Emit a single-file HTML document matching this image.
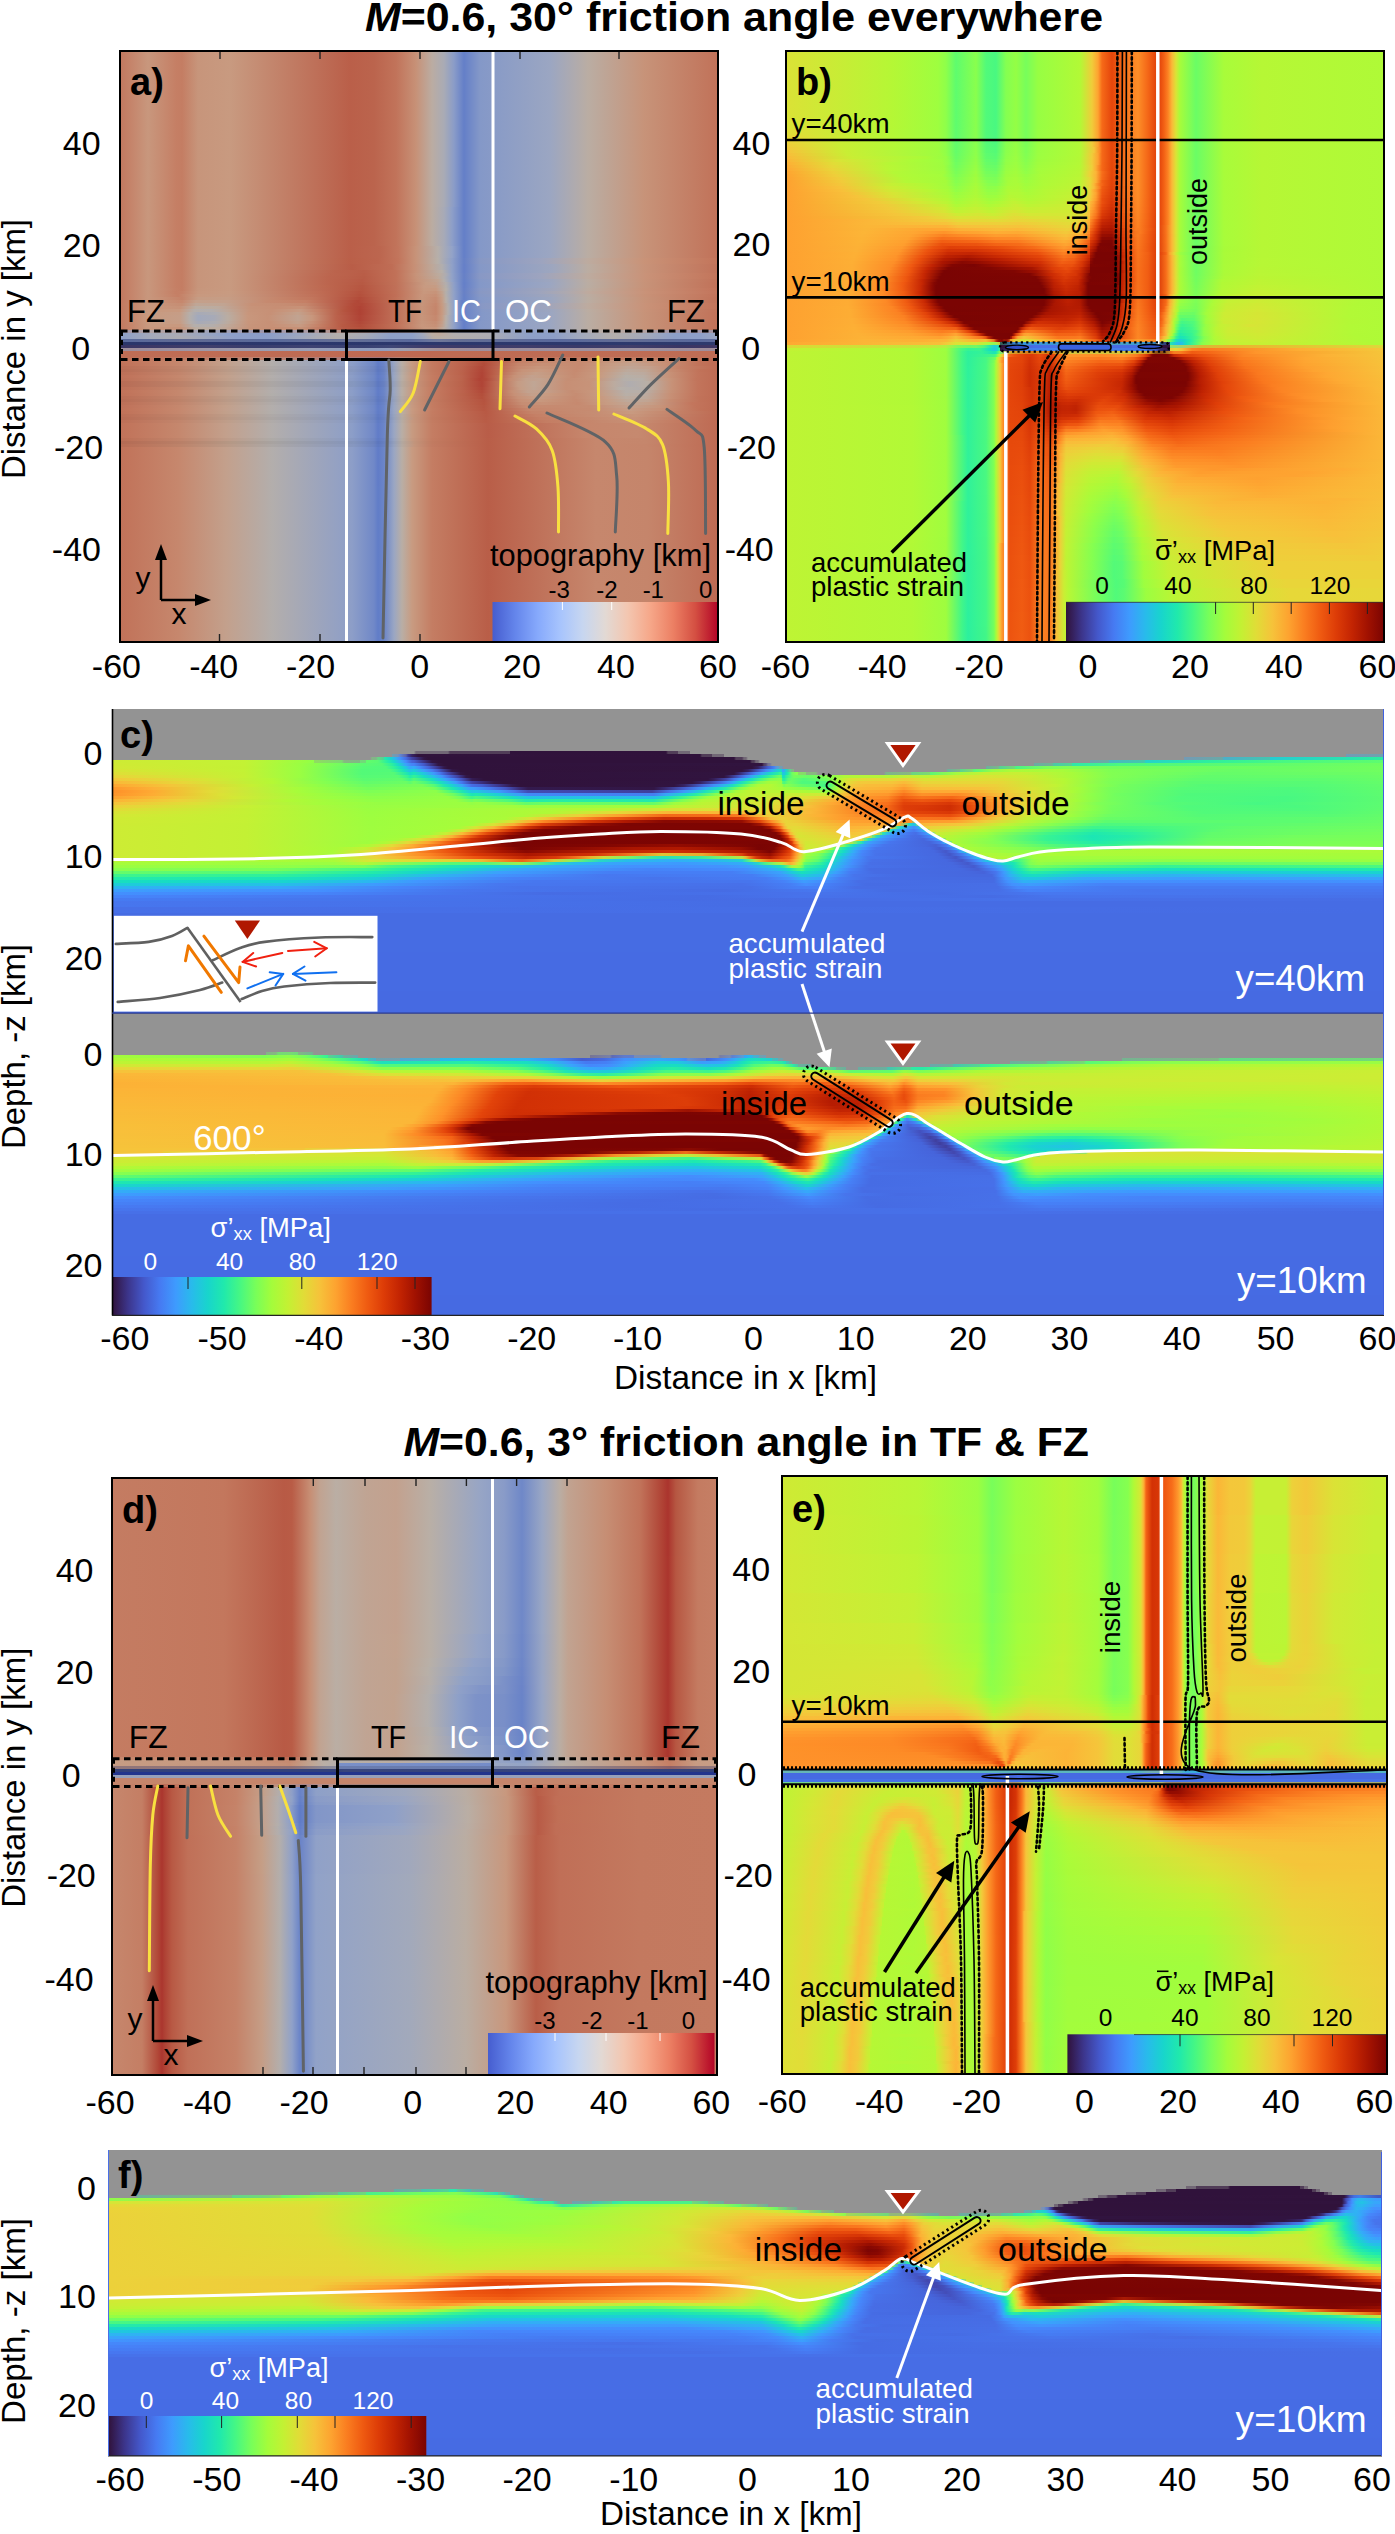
<!DOCTYPE html>
<html><head><meta charset="utf-8"><style>
html,body{margin:0;padding:0;background:#fff;}
#w{position:relative;width:1395px;height:2534px;overflow:hidden;background:#fff;font-family:"Liberation Sans",sans-serif;}
#w i{position:absolute;display:block;}
</style></head><body><div id="w">
<i style="left:112px;top:709px;width:1272px;height:39px;background:#939393"></i><i style="left:112px;top:748px;width:1272px;height:3px;background:#939393"></i><i style="left:112px;top:751px;width:1272px;height:3px;background:linear-gradient(90deg,#939393 0,#939393 302px,#726876 304px,#726876 336px,#513d58 338px,#513d58 398px,#30123b 398px,#30123b 554px,#513d58 556px,#513d58 566px,#726876 566px,#726876 578px,#939393 578px,#939393 1272px)"></i><i style="left:112px;top:754px;width:1272px;height:3px;background:linear-gradient(90deg,#939393 0,#939393 280px,#6fa1b0 280px,#7991b6 286px,#6086d5 288px,#5d62a8 294px,#3f3d9b 296px,#372362 300px,#31133c 306px,#30123b 588px,#513d58 590px,#513d58 600px,#726876 600px,#726876 612px,#939393 612px,#939393 1234px,#749ab5 1234px,#6ea3ae 1272px)"></i><i style="left:112px;top:757px;width:1272px;height:3px;background:linear-gradient(90deg,#939393 0,#939393 258px,#84b685 260px,#7fb689 264px,#67d782 266px,#50d298 272px,#26eda5 272px,#19d8c9 278px,#31b0f4 284px,#4292fd 288px,#466ce3 294px,#4042a3 300px,#3e3b97 302px,#321645 312px,#30123b 316px,#30123b 622px,#513d58 624px,#513d58 630px,#726876 632px,#726876 634px,#939393 636px,#939393 1072px,#739bb5 1072px,#6aa9a7 1110px,#4bb0c9 1112px,#44c5b0 1158px,#25cdd2 1158px,#2aeba5 1258px,#2deda0 1272px)"></i><i style="left:112px;top:760px;width:1272px;height:3px;background:linear-gradient(90deg,#ceeb34 0,#c3f234 132px,#99fe42 194px,#91ff47 202px,#91db61 202px,#7cda71 230px,#87b782 232px,#82b686 248px,#72d979 248px,#71d979 254px,#62fc6c 254px,#5afb72 266px,#26eda6 276px,#19d8c9 282px,#36a8f9 290px,#448bfb 294px,#4662d7 300px,#455fd3 302px,#3a2b75 314px,#321543 320px,#30123b 328px,#30123b 638px,#513d58 640px,#513d58 642px,#726876 644px,#726876 646px,#939393 648px,#939393 978px,#6fa1b0 978px,#6aaba3 996px,#48b7c2 998px,#45c8ab 1032px,#25d2cb 1034px,#2eee9e 1096px,#49f882 1172px,#5efc6f 1272px)"></i><i style="left:112px;top:763px;width:1272px;height:3px;background:linear-gradient(90deg,#d0ea34 0,#c3f234 132px,#99fe42 190px,#5bfb72 252px,#55fa76 270px,#2befa0 280px,#18dac7 286px,#3aa2fb 294px,#4683f7 300px,#4583f7 302px,#4458c9 312px,#321644 326px,#30123b 332px,#31143f 650px,#534060 652px,#564974 654px,#76738e 656px,#78789a 658px,#939393 660px,#939393 922px,#6aaba3 922px,#72b295 940px,#4ac9a8 942px,#56d294 960px,#2fe5ab 960px,#4af881 1008px,#66fd68 1198px,#6efe61 1272px)"></i><i style="left:112px;top:766px;width:1272px;height:3px;background:linear-gradient(90deg,#d2e935 0,#c3f134 132px,#9afe42 188px,#56fb76 250px,#51fa7a 274px,#30f19a 282px,#1ae2ba 288px,#22c5e1 294px,#39a4fb 298px,#34acf7 302px,#448bfb 308px,#4665db 316px,#3f3e9d 324px,#33194b 332px,#30123b 336px,#31133d 640px,#35205b 646px,#455ed0 656px,#4483f5 662px,#5d93da 664px,#56a0d7 666px,#719fb2 668px,#729db4 670px,#7893b7 670px,#939393 672px,#939393 874px,#6caf9d 874px,#7cb58b 886px,#56d195 888px,#72d879 902px,#4bf386 904px,#7afd5a 934px,#83fe52 956px,#74fe5d 1000px,#69fd65 1180px,#71fe5f 1272px)"></i><i style="left:112px;top:769px;width:1272px;height:3px;background:linear-gradient(90deg,#d7e535 0,#c3f234 132px,#9afe42 188px,#53fa78 250px,#52fa79 278px,#38f492 284px,#19e0be 292px,#24c2e5 298px,#1eccd9 302px,#3c9efc 312px,#467df3 320px,#455ed1 326px,#321644 340px,#30123b 348px,#31133c 630px,#351f59 636px,#4561d4 648px,#4486f6 654px,#33abf5 660px,#1bd9c7 668px,#1eced6 670px,#33acf6 670px,#37a6fa 672px,#1ad3d0 674px,#42c7ae 676px,#5bd58e 678px,#7eb589 680px,#8ab780 682px,#939393 682px,#939393 834px,#6db09b 836px,#81b688 848px,#5cd38f 848px,#7eda70 860px,#5af677 862px,#93fc48 880px,#acfa39 898px,#a9fb3a 950px,#80ff53 998px,#68fd67 1122px,#70fe60 1272px)"></i><i style="left:112px;top:772px;width:1272px;height:3px;background:linear-gradient(90deg,#dedf37 0,#c4f134 132px,#9afe42 188px,#53fa78 250px,#56fa76 282px,#1ce5b5 296px,#19dac6 298px,#1be4b7 302px,#22c6e0 312px,#3f99fd 322px,#4678ef 328px,#4248af 336px,#321645 348px,#30123b 354px,#31143f 622px,#36215f 626px,#4560d3 638px,#4485f6 644px,#34aaf6 650px,#1bd9c7 658px,#2beea0 666px,#3af491 668px,#25eba7 670px,#1dcdd8 670px,#23c3e3 672px,#18dbc4 674px,#24eba8 676px,#6efe62 680px,#88ff4e 684px,#8cff4b 686px,#8bdb65 686px,#84db6b 694px,#8ab780 694px,#89b781 704px,#939393 706px,#939393 772px,#7db58b 774px,#8bb77f 798px,#6ad682 800px,#80da6e 818px,#5bf676 818px,#a4fa3f 844px,#c5f034 872px,#c8ef34 908px,#a8fb3a 960px,#82ff52 998px,#65fd69 1104px,#6bfd64 1256px,#6dfe62 1272px)"></i><i style="left:112px;top:775px;width:1272px;height:3px;background:linear-gradient(90deg,#e8d639 0,#c5f134 132px,#9afe42 188px,#56fb76 250px,#59fb73 286px,#32f298 296px,#23ebaa 298px,#33f297 302px,#19dec0 312px,#29bbeb 322px,#4194fd 330px,#466fe6 336px,#4040a0 346px,#321747 354px,#30123b 360px,#31143f 612px,#36215d 616px,#455fd1 628px,#4484f5 634px,#34aaf5 640px,#1bd9c6 648px,#30f09c 656px,#69fd66 666px,#70fe60 668px,#53fa79 670px,#1ce4b6 670px,#19dac6 672px,#2cef9f 674px,#67fd67 680px,#74fe5d 682px,#67fd67 696px,#85ff50 716px,#b0f838 732px,#b7f439 754px,#b4f53a 778px,#c5ef36 796px,#bcf436 814px,#dae336 870px,#ccec34 918px,#a5fc3b 964px,#81ff53 1000px,#62fc6c 1094px,#64fd6a 1230px,#6afd65 1272px)"></i><i style="left:112px;top:778px;width:1272px;height:3px;background:linear-gradient(90deg,#f3c83a 0,#d8e436 92px,#b4f836 160px,#83ff51 210px,#5bfb72 252px,#61fc6c 290px,#3ef58b 298px,#55fa77 302px,#1be2b9 320px,#20c9dd 326px,#3ba1fb 334px,#467cf2 342px,#4352bf 350px,#341c53 360px,#30123b 372px,#31133e 596px,#351e58 602px,#4145a8 614px,#4676eb 622px,#3c9cfa 628px,#22c6de 634px,#1ee2b9 640px,#46f785 648px,#83fe52 658px,#92fe47 668px,#91ff47 668px,#7dfe56 670px,#38f392 670px,#23eba9 672px,#5afb72 676px,#69fd66 680px,#51fa7a 692px,#6efd62 714px,#b8f735 728px,#dce136 738px,#e5d938 758px,#e6d838 780px,#edd03a 794px,#dbe236 812px,#e1dd37 888px,#b5f835 952px,#7fff54 998px,#5ffc6e 1084px,#5dfc70 1208px,#67fd67 1272px)"></i><i style="left:112px;top:781px;width:1272px;height:3px;background:linear-gradient(90deg,#fab838 0,#e7d739 72px,#b5f835 160px,#82ff52 216px,#62fc6c 254px,#6bfd64 294px,#5dfc70 298px,#70fe60 302px,#4cf87f 314px,#1ae1bc 328px,#24c2e4 336px,#3e9afd 344px,#4675ec 350px,#4042a4 360px,#3a2e7b 370px,#321746 382px,#30123b 392px,#31143f 580px,#36215f 588px,#4560d3 606px,#428df9 616px,#2eb3f0 622px,#1cd9c7 628px,#2dee9f 634px,#82fe53 646px,#a4fc3c 656px,#a4fc3c 664px,#94fe46 670px,#63fc6a 670px,#47f784 672px,#6cfd63 676px,#6ffe61 678px,#4ff97c 690px,#4ff97c 714px,#72fe5e 720px,#aafb39 726px,#dee037 734px,#f2ca3a 746px,#f4c63a 780px,#f9bb39 792px,#e8d639 812px,#e6d838 890px,#b6f735 952px,#7dff56 998px,#5bfb71 1078px,#57fb74 1196px,#64fd6a 1272px)"></i><i style="left:112px;top:784px;width:1272px;height:3px;background:linear-gradient(90deg,#fea732 0,#f5c43a 56px,#c5f034 140px,#96fe44 200px,#6bfd64 254px,#77fe5a 300px,#7afe58 310px,#57fb75 322px,#20e8af 332px,#1bd2d1 340px,#38a4fa 350px,#467ff4 356px,#466de4 360px,#455ed1 370px,#3c3284 388px,#331848 400px,#30123b 408px,#311440 562px,#372361 572px,#466adf 592px,#418ef9 602px,#2cb6ed 612px,#1cdcc2 620px,#31f09a 626px,#89fe4e 638px,#aefa38 646px,#b5f835 658px,#9efd3f 670px,#76fe5b 672px,#87ff4f 674px,#63fc6b 690px,#56fb75 704px,#41f689 714px,#51fa7a 718px,#a5fc3b 726px,#d8e436 732px,#f2c93a 740px,#f9bd39 754px,#f9bb39 780px,#fdab34 792px,#f1ca3a 810px,#eecf3a 882px,#c1f334 944px,#91ff47 980px,#73fe5d 1010px,#54fa77 1092px,#56fb76 1210px,#62fc6c 1272px)"></i><i style="left:112px;top:787px;width:1272px;height:3px;background:linear-gradient(90deg,#fe972c 0,#fcb136 42px,#dae336 112px,#a4fd3c 188px,#74fe5d 256px,#85ff50 316px,#70fe60 324px,#20e8ae 340px,#1dcfd5 348px,#3ba0fb 358px,#3d9cfc 362px,#467af0 378px,#4455c3 394px,#392970 408px,#331a4e 416px,#321645 542px,#392b74 554px,#4562d5 574px,#428bf8 586px,#30b0f1 594px,#1cdbc4 606px,#2aeda3 614px,#87fe4f 628px,#b1f937 638px,#bdf434 650px,#a7fc3a 670px,#9efd3f 672px,#97fe44 678px,#88ff4e 694px,#7dfe56 704px,#5cfb71 714px,#69fd66 718px,#b2f836 726px,#e6d838 734px,#faba38 742px,#fbb537 764px,#fdaf35 780px,#fe9a2d 792px,#f9bd39 810px,#f7c23a 870px,#d7e535 922px,#a5fc3b 966px,#79fe59 998px,#56fb76 1070px,#4ff97c 1180px,#60fc6d 1272px)"></i><i style="left:112px;top:790px;width:1272px;height:3px;background:linear-gradient(90deg,#fe9029 0,#fea933 40px,#e3db38 98px,#a8fc3a 184px,#7dff56 256px,#8dff4a 324px,#5bfb71 336px,#1fe7b1 350px,#1ecdd8 358px,#23c4e2 360px,#22c6e0 364px,#3e99fb 388px,#4675eb 402px,#424cb4 416px,#3f3f9c 540px,#4671e7 558px,#3e98fa 572px,#2ab9eb 582px,#1cdebf 592px,#38f293 602px,#78fe5a 616px,#a7fb3b 624px,#bef434 636px,#b9f635 668px,#acfa39 692px,#a6fb3c 706px,#98fd44 716px,#b4f737 722px,#efce3a 732px,#fdae35 744px,#fea531 778px,#fc8725 792px,#fdab33 810px,#fdab34 856px,#ebd339 904px,#acfb38 960px,#78fe5a 998px,#53fa78 1068px,#4cf97f 1176px,#5efc6f 1272px)"></i><i style="left:112px;top:793px;width:1272px;height:3px;background:linear-gradient(90deg,#fe942a 0,#fdad34 42px,#dce136 108px,#a5fc3b 194px,#85ff50 258px,#92fe47 330px,#6dfd63 342px,#21e9ae 358px,#1ce4b6 360px,#20e7b0 364px,#1ecdd7 386px,#3d9afb 408px,#4388f7 416px,#457ef1 542px,#38a4f8 554px,#1cd9c7 574px,#29eca4 584px,#86fe50 604px,#b4f836 620px,#c2f234 642px,#cfea35 718px,#f7c039 732px,#fea230 744px,#fe982c 776px,#f8721c 792px,#fd9229 810px,#fd8b27 846px,#f6c33a 894px,#c1f234 946px,#90ff48 978px,#71fe5f 1004px,#4ff97b 1076px,#4bf980 1184px,#5dfc70 1272px)"></i><i style="left:112px;top:796px;width:1272px;height:3px;background:linear-gradient(90deg,#fea130 0,#f9bd39 50px,#d3e835 122px,#9dfe40 214px,#8cff4b 262px,#97fe44 336px,#76fe5c 348px,#3ff58b 360px,#4cf87f 364px,#1bdebf 400px,#24c3e2 416px,#29bce8 542px,#1ddfbd 556px,#3af391 570px,#6bfd65 582px,#a1fd3e 596px,#bcf534 614px,#dfdf37 694px,#f3c73a 722px,#fe9a2d 742px,#fd8825 776px,#f15e13 790px,#f8741c 810px,#f56817 840px,#fc8725 864px,#f6c33a 898px,#c5f034 942px,#96fe44 974px,#75fe5c 1000px,#50fa7b 1068px,#48f882 1174px,#5cfb71 1272px)"></i><i style="left:112px;top:799px;width:1272px;height:3px;background:linear-gradient(90deg,#fcb336 0,#edd13a 66px,#b1f936 176px,#91ff47 262px,#9afe42 344px,#78fe5a 358px,#72fe5f 360px,#7efe55 362px,#4ff97d 396px,#26eba8 414px,#2aeda3 444px,#24e9ab 542px,#7ffe55 570px,#b2f936 590px,#e2dc38 684px,#fdab34 726px,#fd8d27 748px,#fa7c20 776px,#e84c0d 792px,#ee5811 810px,#e74a0c 838px,#f36315 858px,#fdb035 890px,#d9e336 924px,#a4fc3b 964px,#76fe5c 998px,#51fa7a 1066px,#48f882 1172px,#5cfb71 1272px)"></i><i style="left:112px;top:802px;width:1272px;height:3px;background:linear-gradient(90deg,#f6c33a 0,#dedf37 82px,#a6fc3b 204px,#96fe44 268px,#9cfe40 354px,#94fe46 360px,#9afe42 366px,#81fe53 400px,#64fc6a 414px,#6dfd63 434px,#67fc68 542px,#9efd40 562px,#bbf534 590px,#e4da38 676px,#fea933 720px,#fc8524 750px,#f8701b 776px,#e14109 792px,#e2430a 812px,#d83707 838px,#eb500e 858px,#fea230 886px,#ebd339 910px,#b8f635 950px,#80ff54 986px,#58fb74 1046px,#47f883 1146px,#5cfc71 1272px)"></i><i style="left:112px;top:805px;width:1272px;height:3px;background:linear-gradient(90deg,#ecd239 0,#c7f034 134px,#99fe43 254px,#a0fd3e 402px,#99fe42 416px,#a4fc3d 542px,#bbf535 566px,#d8e436 646px,#f7c13a 696px,#fc8223 748px,#f66d19 774px,#dd3c08 792px,#d93807 814px,#ce2e04 838px,#e6480b 858px,#fe9a2d 884px,#efce3a 906px,#c2f234 940px,#93fe46 974px,#73fe5e 1000px,#50fa7b 1074px,#4bf97f 1184px,#5dfc70 1272px)"></i><i style="left:112px;top:808px;width:1272px;height:3px;background:linear-gradient(90deg,#e1dc37 0,#c3f134 138px,#9bfe41 258px,#b3f836 484px,#d9e236 560px,#e0de37 650px,#fbb537 704px,#fc8223 748px,#f66d19 774px,#de3d08 792px,#d73506 816px,#cf2e04 838px,#e84c0c 860px,#fe9e2f 884px,#ecd239 906px,#bff334 940px,#8fff49 976px,#72fe5e 1000px,#51fa7a 1078px,#4ef97d 1192px,#5efc6f 1272px)"></i><i style="left:112px;top:811px;width:1272px;height:3px;background:linear-gradient(90deg,#d9e336 0,#c4f134 136px,#9cfe40 258px,#aff937 440px,#e3da38 504px,#f9b536 556px,#f9b836 604px,#f6c038 630px,#e5d938 648px,#faba39 698px,#fc8524 748px,#f8711b 776px,#e4450a 792px,#df3f09 814px,#d93807 838px,#ee5610 858px,#fea632 884px,#e7d739 906px,#b9f635 942px,#87ff4e 978px,#6efe61 1004px,#51fa7a 1092px,#54fa77 1214px,#60fc6d 1272px)"></i><i style="left:112px;top:814px;width:1272px;height:3px;background:linear-gradient(90deg,#d4e835 0,#c3f134 136px,#9dfe40 258px,#acfa38 412px,#eccf39 468px,#fc9f2e 508px,#f36918 552px,#f46b19 596px,#f97b20 630px,#f9b937 646px,#ead339 660px,#fdb035 708px,#fd8b27 750px,#fa7c20 776px,#ee5610 792px,#ed5410 814px,#e94d0d 838px,#f66d19 858px,#fbb637 884px,#d4e735 914px,#a0fd3e 958px,#6ffe61 996px,#55fa77 1086px,#58fb74 1216px,#63fc6b 1272px)"></i><i style="left:112px;top:817px;width:1272px;height:3px;background:linear-gradient(90deg,#d0ea34 0,#c4f134 134px,#9efe3f 258px,#abfb39 394px,#d8e336 418px,#f1c739 434px,#fb8a26 472px,#ee5c13 498px,#c72a04 552px,#cb2c04 600px,#d93a08 630px,#fa8122 648px,#f8bc38 658px,#ecd239 670px,#fe9f2f 728px,#fd8a26 778px,#f7701b 794px,#f9751d 812px,#f7711b 838px,#fe972b 860px,#eece3a 888px,#c0f334 920px,#92fe47 960px,#68fd66 994px,#56fb76 1102px,#62fc6c 1252px,#65fd69 1272px)"></i><i style="left:112px;top:820px;width:1272px;height:3px;background:linear-gradient(90deg,#cfeb34 0,#c4f134 134px,#9efd3f 258px,#a9fb3a 376px,#dae236 400px,#fbac33 420px,#fb8725 432px,#da3b08 474px,#b01a02 512px,#880902 552px,#8b0a02 604px,#940d02 630px,#e0430a 648px,#fd9129 660px,#f1ca3a 670px,#e9d539 674px,#fea331 734px,#fe9b2d 780px,#fd8f28 794px,#fe942a 800px,#b4ae54 800px,#b4af56 802px,#fe982c 804px,#fe9f2f 842px,#efcd3a 874px,#baf635 912px,#84ff51 960px,#5cfc70 994px,#5cfc70 1192px,#68fd66 1272px)"></i><i style="left:112px;top:823px;width:1272px;height:3px;background:linear-gradient(90deg,#ceeb34 0,#c3f134 134px,#9efd3f 258px,#a7fc3a 360px,#d9e236 382px,#fbae34 402px,#f36717 418px,#df410a 430px,#940d02 480px,#7c0503 514px,#7f0502 638px,#a11302 648px,#e3460b 658px,#fc8624 666px,#fcaf35 670px,#ead439 674px,#ead439 684px,#fdab33 740px,#fdac34 784px,#fda933 788px,#b9be54 790px,#b3bc5b 792px,#6bd183 794px,#66ce8b 796px,#23dac2 796px,#21cfd1 800px,#28c2e0 800px,#28c0e2 802px,#21d0d0 804px,#65cb96 804px,#65cf90 806px,#b0c263 806px,#b1c461 808px,#fab738 808px,#f3c83a 850px,#c4f134 892px,#89ff4d 938px,#4cf97f 990px,#6bfd64 1272px)"></i><i style="left:112px;top:826px;width:1272px;height:3px;background:linear-gradient(90deg,#cdec34 0,#c3f134 134px,#9ffd3f 258px,#a7fc3a 348px,#d4e635 364px,#f9b536 382px,#f6701b 398px,#d33406 414px,#a31301 432px,#7e0502 462px,#7e0502 650px,#a31402 658px,#e1430a 664px,#f56918 668px,#fcb135 672px,#e6d838 676px,#e4da38 684px,#fcb537 738px,#f8be39 780px,#bdcf53 780px,#b6cd59 782px,#74de79 784px,#6fdc7f 784px,#2de3b1 786px,#24d8c4 788px,#27c9d8 790px,#2bbce4 792px,#33adf5 794px,#448cfc 802px,#38a5f9 806px,#21ccd6 808px,#63cf9e 810px,#62d497 810px,#eece3a 812px,#d7e536 858px,#a3fc3c 900px,#3df58d 982px,#3ff68a 1020px,#60fc6d 1122px,#6efe61 1272px)"></i><i style="left:112px;top:829px;width:1272px;height:3px;background:linear-gradient(90deg,#cdec34 0,#c3f134 134px,#9ffd3f 258px,#a6fc3b 334px,#d5e636 352px,#fbb034 366px,#f46918 382px,#cc2d05 400px,#890902 420px,#7a0403 434px,#7b0403 658px,#9d1001 662px,#d83807 668px,#f97b20 672px,#fbb236 676px,#e3db38 680px,#e0de37 686px,#f9bd39 738px,#f3c73a 772px,#b9d654 774px,#b5d657 774px,#79e573 776px,#6ee17e 778px,#2fe3af 778px,#2bdfb7 780px,#29cfcf 780px,#29c5db 782px,#2db5f0 784px,#4294fe 792px,#467af2 802px,#4292fc 808px,#39a3fa 810px,#22c8db 814px,#5fd2a2 814px,#5dd79b 816px,#dde037 818px,#b7f735 868px,#89ff4d 902px,#4bf97f 946px,#29eea2 984px,#3ff68a 1040px,#63fc6b 1116px,#72fe5f 1272px)"></i><i style="left:112px;top:832px;width:1272px;height:3px;background:linear-gradient(90deg,#cdec34 0,#c3f134 134px,#9ffd3f 258px,#a4fc3c 318px,#c6ef35 334px,#f7bd38 350px,#f97b20 364px,#e3460b 376px,#a31301 398px,#7a0403 412px,#7d0503 664px,#a11201 668px,#d63606 672px,#f97a1f 676px,#fbb336 678px,#e6d838 682px,#dae336 686px,#f5c53a 740px,#f1cc3a 764px,#b8da53 766px,#b1d959 768px,#75e675 768px,#6fe47b 770px,#33e5aa 770px,#2bddb9 772px,#2acdd1 774px,#2ac8d7 774px,#2bb8ee 776px,#4097fe 782px,#4774ed 798px,#476ee6 804px,#4588fa 812px,#3aa1fa 816px,#24c4e0 818px,#5cd3a6 820px,#59d8a0 820px,#93e16a 822px,#92e467 822px,#cbed34 824px,#9efd3f 874px,#3ef58c 938px,#1fe9ae 982px,#2df09e 1022px,#61fc6c 1100px,#72fe5e 1238px,#75fe5c 1272px)"></i><i style="left:112px;top:835px;width:1272px;height:3px;background:linear-gradient(90deg,#cdec34 0,#c3f134 134px,#9ffd3f 258px,#a5fc3b 302px,#d5e636 324px,#fab436 340px,#f66f1a 354px,#d43306 368px,#850702 396px,#7a0403 406px,#7d0502 668px,#af1901 672px,#e1430a 676px,#f97a1f 678px,#f9ba38 682px,#e2dc38 684px,#d7e535 688px,#f0cc3a 742px,#eecf3a 756px,#b7dc52 758px,#b0db58 760px,#75e774 760px,#6be47f 762px,#2fe2b0 764px,#2cdfb7 764px,#2acfcf 766px,#2bc5db 768px,#2eb4f0 768px,#4293fe 776px,#476de5 800px,#466be3 808px,#4585f8 818px,#35a8f6 822px,#24c3e1 824px,#8be46d 826px,#89e76a 828px,#bdf434 828px,#93fe46 874px,#37f493 934px,#1ce6b4 980px,#25eca7 1016px,#62fc6b 1096px,#73fe5e 1184px,#78fe5a 1272px)"></i><i style="left:112px;top:838px;width:1272px;height:3px;background:linear-gradient(90deg,#cdec34 0,#c3f134 134px,#9ffd3f 258px,#a6fc3b 286px,#d9e336 308px,#fbb035 328px,#f46717 344px,#d23105 360px,#8a0902 392px,#7a0403 400px,#7f0502 670px,#c02303 676px,#e3450a 678px,#fc8a26 682px,#f5c339 684px,#dee037 688px,#d8e436 696px,#ebd339 746px,#ead439 750px,#b4df52 750px,#b1df55 752px,#79ea70 752px,#6ce67c 754px,#31e5ab 756px,#2ce1b3 756px,#28d2cb 758px,#29c7d9 760px,#2cb6ef 760px,#4196fe 768px,#4775ed 786px,#4666dd 812px,#467ff5 822px,#3aa0f9 826px,#29bce9 830px,#57d1ad 830px,#53d7a7 832px,#83e76e 832px,#81ea6b 834px,#b2f936 834px,#86ff50 880px,#37f393 934px,#1ce7b3 982px,#2bef9f 1022px,#66fd68 1094px,#77fe5b 1176px,#7afe58 1272px)"></i><i style="left:112px;top:841px;width:1272px;height:3px;background:linear-gradient(90deg,#cdec34 0,#c3f134 134px,#9ffd3e 256px,#aefa38 274px,#e4d938 296px,#fda632 316px,#f05b12 338px,#c92903 362px,#bb2002 370px,#ad1801 374px,#9f1101 380px,#920c01 384px,#7a0403 394px,#7d0503 668px,#b71d02 676px,#d93807 680px,#f8721c 682px,#fcb236 686px,#e7d739 688px,#d2e835 694px,#e5d938 736px,#bde547 738px,#b5e34e 740px,#86ef62 742px,#76eb70 744px,#3bee97 746px,#2be3b2 750px,#26d5c7 750px,#26d0cf 752px,#25c0e6 752px,#3d9dfd 758px,#4775ee 778px,#4667dd 812px,#4665db 818px,#4679f0 828px,#39a1f9 832px,#27bee7 836px,#53d3ac 836px,#4fd9a6 838px,#7eea6e 838px,#7ced6b 840px,#acfa38 840px,#7cff57 890px,#3df58c 938px,#22ebaa 986px,#40f689 1036px,#6ffe60 1100px,#7cff57 1210px,#7dff56 1272px)"></i><i style="left:112px;top:844px;width:1272px;height:3px;background:linear-gradient(90deg,#cdec34 0,#c3f134 134px,#a4fc3c 240px,#b1f937 258px,#e3db38 280px,#fdad34 300px,#f25f14 332px,#e14109 344px,#c72803 360px,#ab1701 372px,#7a0403 402px,#810602 490px,#940c01 560px,#7a0403 648px,#7d0502 664px,#a91601 672px,#bf2202 678px,#e74a0c 682px,#fe952b 686px,#f4c63a 688px,#cfeb34 694px,#dde037 724px,#c3ea3e 726px,#bce943 728px,#9af34f 730px,#8af25c 732px,#53f77b 734px,#3ff28f 736px,#2deaa4 738px,#25e0b7 740px,#1ad6cc 742px,#35aaf8 750px,#4588fb 760px,#4775ed 772px,#4667de 814px,#4660d4 824px,#467af1 834px,#3d9bfb 838px,#2bb9ec 840px,#55d0b0 842px,#51d6aa 842px,#7ee971 844px,#7cec6e 844px,#abfb38 846px,#7cfe57 900px,#3cf58e 966px,#33f296 994px,#74fe5d 1094px,#7fff54 1206px,#7fff54 1272px)"></i><i style="left:112px;top:847px;width:1272px;height:3px;background:linear-gradient(90deg,#cdec34 0,#c3f134 134px,#a9fb39 224px,#c4f134 252px,#f6c33a 280px,#fe9f2f 302px,#fd932a 304px,#fb8022 314px,#f8741c 316px,#e3440a 340px,#990e01 390px,#7a0403 410px,#8c0a02 460px,#ab1601 522px,#b01901 568px,#970e01 628px,#7a0403 646px,#7d0502 662px,#c22403 674px,#d83707 678px,#f8711b 684px,#fdae35 688px,#dfdf37 692px,#ccec34 694px,#d4e735 712px,#c5ee37 714px,#c2ee3a 716px,#aef63e 718px,#a2f646 720px,#7afd59 722px,#65fb6b 724px,#4ff87e 726px,#3af292 728px,#26eca7 730px,#19d7cb 736px,#31b0f5 744px,#448cfd 754px,#4775ed 764px,#4668e0 818px,#455bce 828px,#4677ee 838px,#3aa0fa 844px,#27bee7 846px,#53d3ad 848px,#4fd8a7 848px,#7ee970 850px,#7bee6b 852px,#acfb38 852px,#81ff53 914px,#5bfb72 960px,#73fa61 962px,#68f86b 984px,#8af953 986px,#8efa4e 1020px,#adfa38 1020px,#adfa38 1122px,#9dfc41 1122px,#9ffc41 1272px)"></i><i style="left:112px;top:850px;width:1272px;height:3px;background:linear-gradient(90deg,#cdec34 0,#c3f134 134px,#aafb39 220px,#dfdf37 258px,#f7bf39 278px,#fe952b 296px,#e84c0d 342px,#a81501 390px,#8a0902 414px,#ba1f02 490px,#cf3005 558px,#bc2002 608px,#ab1601 634px,#7c0403 658px,#8f0b02 662px,#d02f05 674px,#e2430a 678px,#fd8d27 684px,#f2c93a 688px,#c0f234 692px,#b7f736 696px,#9efc40 710px,#8ffe4a 712px,#7afe59 714px,#6bfc64 716px,#59fb73 718px,#22ebab 726px,#18d8ca 732px,#36a9f9 742px,#4588fb 750px,#4774ec 762px,#4668e0 822px,#4558ca 834px,#4774ec 844px,#3d9bfb 848px,#24c2e3 854px,#52d5ab 854px,#4ddea0 856px,#7deb6c 858px,#7cee6a 858px,#aefa37 860px,#8eff4a 926px,#96fd46 928px,#93fd48 934px,#a0fb40 936px,#9dfc42 948px,#aefa37 948px,#abfb39 1272px)"></i><i style="left:112px;top:853px;width:1272px;height:3px;background:linear-gradient(90deg,#cdec34 0,#c3f134 134px,#a9fb39 220px,#d9e336 250px,#e4da38 254px,#f6c23a 270px,#fc8222 318px,#db3a07 362px,#ab1601 416px,#d13105 480px,#ee6d1b 514px,#eaad2b 540px,#dfc432 550px,#ebaa2b 590px,#ec6b1a 612px,#db420b 630px,#c02303 636px,#970e01 658px,#cf2e05 670px,#e94d0d 678px,#fe9a2d 684px,#efcd3a 688px,#bdf434 692px,#a3fd3c 694px,#83ff51 706px,#52fa79 714px,#1ee8b0 724px,#1bd0d4 730px,#38a6fa 740px,#4684f9 750px,#4772ea 764px,#4668e0 826px,#4457c8 838px,#4678ef 850px,#3b9efb 856px,#1fcada 862px,#50daa4 862px,#4ede9f 864px,#80eb6b 864px,#7eef66 866px,#b2f936 868px,#9ffd3e 918px,#acfb38 928px,#a6fc3a 1232px,#a7fc3a 1272px)"></i><i style="left:112px;top:856px;width:1272px;height:3px;background:linear-gradient(90deg,#cdec34 0,#c3f134 134px,#affa37 200px,#b5f735 222px,#ebd339 264px,#fea02f 308px,#eb520f 366px,#c12403 414px,#da3c09 444px,#ee6e1b 462px,#eaaf2c 478px,#c8db3d 492px,#7af266 516px,#39e5a6 542px,#2fdfb4 552px,#40e89b 590px,#84f161 614px,#bee042 630px,#e5b92e 634px,#ef7a1f 638px,#d83d0a 644px,#c22503 650px,#b41b02 658px,#e2430a 670px,#f25f14 678px,#fea732 684px,#e8d639 688px,#b1f937 692px,#96fe44 694px,#73fe5d 706px,#38f491 716px,#1ae2ba 722px,#24c1e5 730px,#3e9dfe 740px,#4776ee 756px,#466ce4 810px,#4668df 830px,#4456c7 844px,#467df4 856px,#3aa1fa 862px,#1fcbda 868px,#51d9a4 870px,#4de19a 872px,#81ec68 872px,#80ef65 876px,#b5f735 876px,#b0f937 900px,#8ef94f 900px,#90fa4d 904px,#77fb5d 904px,#7efc58 908px,#71fe60 908px,#a1fd3d 922px,#a3fd3c 1272px)"></i><i style="left:112px;top:859px;width:1272px;height:3px;background:linear-gradient(90deg,#baf536 0,#baf536 14px,#b3f836 18px,#a7fc3a 202px,#aafb39 222px,#d9e436 258px,#e1d837 310px,#e0d536 336px,#edbb31 370px,#f37c20 396px,#ec6317 410px,#f19326 428px,#d8cd35 442px,#96ee56 458px,#4cec8d 474px,#28d7c4 488px,#27bee8 514px,#32aef6 560px,#28bcea 608px,#22d0d1 630px,#3ee79e 634px,#7bf266 640px,#c5dc3f 644px,#e6b52d 648px,#ef7a1f 656px,#ed6c1a 660px,#f66b19 674px,#fb7e21 678px,#f9bc39 684px,#d1e935 688px,#a3fd3d 692px,#83ff51 694px,#5efc6f 706px,#2aeea1 714px,#18ddc2 720px,#32aef6 732px,#448dfd 742px,#4770e8 760px,#4668e0 834px,#4557c9 850px,#467ff5 862px,#3c9dfc 868px,#26c0e6 874px,#1bd3d0 882px,#4fdd9e 882px,#4ee88f 888px,#82ef62 888px,#83f25e 892px,#54ef83 894px,#55f081 896px,#2cef9f 898px,#4cf97f 908px,#8fff49 920px,#9efd3f 928px,#8ffe49 1066px,#9bfe41 1272px)"></i><i style="left:112px;top:862px;width:1272px;height:3px;background:linear-gradient(90deg,#a7fc3a 0,#9bfe41 194px,#9cfe41 222px,#b4f737 252px,#66fb6a 320px,#59f875 338px,#55f57c 370px,#97f054 406px,#94ef57 410px,#4bec8e 430px,#28d6c5 444px,#28bde9 462px,#38a5fa 498px,#3f99fe 570px,#34abf7 630px,#25c2e3 640px,#26d7c4 646px,#54f083 654px,#9af052 664px,#bee740 670px,#e7c934 674px,#f8ae32 678px,#f5c339 682px,#cfeb35 686px,#aafb3a 690px,#6bfd65 692px,#5dfc6f 694px,#32f298 708px,#18dec0 716px,#2eb3f2 728px,#448ffe 740px,#476fe7 758px,#4668df 840px,#4559cb 856px,#467cf3 868px,#3e9bfd 876px,#28bcea 886px,#1ad7cb 892px,#1ce6b3 902px,#3df58d 908px,#7fff55 918px,#93fe46 926px,#64fc6a 1046px,#78fe5a 1272px)"></i><i style="left:112px;top:865px;width:1272px;height:3px;background:linear-gradient(90deg,#9bfe41 0,#8fff49 182px,#78fe5a 252px,#4cf87f 276px,#20e9ae 332px,#1bd2d1 384px,#25c1e4 414px,#37a7fa 446px,#4391fe 520px,#4392fe 610px,#3d9efd 636px,#23c4e3 658px,#1fdcc1 668px,#31e9a3 672px,#87f857 678px,#a4f644 680px,#acf73d 684px,#93fe46 688px,#59fb74 692px,#43f787 692px,#37f393 694px,#19e1bc 712px,#27bee9 722px,#4099fe 734px,#4771e9 754px,#4668e0 844px,#455bcf 862px,#4683f8 876px,#37a7fa 888px,#18dac6 900px,#24eca8 906px,#69fd66 918px,#73fe5d 926px,#4df97e 982px,#35f296 1048px,#4af881 1272px)"></i><i style="left:112px;top:868px;width:1272px;height:3px;background:linear-gradient(90deg,#8aff4d 0,#79fe59 160px,#42f688 254px,#22eaab 292px,#1ad4cf 348px,#3ba1fc 416px,#4683f8 538px,#448cfd 632px,#34acf7 660px,#20c8de 672px,#1cddc0 678px,#41f48b 686px,#40f58b 690px,#21eaad 694px,#19d7cb 710px,#37a7fa 726px,#4684f9 738px,#466ce4 758px,#4669e0 850px,#465fd4 866px,#4680f6 882px,#3ba1fd 890px,#1ccfd5 900px,#1de6b3 908px,#47f883 920px,#47f784 928px,#24eba9 980px,#1ae0bd 1052px,#21e9ad 1272px)"></i><i style="left:112px;top:871px;width:1272px;height:3px;background:linear-gradient(90deg,#65fc6a 0,#51f97a 160px,#23eba9 258px,#19d6cb 308px,#3ca0fd 388px,#467ef5 498px,#467ef5 620px,#3ba1fc 668px,#1fc9dc 680px,#19dfbe 690px,#20c8dd 710px,#3ba0fd 724px,#467cf4 738px,#466ce4 762px,#4668df 856px,#4663da 872px,#4775ed 884px,#3e9bfe 892px,#23c3e3 900px,#19e1bc 910px,#28eda4 920px,#19d8c9 968px,#1fc9dc 1056px,#1ad3d0 1272px)"></i><i style="left:112px;top:874px;width:1272px;height:3px;background:linear-gradient(90deg,#3ef58c 0,#2df09d 166px,#18dec1 260px,#2db5f1 326px,#4293fe 384px,#4778f0 492px,#467df4 640px,#3d9efd 674px,#1eccd9 690px,#2bb7ef 710px,#4294fe 722px,#4774ec 742px,#466ce4 784px,#4668df 862px,#4668df 880px,#448dfd 890px,#31b0f5 898px,#19d7cb 912px,#19ddc2 922px,#26bfe8 976px,#30b1f3 1062px,#28bceb 1272px)"></i><i style="left:112px;top:877px;width:1272px;height:3px;background:linear-gradient(90deg,#24eba9 0,#1be4b7 172px,#1cced6 256px,#39a3fb 316px,#4681f7 402px,#4774ec 542px,#467cf4 654px,#4098fe 680px,#2eb4f1 690px,#3aa3fc 710px,#467ef5 728px,#466ce4 760px,#466ae1 882px,#4196ff 894px,#23c3e3 910px,#20c7df 924px,#37a7fa 972px,#3e9cfe 1074px,#39a3fb 1272px)"></i><i style="left:112px;top:880px;width:1272px;height:3px;background:linear-gradient(90deg,#18dfbf 0,#19d5ce 170px,#2bb7ef 256px,#4197ff 304px,#4777ef 422px,#4775ed 638px,#4682f8 672px,#3e9cfe 692px,#458afc 714px,#476ee6 746px,#466be3 882px,#4293fe 896px,#2fb2f3 912px,#36a9f9 928px,#4392fe 992px,#448dfd 1102px,#4292fe 1272px)"></i><i style="left:112px;top:883px;width:1272px;height:3px;background:linear-gradient(90deg,#1dced7 0,#25c0e6 168px,#3e9bfe 262px,#4777ef 388px,#4770e9 630px,#467ef5 678px,#448ffe 694px,#467cf4 720px,#466ce4 754px,#476ee6 884px,#4391fe 900px,#3d9dfd 918px,#4682f8 992px,#4682f8 1272px)"></i><i style="left:112px;top:886px;width:1272px;height:3px;background:linear-gradient(90deg,#2cb6f0 0,#37a7fa 168px,#4685fa 290px,#4773eb 406px,#476fe7 638px,#467ff6 686px,#4680f7 708px,#476de5 744px,#476ee6 886px,#458afc 906px,#4589fb 926px,#467bf2 994px,#467bf3 1272px)"></i><i style="left:112px;top:889px;width:1272px;height:3px;background:linear-gradient(90deg,#3d9efd 0,#448ffe 210px,#4776ee 342px,#466ce4 612px,#4778f0 708px,#466ce3 780px,#476fe7 888px,#4682f8 916px,#4776ee 1032px,#4777f0 1272px)"></i><i style="left:112px;top:892px;width:1272px;height:3px;background:linear-gradient(90deg,#4390fe 0,#4684f9 204px,#466ce4 432px,#4771ea 674px,#4773eb 714px,#466ce4 828px,#4771e9 890px,#4778f0 930px,#4774ec 1272px)"></i><i style="left:112px;top:895px;width:1272px;height:3px;background:linear-gradient(90deg,#4685fa 0,#4773ec 302px,#466ce4 594px,#4772eb 684px,#466ce4 880px,#4774ec 940px,#4771e9 1272px)"></i><i style="left:112px;top:898px;width:1272px;height:3px;background:linear-gradient(90deg,#467bf2 0,#466ce4 568px,#476de5 724px,#4771e9 902px,#476de5 1272px)"></i><i style="left:112px;top:901px;width:1272px;height:6px;background:linear-gradient(90deg,#4776ee 0,#466ce4 680px,#466ce4 1272px)"></i><i style="left:112px;top:907px;width:1272px;height:6px;background:linear-gradient(90deg,#4770e8 0,#466ce4 1272px)"></i><i style="left:112px;top:913px;width:1272px;height:39px;background:#466ce3"></i><i style="left:112px;top:952px;width:1272px;height:39px;background:#466be3"></i><i style="left:112px;top:991px;width:1272px;height:22px;background:#466ae2"></i><i style="left:112px;top:1013px;width:1272px;height:39px;background:#939393"></i><i style="left:112px;top:1052px;width:1272px;height:3px;background:linear-gradient(90deg,#939393 0,#939393 154px,#83b686 154px,#87b782 164px,#75d976 166px,#78da74 178px,#6fd97b 186px,#84b685 186px,#74b393 200px,#939393 202px,#939393 1272px)"></i><i style="left:112px;top:1055px;width:1272px;height:3px;background:linear-gradient(90deg,#a5fc3b 0,#7ffe55 152px,#8ffe49 176px,#75fe5c 194px,#34f197 216px,#58d490 216px,#43c8ad 230px,#6caf9d 232px,#6da5ac 246px,#939393 246px,#939393 478px,#777593 478px,#7981a8 498px,#5e6ab4 500px,#607bcb 512px,#607dcd 522px,#798cb4 522px,#798db4 548px,#939393 550px,#939393 606px,#797ea3 608px,#798cb3 618px,#607fce 620px,#589cd9 630px,#54a2d6 632px,#38a3f8 632px,#2abaea 638px,#2db5ed 640px,#4ab0cb 642px,#50a8d2 646px,#6fa1b0 648px,#749bb5 654px,#939393 654px,#939393 1272px)"></i><i style="left:112px;top:1058px;width:1272px;height:3px;background:linear-gradient(90deg,#b0f937 0,#a1fd3e 156px,#a6fc3b 180px,#87ff4f 206px,#44f687 232px,#1edfbc 250px,#20cfd3 256px,#43c1b7 256px,#4dadcd 264px,#6da3ad 264px,#70a0b1 280px,#6fa2af 288px,#52a6d3 288px,#47b5c6 328px,#2bb9e9 328px,#25c3e1 360px,#30b1f1 416px,#4389f8 444px,#455cce 470px,#4669e0 492px,#438ffd 512px,#34aaf6 546px,#3d99fa 566px,#4388f6 574px,#5d92d9 576px,#607ccb 590px,#607dcd 594px,#4568dc 594px,#438dfb 614px,#31aff4 624px,#19dcc4 636px,#1adfbf 646px,#21cbd7 660px,#43bfb9 660px,#47b6c4 666px,#6ba8a8 666px,#6fa2af 670px,#939393 672px,#939393 1010px,#76b491 1010px,#81b687 1106px,#64d786 1108px,#73d978 1272px)"></i><i style="left:112px;top:1061px;width:1272px;height:3px;background:linear-gradient(90deg,#bdf434 0,#b5f736 156px,#c0f334 178px,#94fe46 220px,#59fb74 248px,#21e5b3 266px,#1edfbd 270px,#26eca6 356px,#19ddc2 414px,#27bee8 438px,#4195fe 458px,#4679f1 474px,#467ff5 494px,#3ba1fd 514px,#1eccd9 546px,#20c8de 566px,#3d9bfc 590px,#37a6fa 608px,#20c8dd 622px,#1ae3b8 632px,#2ef09d 642px,#38f393 658px,#28eaa7 670px,#1fdac4 674px,#43c6af 674px,#44bfba 676px,#6aaba3 678px,#6ba7aa 680px,#939393 680px,#939393 898px,#6baf9e 898px,#79b48e 934px,#55d394 936px,#75d977 972px,#56f977 974px,#7ffe55 1020px,#8bfe4d 1060px,#9bfd42 1272px)"></i><i style="left:112px;top:1064px;width:1272px;height:3px;background:linear-gradient(90deg,#d2e835 0,#cfea35 154px,#d9e336 178px,#a6fb3b 232px,#80fe54 254px,#50f97c 270px,#51f97a 356px,#2cef9f 410px,#19d9c8 436px,#39a4fb 460px,#4588fb 478px,#448ffd 498px,#2fb3f3 518px,#18dac6 544px,#18dec0 564px,#26c0e7 594px,#1fcadc 612px,#1ce4b6 626px,#51fa7a 642px,#70fd60 660px,#69fd66 670px,#35f097 680px,#27e6af 682px,#4bcea0 684px,#45c8ab 686px,#6caf9c 686px,#6aaca3 698px,#939393 700px,#939393 818px,#6ca6ab 818px,#6caf9d 840px,#44c5b1 842px,#59d490 868px,#31ee9d 868px,#63fb6c 908px,#9afd42 972px,#b0f937 1054px,#b7f735 1272px)"></i><i style="left:112px;top:1067px;width:1272px;height:3px;background:linear-gradient(90deg,#e7d739 0,#e8d639 158px,#ecd139 180px,#bef335 242px,#99fd43 262px,#8afe4d 270px,#87fe4f 352px,#59fb74 404px,#20e9ae 436px,#1bd2d2 452px,#34acf7 470px,#3ba1fc 490px,#26bfe8 512px,#19e0bd 534px,#28eda4 560px,#1adebf 596px,#21e8ae 614px,#43f687 628px,#7dfe56 642px,#a0fd3f 662px,#9ffd3f 672px,#7ffe56 682px,#59f975 688px,#4cf682 710px,#40f28e 714px,#66d784 716px,#52d099 724px,#77b490 724px,#6caf9d 734px,#939393 734px,#939393 746px,#6aada0 746px,#6caf9d 774px,#44c5b1 776px,#4fd09b 788px,#5dd58d 796px,#58d391 798px,#2eeba4 800px,#2aeaa7 810px,#64fc6a 848px,#94fe46 884px,#bbf534 992px,#c4f134 1272px)"></i><i style="left:112px;top:1070px;width:1272px;height:3px;background:linear-gradient(90deg,#f6c33a 0,#f7c13a 158px,#f6c23a 190px,#d4e735 250px,#b8f636 272px,#b0f937 348px,#88fe4e 404px,#55fa77 430px,#1ee5b4 454px,#20c9dc 478px,#1fcbda 498px,#1ee6b3 524px,#49f881 554px,#47f784 576px,#3cf48f 596px,#50f97c 614px,#a4fc3d 640px,#c9ee34 670px,#b3f738 692px,#aff83a 712px,#82fd54 730px,#63fa6d 738px,#65fb6a 780px,#9afc43 792px,#90fd49 798px,#7cfe57 806px,#aff937 868px,#c7ef34 1030px,#caee34 1272px)"></i><i style="left:112px;top:1073px;width:1272px;height:3px;background:linear-gradient(90deg,#fbb738 0,#f8c03a 218px,#e5d838 258px,#dbe236 276px,#d2e835 352px,#adf93a 416px,#83fd53 440px,#39f293 470px,#2eeda0 492px,#45f687 514px,#84fe52 548px,#8dfe4b 574px,#8bfd4d 598px,#b3f738 626px,#dfdd37 656px,#e7d638 680px,#e5d838 696px,#dfde37 720px,#bff236 742px,#adf939 780px,#d3e735 794px,#b4f737 808px,#c6f034 882px,#cced34 1272px)"></i><i style="left:112px;top:1076px;width:1272px;height:3px;background:linear-gradient(90deg,#fbb537 0,#f9bd39 230px,#f2ca3a 292px,#e2da38 420px,#b1f73b 462px,#95fc48 488px,#a6f93e 514px,#cfe936 556px,#dedd37 614px,#f9ba38 654px,#fab637 680px,#fbb336 716px,#e2db38 756px,#d5e635 780px,#f1ca3a 794px,#d6e635 808px,#d4e735 866px,#caee34 946px,#cced34 1272px)"></i><i style="left:112px;top:1079px;width:1272px;height:3px;background:linear-gradient(90deg,#fcb336 0,#fabb39 246px,#f6c33a 344px,#fda02f 412px,#f7b936 448px,#e7d338 490px,#f7bc37 542px,#fca330 614px,#fb8524 642px,#fd8f28 690px,#fc8524 712px,#f5c43a 762px,#efcd3a 782px,#fdac34 794px,#edd03a 806px,#e7d739 852px,#cced34 914px,#cbed34 1272px)"></i><i style="left:112px;top:1082px;width:1272px;height:3px;background:linear-gradient(90deg,#fcb136 0,#f9bc39 312px,#fbb537 342px,#f56b19 394px,#f16014 422px,#fc8c27 490px,#f26215 610px,#e6490c 638px,#f76f1b 682px,#f15d13 712px,#fa7a1f 736px,#fab938 778px,#fdaa33 786px,#fd8d28 792px,#fea02f 798px,#fab838 806px,#f6c23a 844px,#d1e935 894px,#c5f134 1096px,#c9ee34 1272px)"></i><i style="left:112px;top:1085px;width:1272px;height:3px;background:linear-gradient(90deg,#fcb236 0,#fcb437 330px,#fd8b26 358px,#e6490b 394px,#dc3b08 422px,#ed5510 508px,#dc3c08 612px,#cd2c04 640px,#ef5911 680px,#e3430a 712px,#ef5a12 738px,#fea130 778px,#fd9029 786px,#f8711b 792px,#fb8022 798px,#fea330 806px,#fdaa33 836px,#e9d539 870px,#ccec34 906px,#c2f234 1180px,#c6f034 1272px)"></i><i style="left:112px;top:1088px;width:1272px;height:3px;background:linear-gradient(90deg,#fcb437 0,#fcb136 328px,#fc8725 354px,#e3430a 390px,#d43205 420px,#e3430a 524px,#d63506 610px,#c12402 638px,#e7490c 678px,#d63506 716px,#e94d0d 746px,#fd8c27 778px,#fb8122 784px,#f15e13 792px,#f66c19 798px,#fd8f28 806px,#fe942a 834px,#f3c83a 864px,#d1e935 894px,#c4f134 966px,#c1f234 1224px,#c4f134 1272px)"></i><i style="left:112px;top:1091px;width:1272px;height:3px;background:linear-gradient(90deg,#fbb537 0,#fcb136 324px,#fc8725 352px,#e2430a 386px,#d13005 416px,#df3f08 546px,#d33205 610px,#bd2102 638px,#e14109 678px,#c92903 716px,#df3e08 748px,#fa7b1f 780px,#f56717 786px,#eb510e 792px,#f46416 798px,#fc8223 806px,#fc8725 832px,#f6c33a 862px,#d4e735 890px,#c3f134 936px,#bbf534 1178px,#c1f234 1272px)"></i><i style="left:112px;top:1094px;width:1272px;height:3px;background:linear-gradient(90deg,#fbb637 0,#fdb035 322px,#fc8625 350px,#e24209 384px,#d13005 414px,#de3d08 564px,#cf2e04 614px,#ba1f02 638px,#dc3b08 678px,#bf2202 716px,#d13005 746px,#f15e13 772px,#f66c19 782px,#e84b0c 792px,#f15e13 798px,#fa7c20 806px,#fc8323 832px,#f7c03a 862px,#d3e835 890px,#c1f334 932px,#b6f735 1160px,#bef434 1272px)"></i><i style="left:112px;top:1097px;width:1272px;height:3px;background:linear-gradient(90deg,#fbb738 0,#fcb136 320px,#fc8625 348px,#e2430a 382px,#d12f05 412px,#dd3d08 572px,#cd2c04 616px,#b91e02 638px,#da3907 678px,#b81d02 718px,#c52603 746px,#e94e0d 770px,#f46516 782px,#e84b0c 792px,#f25f14 798px,#fb7e21 806px,#fd8d27 834px,#f5c43a 862px,#d1e935 890px,#bef434 934px,#b1f937 1148px,#bbf534 1272px)"></i><i style="left:112px;top:1100px;width:1272px;height:3px;background:linear-gradient(90deg,#fbb838 0,#fcb236 318px,#fd8b26 344px,#e2430a 380px,#d13005 408px,#dd3d08 574px,#cc2c04 618px,#b91e02 638px,#da3907 678px,#b51c02 718px,#bd2002 746px,#e24209 768px,#f36215 782px,#eb510e 794px,#fd8825 806px,#fe9e2f 836px,#efce3a 864px,#caee34 894px,#b8f635 960px,#acfa38 1150px,#b9f635 1272px)"></i><i style="left:112px;top:1103px;width:1272px;height:3px;background:linear-gradient(90deg,#fab938 0,#fcb336 314px,#fd8f28 340px,#e2430a 378px,#d13005 406px,#dd3d08 576px,#cb2b04 620px,#bb1f02 638px,#dd3c08 678px,#b61c02 720px,#b91e02 746px,#de3d08 766px,#f46516 782px,#f05c13 794px,#fe972c 806px,#f9bd39 846px,#ceeb34 884px,#baf635 928px,#a7fc3a 1128px,#b6f735 1272px)"></i><i style="left:112px;top:1106px;width:1272px;height:3px;background:linear-gradient(90deg,#faba38 0,#fcb437 310px,#fe9129 336px,#e2430a 376px,#d13005 404px,#dd3c08 560px,#d13005 614px,#bd2102 638px,#e14109 678px,#ba1f02 724px,#bd2002 748px,#e14109 768px,#f66c19 782px,#f66c19 794px,#fea832 806px,#ecd139 852px,#c4f134 892px,#a8fc3a 1032px,#a8fc3a 1188px,#b4f836 1272px)"></i><i style="left:112px;top:1109px;width:1272px;height:3px;background:linear-gradient(90deg,#fabb39 0,#fcb537 308px,#fe932a 334px,#e3440a 372px,#d02f05 402px,#d63506 496px,#b61f03 548px,#9c1202 576px,#be2303 612px,#bc2002 640px,#e5470b 674px,#e03f09 690px,#c22403 728px,#c72703 750px,#e7490b 768px,#fa781e 784px,#fb7e21 794px,#fbb537 804px,#f0cb3a 830px,#c0f334 894px,#a0fd3e 1092px,#b2f936 1272px)"></i><i style="left:112px;top:1112px;width:1272px;height:3px;background:linear-gradient(90deg,#f9bb39 0,#fbb637 306px,#fe932a 332px,#e3440a 370px,#d02f05 400px,#ce2e04 450px,#aa1902 480px,#880902 506px,#7a0403 548px,#810602 632px,#930d02 646px,#9b1102 648px,#cb2b04 652px,#de3e08 660px,#ec530f 680px,#cf2e04 724px,#d02f05 750px,#ea500e 768px,#fc8725 784px,#fe9229 794px,#cdb63d 794px,#cdbd40 796px,#fea531 798px,#f4c63a 806px,#c9ee34 870px,#b2f936 938px,#9efe3f 1122px,#b1f937 1272px)"></i><i style="left:112px;top:1115px;width:1272px;height:3px;background:linear-gradient(90deg,#f9bc39 0,#fbb637 304px,#fe9129 330px,#e3440a 368px,#c62803 404px,#830702 456px,#7a0403 478px,#7a0403 650px,#940e02 654px,#cc2d05 658px,#e4460b 662px,#f26114 680px,#db3a07 728px,#de3e08 752px,#f36215 768px,#fe962b 784px,#fe9b2d 788px,#ccba40 790px,#c6ba45 790px,#8dd95f 792px,#49f387 792px,#3dee96 794px,#2ae0b4 794px,#2ae1b4 796px,#33e9a3 798px,#35ec9e 798px,#71dd7c 800px,#73df7a 800px,#b2d15d 802px,#b2d45b 802px,#f1ca3a 804px,#dce136 824px,#b4f836 916px,#9cfe40 1116px,#b0f937 1272px)"></i><i style="left:112px;top:1118px;width:1272px;height:3px;background:linear-gradient(90deg,#f9bd39 0,#fbb738 302px,#fd8f28 330px,#e5470b 360px,#af1a02 384px,#8e0b02 398px,#7a0403 422px,#7a0403 656px,#9a1002 660px,#d63707 664px,#ef5911 668px,#f76d1a 676px,#f66b19 688px,#e84b0c 726px,#e94d0d 750px,#f76e1a 766px,#fea631 784px,#d2c33e 784px,#c6c248 786px,#8cdd61 786px,#80db6c 788px,#3bf192 788px,#29e7aa 790px,#24dfb9 790px,#28bfdb 792px,#36a3ed 792px,#399bef 794px,#4683f8 794px,#4585f8 796px,#3b98f2 798px,#399cf1 798px,#2faeeb 800px,#2cb4e8 800px,#23c9da 802px,#1fdac4 804px,#5ed996 806px,#5edd91 806px,#a0db66 808px,#9fde63 808px,#e0de37 810px,#c2f234 862px,#9ffd3f 1040px,#a1fd3d 1184px,#affa37 1272px)"></i><i style="left:112px;top:1121px;width:1272px;height:3px;background:linear-gradient(90deg,#f8be39 0,#fbb738 300px,#fd9029 324px,#e94e0d 346px,#ba2002 362px,#860802 374px,#7a0403 386px,#7d0502 662px,#a01402 666px,#df420a 670px,#f76f1a 674px,#fb8122 678px,#fa791f 692px,#f15d13 736px,#f56a18 756px,#fdac34 780px,#90e05e 782px,#83df69 782px,#41f58a 784px,#25e8ac 786px,#27cbcf 786px,#27c2d8 788px,#448cfc 790px,#476fe7 796px,#467ef4 802px,#2cb6ed 808px,#20ccd7 810px,#5cd4a2 812px,#5ad99d 812px,#97df6a 814px,#96e267 814px,#d2e835 816px,#bbf534 868px,#9cfe40 1050px,#a5fc3b 1210px,#affa37 1272px)"></i><i style="left:112px;top:1124px;width:1272px;height:3px;background:linear-gradient(90deg,#f8bf39 0,#fbb838 290px,#fe9a2d 310px,#ec530f 334px,#c62703 348px,#820602 360px,#7a0403 372px,#7a0403 668px,#8b0a02 670px,#d43607 674px,#f16115 676px,#fb8022 680px,#fe932a 686px,#f9761e 732px,#fb8223 754px,#fdae35 774px,#cac847 776px,#c3c94d 776px,#4af782 778px,#2beda2 780px,#2bd4c4 782px,#27ccce 782px,#3f98fe 784px,#4778f0 790px,#4662d7 796px,#4673eb 808px,#3b9cf8 812px,#25c1e3 816px,#5cd0aa 818px,#59d6a3 818px,#90e26c 820px,#8feb5f 820px,#c7ef34 822px,#a2fd3d 944px,#9dfe40 1130px,#b0f937 1272px)"></i><i style="left:112px;top:1127px;width:1272px;height:3px;background:linear-gradient(90deg,#f8bf3a 0,#fab938 278px,#fea02f 300px,#ee5811 326px,#d13005 340px,#7a0403 356px,#7a0403 672px,#9f1302 676px,#d53707 678px,#f46a19 684px,#fe932a 690px,#fe9b2d 696px,#fd8c27 714px,#fe992d 754px,#fbb537 770px,#88e266 772px,#7de070 774px,#3cf48f 774px,#24e9ab 776px,#31b9e3 778px,#32b2e9 780px,#3f9afe 780px,#467bf2 788px,#455cd0 798px,#455dd0 806px,#4672e9 814px,#3e96f9 818px,#2bb8ec 822px,#5dccaf 822px,#58d3a8 824px,#8ce36e 824px,#88ed61 826px,#bef434 826px,#90ff48 970px,#b0f937 1272px)"></i><i style="left:112px;top:1130px;width:1272px;height:3px;background:linear-gradient(90deg,#f8c03a 0,#faba39 274px,#fe972c 300px,#e6490c 332px,#d02f05 342px,#810602 360px,#7a0403 374px,#7e0502 678px,#ab1802 682px,#e0430a 686px,#fb8423 694px,#fd8b26 696px,#fc8424 708px,#fea632 720px,#fcb035 754px,#f9bc39 766px,#bfcf51 766px,#bacf55 768px,#3bf391 770px,#24e9ab 772px,#28d3c7 772px,#26ccd0 774px,#3d9efd 776px,#467df4 784px,#4350be 808px,#4665db 818px,#4486f6 822px,#35a8f6 826px,#2eb3f0 826px,#5ccbb2 828px,#57d2ab 828px,#86e570 830px,#82ef62 830px,#b5f835 832px,#87ff4e 914px,#76fe5c 968px,#9efd3f 1118px,#b1f936 1272px)"></i><i style="left:112px;top:1133px;width:1272px;height:3px;background:linear-gradient(90deg,#f7c03a 0,#fabb39 272px,#fd8825 306px,#e74a0c 340px,#a81501 360px,#7e0502 370px,#7b0403 682px,#940d02 686px,#d93a07 692px,#ef5b12 696px,#f56818 704px,#fe9f2f 714px,#fbb737 718px,#f6c43a 760px,#b9d355 760px,#b5d359 762px,#76e276 762px,#6fe07d 764px,#2fef9c 764px,#1de1ba 768px,#2fb6e7 770px,#32afec 770px,#3e9bfe 772px,#4774ed 784px,#455fd3 802px,#4248b0 814px,#4452c0 820px,#466fe6 826px,#3d9bfa 830px,#30b1f1 832px,#5acbb3 832px,#54d2ad 834px,#80e772 834px,#7bf165 836px,#aafb39 836px,#7dfe56 892px,#52fa7a 942px,#55fa77 984px,#95fe45 1078px,#b3f836 1272px)"></i><i style="left:112px;top:1136px;width:1272px;height:3px;background:linear-gradient(90deg,#f7c13a 0,#f9bc39 272px,#f9761d 326px,#f36215 340px,#c22403 360px,#7b0403 380px,#7a0403 686px,#c52703 694px,#da3907 698px,#f26114 706px,#fdab33 714px,#f6c33a 718px,#f0cc3a 754px,#b4d857 754px,#b0d85a 756px,#71e47a 756px,#6ae182 758px,#29eca4 758px,#1cddc0 762px,#23ccd3 762px,#25c6d9 764px,#2fb4ea 764px,#32aeee 766px,#3d9cfd 766px,#4775ed 778px,#4663d9 804px,#4042a4 818px,#424cb5 824px,#466ee5 830px,#3d9afb 834px,#30b1f1 836px,#56ccb5 838px,#50d3ae 838px,#78e976 840px,#73f369 840px,#9efd3f 842px,#67fd67 886px,#32f298 926px,#29eea3 964px,#44f786 1006px,#89ff4d 1068px,#a4fc3c 1134px,#b4f836 1272px)"></i><i style="left:112px;top:1139px;width:1272px;height:3px;background:linear-gradient(90deg,#f7c23a 0,#f9bc39 272px,#f9771e 332px,#f56717 340px,#c62703 362px,#7a0403 384px,#7f0502 686px,#d43205 698px,#f8731c 706px,#fbb637 714px,#f0cd3a 718px,#ebd339 748px,#b2de55 748px,#addd59 750px,#70e779 750px,#69e481 752px,#29eca4 752px,#1bdcc2 756px,#22ccd4 756px,#3d9dfd 760px,#467cf3 770px,#4662d8 808px,#403f9f 824px,#424ab4 828px,#4670e7 836px,#4190fa 838px,#2fb3f0 842px,#50ceb7 842px,#4ad5b0 844px,#6deb7b 844px,#68f470 846px,#8dff4a 846px,#42f788 890px,#1ee7b1 920px,#18ddc2 958px,#23eba9 998px,#81ff53 1066px,#a1fd3d 1116px,#b6f735 1272px)"></i><i style="left:112px;top:1142px;width:1272px;height:3px;background:linear-gradient(90deg,#f6c23a 0,#f9bd39 272px,#fa781e 332px,#f56817 340px,#e04009 352px,#e1430a 354px,#bb2002 368px,#bc2102 370px,#7b0403 390px,#7b0403 684px,#cf2e04 696px,#f66c19 704px,#fcb136 712px,#e9d539 718px,#e5d938 742px,#b1e351 742px,#ade255 744px,#73ea73 744px,#6be87b 746px,#2eef9e 746px,#1bdfbd 750px,#2abbe7 752px,#3c9ffd 756px,#4776ee 768px,#4665db 810px,#4248af 822px,#3f3e9d 828px,#424cb5 834px,#4673ea 840px,#4093fb 844px,#2db5ef 846px,#49d0b9 848px,#43d7b3 848px,#61eb83 850px,#5dee81 850px,#7bfe58 852px,#22ebab 898px,#19d6cc 926px,#1dccd9 958px,#19e2bb 998px,#36f393 1026px,#80ff53 1070px,#a2fd3d 1116px,#b7f735 1272px)"></i><i style="left:112px;top:1145px;width:1272px;height:3px;background:linear-gradient(90deg,#f6c33a 0,#f9bd39 272px,#fe952b 306px,#fca12f 308px,#fc9329 322px,#fd9f2f 322px,#fc8f28 338px,#fe992d 338px,#e74b0c 358px,#ab1601 380px,#7b0403 392px,#7b0403 684px,#cf2e04 694px,#f66c19 704px,#fcb236 712px,#e3db38 718px,#e1dd37 734px,#b9e747 734px,#afe64f 738px,#7cef69 738px,#73ed71 740px,#3af490 740px,#1fe6b2 744px,#22c8dc 746px,#33adf7 750px,#458afc 756px,#4775ed 764px,#4665db 814px,#4247ae 828px,#4040a0 834px,#4453c2 840px,#4581f5 846px,#3aa2fa 850px,#2cb7ee 852px,#43d0bd 852px,#3ed7b7 854px,#56eb8b 854px,#53ee89 856px,#6cfd63 856px,#20e9ad 896px,#19d4cf 920px,#22c4e3 952px,#1ad3d0 986px,#20e9ae 1012px,#7cff57 1068px,#a1fd3e 1108px,#b5f835 1218px,#b9f635 1272px)"></i><i style="left:112px;top:1148px;width:1272px;height:3px;background:linear-gradient(90deg,#f6c43a 0,#f5c43a 192px,#edce39 194px,#ecce39 234px,#e3d837 236px,#e8d338 274px,#ead138 278px,#e3db38 278px,#fdad34 328px,#fe9d2e 340px,#e94e0d 360px,#af1801 380px,#7b0403 396px,#7f0502 550px,#8b0a02 578px,#7a0403 608px,#7a0403 682px,#c72703 692px,#f36215 702px,#fea833 710px,#e7d739 716px,#d3e537 718px,#c6ea3c 722px,#adf441 724px,#93f354 728px,#6dfd63 730px,#2beea1 738px,#1cd7c9 740px,#2ab9ee 744px,#4097fe 750px,#4778f0 758px,#4664da 818px,#4042a5 838px,#434fbc 842px,#4584f7 852px,#39a3f9 854px,#25c1e4 858px,#3ad7b9 858px,#36ddb3 860px,#66fd68 862px,#21eaad 898px,#19d4ce 926px,#1ecbda 960px,#19e2ba 998px,#38f492 1026px,#4ef97d 1038px,#7df165 1038px,#acf540 1086px,#bcf237 1134px,#adfa38 1134px,#baf635 1272px)"></i><i style="left:112px;top:1151px;width:1272px;height:3px;background:linear-gradient(90deg,#f5c43a 0,#f5c43a 50px,#ecce39 52px,#eccf39 98px,#e3d937 100px,#e2da37 148px,#d9e436 150px,#d8e436 272px,#fab938 324px,#fea531 340px,#ed540f 360px,#b31b01 382px,#800602 398px,#7b0403 474px,#bd2705 526px,#ef6f1b 574px,#c32c06 606px,#8b0a02 640px,#7a0403 654px,#7d0503 684px,#ca2a04 692px,#f15e13 700px,#fdab33 708px,#eccf38 712px,#d4e735 714px,#a2fd3d 718px,#7afe59 722px,#2def9f 730px,#18ddc2 736px,#30b1f4 744px,#448efd 750px,#4774ec 760px,#4664db 822px,#4247ae 842px,#4456c6 848px,#4487f9 856px,#38a4f9 860px,#24c2e3 862px,#3ad7b9 864px,#36ddb2 864px,#4fed8b 866px,#4df089 866px,#68fd66 868px,#25eca7 908px,#19dfbf 934px,#59de94 936px,#59dc98 950px,#9ade68 950px,#98e166 974px,#d9e436 976px,#d9e436 1226px,#ceea35 1226px,#cfea35 1272px)"></i><i style="left:112px;top:1154px;width:1272px;height:3px;background:linear-gradient(90deg,#d9e436 0,#d2e935 272px,#f8be39 324px,#fdad34 340px,#f26114 360px,#bf2202 382px,#860802 406px,#840702 432px,#b21f04 460px,#e85d15 486px,#f59227 504px,#e1d035 544px,#bded3d 576px,#edbd32 606px,#f37d20 632px,#e55713 648px,#d13909 650px,#a01402 652px,#810602 656px,#7a0403 660px,#7b0403 680px,#c22403 692px,#ed5510 698px,#fe9d2e 704px,#e9d439 710px,#aefa38 714px,#90fe49 716px,#6bfd64 718px,#26eda5 728px,#18dac7 734px,#2db5f1 740px,#4293ff 746px,#4773eb 760px,#4664db 828px,#434cb7 846px,#455ccf 852px,#448afb 862px,#31b0f3 866px,#1fcbda 868px,#58ee85 870px,#56f182 872px,#77fe5b 872px,#39f491 916px,#63f176 916px,#64ef79 920px,#9aea59 922px,#9ce75c 928px,#d9e436 928px,#d1e935 1154px,#d4e735 1272px)"></i><i style="left:112px;top:1157px;width:1272px;height:3px;background:linear-gradient(90deg,#d3e835 0,#caed34 272px,#f2ca3a 324px,#fab938 340px,#f8741c 360px,#de3f09 380px,#d13306 396px,#da450d 426px,#f58f26 452px,#e4cc34 472px,#a9f443 498px,#53f87a 554px,#40f58a 578px,#86fb53 616px,#cee339 648px,#e4cc34 650px,#f58d26 652px,#de4a0f 656px,#ad1c03 658px,#870802 662px,#7a0403 664px,#7c0503 680px,#cf2e04 692px,#ef5a12 698px,#fea632 704px,#eed03a 708px,#acfb38 714px,#7cfe57 716px,#59fb73 718px,#21eaac 726px,#1ad4cf 732px,#38a5fb 742px,#4683f8 750px,#476fe7 764px,#4666dc 832px,#4453c1 852px,#4661d7 858px,#438dfc 866px,#30b0f3 870px,#1ecdd7 874px,#40dcac 876px,#3de2a6 878px,#61ef7c 878px,#5ef378 882px,#85ff50 882px,#6dfd62 904px,#75fd5d 908px,#89fc4f 910px,#8efb4d 912px,#affa37 912px,#d2e935 926px,#cbed34 1170px,#ceec34 1272px)"></i><i style="left:112px;top:1160px;width:1272px;height:3px;background:linear-gradient(90deg,#ccec34 0,#baf635 272px,#e4da38 322px,#efcd3a 342px,#fba22f 368px,#f89d2c 390px,#e2d035 422px,#aef341 446px,#5af974 476px,#32f198 502px,#1ee8b0 582px,#39f392 634px,#4bf781 648px,#63fa6c 650px,#b4f13f 654px,#e5cb34 656px,#f58b25 660px,#dd490e 662px,#ab1b03 666px,#880902 668px,#7a0403 674px,#8c0902 680px,#cf2e04 690px,#ef5911 696px,#fea330 702px,#f0cd3a 706px,#aefa37 712px,#7dff56 716px,#46f884 718px,#1ce6b4 726px,#1ecbdb 732px,#3ba1fd 742px,#467df4 752px,#466ce4 766px,#4666dd 836px,#4559cb 856px,#466be3 864px,#4390fd 872px,#2abaec 880px,#1adac6 886px,#41e69b 886px,#42ed92 888px,#6cf66b 890px,#6ef966 894px,#50f67e 894px,#5efa70 900px,#56fa76 900px,#a3fd3c 914px,#caed34 924px,#c0f334 1132px,#c6f034 1272px)"></i><i style="left:112px;top:1163px;width:1272px;height:3px;background:linear-gradient(90deg,#c5f134 0,#a8fc3a 272px,#c6f034 312px,#c9ed36 346px,#c3ee38 374px,#9bf947 398px,#3bf490 444px,#1fe8af 484px,#19d7cb 582px,#21e9ad 648px,#3bf490 654px,#65fa6b 656px,#b5f03f 660px,#e6ca34 664px,#f48925 666px,#e04d0f 670px,#b92103 674px,#a21301 678px,#ce2d04 688px,#ef5811 696px,#fea330 702px,#efce3a 706px,#acfb38 712px,#7cfe57 714px,#41f689 718px,#24eca8 722px,#18d9c8 728px,#36a9f9 738px,#4587fb 746px,#476de5 760px,#4666dd 844px,#4660d4 862px,#4588fb 876px,#36a8f9 884px,#1bd2d1 890px,#1ce5b5 896px,#35f395 902px,#97fe43 914px,#bff334 922px,#c2f234 932px,#b0f937 1024px,#b3f836 1198px,#b7f735 1272px)"></i><i style="left:112px;top:1166px;width:1272px;height:3px;background:linear-gradient(90deg,#b4f836 0,#90fe49 274px,#9cfd41 306px,#6bfc65 362px,#2ef09c 404px,#19dec1 468px,#23c4e3 556px,#23c3e4 586px,#19d9c7 648px,#28eda4 658px,#47f685 662px,#8dfa50 666px,#d8db37 670px,#f3ac2f 672px,#ef6819 676px,#e34b0e 680px,#db3c08 686px,#e84b0c 692px,#f56918 696px,#fbb437 702px,#e2dc38 706px,#b4f836 710px,#88ff4e 712px,#31f199 718px,#1ae3b9 722px,#22c5e2 730px,#3d9dfe 740px,#4774ed 752px,#466ce4 772px,#4666dc 868px,#4391fe 884px,#2db5f1 890px,#18ddc2 898px,#2aefa1 902px,#8aff4d 914px,#b1f937 922px,#b0f937 934px,#9dfd40 1024px,#9dfd40 1146px,#a6fc3b 1272px)"></i><i style="left:112px;top:1169px;width:1272px;height:3px;background:linear-gradient(90deg,#a3fd3d 0,#7dfe56 192px,#66fd68 280px,#61fc6d 306px,#26eca6 370px,#19d8c9 434px,#2db5f0 520px,#32aef6 588px,#23c4e2 648px,#19e1bb 658px,#2df09e 666px,#48f784 668px,#9df847 674px,#dcd937 678px,#f6ae31 682px,#fa8423 690px,#fb8624 694px,#f6bf38 700px,#ccec35 704px,#9bfd42 708px,#33f297 716px,#1ce6b4 718px,#1cced6 726px,#38a6fb 736px,#4684f9 744px,#476de5 758px,#466ae1 874px,#467cf3 882px,#3d9efd 888px,#1dced7 896px,#1be5b6 902px,#49f881 908px,#87ff4f 916px,#a2fd3d 924px,#81fe53 1006px,#79fe59 1110px,#8ffe49 1272px)"></i><i style="left:112px;top:1172px;width:1272px;height:3px;background:linear-gradient(90deg,#89ff4d 0,#34f296 302px,#19e0be 364px,#2ab9ed 452px,#3c9ffd 552px,#3ba1fd 600px,#30b1f4 650px,#18dcc3 664px,#28eea3 672px,#47f685 676px,#87fc52 680px,#c4ed39 686px,#e8d137 694px,#e8d238 696px,#aff83a 702px,#71fd60 706px,#2df09e 712px,#18dec0 718px,#2fb3f3 730px,#448efe 740px,#4770e8 754px,#466ce4 878px,#4684f9 886px,#39a4fc 892px,#1dcdd8 898px,#1be5b5 904px,#6bfd64 916px,#8aff4d 924px,#7ffe55 934px,#6dfd63 954px,#58fb74 1006px,#50f97b 1112px,#68fd67 1272px)"></i><i style="left:112px;top:1175px;width:1272px;height:3px;background:linear-gradient(90deg,#61fc6c 0,#1ee7b1 290px,#1dcdd8 362px,#35aaf8 442px,#458cfd 576px,#3aa3fc 650px,#24c1e5 662px,#1ae2bb 672px,#38f393 682px,#97fb47 694px,#8bfd4e 696px,#35f296 706px,#1ae3b8 712px,#21c7df 720px,#3ba0fd 732px,#467ff6 742px,#466ce4 760px,#476fe7 880px,#4391fe 890px,#2eb5f1 896px,#18dbc4 902px,#2aefa1 908px,#54fa78 918px,#64fc6a 926px,#4af880 944px,#33f297 1006px,#2ef09c 1118px,#40f68a 1272px)"></i><i style="left:112px;top:1178px;width:1272px;height:3px;background:linear-gradient(90deg,#3af48f 0,#19e0bd 220px,#1dced7 314px,#36a9f9 396px,#4687fb 530px,#448dfd 642px,#4098fe 652px,#29baec 666px,#19dfbf 678px,#30f19a 692px,#3af490 696px,#1be5b6 704px,#1ecbda 714px,#3ba1fc 728px,#467ff5 740px,#466ce4 758px,#4770e8 882px,#4098ff 892px,#26bfe8 898px,#18dec1 906px,#38f492 920px,#3af490 928px,#28eea3 946px,#1ce5b6 1016px,#1be4b8 1134px,#23ebaa 1272px)"></i><i style="left:112px;top:1181px;width:1272px;height:3px;background:linear-gradient(90deg,#1fe8af 0,#1cd0d4 202px,#2db5f1 318px,#4391fe 424px,#467ff6 576px,#4589fc 652px,#34acf7 668px,#19d8ca 684px,#1de6b3 696px,#1dced7 708px,#3aa3fc 722px,#4680f6 738px,#466ce4 758px,#4770e8 882px,#4293ff 892px,#2abaed 900px,#18dbc6 908px,#21eaac 922px,#18ddc1 954px,#1bd2d1 1028px,#1bd1d2 1134px,#18dbc5 1272px)"></i><i style="left:112px;top:1184px;width:1272px;height:3px;background:linear-gradient(90deg,#19d8c9 0,#3ba0fd 330px,#4684f9 442px,#467df4 614px,#4686fa 656px,#36a8fa 674px,#19d5cd 696px,#3aa2fc 716px,#467ff6 734px,#466ce4 756px,#4770e9 882px,#3f9afe 894px,#1dcdd9 908px,#18dac6 922px,#1fcadb 950px,#29bbeb 1026px,#28bcea 1156px,#21c6e0 1272px)"></i><i style="left:112px;top:1187px;width:1272px;height:3px;background:linear-gradient(90deg,#24c2e4 0,#3d9efd 272px,#4680f6 432px,#4777ef 612px,#4681f7 656px,#4196fe 672px,#27bee9 694px,#33acf7 704px,#4589fc 724px,#476de5 750px,#476fe7 882px,#4196ff 896px,#26bee8 910px,#23c4e2 926px,#2eb3f2 950px,#38a5fb 1082px,#31b0f5 1272px)"></i><i style="left:112px;top:1190px;width:1272px;height:3px;background:linear-gradient(90deg,#33adf7 0,#4587fb 318px,#4770e9 594px,#467bf2 656px,#4294fe 678px,#36a9f9 696px,#4686fa 720px,#466ce4 752px,#476fe8 884px,#4196ff 898px,#32aff5 912px,#3f99fe 1020px,#3d9efd 1232px,#3ca0fd 1272px)"></i><i style="left:112px;top:1193px;width:1272px;height:3px;background:linear-gradient(90deg,#3d9dfe 0,#477af1 392px,#466de4 602px,#4776ee 656px,#3f9afe 696px,#4774ec 734px,#466be3 786px,#4770e8 884px,#4294fe 902px,#3c9ffd 926px,#448efd 974px,#448cfd 1200px,#4390fe 1272px)"></i><i style="left:112px;top:1196px;width:1272px;height:3px;background:linear-gradient(90deg,#448efd 0,#4775ed 390px,#466ce4 606px,#4772ea 658px,#458afc 698px,#466ce4 754px,#4770e8 886px,#4390fe 908px,#4683f9 1034px,#4686fa 1272px)"></i><i style="left:112px;top:1199px;width:1272px;height:3px;background:linear-gradient(90deg,#4685fa 0,#466ce4 540px,#4771e9 664px,#4682f8 700px,#466ce3 758px,#4770e8 886px,#4686fa 912px,#467ff6 1176px,#4681f7 1272px)"></i><i style="left:112px;top:1202px;width:1272px;height:3px;background:linear-gradient(90deg,#4680f6 0,#466ce4 518px,#4770e9 670px,#467df4 700px,#466be3 760px,#4770e9 888px,#4680f7 924px,#4779f1 1168px,#467bf3 1272px)"></i><i style="left:112px;top:1205px;width:1272px;height:3px;background:linear-gradient(90deg,#477af2 0,#466ce4 524px,#4770e9 676px,#4777ef 702px,#466be3 766px,#4771e9 892px,#477bf2 928px,#4774ed 1196px,#4776ee 1272px)"></i><i style="left:112px;top:1208px;width:1272px;height:3px;background:linear-gradient(90deg,#4775ed 0,#466ce4 610px,#4771e9 706px,#476ee6 888px,#4775ed 928px,#476fe7 1186px,#4771e9 1272px)"></i><i style="left:112px;top:1211px;width:1272px;height:3px;background:linear-gradient(90deg,#4770e8 0,#4770e8 894px,#466ce4 1272px)"></i><i style="left:112px;top:1214px;width:1272px;height:3px;background:#466ce4"></i><i style="left:112px;top:1217px;width:1272px;height:39px;background:#466ce3"></i><i style="left:112px;top:1256px;width:1272px;height:39px;background:#466be3"></i><i style="left:112px;top:1295px;width:1272px;height:20px;background:#466ae2"></i><i style="left:108px;top:2150px;width:1274px;height:36px;background:#939393"></i><i style="left:108px;top:2186px;width:1274px;height:3px;background:linear-gradient(90deg,#939393 0,#939393 1078px,#726876 1078px,#726876 1088px,#513d58 1088px,#513d58 1120px,#30123b 1122px,#30123b 1192px,#513d58 1192px,#513d58 1196px,#726876 1196px,#726876 1200px,#939393 1200px,#939393 1274px)"></i><i style="left:108px;top:2189px;width:1274px;height:3px;background:linear-gradient(90deg,#939393 0,#939393 286px,#6ba8a8 286px,#6eb19a 312px,#48c3b3 314px,#55d295 340px,#30e3af 342px,#31e6a9 346px,#2fe2b0 348px,#52d198 350px,#47beb9 362px,#6baf9e 364px,#6ea3ae 376px,#939393 376px,#939393 1048px,#726876 1048px,#726876 1058px,#513d58 1058px,#513d58 1068px,#30123b 1068px,#30123b 1204px,#513d58 1204px,#513d58 1208px,#726876 1208px,#726876 1212px,#939393 1212px,#939393 1274px)"></i><i style="left:108px;top:2192px;width:1274px;height:3px;background:linear-gradient(90deg,#939393 0,#939393 202px,#6caf9c 202px,#7db58a 230px,#55d096 230px,#6ed87d 258px,#46f08e 258px,#71fd60 310px,#84fe51 348px,#49f683 374px,#2cdfb5 390px,#4fcf9b 390px,#48c8ab 394px,#47beba 396px,#6aada0 398px,#6fa1b0 402px,#939393 402px,#939393 1018px,#726876 1018px,#726876 1028px,#513d58 1028px,#513d58 1038px,#30123b 1038px,#30123b 1216px,#513d58 1216px,#513d58 1220px,#726876 1220px,#726876 1224px,#939393 1224px,#939393 1274px)"></i><i style="left:108px;top:2195px;width:1274px;height:3px;background:linear-gradient(90deg,#939393 0,#939393 28px,#6fb199 30px,#87b782 124px,#62d489 124px,#76d877 158px,#88da69 172px,#63f770 174px,#98fb46 210px,#aafa3a 254px,#99fe42 358px,#75fe5c 392px,#45f588 400px,#2ce1b3 406px,#4dce9e 406px,#47beb9 410px,#6aada0 412px,#6fa1b0 416px,#939393 416px,#939393 990px,#726876 990px,#726876 998px,#513d58 1000px,#513d58 1008px,#30123b 1010px,#31133c 1236px,#36205c 1238px,#4252bb 1242px,#4470e1 1246px,#4180ea 1252px,#425ac2 1270px,#425ac1 1274px)"></i><i style="left:108px;top:2198px;width:1274px;height:3px;background:linear-gradient(90deg,#91fa4c 0,#b9f437 122px,#cdec34 220px,#9dfe40 370px,#8fff49 398px,#6afd66 408px,#32ec9f 418px,#2adcbb 420px,#4acca3 422px,#48babe 426px,#6aaca3 426px,#719fb2 434px,#939393 436px,#939393 974px,#726876 976px,#726876 980px,#513d58 980px,#513d58 984px,#30123b 986px,#30123b 1234px,#424ab3 1238px,#4772ea 1242px,#4293fe 1244px,#2cb7ef 1250px,#2bb8ee 1254px,#3d9dfd 1268px,#3d9dfd 1274px)"></i><i style="left:108px;top:2201px;width:1274px;height:3px;background:linear-gradient(90deg,#d7e536 0,#dae336 212px,#a4fc3c 330px,#93fe46 406px,#76fe5c 420px,#3ff38d 430px,#30e9a5 444px,#2adcbb 446px,#49cba6 446px,#47beba 448px,#6aaca2 450px,#6da4ad 452px,#939393 452px,#939393 464px,#70a0b1 464px,#6caf9d 484px,#47bfb8 484px,#57d392 504px,#33e5aa 504px,#41f18f 516px,#4af189 584px,#72d87a 584px,#56d096 600px,#7db58b 600px,#6caf9d 616px,#939393 616px,#939393 960px,#726876 960px,#726876 964px,#513d58 966px,#513d58 970px,#30123b 970px,#31133d 1234px,#4042a5 1238px,#466ce4 1240px,#4390fe 1244px,#29baed 1248px,#23c3e4 1254px,#37a7fa 1266px,#38a6fb 1274px)"></i><i style="left:108px;top:2204px;width:1274px;height:3px;background:linear-gradient(90deg,#e6d838 0,#dee037 208px,#a7fc3a 316px,#90ff48 422px,#7ffe55 440px,#7afe59 444px,#4cf781 450px,#30e9a6 454px,#78fe5b 492px,#9afd42 518px,#aff939 590px,#90fb4c 616px,#62f671 632px,#87da69 634px,#61d48a 648px,#86b683 650px,#6eb19a 660px,#939393 660px,#939393 946px,#726876 946px,#726876 950px,#513d58 950px,#513d58 954px,#30123b 956px,#30123b 1232px,#331849 1234px,#4147ad 1236px,#4661d6 1238px,#4682f8 1242px,#3d9efe 1244px,#28bbeb 1250px,#2ab9ed 1254px,#3e9dfe 1268px,#3d9dfe 1274px)"></i><i style="left:108px;top:2207px;width:1274px;height:3px;background:linear-gradient(90deg,#ebd339 0,#dfde37 204px,#a7fc3a 310px,#96fe44 386px,#91ff47 448px,#7ffe55 456px,#abfb39 506px,#d1e935 610px,#c0f136 646px,#aaf83e 656px,#71f865 668px,#6bf76a 670px,#8dda65 670px,#6ad682 678px,#8ab780 680px,#71b296 688px,#939393 690px,#939393 932px,#7991b6 934px,#7892b7 936px,#5f80cd 938px,#5f74c1 940px,#414aad 942px,#33194b 946px,#30123b 948px,#30123b 1228px,#341b50 1230px,#4350bb 1234px,#4675ec 1238px,#4293fe 1242px,#2db5f1 1248px,#31b0f5 1254px,#4392fe 1266px,#4392fe 1274px)"></i><i style="left:108px;top:2210px;width:1274px;height:3px;background:linear-gradient(90deg,#ecd239 0,#e0de37 202px,#aafb39 302px,#94fe46 372px,#9dfe40 464px,#cfea34 576px,#e5d938 638px,#d8e436 668px,#b2f53c 686px,#79f860 700px,#98d95f 702px,#74d779 712px,#90b77b 714px,#76b491 726px,#939393 726px,#939393 916px,#729eb3 916px,#6aaaa5 924px,#49b6c3 924px,#45c3b4 928px,#27cad4 928px,#21d4cb 934px,#23c7dc 938px,#3a9ef7 942px,#4383f3 944px,#4567da 946px,#3e3c95 948px,#372566 950px,#33194b 952px,#30123b 956px,#31143e 1220px,#351e58 1224px,#3c368a 1228px,#4564d7 1232px,#4582f5 1234px,#3c9ffc 1238px,#2fb3f3 1248px,#3f9bfe 1258px,#4685fa 1270px,#4687fb 1274px)"></i><i style="left:108px;top:2213px;width:1274px;height:3px;background:linear-gradient(90deg,#ecd13a 0,#e0de37 202px,#aefa37 292px,#93ff46 362px,#9efd3f 456px,#d4e735 578px,#f0cd3a 644px,#e5d738 696px,#c8ec37 720px,#9af64b 734px,#8bf754 738px,#a4d659 738px,#73d77b 778px,#73d77a 780px,#92b77a 782px,#95b778 800px,#6eb19a 820px,#6aada0 830px,#939393 832px,#939393 850px,#6aada1 852px,#75b492 892px,#4ecba3 894px,#57d293 904px,#32e3ac 906px,#40f48d 922px,#5afa73 928px,#4ff87d 934px,#39f392 938px,#1edebf 942px,#2cb6eb 946px,#3f90f5 948px,#456ddf 952px,#38286c 960px,#33194b 964px,#30123b 970px,#31133e 1208px,#36205c 1212px,#3c388c 1216px,#424fb5 1218px,#4480f0 1226px,#38a4f8 1232px,#25c1e6 1238px,#35aaf9 1252px,#4687fb 1262px,#467df4 1272px,#467ef5 1274px)"></i><i style="left:108px;top:2216px;width:1274px;height:3px;background:linear-gradient(90deg,#ecd13a 0,#e0de37 200px,#b1f937 288px,#92ff47 360px,#9bfe41 440px,#d0ea34 570px,#f4c63a 642px,#f8be39 716px,#d3e636 778px,#e5d538 796px,#caeb37 806px,#96fb48 820px,#7afb5b 842px,#9dfb43 882px,#8dfe4b 908px,#88ff4e 922px,#91fe48 934px,#86fe50 938px,#49f683 944px,#25e5b1 948px,#24c7db 952px,#38a0f4 956px,#437fed 960px,#4354be 966px,#362261 974px,#31143f 980px,#311440 1198px,#372463 1202px,#3d388d 1204px,#4463d4 1210px,#4284f1 1214px,#33abf1 1218px,#1bd7ca 1232px,#19d7cb 1238px,#38a5fb 1252px,#4683f9 1260px,#4776ee 1272px,#4778f0 1274px)"></i><i style="left:108px;top:2219px;width:1274px;height:3px;background:linear-gradient(90deg,#ecd13a 0,#e0de37 202px,#aefa37 292px,#92ff47 362px,#9dfe40 444px,#d1e935 570px,#f7c03a 640px,#fea230 722px,#f6c239 778px,#fda832 796px,#efcd3a 808px,#d1e935 822px,#c7ef34 848px,#d1e935 886px,#a3fd3c 922px,#b2f837 938px,#9dfc42 944px,#66fb6a 950px,#2feba2 956px,#22d1d0 962px,#36a3f3 968px,#437cec 974px,#4355c0 978px,#36215d 986px,#30123b 992px,#311440 1176px,#372566 1192px,#3a2d77 1194px,#445bc9 1198px,#4380ef 1202px,#36a4f4 1206px,#1fd4cc 1214px,#28eaa8 1218px,#2ff09c 1228px,#18e0be 1238px,#28bceb 1246px,#4196ff 1254px,#4774ed 1266px,#4774ed 1274px)"></i><i style="left:108px;top:2222px;width:1274px;height:3px;background:linear-gradient(90deg,#ecd13a 0,#e0de37 202px,#affa37 294px,#94fe46 364px,#9ffd3e 448px,#d2e935 570px,#f9bc39 638px,#fc8725 722px,#fe9a2d 756px,#fdab33 778px,#fd8c27 796px,#fea431 804px,#ebd239 816px,#dae336 836px,#e3db38 890px,#b7f735 922px,#d0e935 946px,#b3f639 954px,#84fc53 960px,#33ed9d 968px,#21d5ca 974px,#33a9f1 980px,#4380ee 984px,#4358c4 990px,#4045a6 992px,#392a70 1028px,#331a4d 1078px,#31133d 1144px,#36215d 1156px,#3e3f9a 1168px,#4569da 1184px,#4285f1 1194px,#33abf1 1198px,#1fd9c5 1204px,#33ef9a 1208px,#70fd61 1218px,#67fd67 1224px,#2befa0 1234px,#18ddc2 1240px,#33adf7 1250px,#458afc 1258px,#4773eb 1268px,#4774ed 1274px)"></i><i style="left:108px;top:2225px;width:1274px;height:3px;background:linear-gradient(90deg,#ecd13a 0,#e0de37 204px,#a8fc3a 308px,#95fe45 382px,#b1f936 494px,#dae336 580px,#fbb637 640px,#f76f1a 718px,#fa781f 750px,#fe952b 778px,#fa791f 796px,#fd9029 802px,#f5c53a 814px,#e3db38 828px,#e6d838 862px,#efce3a 892px,#ccec34 924px,#e8d539 952px,#cbeb36 962px,#9ffa43 970px,#62fa6e 976px,#2ae7aa 982px,#23cad8 986px,#36a4f3 992px,#4479ea 1040px,#414cb1 1142px,#4476e7 1156px,#399ef4 1170px,#20d2ce 1192px,#1fd6c9 1194px,#2eeca1 1198px,#77fd5b 1206px,#96fe45 1212px,#94fe45 1218px,#57fb75 1228px,#1ee8b0 1236px,#1ad2d2 1242px,#38a6fb 1252px,#4683f9 1260px,#4776ee 1272px,#4778f0 1274px)"></i><i style="left:108px;top:2228px;width:1274px;height:3px;background:linear-gradient(90deg,#ecd13a 0,#e0de37 206px,#a7fc3a 314px,#99fe42 392px,#bff334 530px,#e6d938 592px,#fdaa33 646px,#f05b12 714px,#f05c13 748px,#fb7e21 780px,#f56818 796px,#fc8223 802px,#f8bf3a 814px,#e8d639 826px,#e9d539 858px,#f7c039 892px,#e2db38 926px,#f5c43a 960px,#e4d838 970px,#b3f63a 978px,#7afc5a 984px,#38f096 990px,#25e2b5 1010px,#24c7db 1064px,#33abf0 1144px,#21dac3 1162px,#3bf192 1176px,#64fb6b 1192px,#65fb6a 1194px,#9bfd42 1200px,#b1f937 1206px,#9bfe41 1216px,#62fc6c 1226px,#20eaad 1236px,#19d5ce 1242px,#37a7fa 1252px,#4684f9 1262px,#467ef5 1274px)"></i><i style="left:108px;top:2231px;width:1274px;height:3px;background:linear-gradient(90deg,#ecd13a 0,#e0de37 208px,#a7fc3a 320px,#9ffd3f 406px,#caed34 552px,#f2c93a 608px,#fd8e28 662px,#e94d0d 710px,#e5470b 748px,#f46416 782px,#ef5911 796px,#f9761d 802px,#faba38 814px,#ead339 826px,#ebd339 856px,#fdaf35 894px,#f4c63a 930px,#faba38 964px,#eece39 978px,#c6ee36 986px,#a4fa3f 992px,#5ffa70 1052px,#32ee9d 1142px,#8bfd4d 1168px,#b3f738 1188px,#b6f636 1194px,#c0f334 1202px,#9afe42 1218px,#60fc6e 1228px,#20e9ad 1238px,#19d6cd 1244px,#35aaf9 1254px,#4588fb 1266px,#4587fb 1274px)"></i><i style="left:108px;top:2234px;width:1274px;height:3px;background:linear-gradient(90deg,#ecd13a 0,#e0dd37 210px,#a7fc3a 334px,#a6fc3a 430px,#d1e935 562px,#fabb39 622px,#f9751d 672px,#e14209 710px,#d63506 752px,#e94d0d 784px,#e84b0c 796px,#f66a18 802px,#fdb035 812px,#efce3a 824px,#e9d439 848px,#fcb336 876px,#fe992c 898px,#fdae35 936px,#fcb437 968px,#f0cc3a 986px,#e2db38 994px,#b9f536 1050px,#9bfc43 1144px,#c6ef34 1168px,#ccec34 1192px,#affa37 1212px,#86ff50 1222px,#26eda6 1238px,#18dbc4 1244px,#33adf7 1256px,#4392fe 1268px,#4293fe 1274px)"></i><i style="left:108px;top:2237px;width:1274px;height:3px;background:linear-gradient(90deg,#ecd13a 0,#e1dd37 214px,#aafb39 340px,#adfa38 442px,#d4e735 564px,#fbb838 622px,#f8711b 670px,#dd3c08 706px,#c32503 756px,#db3b07 786px,#e24209 796px,#f56717 804px,#fdb035 814px,#f0cd3a 824px,#ebd239 848px,#fcb136 874px,#fc8223 898px,#fd8a26 918px,#fbb537 974px,#dfdf37 1028px,#ccec34 1142px,#d1e935 1182px,#bcf534 1206px,#95fe45 1220px,#54fa78 1232px,#20e9ad 1240px,#19d5ce 1248px,#31b0f5 1258px,#3c9ffd 1270px,#3ba1fd 1274px)"></i><i style="left:108px;top:2240px;width:1274px;height:3px;background:linear-gradient(90deg,#ecd13a 0,#e1dd37 216px,#aefa37 342px,#b3f836 452px,#d6e635 564px,#fbb738 622px,#f7701b 670px,#da3907 706px,#ad1701 760px,#ce2d04 788px,#e04009 798px,#f76f1a 806px,#fdac34 814px,#f2ca3a 824px,#ebd339 846px,#fbb738 868px,#f76f1b 898px,#f66d19 916px,#fbb738 978px,#dfde37 1028px,#d4e735 1120px,#ccec34 1194px,#affa37 1214px,#83ff52 1226px,#24eca7 1242px,#18d8ca 1250px,#2db5f1 1262px,#31b0f4 1274px)"></i><i style="left:108px;top:2243px;width:1274px;height:3px;background:linear-gradient(90deg,#ecd13a 0,#e1dd37 220px,#b2f936 346px,#baf635 466px,#d8e436 568px,#fcb136 628px,#f56918 674px,#d63506 710px,#ac1701 744px,#960d01 762px,#d02f05 796px,#ef5811 804px,#fea330 812px,#f6c33a 820px,#ebd339 838px,#f7c23a 862px,#fd8e28 882px,#f25f14 900px,#f05c12 918px,#fdad34 972px,#e4da38 1020px,#d5e735 1092px,#cdec34 1194px,#affa37 1214px,#86ff4f 1226px,#23eba9 1244px,#19d7ca 1254px,#25c0e6 1266px,#25c0e6 1274px)"></i><i style="left:108px;top:2246px;width:1274px;height:3px;background:linear-gradient(90deg,#ecd13a 0,#e2dc37 224px,#b6f735 348px,#c0f334 484px,#dbe236 570px,#fdaf35 630px,#f56717 676px,#d63506 714px,#b01901 740px,#840702 760px,#8e0a02 770px,#cb2b04 796px,#ed5510 804px,#fea130 812px,#f6c23a 820px,#ead339 838px,#f6c33a 860px,#fe952b 878px,#f05a12 898px,#eb510e 916px,#f9771e 942px,#f9bc39 984px,#dee037 1034px,#d4e735 1138px,#cbed34 1198px,#a9fb39 1218px,#7cfe57 1230px,#28eea3 1246px,#18dcc3 1256px,#1ccfd6 1270px,#1bd0d4 1274px)"></i><i style="left:108px;top:2249px;width:1274px;height:3px;background:linear-gradient(90deg,#ecd13a 0,#e2dc38 226px,#baf534 350px,#c6f034 504px,#e0de37 578px,#fdac34 636px,#f36215 684px,#c82803 730px,#7d0503 760px,#840702 770px,#c62703 794px,#ea4e0d 802px,#fe9b2d 812px,#f7c13a 820px,#ead439 836px,#f4c73a 858px,#fe9e2e 876px,#f05a12 898px,#ea4f0d 916px,#f76f1a 938px,#fcb336 976px,#e3db38 1042px,#d4e735 1132px,#cbed34 1198px,#a9fb39 1220px,#79fe59 1234px,#29eea2 1250px,#18dfbf 1264px,#18ddc1 1274px)"></i><i style="left:108px;top:2252px;width:1274px;height:3px;background:linear-gradient(90deg,#ecd13a 0,#e2dc38 230px,#bef434 350px,#ccec34 526px,#e8d639 590px,#fea431 646px,#ee5710 700px,#cf2e04 732px,#840702 760px,#890802 770px,#cb2b04 794px,#ec530f 802px,#fe9f2f 812px,#f6c33a 820px,#e9d539 836px,#f3c73a 860px,#fe9c2e 878px,#f15d13 900px,#ed540f 918px,#fa7b20 942px,#fea632 972px,#fcaf35 1008px,#fbb236 1020px,#e9d539 1074px,#c9ee34 1202px,#a4fc3b 1224px,#6ffe61 1238px,#2ff19c 1254px,#1ee8b1 1268px,#1ee8b0 1274px)"></i><i style="left:108px;top:2255px;width:1274px;height:3px;background:linear-gradient(90deg,#ecd13a 0,#e3db38 232px,#c2f234 352px,#d1ea35 540px,#eecf3a 602px,#fe962b 664px,#e6480b 724px,#c22403 744px,#970d01 762px,#a11201 774px,#d53406 794px,#f15e13 802px,#fea632 812px,#f3c83a 820px,#e7d739 840px,#f5c53a 864px,#fe9229 884px,#f46416 904px,#f26014 922px,#fd8b27 968px,#fb8223 1006px,#fa7e21 1018px,#fcae34 1062px,#e4da38 1144px,#c4f134 1210px,#9bfe41 1230px,#3bf58f 1258px,#2ef09d 1272px,#2ff19c 1274px)"></i><i style="left:108px;top:2258px;width:1274px;height:3px;background:linear-gradient(90deg,#ecd13a 0,#e4db38 234px,#c5f034 352px,#d4e735 550px,#f4c63a 618px,#fd8e28 682px,#ea500e 732px,#b61d02 760px,#b71d02 772px,#d83707 790px,#c2791b 792px,#bd7b20 792px,#9bbc3c 794px,#96be42 796px,#98bf42 796px,#bb862b 798px,#be892c 798px,#ef5811 800px,#fea230 810px,#f3c83a 818px,#e5d938 836px,#f2ca3a 862px,#fe962b 888px,#f76f1b 908px,#f26014 922px,#f15f14 980px,#e4470b 1018px,#fc8725 1080px,#f5c339 1150px,#d1e935 1206px,#a3fd3c 1232px,#4bf97f 1260px,#44f786 1274px)"></i><i style="left:108px;top:2261px;width:1274px;height:3px;background:linear-gradient(90deg,#ecd13a 0,#e4da38 236px,#c8ef34 354px,#d6e635 556px,#fcb236 656px,#f8711b 726px,#d33205 760px,#d73706 776px,#e3450a 786px,#a7bf36 788px,#98bf42 790px,#6dfc64 790px,#58de9a 792px,#4bd8a8 792px,#44b4d4 794px,#40b8d7 796px,#39d3b9 798px,#39d5b8 798px,#2dee9f 800px,#31ef9b 802px,#6dc679 802px,#71cc77 804px,#b5af54 806px,#b7ba55 808px,#fea832 808px,#f0cc3a 818px,#e3db38 838px,#f2ca3a 866px,#fd9029 898px,#f56918 914px,#ef5911 922px,#db3b08 968px,#b91f02 1018px,#e4470b 1072px,#f7731c 1124px,#f9b937 1180px,#e0dd37 1212px,#a8fb3b 1238px,#64fc6a 1264px,#5ffc6e 1274px)"></i><i style="left:108px;top:2264px;width:1274px;height:3px;background:linear-gradient(90deg,#ecd13a 0,#e5da38 236px,#cbed34 356px,#d9e336 562px,#fbb537 668px,#fd8925 728px,#e94e0d 760px,#ed5610 778px,#f05b12 782px,#d18f22 782px,#cb9027 784px,#79fd5a 786px,#63fb6c 786px,#45bdd0 788px,#42b4d7 790px,#4290fd 790px,#4779f1 794px,#448afa 802px,#36a1e9 802px,#34aae9 804px,#28bfdb 806px,#26c6d7 808px,#1cd7ca 808px,#1cdcc1 810px,#64d098 812px,#63d395 812px,#abcc69 814px,#a9d266 816px,#efcd3a 816px,#e0dd37 836px,#efce3a 868px,#fe972c 902px,#f46516 914px,#eb500e 918px,#ba1f02 958px,#820702 1018px,#cc2d04 1104px,#ee5811 1148px,#fda832 1200px,#e8d539 1226px,#acfa39 1252px,#8afe4c 1272px,#8afe4d 1274px)"></i><i style="left:108px;top:2267px;width:1274px;height:3px;background:linear-gradient(90deg,#ecd13a 0,#e5d938 238px,#ceeb34 350px,#edd03a 612px,#fea230 728px,#f8721c 764px,#fa7b1f 778px,#a3cf45 780px,#96ce4f 780px,#64fb6b 782px,#51e39a 782px,#46dda8 784px,#3c9efc 786px,#467ef5 790px,#466ce3 796px,#467bf2 808px,#4389f9 810px,#3a9af3 812px,#23c5df 816px,#1ecfd4 818px,#61d0a3 820px,#5ed79a 822px,#a1d86a 822px,#9fdc66 824px,#e2dc37 826px,#e5d938 860px,#fdad34 898px,#fc8323 908px,#e3440a 918px,#ac1701 942px,#8a0902 954px,#7a0403 994px,#810602 1074px,#a31301 1120px,#e5490c 1178px,#f8771e 1204px,#f8bb38 1232px,#c9ed35 1260px,#b8f636 1274px)"></i><i style="left:108px;top:2270px;width:1274px;height:3px;background:linear-gradient(90deg,#ecd13a 0,#e5d938 238px,#d5e735 330px,#eece39 390px,#f4c73a 584px,#f6c43a 678px,#fdad34 738px,#fe972c 766px,#fe992d 772px,#cdb83e 772px,#c8b742 774px,#95d856 774px,#8bd75f 776px,#55f978 776px,#45f687 778px,#39c5d2 780px,#38bcdb 780px,#3ba0fc 782px,#4681f7 788px,#4662d8 796px,#4664da 808px,#467ef3 816px,#38a3f7 822px,#20cadb 826px,#60d0a6 828px,#5cd79d 830px,#9cdb6b 830px,#9bdf66 832px,#dce136 834px,#ebd339 874px,#f9bc39 896px,#fe942a 904px,#e94e0d 914px,#d43306 918px,#910b02 938px,#7a0403 948px,#7f0502 1130px,#a61501 1164px,#da3a07 1202px,#f8761d 1228px,#f8b937 1252px,#e4d938 1274px)"></i><i style="left:108px;top:2273px;width:1274px;height:3px;background:linear-gradient(90deg,#ecd13a 0,#e6d838 240px,#e0dd37 316px,#fdaa33 384px,#fdab33 552px,#fabb38 602px,#efcd3a 664px,#faba38 746px,#fcb336 766px,#bfc850 768px,#bbc754 768px,#42f58a 770px,#37f295 772px,#34dfb1 772px,#2fdabb 774px,#31c5d7 774px,#31bede 776px,#37a6f9 776px,#4588fb 782px,#466be2 792px,#4455c4 808px,#4665db 818px,#428efa 826px,#2db5ef 832px,#1eced5 836px,#5cd4a2 836px,#5bd89d 838px,#9bdd6a 838px,#9ae066 840px,#dae336 842px,#f0cc3a 892px,#fea632 902px,#f36315 910px,#c72803 918px,#7c0403 936px,#7f0502 1174px,#990f01 1196px,#df4009 1228px,#fc8a26 1256px,#fcab33 1274px)"></i><i style="left:108px;top:2276px;width:1274px;height:3px;background:linear-gradient(90deg,#ecd13a 0,#edd03a 302px,#fda933 344px,#fa7c20 380px,#fa7b20 412px,#fd8e28 558px,#fe9c2e 590px,#eecf3a 646px,#f2ca3a 742px,#f4c53a 760px,#b5d359 762px,#b2d25c 762px,#70e07d 764px,#6bdd84 764px,#28eba5 766px,#22e7af 766px,#25d7c4 768px,#24d1cc 768px,#35aaf7 770px,#458bfc 778px,#4773eb 786px,#455dd0 804px,#434cb6 814px,#4457c8 820px,#438dfb 834px,#2cb7ed 840px,#1dced5 844px,#5cd5a2 844px,#59db99 846px,#99df68 848px,#99e066 848px,#d9e336 850px,#eecf3a 894px,#fea431 902px,#f26115 908px,#c62703 916px,#800602 928px,#7a0403 968px,#7f0502 1206px,#a21301 1222px,#e1430a 1252px,#f66d1a 1274px)"></i><i style="left:108px;top:2279px;width:1274px;height:3px;background:linear-gradient(90deg,#ecd13a 0,#f1cb3a 244px,#fbb336 308px,#f56918 360px,#ec520f 388px,#fc8323 586px,#f7c23a 636px,#e7d739 656px,#ecd239 756px,#abda5d 756px,#a9d860 758px,#23e8ad 760px,#21cfd1 762px,#28c0e2 764px,#37a7f9 766px,#4588fb 774px,#4774ec 782px,#4661d6 804px,#4247ae 820px,#4350bd 826px,#4680f6 838px,#3b9ffb 844px,#1dced5 852px,#5cd5a2 852px,#59db9a 854px,#99df68 856px,#99e165 858px,#d9e336 858px,#e6d838 892px,#fea933 900px,#f26115 908px,#c42503 914px,#9e1001 920px,#7a0403 926px,#7f0602 1228px,#d13105 1266px,#db3b08 1274px)"></i><i style="left:108px;top:2282px;width:1274px;height:3px;background:linear-gradient(90deg,#ecd13a 0,#f0cc3a 210px,#fea531 294px,#f66c19 336px,#e6480b 374px,#e4450a 404px,#fb7f21 586px,#f8be39 636px,#e4da38 656px,#e4da38 750px,#a8e159 750px,#a5df5d 752px,#65e583 752px,#60e18a 754px,#1fe5b4 754px,#20cdd6 758px,#31b0f3 760px,#4293fe 764px,#4775ed 776px,#4664da 806px,#4146ac 824px,#434cb7 830px,#467cf3 842px,#3d9dfc 850px,#20c9dc 858px,#1cd2d0 860px,#5ad79e 862px,#59da9a 862px,#99de69 864px,#99e165 866px,#d9e336 866px,#e2dc38 892px,#fdaf35 900px,#f46416 906px,#c62703 914px,#b31b01 916px,#b92103 916px,#820702 926px,#7a0403 932px,#7f0602 1246px,#b31b02 1274px)"></i><i style="left:108px;top:2285px;width:1274px;height:3px;background:linear-gradient(90deg,#ecd13a 0,#f0cd3a 202px,#fe952b 286px,#eb500e 350px,#e3430a 400px,#fc8725 586px,#fab838 626px,#e9d539 648px,#e1dd37 662px,#dfdf37 744px,#a6e557 746px,#a2e35b 746px,#25eba8 748px,#1cd6ca 752px,#32aff5 756px,#448efd 762px,#4775ed 770px,#4665db 810px,#4247ae 828px,#434fbc 836px,#467ff5 850px,#3c9ffc 858px,#1ecdd7 868px,#1cd1d2 868px,#5bd79f 870px,#59dc98 872px,#99e067 872px,#98e165 874px,#d9e436 874px,#dfdf37 892px,#fdad34 900px,#f26014 906px,#ed5510 908px,#ef6c1a 908px,#ec6316 910px,#f2741e 910px,#ea5c14 912px,#f36215 914px,#d63506 918px,#8f0b01 926px,#7a0403 930px,#7f0502 1266px,#8a0902 1274px)"></i><i style="left:108px;top:2288px;width:1274px;height:3px;background:linear-gradient(90deg,#ecd13a 0,#f0cc3a 200px,#fe952b 272px,#ec520f 352px,#e5470b 400px,#fd8d27 586px,#f3c83a 632px,#d5e735 654px,#dee037 666px,#dbe236 736px,#aeea4d 738px,#a6e854 740px,#6fee73 742px,#67eb7b 742px,#2beea1 744px,#1adcc2 746px,#2ab9ed 750px,#4196fe 756px,#4777ef 764px,#4665db 814px,#424ab2 832px,#4454c4 842px,#4684f9 858px,#39a4fa 868px,#1cd0d3 876px,#5bd6a0 878px,#59dc99 880px,#98e068 880px,#98e264 882px,#d8e436 884px,#dde136 892px,#fcb537 898px,#dec737 900px,#e6b72f 902px,#d7cf30 902px,#e3bf2e 904px,#e5d838 906px,#fea331 910px,#ee5710 916px,#d13005 920px,#860702 928px,#7a0403 932px,#7a0403 1274px)"></i><i style="left:108px;top:2291px;width:1274px;height:3px;background:linear-gradient(90deg,#ecd13a 0,#f0cd3a 198px,#fbb537 228px,#f9ba38 232px,#fd8c27 294px,#ef5811 350px,#e84b0c 400px,#fe922a 586px,#f1cb3a 632px,#d0ea34 654px,#dbe236 680px,#d9e436 722px,#c3ec3b 724px,#b9ec42 728px,#98f54e 728px,#87f45c 732px,#5dfb70 732px,#26eca7 740px,#1ad5cd 744px,#2db5f1 748px,#4391fe 754px,#4777ef 762px,#4664da 818px,#434db8 838px,#4661d6 852px,#458afc 866px,#36a7f9 876px,#1cd0d4 884px,#5ad7a0 886px,#58de96 888px,#97e265 888px,#9ce45f 892px,#a3e15d 894px,#70e877 894px,#84e768 896px,#63fc6b 898px,#aafb39 902px,#e6d838 908px,#fea531 912px,#f26014 916px,#dd3c08 918px,#9c1001 926px,#7a0403 932px,#7a0403 1274px)"></i><i style="left:108px;top:2294px;width:1274px;height:3px;background:linear-gradient(90deg,#ecd13a 0,#ecd13a 88px,#e4d838 90px,#e4d938 158px,#dce036 160px,#e1db37 200px,#e5d938 214px,#fea832 272px,#f15d13 350px,#ec520e 400px,#fe932a 560px,#fe9d2e 586px,#edd03a 632px,#cbed34 654px,#d9e436 690px,#d8e536 710px,#ceea35 712px,#cbeb36 714px,#bef236 714px,#b1f53c 718px,#9cfe40 720px,#5efc6f 728px,#24eba8 734px,#18dac6 740px,#37a7fa 748px,#4684f9 756px,#4771e9 768px,#4664db 822px,#4451bf 842px,#4775ed 866px,#4098fe 880px,#2db5f0 886px,#1bd4cf 892px,#1fe7b0 896px,#40f68a 898px,#a1fd3d 904px,#cfeb34 906px,#f9bc39 910px,#fa7c20 914px,#e94d0d 918px,#b81e02 924px,#7e0502 934px,#7a0403 1274px)"></i><i style="left:108px;top:2297px;width:1274px;height:3px;background:linear-gradient(90deg,#dbe136 0,#dbe136 20px,#d3e835 22px,#d4e735 198px,#fbb838 260px,#f76f1a 334px,#f26014 400px,#fea230 550px,#fdac34 586px,#e3db38 634px,#c5f134 654px,#d6e635 696px,#ccec34 704px,#9efd3f 716px,#58fb74 724px,#20eaad 732px,#19d4ce 738px,#38a6fb 746px,#4685fa 754px,#4770e8 768px,#4665db 826px,#4455c6 846px,#4684f9 880px,#3aa2fc 888px,#2bb9ee 892px,#18d8ca 896px,#1fe8af 898px,#50fa7b 900px,#93fe46 904px,#c4f134 906px,#f4c73a 910px,#fd8b26 914px,#f05a12 918px,#c52603 924px,#8a0902 934px,#7a0403 940px,#7f0502 998px,#9d1303 1010px,#a91b04 1016px,#840702 1048px,#7a0403 1076px,#7a0403 1274px)"></i><i style="left:108px;top:2300px;width:1274px;height:3px;background:linear-gradient(90deg,#cfeb34 0,#cfea34 196px,#fabb39 260px,#fa791f 346px,#fa7f21 384px,#fb8424 408px,#f5c038 516px,#f1c839 546px,#f4c539 588px,#d9e436 634px,#b7f735 654px,#ccec34 678px,#d0ea34 696px,#adfa38 710px,#81ff53 718px,#26eda6 730px,#18dcc4 734px,#35aaf9 744px,#4588fc 752px,#476fe7 766px,#4666dc 830px,#455acd 852px,#4680f6 884px,#3ba1fc 892px,#24c1e6 894px,#19e0bd 898px,#2bef9f 900px,#97fe44 904px,#c8ef34 908px,#f6c33a 912px,#fc8725 916px,#f15d13 918px,#cb2b04 926px,#920c01 938px,#7a0403 946px,#810602 966px,#a01503 978px,#cd3c0b 990px,#ed7d20 1002px,#e3bc2f 1014px,#e1c130 1016px,#ed8221 1042px,#cf3e0c 1070px,#a11603 1098px,#7a0403 1132px,#7a0403 1274px)"></i><i style="left:108px;top:2303px;width:1274px;height:3px;background:linear-gradient(90deg,#cbed34 0,#cbed34 198px,#f7c03a 268px,#fe992c 330px,#fca531 350px,#eec937 378px,#dadf37 462px,#b1f73a 540px,#c7ee36 592px,#c7ef34 632px,#a9fb3a 654px,#c9ee34 680px,#cbed34 696px,#a6fc3b 710px,#75fe5c 718px,#25eca7 728px,#18d8c9 734px,#38a6fb 744px,#4685fa 752px,#476de5 766px,#4666dd 836px,#455ed3 856px,#467bf3 886px,#3f9afe 892px,#24c2e5 896px,#18d9c7 898px,#23eba9 900px,#5ffc6e 902px,#a0fd3e 906px,#cfeb34 908px,#f7c03a 912px,#fd8a26 916px,#ea500e 922px,#cd2d04 930px,#b52104 946px,#bd2b07 954px,#ea711d 968px,#e7b22c 978px,#bfe341 990px,#70f668 1002px,#35ee9a 1016px,#81f55e 1050px,#ccdb3b 1078px,#eca128 1104px,#eb761e 1118px,#c53309 1136px,#940e02 1154px,#7a0403 1174px,#800602 1268px,#840702 1274px)"></i><i style="left:108px;top:2306px;width:1274px;height:3px;background:linear-gradient(90deg,#c6f034 0,#bff334 198px,#f2ca3a 274px,#f6c038 312px,#dbdf37 344px,#9efb43 376px,#80fd55 470px,#5bfb72 540px,#9cfd41 634px,#90fe49 652px,#b5f735 672px,#caee34 692px,#b2f936 704px,#89ff4d 712px,#26eda5 726px,#18dbc6 732px,#35aaf9 742px,#4687fb 750px,#476de5 764px,#4666dd 842px,#4663d8 862px,#4778f0 886px,#4294ff 892px,#27bee9 896px,#18e0bd 898px,#2cf09e 900px,#95fe45 906px,#c2f234 908px,#e9d439 912px,#f8a22d 922px,#f59829 930px,#dec732 948px,#bae643 958px,#6af66c 970px,#2deba3 984px,#19ddc1 998px,#1ad5ce 1020px,#21e5b2 1072px,#4af386 1102px,#73f666 1118px,#c1e240 1134px,#e7b22c 1148px,#eb731d 1162px,#c02e07 1180px,#940e02 1198px,#7f0502 1224px,#950d01 1274px)"></i><i style="left:108px;top:2309px;width:1274px;height:3px;background:linear-gradient(90deg,#b9f635 0,#b0f937 198px,#d2e835 256px,#cceb36 304px,#97fc46 336px,#44f687 374px,#2befa0 520px,#2ef09d 558px,#45f786 604px,#67fd68 646px,#6efd62 654px,#a1fd3d 668px,#c3f134 694px,#a0fd3e 706px,#68fd67 714px,#23eba9 724px,#18d8c9 730px,#34acf7 740px,#4589fc 748px,#476ee6 762px,#4666dd 850px,#4668df 872px,#4779f1 888px,#4391fe 892px,#2ab9ed 896px,#18dcc3 898px,#24eca8 900px,#77fe5b 906px,#93fd48 908px,#98fa49 912px,#84f957 916px,#8af755 926px,#64f76f 936px,#25e8ac 954px,#19d9c7 972px,#24c2e5 1020px,#1adfbf 1124px,#2feca1 1142px,#71f667 1160px,#bfe341 1178px,#e7b32d 1192px,#ec751e 1208px,#ca3208 1230px,#ae1902 1252px,#ae1801 1274px)"></i><i style="left:108px;top:2312px;width:1274px;height:3px;background:linear-gradient(90deg,#aafb39 0,#9dfd40 200px,#9ffc40 254px,#7dfd57 304px,#39f492 344px,#1fe8af 380px,#19dfbf 552px,#26eca6 614px,#46f785 654px,#98fe43 674px,#b5f736 694px,#90ff48 706px,#4cf97e 716px,#1de7b2 724px,#1cced7 730px,#39a4fc 740px,#4680f7 750px,#466ce4 764px,#4666dd 858px,#4771e9 886px,#448dfd 892px,#2fb3f3 896px,#19d8c8 900px,#27eaa9 904px,#29e8aa 910px,#1cd8c8 916px,#19debf 930px,#2db6f0 998px,#31aff5 1026px,#1cd0d4 1136px,#1ee3b7 1174px,#3ef091 1190px,#95f353 1212px,#d8d236 1230px,#f29627 1248px,#e24d0f 1274px)"></i><i style="left:108px;top:2315px;width:1274px;height:3px;background:linear-gradient(90deg,#96fe44 0,#6afd65 234px,#2df09d 316px,#19ddc2 362px,#19d6cc 396px,#1dcdd8 554px,#19dec0 622px,#23ebaa 654px,#84ff51 678px,#a7fc3a 692px,#93fe46 700px,#54fa78 710px,#1fe8af 720px,#1ad2d2 726px,#38a5fb 738px,#4683f9 746px,#476de5 762px,#466be2 882px,#4681f7 892px,#3aa2fc 896px,#29bbea 902px,#25c0e7 918px,#1ecbdb 932px,#38a6fb 998px,#3ca0fd 1028px,#28bdea 1136px,#1adfbe 1212px,#31ed9e 1230px,#80f75c 1254px,#cddf3a 1274px)"></i><i style="left:108px;top:2318px;width:1274px;height:3px;background:linear-gradient(90deg,#72fe5f 0,#44f786 210px,#1ae1bb 312px,#23c3e3 384px,#2abaed 558px,#1bd1d3 636px,#18dbc4 654px,#2aeea1 666px,#8dfe4a 690px,#8efe49 694px,#59fb73 704px,#1fe8af 716px,#1ad3d0 722px,#36a8f9 734px,#4687fb 744px,#476ee6 758px,#466ce4 884px,#4292fe 898px,#2db6f0 924px,#448efd 1014px,#31aff5 1150px,#19dec1 1254px,#2deca2 1274px)"></i><i style="left:108px;top:2321px;width:1274px;height:3px;background:linear-gradient(90deg,#4af881 0,#21e9ad 212px,#1bd2d2 306px,#31aff5 382px,#36a9f9 566px,#23c3e3 652px,#1ae2bb 668px,#39f491 680px,#6bfd64 692px,#29eea3 708px,#18dac6 716px,#33acf7 728px,#4589fc 740px,#476ee7 756px,#476de5 886px,#4392fe 904px,#38a6fb 932px,#4685fa 1018px,#3e9cfe 1140px,#25c0e7 1230px,#1ad3d0 1274px)"></i><i style="left:108px;top:2324px;width:1274px;height:3px;background:linear-gradient(90deg,#26eca6 0,#19d6cb 218px,#2eb3f2 328px,#3c9ffd 392px,#3f9afe 566px,#2eb4f1 654px,#19dec0 676px,#2ff19b 686px,#43f787 692px,#1ae2bb 706px,#24c1e5 718px,#3e9dfe 730px,#4776ee 748px,#466ce4 776px,#476ee6 888px,#448dfd 908px,#4195fe 934px,#4680f7 1020px,#4390fe 1150px,#2db5f1 1252px,#26c0e7 1274px)"></i><i style="left:108px;top:2327px;width:1274px;height:3px;background:linear-gradient(90deg,#18dbc4 0,#24c2e5 224px,#4292fe 368px,#448cfd 576px,#38a6fb 656px,#1fcadc 674px,#1ce5b6 688px,#22eaac 692px,#1ad4cf 704px,#38a6fb 722px,#4684f9 736px,#476de5 758px,#476fe7 888px,#4687fb 912px,#467df4 1050px,#4391fe 1196px,#33acf7 1274px)"></i><i style="left:108px;top:2330px;width:1274px;height:3px;background:linear-gradient(90deg,#1fc9dd 0,#34abf8 236px,#4686fb 370px,#4588fb 616px,#4196fe 656px,#2abaed 676px,#19d8c9 692px,#34abf8 714px,#4589fc 730px,#476de5 754px,#476fe7 890px,#4681f7 920px,#4778f0 1050px,#4390fe 1238px,#3d9dfe 1274px)"></i><i style="left:108px;top:2333px;width:1274px;height:3px;background:linear-gradient(90deg,#2eb5f1 0,#3e9bfe 240px,#4680f7 394px,#4683f9 626px,#448dfd 660px,#30b1f4 682px,#23c4e3 694px,#3f9afe 714px,#4771ea 744px,#466ce4 848px,#4772ea 894px,#467cf3 940px,#4772ea 1044px,#448dfd 1274px)"></i><i style="left:108px;top:2336px;width:1274px;height:3px;background:linear-gradient(90deg,#39a4fb 0,#458bfd 244px,#467bf2 444px,#467ff6 638px,#448dfd 670px,#31b0f5 694px,#458bfd 716px,#476ee6 748px,#4770e9 894px,#4776ee 946px,#476fe7 1078px,#4685fa 1274px)"></i><i style="left:108px;top:2339px;width:1274px;height:3px;background:linear-gradient(90deg,#4294fe 0,#4777ef 366px,#4778f0 616px,#4684f9 668px,#3ba0fd 694px,#467bf2 724px,#466ce3 768px,#4771e9 898px,#4773ec 1172px,#4680f6 1274px)"></i><i style="left:108px;top:2342px;width:1274px;height:3px;background:linear-gradient(90deg,#4588fb 0,#476ee7 526px,#467bf3 662px,#438ffe 694px,#466ce4 750px,#4774ec 1220px,#477af2 1274px)"></i><i style="left:108px;top:2345px;width:1274px;height:3px;background:linear-gradient(90deg,#4682f8 0,#4771e9 334px,#4773eb 656px,#4684f9 698px,#466ce4 756px,#4774ec 1262px,#4775ed 1274px)"></i><i style="left:108px;top:2348px;width:1274px;height:3px;background:linear-gradient(90deg,#467df4 0,#476ee6 500px,#4773eb 666px,#467ff6 698px,#466ce4 754px,#4770e8 1274px)"></i><i style="left:108px;top:2351px;width:1274px;height:3px;background:linear-gradient(90deg,#4777f0 0,#476ee6 596px,#4774ec 676px,#4779f1 700px,#466ce4 754px,#476ee6 1274px)"></i><i style="left:108px;top:2354px;width:1274px;height:3px;background:linear-gradient(90deg,#4772ea 0,#4772ea 684px,#4771e9 706px,#476de5 920px,#476ee6 1274px)"></i><i style="left:108px;top:2357px;width:1274px;height:3px;background:#476de6"></i><i style="left:108px;top:2360px;width:1274px;height:39px;background:#476de5"></i><i style="left:108px;top:2399px;width:1274px;height:39px;background:#466ce4"></i><i style="left:108px;top:2438px;width:1274px;height:18px;background:#466be3"></i><i style="left:786px;top:51px;width:598px;height:39px;background:linear-gradient(90deg,#dbe236 0,#b5f735 106px,#9efe3f 152px,#8eff4a 160px,#5efc6e 170px,#89ff4d 190px,#51fa7a 200px,#49f881 210px,#84ff51 220px,#94fe45 230px,#77fe5b 240px,#97fe43 252px,#b2f936 294px,#f0cc3a 306px,#fea330 312px,#f66a18 316px,#e5460b 326px,#f9761d 340px,#fd8e28 352px,#f46617 362px,#de3d08 372px,#f36115 378px,#fc8223 382px,#fab938 386px,#dae336 390px,#a6fc3b 394px,#6afd65 410px,#a8fc3a 438px,#b6f735 476px,#affa37 598px)"></i><i style="left:786px;top:90px;width:598px;height:39px;background:linear-gradient(90deg,#dbe236 0,#b5f735 106px,#9efe3f 152px,#8eff4a 160px,#5efc6e 170px,#89ff4d 190px,#51fa7a 200px,#49f881 210px,#84ff51 220px,#94fe45 230px,#77fe5b 240px,#97fe43 252px,#b2f936 294px,#f0cc3a 306px,#fea330 312px,#f66a18 316px,#e5460b 326px,#f9761d 340px,#fd8e28 352px,#f46617 362px,#de3d08 372px,#f36115 378px,#fc8223 382px,#fab938 386px,#dae336 390px,#a6fc3b 394px,#6afd65 410px,#a8fc3a 438px,#b6f735 476px,#affa37 598px)"></i><i style="left:786px;top:129px;width:598px;height:6px;background:linear-gradient(90deg,#e1dd37 0,#b3f836 108px,#9efe3f 152px,#8eff4a 160px,#5ffc6e 170px,#89ff4d 190px,#51fa7a 200px,#4af881 210px,#84ff51 220px,#94fe45 230px,#77fe5b 240px,#98fe43 252px,#b2f936 294px,#f0cc3a 306px,#fea330 312px,#f56918 316px,#e5460b 326px,#f9761d 340px,#fd8e28 352px,#f46617 362px,#de3d08 372px,#f36115 378px,#fc8223 382px,#fab938 386px,#dae336 390px,#a6fc3b 394px,#6afd65 410px,#a8fc3a 438px,#b6f735 476px,#affa37 598px)"></i><i style="left:786px;top:135px;width:598px;height:3px;background:linear-gradient(90deg,#e6d838 0,#c7ef34 62px,#b4f836 108px,#9efe3f 152px,#8eff4a 160px,#5ffc6e 170px,#89ff4d 190px,#52fa79 200px,#4bf880 210px,#84ff50 220px,#94fe45 230px,#77fe5a 240px,#98fe43 252px,#b2f936 294px,#f0cc3a 306px,#fea330 312px,#f56918 316px,#e5460b 326px,#f9761d 340px,#fd8e28 352px,#f46617 362px,#de3d08 372px,#f36115 378px,#fc8223 382px,#fab938 386px,#dae336 390px,#a6fc3b 394px,#6afd65 410px,#a8fc3a 438px,#b6f735 476px,#affa37 598px)"></i><i style="left:786px;top:138px;width:598px;height:3px;background:linear-gradient(90deg,#e9d539 0,#c9ee34 54px,#b4f836 108px,#9efe3f 152px,#8eff49 160px,#5ffc6e 170px,#89ff4d 190px,#53fa78 200px,#4cf97f 210px,#85ff50 220px,#95fe45 230px,#78fe5a 240px,#98fe43 252px,#b2f936 294px,#f0cc3a 306px,#fea330 312px,#f56918 316px,#e5460b 326px,#f9761d 340px,#fd8e28 352px,#f46617 362px,#de3d08 372px,#f36115 378px,#fc8223 382px,#fab938 386px,#dae336 390px,#a6fc3b 394px,#6afd65 410px,#a8fc3a 438px,#b6f735 476px,#affa37 598px)"></i><i style="left:786px;top:141px;width:598px;height:3px;background:linear-gradient(90deg,#edd13a 0,#caee34 54px,#b4f836 108px,#9efe3f 152px,#8eff49 160px,#60fc6d 170px,#8aff4c 190px,#55fa77 200px,#4df97d 210px,#86ff4f 220px,#95fe45 230px,#79fe59 240px,#98fe43 252px,#b2f936 294px,#f0cc3a 306px,#fea330 312px,#f56918 316px,#e5460b 326px,#f9761d 340px,#fd8e28 352px,#f46617 362px,#de3d08 372px,#f36115 378px,#fc8223 382px,#fab938 386px,#dae336 390px,#a6fc3b 394px,#6afd65 410px,#a8fc3a 438px,#b6f735 476px,#affa37 598px)"></i><i style="left:786px;top:144px;width:598px;height:3px;background:linear-gradient(90deg,#f0cc3a 0,#c9ee34 54px,#b4f836 108px,#9efe3f 152px,#8fff49 160px,#61fc6c 170px,#8bff4c 190px,#56fb75 200px,#4ff97c 210px,#87ff4e 220px,#96fe44 230px,#7afe58 240px,#99fe42 252px,#b2f936 294px,#f0cc3a 306px,#fea230 312px,#f56918 316px,#e5460b 326px,#f9761d 340px,#fd8e28 352px,#f46617 362px,#de3d08 372px,#f36115 378px,#fc8223 382px,#fab938 386px,#dae336 390px,#a6fc3b 394px,#6afd65 410px,#a8fc3a 438px,#b6f735 476px,#affa37 598px)"></i><i style="left:786px;top:147px;width:598px;height:3px;background:linear-gradient(90deg,#f3c83a 0,#c9ee34 56px,#b3f836 108px,#9efd3f 152px,#8fff49 160px,#62fc6b 170px,#8cff4b 190px,#58fb74 200px,#51fa7a 210px,#89ff4d 220px,#97fe43 230px,#7cff57 240px,#9afe42 252px,#b2f936 294px,#f4c73a 308px,#fd8a26 314px,#f56918 316px,#e5460b 326px,#f9761d 340px,#fd8e28 352px,#f46617 362px,#de3d08 372px,#f36115 378px,#fc8223 382px,#fab938 386px,#dae336 390px,#a6fc3b 394px,#6afd65 410px,#a8fc3a 438px,#b6f735 476px,#affa37 598px)"></i><i style="left:786px;top:150px;width:598px;height:3px;background:linear-gradient(90deg,#f6c33a 0,#c9ee34 60px,#9ffd3e 152px,#90ff48 160px,#64fd6a 170px,#8eff4a 190px,#5bfb71 200px,#54fa77 210px,#8aff4c 220px,#99fe42 230px,#7eff55 240px,#9bfe41 252px,#b2f936 294px,#f4c73a 308px,#fd8a26 314px,#f56918 316px,#e5460b 326px,#f9761d 340px,#fd8e28 352px,#f46617 362px,#de3d08 372px,#f36115 378px,#fc8223 382px,#fab938 386px,#dae336 390px,#a6fc3b 394px,#6afd65 410px,#a8fc3a 438px,#b6f735 476px,#affa37 598px)"></i><i style="left:786px;top:153px;width:598px;height:3px;background:linear-gradient(90deg,#f8be39 0,#c9ee34 62px,#9efd3f 154px,#91ff48 160px,#66fd68 170px,#8fff49 190px,#5efc6f 200px,#57fb75 210px,#8cff4b 220px,#9afe42 230px,#80ff54 240px,#9cfe41 252px,#b2f936 294px,#f0cc3a 306px,#fea230 312px,#f56918 316px,#e5460b 326px,#f9761d 340px,#fd8e28 352px,#f46617 362px,#de3d08 372px,#f36115 378px,#fc8223 382px,#fab938 386px,#dae336 390px,#a6fc3b 394px,#6afd65 410px,#a8fc3a 438px,#b6f735 476px,#affa37 598px)"></i><i style="left:786px;top:156px;width:598px;height:3px;background:linear-gradient(90deg,#faba38 0,#c9ee34 66px,#a9fb39 140px,#97fe44 160px,#68fd66 170px,#91ff47 190px,#60fc6d 200px,#5afb72 210px,#8eff49 220px,#9cfe41 230px,#82ff52 240px,#9dfe40 252px,#b3f836 294px,#f1cc3a 306px,#fea230 312px,#f56918 316px,#e5460b 326px,#f9761d 340px,#fd8e28 352px,#f46617 362px,#de3d08 372px,#f36115 378px,#fc8223 382px,#fab938 386px,#dae336 390px,#a6fc3b 394px,#6afd65 410px,#a8fc3a 438px,#b6f735 476px,#affa37 598px)"></i><i style="left:786px;top:159px;width:598px;height:3px;background:linear-gradient(90deg,#fbb537 0,#d9e436 52px,#acfb38 126px,#9efe3f 156px,#8fff49 162px,#6bfd64 170px,#93fe46 190px,#64fd6a 200px,#5efc6f 210px,#91ff48 220px,#9bfe41 230px,#85ff50 240px,#9efd3f 252px,#b3f836 294px,#f1cb3a 306px,#fea230 312px,#f56918 316px,#e5460b 326px,#f9761d 340px,#fd8e28 352px,#f46617 362px,#de3d08 372px,#f36115 378px,#fc8223 382px,#fab938 386px,#dae336 390px,#a6fc3b 394px,#6afd65 410px,#a8fc3a 438px,#b6f735 476px,#affa37 598px)"></i><i style="left:786px;top:162px;width:598px;height:3px;background:linear-gradient(90deg,#fdb035 0,#e1dd37 48px,#b6f735 104px,#9ffd3f 156px,#91ff48 162px,#6efe62 170px,#95fe45 190px,#68fd67 200px,#62fc6b 210px,#93fe46 220px,#9dfe40 230px,#88ff4e 240px,#a0fd3e 252px,#b4f836 294px,#f1cb3a 306px,#fea130 312px,#f56817 316px,#e4460a 326px,#f9761d 340px,#fd8e28 352px,#f46617 362px,#de3d08 372px,#f36115 378px,#fc8223 382px,#fab938 386px,#dae336 390px,#a6fc3b 394px,#6afd65 410px,#a8fc3a 438px,#b6f735 476px,#affa37 598px)"></i><i style="left:786px;top:165px;width:598px;height:3px;background:linear-gradient(90deg,#fdac34 0,#e6d838 46px,#b9f635 102px,#9efd3f 158px,#71fe5f 170px,#98fe43 190px,#6cfd63 200px,#67fd68 210px,#96fe44 220px,#9ffd3f 230px,#8bff4c 240px,#a2fd3d 252px,#b5f835 294px,#eecf3a 306px,#fdab34 310px,#f56817 316px,#e4460a 326px,#f9751d 340px,#fd8e28 352px,#f46617 362px,#de3d08 372px,#f36115 378px,#fc8223 382px,#fab938 386px,#dae336 390px,#a6fc3b 394px,#6afd65 410px,#a8fc3a 438px,#b6f735 476px,#affa37 598px)"></i><i style="left:786px;top:168px;width:598px;height:3px;background:linear-gradient(90deg,#fea833 0,#ead439 46px,#b8f735 104px,#9ffd3f 158px,#75fe5c 170px,#9afe42 190px,#70fe60 200px,#6bfd64 210px,#98fe43 220px,#a1fd3d 230px,#8eff4a 240px,#a4fd3c 252px,#b6f735 294px,#efce3a 306px,#fdab33 310px,#f56717 316px,#e4450a 326px,#f9751d 340px,#fd8e28 352px,#f46617 362px,#de3d08 372px,#f36115 378px,#fc8223 382px,#fab938 386px,#dae336 390px,#a6fc3b 394px,#6afd65 410px,#a8fc3a 438px,#b6f735 476px,#affa37 598px)"></i><i style="left:786px;top:171px;width:598px;height:3px;background:linear-gradient(90deg,#fea531 0,#ecd139 48px,#b4f836 108px,#a1fd3d 158px,#78fe59 170px,#9dfe40 190px,#75fe5c 200px,#70fe60 210px,#9bfe41 220px,#a3fd3c 230px,#91ff48 240px,#a6fc3b 254px,#b7f735 294px,#ecd239 304px,#fcb437 310px,#f76e1a 316px,#e4450a 326px,#fa7a1f 342px,#fd8e28 352px,#f46617 362px,#de3d08 372px,#f36115 378px,#fc8223 382px,#fab938 386px,#dae336 390px,#a6fc3b 394px,#6afd65 410px,#a8fc3a 438px,#b6f735 476px,#affa37 598px)"></i><i style="left:786px;top:174px;width:598px;height:3px;background:linear-gradient(90deg,#fea330 0,#eecf3a 50px,#b2f936 114px,#a4fd3c 156px,#8eff4a 164px,#7cff56 170px,#9ffd3e 190px,#7afe59 200px,#75fe5c 210px,#9efd3f 220px,#a5fc3b 230px,#96fe44 240px,#a8fc3a 254px,#b8f635 294px,#edd13a 304px,#fcb236 310px,#f66c19 316px,#e3440a 326px,#fa7a1f 342px,#fd8e28 352px,#f46617 362px,#de3d08 372px,#f36115 378px,#fc8223 382px,#fab938 386px,#dae336 390px,#a6fc3b 394px,#6afd65 410px,#a8fc3a 438px,#b6f735 476px,#affa37 598px)"></i><i style="left:786px;top:177px;width:598px;height:3px;background:linear-gradient(90deg,#fea230 0,#f0cc3a 52px,#b2f936 118px,#a4fc3c 158px,#81ff53 170px,#a2fd3d 190px,#7fff55 200px,#7bfe58 210px,#a1fd3e 220px,#a8fc3a 230px,#99fe42 240px,#aafb39 256px,#baf635 294px,#e6d838 304px,#fcb136 310px,#f66a18 316px,#e2430a 326px,#fa791f 342px,#fd8e28 352px,#f46617 362px,#de3d08 372px,#f36115 378px,#fc8223 382px,#fab938 386px,#dae336 390px,#a6fc3b 394px,#6afd65 410px,#a8fc3a 438px,#b6f735 476px,#affa37 598px)"></i><i style="left:786px;top:180px;width:598px;height:3px;background:linear-gradient(90deg,#fea130 0,#f1cb3a 56px,#b4f836 120px,#a4fc3b 160px,#85ff50 170px,#a4fc3c 190px,#83ff52 202px,#80ff54 210px,#a5fc3b 222px,#aafb39 230px,#9dfe40 240px,#adfa38 256px,#bcf534 294px,#e7d838 304px,#fdaf35 310px,#f26114 316px,#e24209 326px,#f9741d 340px,#fd8e28 352px,#f46617 362px,#de3d08 372px,#f36115 378px,#fc8223 382px,#fab938 386px,#dae336 390px,#a6fc3b 394px,#6afd65 410px,#a8fc3a 438px,#b6f735 476px,#affa37 598px)"></i><i style="left:786px;top:183px;width:598px;height:3px;background:linear-gradient(90deg,#fea130 0,#f4c63a 54px,#c5f034 106px,#b1f936 140px,#a4fc3c 160px,#89ff4d 170px,#a7fc3a 190px,#88ff4e 202px,#85ff50 210px,#a7fc3a 222px,#abfb38 232px,#a0fd3e 240px,#affa37 258px,#bef434 294px,#e7d739 304px,#fbb737 308px,#f8721c 314px,#f05b12 318px,#e14109 326px,#f8741c 340px,#fd8e28 352px,#f46616 362px,#de3d08 372px,#f36115 378px,#fc8223 382px,#fab938 386px,#dae336 390px,#a6fc3b 394px,#6afd65 410px,#a8fc3a 438px,#b6f735 476px,#affa37 598px)"></i><i style="left:786px;top:186px;width:598px;height:3px;background:linear-gradient(90deg,#fea130 0,#f7c23a 54px,#cdec34 104px,#b4f836 140px,#a4fc3c 162px,#8eff4a 170px,#aafb39 190px,#8dff4a 202px,#8eff49 210px,#abfb38 222px,#adfa37 232px,#a3fd3c 240px,#b1f936 258px,#c0f334 294px,#e9d539 304px,#f9bb39 308px,#fa7b20 314px,#f05c12 316px,#e04009 326px,#f9751d 342px,#fd8e28 352px,#f46616 362px,#de3d08 372px,#f36115 378px,#fc8223 382px,#fab938 386px,#dae336 390px,#a6fc3b 394px,#6afd65 410px,#a8fc3a 438px,#b6f735 476px,#affa37 598px)"></i><i style="left:786px;top:189px;width:598px;height:3px;background:linear-gradient(90deg,#fea130 0,#f8c03a 56px,#d2e835 104px,#b7f735 144px,#a7fc3a 162px,#92ff47 170px,#acfa38 190px,#92ff47 202px,#93fe46 210px,#aefa37 222px,#b0f937 232px,#a6fc3b 240px,#b4f836 258px,#c2f234 294px,#ead439 304px,#f8be39 306px,#fe9c2e 310px,#ef5911 316px,#df3e08 326px,#f8721c 340px,#fd8d28 352px,#f46616 362px,#de3d08 372px,#f36115 378px,#fc8223 382px,#fab938 386px,#dae336 390px,#a6fc3b 394px,#6afd65 410px,#a8fc3a 438px,#b6f735 476px,#affa37 598px)"></i><i style="left:786px;top:192px;width:598px;height:3px;background:linear-gradient(90deg,#fea130 0,#f7c03a 62px,#d7e535 106px,#aafb39 162px,#99fe42 170px,#adfa38 190px,#97fe44 202px,#98fe43 210px,#b2f936 224px,#b2f936 232px,#aafb39 242px,#b7f735 262px,#c5f034 294px,#ebd239 304px,#f7c03a 306px,#fea331 310px,#ee5610 316px,#dd3c08 326px,#f8701b 340px,#fd8d27 352px,#f46616 362px,#de3d08 372px,#f36115 378px,#fc8223 382px,#fab938 386px,#dae336 390px,#a6fc3b 394px,#6afd65 410px,#a8fc3a 438px,#b6f735 476px,#affa37 598px)"></i><i style="left:786px;top:195px;width:598px;height:3px;background:linear-gradient(90deg,#fea130 0,#f6c33a 70px,#d9e336 108px,#aefa37 162px,#9dfe40 170px,#b0f937 190px,#9cfe40 202px,#9dfe3f 210px,#b6f735 224px,#b3f836 234px,#aefa37 242px,#baf635 264px,#c8ef34 294px,#edd03a 304px,#f9bd39 306px,#fe9f2f 310px,#ec520f 316px,#db3a07 326px,#f76f1a 340px,#fd8c27 352px,#f46616 362px,#de3d08 372px,#f36115 378px,#fc8223 382px,#fab938 386px,#dae336 390px,#a6fc3b 394px,#6afd65 410px,#a8fc3a 438px,#b6f735 476px,#affa37 598px)"></i><i style="left:786px;top:198px;width:598px;height:3px;background:linear-gradient(90deg,#fea130 0,#f4c63a 80px,#cdec34 132px,#b3f836 162px,#a2fd3d 170px,#b4f836 190px,#a1fd3d 204px,#a5fc3b 212px,#bcf534 226px,#b1f936 242px,#bdf434 268px,#cbed34 294px,#efce3a 304px,#fab938 306px,#fe9a2d 310px,#ea4e0d 316px,#d93807 326px,#f66b19 340px,#fd8c27 352px,#f46516 362px,#de3d08 372px,#f36115 378px,#fc8223 382px,#fab938 386px,#dae336 390px,#a6fc3b 394px,#6afd65 410px,#a8fc3a 438px,#b6f735 476px,#affa37 598px)"></i><i style="left:786px;top:201px;width:598px;height:3px;background:linear-gradient(90deg,#fea130 0,#f1cb3a 92px,#d3e835 134px,#b9f635 162px,#a7fc3a 170px,#b8f635 190px,#a7fc3a 204px,#aefa37 212px,#c2f234 228px,#b6f735 242px,#ccec34 294px,#f1cb3a 304px,#fabb39 304px,#fea130 308px,#eb500e 316px,#d73506 326px,#f56918 340px,#fd8b27 352px,#f46516 362px,#de3d08 372px,#f36115 378px,#fc8223 382px,#fab938 386px,#dae336 390px,#a6fc3b 394px,#6afd65 410px,#a8fc3a 438px,#b6f735 476px,#affa37 598px)"></i><i style="left:786px;top:204px;width:598px;height:3px;background:linear-gradient(90deg,#fea130 0,#f1ca3a 98px,#c5f034 160px,#aefa37 170px,#bdf434 190px,#affa37 204px,#b7f735 214px,#c8ef34 230px,#bcf534 242px,#ceeb34 292px,#ead339 300px,#f3c83a 304px,#fbb637 304px,#fe9a2d 308px,#e84b0c 316px,#d43205 326px,#f56717 340px,#fd8a26 352px,#f46516 362px,#de3d08 372px,#f36115 378px,#fc8223 382px,#fab938 386px,#dae336 390px,#a6fc3b 394px,#6afd65 410px,#a8fc3a 438px,#b6f735 476px,#affa37 598px)"></i><i style="left:786px;top:207px;width:598px;height:3px;background:linear-gradient(90deg,#fea130 0,#f1ca3a 102px,#ceeb34 158px,#b7f735 170px,#c4f134 190px,#b7f735 204px,#c3f134 216px,#cced34 232px,#c4f134 242px,#cdec34 286px,#dbe236 296px,#f5c43a 304px,#fcb136 304px,#fe942a 308px,#e4460a 316px,#d02f05 326px,#f36115 338px,#fd8926 352px,#f46416 362px,#de3d08 372px,#f36115 378px,#fc8223 382px,#fab938 386px,#dae336 390px,#a6fc3b 394px,#6afd65 410px,#a8fc3a 438px,#b6f735 476px,#affa37 598px)"></i><i style="left:786px;top:210px;width:598px;height:3px;background:linear-gradient(90deg,#fea130 0,#f3c83a 106px,#d7e535 158px,#c1f234 170px,#cbed34 192px,#c0f334 206px,#d6e635 228px,#cbed34 242px,#d0ea34 286px,#dfdf37 296px,#f8bf3a 304px,#fdaa33 304px,#fb7f22 310px,#e04009 316px,#cd2c04 326px,#f25f14 338px,#fd8825 352px,#f46416 362px,#de3d08 372px,#f36115 378px,#fc8223 382px,#fab938 386px,#dae336 390px,#a6fc3b 394px,#6afd65 410px,#a8fc3a 438px,#b6f735 476px,#affa37 598px)"></i><i style="left:786px;top:213px;width:598px;height:3px;background:linear-gradient(90deg,#fea130 0,#f4c63a 110px,#dedf37 160px,#cdec34 172px,#d4e735 192px,#caee34 208px,#dde037 228px,#d4e835 244px,#d3e835 284px,#e3db38 296px,#fabb39 304px,#fea331 304px,#f9771e 310px,#dc3b07 316px,#c82903 326px,#ef5911 338px,#fc8725 352px,#f36315 362px,#dd3d08 372px,#f36114 378px,#fc8223 382px,#fab938 386px,#dae336 390px,#a6fc3b 394px,#6afd65 410px,#a8fc3a 438px,#b6f735 476px,#affa37 598px)"></i><i style="left:786px;top:216px;width:598px;height:3px;background:linear-gradient(90deg,#fea130 0,#f1cb3a 140px,#dfde37 164px,#dae336 174px,#dce136 192px,#d5e635 210px,#e4da38 230px,#dce136 246px,#d8e436 284px,#e8d639 296px,#fbb537 304px,#fe9b2d 304px,#f76d1a 310px,#d63506 316px,#c42503 326px,#ee5610 338px,#fc8624 352px,#f36315 362px,#dd3c08 372px,#f26114 378px,#fc8223 382px,#fab938 386px,#dae336 390px,#a6fc3b 394px,#6afd65 410px,#a8fc3a 438px,#b6f735 476px,#affa37 598px)"></i><i style="left:786px;top:219px;width:598px;height:3px;background:linear-gradient(90deg,#fea130 0,#fbb738 84px,#efce3a 160px,#e5d938 172px,#e5d938 194px,#e3db38 212px,#e9d539 232px,#dde037 284px,#ecd13a 296px,#fdae35 304px,#fe9129 304px,#ef5811 310px,#cb2b04 316px,#be2102 326px,#ea4f0d 336px,#fc8424 352px,#f36215 362px,#dd3c08 372px,#f26114 378px,#fc8223 382px,#fab938 386px,#dae336 390px,#a6fc3b 394px,#6afd65 410px,#a8fc3a 438px,#b6f735 476px,#affa37 598px)"></i><i style="left:786px;top:222px;width:598px;height:3px;background:linear-gradient(90deg,#fea130 0,#fbb738 82px,#f6c33a 160px,#efce3a 172px,#eecf3a 194px,#edd03a 214px,#f0cc3a 232px,#e3db38 284px,#f1cb3a 296px,#fea732 304px,#fc8725 304px,#ea4f0d 310px,#c32503 316px,#b81d02 326px,#e84b0c 336px,#fc8323 352px,#f36115 362px,#dd3c08 372px,#f26014 378px,#fc8223 382px,#fab938 386px,#dae336 390px,#a6fc3b 394px,#6afd65 410px,#a8fc3a 438px,#b6f735 476px,#affa37 598px)"></i><i style="left:786px;top:225px;width:598px;height:3px;background:linear-gradient(90deg,#fea130 0,#fbb637 80px,#fcb437 160px,#f7c13a 172px,#f6c33a 194px,#f4c53a 214px,#f6c33a 234px,#e8d639 282px,#f6c33a 296px,#fe9d2e 304px,#fa7b1f 304px,#e4460a 310px,#ba1f02 316px,#b11901 326px,#e6480b 336px,#fc8222 352px,#f26014 362px,#dd3c08 372px,#f8721c 380px,#fab938 386px,#dae336 390px,#a6fc3b 394px,#6afd65 410px,#a8fc3a 438px,#b6f735 476px,#affa37 598px)"></i><i style="left:786px;top:228px;width:598px;height:3px;background:linear-gradient(90deg,#fea130 0,#fbb537 80px,#fea732 140px,#fea832 162px,#fcb136 174px,#fbb537 192px,#f9bb39 212px,#fbb838 232px,#edd03a 282px,#f9bb39 296px,#fe9229 304px,#f76e1a 304px,#de3d08 310px,#b01901 316px,#a91501 326px,#e04009 336px,#fa7c20 350px,#fa7b20 354px,#f05b12 364px,#dd3c08 372px,#f8721c 380px,#fab938 386px,#dae336 390px,#a6fc3b 394px,#6afd65 410px,#a8fc3a 438px,#b6f735 476px,#affa37 598px)"></i><i style="left:786px;top:231px;width:598px;height:3px;background:linear-gradient(90deg,#fea130 0,#fcb537 78px,#fea632 128px,#fe932a 158px,#fea02f 172px,#fea531 192px,#fdae35 210px,#fdaa33 232px,#f2c93a 280px,#fbb737 294px,#fc8524 304px,#f26114 304px,#d53406 310px,#a41301 316px,#a11101 326px,#dd3d08 336px,#f9771e 350px,#fb7c20 354px,#f25f14 362px,#dd3c08 372px,#f8721c 380px,#fab938 386px,#dae336 390px,#a6fc3b 394px,#6afd65 410px,#a8fc3a 438px,#b6f735 476px,#affa37 598px)"></i><i style="left:786px;top:234px;width:598px;height:3px;background:linear-gradient(90deg,#fea130 0,#fcb437 76px,#fea531 124px,#fb8122 158px,#fd8b26 174px,#fe922a 192px,#fe9d2e 210px,#fe9b2d 230px,#f7c13a 280px,#fdac34 294px,#f9781e 304px,#ed540f 304px,#cb2b04 310px,#970e01 316px,#920c01 326px,#da3907 336px,#f8711b 348px,#fb7d21 352px,#f15e13 362px,#dc3b08 372px,#f8711b 380px,#fab838 386px,#dae236 390px,#a6fc3b 394px,#6afd65 410px,#a8fc3a 438px,#b6f735 476px,#affa37 598px)"></i><i style="left:786px;top:237px;width:598px;height:3px;background:linear-gradient(90deg,#fea130 0,#fcb336 76px,#fea330 122px,#f76f1a 156px,#fb7e21 192px,#fd8a26 210px,#fd8c27 232px,#fab938 280px,#fea531 294px,#f66a18 304px,#e6480b 304px,#c92903 310px,#890802 316px,#880802 326px,#d73506 336px,#f66b19 348px,#fa7c20 352px,#f15d13 362px,#dc3b07 372px,#f8711b 380px,#fbb838 386px,#dbe236 390px,#a6fc3b 394px,#6afd65 410px,#a8fc3a 438px,#b6f735 476px,#affa37 598px)"></i><i style="left:786px;top:240px;width:598px;height:3px;background:linear-gradient(90deg,#fea130 0,#fcb336 74px,#fea02f 120px,#f15e13 156px,#f56817 192px,#f9771e 210px,#fa7b20 232px,#fdaf35 278px,#fe9e2e 292px,#fa7b20 298px,#f05c12 304px,#de3d08 304px,#bd2102 310px,#7f0502 316px,#7d0503 326px,#cd2c04 334px,#ee5710 344px,#fa7a1f 352px,#f15d13 362px,#dc3b07 372px,#f8711b 380px,#fbb838 386px,#dbe236 390px,#a6fc3b 394px,#6afd65 410px,#a8fc3a 438px,#b6f735 476px,#affa37 598px)"></i><i style="left:786px;top:243px;width:598px;height:3px;background:linear-gradient(90deg,#fea130 0,#fcb236 72px,#fe9e2e 118px,#ea4f0d 156px,#ec530f 190px,#f36315 210px,#f66d19 234px,#fe922a 264px,#fea531 280px,#fe9129 292px,#f46617 300px,#ea4f0e 304px,#d43305 304px,#b01901 310px,#7c0403 314px,#7b0403 326px,#c92903 334px,#eb500e 342px,#fa791f 352px,#f05c12 362px,#db3a07 372px,#f8701b 380px,#fbb838 386px,#dbe236 390px,#a6fc3a 394px,#6afd65 410px,#a8fc3a 438px,#b6f735 476px,#affa37 598px)"></i><i style="left:786px;top:246px;width:598px;height:3px;background:linear-gradient(90deg,#fea130 0,#fcb136 72px,#fe9a2d 116px,#eb510e 148px,#df3f08 164px,#e3440a 192px,#eb510e 216px,#f66b18 248px,#fe992d 278px,#fd8a26 290px,#f66b19 296px,#e3440a 304px,#c92a04 304px,#a11201 310px,#7f0502 312px,#7b0403 328px,#c42603 334px,#e94d0d 342px,#f9781e 352px,#f05b12 362px,#db3a07 372px,#f7701b 380px,#fbb838 386px,#dbe236 390px,#a6fc3a 394px,#6afd64 410px,#a8fb3a 438px,#b6f735 476px,#affa37 598px)"></i><i style="left:786px;top:249px;width:598px;height:3px;background:linear-gradient(90deg,#fea130 0,#fcb136 70px,#fe982c 114px,#ec520f 142px,#d43305 162px,#d53406 190px,#e2430a 216px,#f25f14 252px,#fd8d28 278px,#fb8022 288px,#f15e13 296px,#da3907 304px,#be2102 304px,#920c01 310px,#7c0403 312px,#7e0502 328px,#c02302 334px,#e5460b 342px,#f9761e 352px,#f05b12 362px,#db3a07 372px,#f7701b 380px,#fbb738 386px,#dbe236 390px,#a7fc3a 394px,#6bfd64 410px,#a8fb39 438px,#b6f735 476px,#affa37 598px)"></i><i style="left:786px;top:252px;width:598px;height:3px;background:linear-gradient(90deg,#fea130 0,#fdb035 70px,#fe962b 112px,#eb510e 140px,#c92903 162px,#c32503 186px,#d63506 212px,#ea4f0e 252px,#fb8122 278px,#f8741c 288px,#e94d0d 298px,#d13005 304px,#b11a01 304px,#7a0403 310px,#7a0403 328px,#c52603 336px,#ea4e0d 344px,#f9751d 352px,#f25f14 362px,#da3807 372px,#f46416 380px,#fdab33 384px,#e6d838 388px,#b5f835 392px,#9efd3f 394px,#6bfd64 410px,#a9fb39 438px,#b6f735 476px,#affa37 598px)"></i><i style="left:786px;top:255px;width:598px;height:3px;background:linear-gradient(90deg,#fea130 0,#fdb035 68px,#fe942a 110px,#eb500e 136px,#be2202 160px,#af1901 182px,#c82903 210px,#e4450a 254px,#f9751d 278px,#f56817 288px,#de3e08 298px,#c62703 304px,#a41301 304px,#7a0403 310px,#7b0403 330px,#c12302 336px,#e84c0c 344px,#f9741d 352px,#f15e13 362px,#da3907 372px,#f76f1a 380px,#fbb738 386px,#dce136 390px,#a7fc3a 394px,#6bfd64 410px,#a9fb39 438px,#b6f735 476px,#affa37 598px)"></i><i style="left:786px;top:258px;width:598px;height:3px;background:linear-gradient(90deg,#fea130 0,#fdaf35 68px,#fe9129 110px,#e94e0d 134px,#b31b01 158px,#9b0f01 180px,#ba1e02 212px,#dc3c08 254px,#f66a18 278px,#f15d13 288px,#db3a07 298px,#bb2002 304px,#970d01 304px,#7a0403 308px,#7a0403 330px,#c62703 336px,#ed5510 346px,#f8731c 352px,#f15e13 362px,#da3907 372px,#f76f1a 380px,#fbb737 386px,#dce136 390px,#a7fc3a 394px,#6bfd64 410px,#a9fb39 438px,#b7f735 476px,#affa37 598px)"></i><i style="left:786px;top:261px;width:598px;height:3px;background:linear-gradient(90deg,#fea130 0,#fdaf35 66px,#fd8f28 108px,#ea4f0e 132px,#ab1601 156px,#870802 176px,#930c01 192px,#a81501 210px,#d13005 254px,#f25f14 276px,#ee5610 288px,#d83706 296px,#b01901 304px,#8a0902 304px,#7a0403 308px,#7c0503 330px,#bb1f02 336px,#e3440a 342px,#f8721c 352px,#f15e13 362px,#da3907 372px,#f76e1a 380px,#fbb637 386px,#dce136 390px,#a8fc3a 394px,#6cfd64 410px,#a9fb39 438px,#b7f735 476px,#affa37 598px)"></i><i style="left:786px;top:264px;width:598px;height:3px;background:linear-gradient(90deg,#fea130 0,#fdae35 66px,#fd8e28 106px,#ef5811 126px,#c22403 146px,#820602 166px,#7b0403 188px,#960d01 210px,#c32503 252px,#ec530f 274px,#eb510e 286px,#d63506 296px,#a51301 304px,#7e0502 304px,#7a0403 330px,#c12402 336px,#e94d0d 344px,#f8721c 352px,#f15d13 362px,#da3807 372px,#f76e1a 380px,#fbb637 386px,#dce136 390px,#a8fc3a 394px,#6cfd63 410px,#aafb39 438px,#b7f735 476px,#affa37 598px)"></i><i style="left:786px;top:267px;width:598px;height:3px;background:linear-gradient(90deg,#fea130 0,#fdae35 66px,#fd8e28 104px,#ef5811 124px,#c42503 142px,#7c0503 162px,#800602 204px,#a61401 246px,#dc3b07 266px,#ea4e0d 280px,#db3a07 292px,#b01901 300px,#9a0f01 304px,#7a0403 304px,#7a0403 330px,#c02202 336px,#e94c0d 344px,#f8711b 352px,#f15d13 362px,#da3807 372px,#f76e1a 380px,#fbb637 386px,#dde136 390px,#a8fb39 394px,#6dfe62 410px,#aafb39 438px,#b8f635 474px,#affa37 598px)"></i><i style="left:786px;top:270px;width:598px;height:3px;background:linear-gradient(90deg,#fea130 0,#fdae35 64px,#fd8e28 102px,#ee5610 124px,#c42503 140px,#7a0403 158px,#800602 228px,#9e1001 250px,#dd3d08 270px,#e5460b 282px,#ce2e04 294px,#900b01 304px,#7a0403 304px,#7a0403 330px,#8f0a01 332px,#c62703 338px,#eb510e 346px,#f8711b 352px,#f15d13 362px,#d93807 372px,#f76d1a 380px,#fbb537 386px,#dde037 390px,#a9fb39 394px,#6efe62 410px,#abfb38 438px,#b9f635 474px,#affa37 598px)"></i><i style="left:786px;top:273px;width:598px;height:3px;background:linear-gradient(90deg,#fea130 0,#fdad34 64px,#fd8e28 100px,#ee5711 122px,#c62703 138px,#7a0403 156px,#7f0502 244px,#c82803 264px,#e04009 278px,#d73606 290px,#bd2102 296px,#7a0403 304px,#7e0502 332px,#bd2102 336px,#e84b0c 344px,#f8711b 352px,#f15d13 362px,#d93807 372px,#f76d19 380px,#fbb537 386px,#dde037 390px,#a9fb39 394px,#6ffe61 410px,#acfa38 438px,#baf635 474px,#affa37 598px)"></i><i style="left:786px;top:276px;width:598px;height:3px;background:linear-gradient(90deg,#fea130 0,#fdad34 64px,#fd8d27 98px,#ee5710 120px,#c52603 138px,#7a0403 154px,#7d0502 250px,#cd2c04 268px,#dc3b08 280px,#c82903 294px,#870802 302px,#7a0403 306px,#7d0502 332px,#bd2102 336px,#e5460b 344px,#f8711b 352px,#f15d13 362px,#d93807 372px,#f66d19 380px,#fcb537 386px,#dee037 390px,#aafb39 394px,#71fe60 410px,#aefa37 438px,#bbf534 474px,#affa37 598px)"></i><i style="left:786px;top:279px;width:598px;height:3px;background:linear-gradient(90deg,#fea130 0,#fdad34 64px,#fd8d27 98px,#ee5710 120px,#c52603 136px,#7a0403 152px,#7d0503 252px,#c32503 268px,#d73606 278px,#ca2a04 292px,#b31a01 296px,#7a0403 304px,#7d0502 332px,#bd2102 336px,#e5460b 344px,#f8711b 352px,#f15d13 362px,#d93807 372px,#f66c19 380px,#fcb437 386px,#dedf37 390px,#aafb39 394px,#72fe5e 410px,#affa37 436px,#bdf434 474px,#affa37 598px)"></i><i style="left:786px;top:282px;width:598px;height:3px;background:linear-gradient(90deg,#fea130 0,#fdac34 64px,#fd8d27 96px,#ef5811 118px,#c62703 136px,#840702 148px,#7a0403 152px,#7c0403 254px,#bd2102 268px,#d23105 278px,#c62703 292px,#af1801 296px,#7c0403 302px,#7e0502 332px,#be2102 336px,#e84c0c 344px,#f8711b 352px,#f15d13 362px,#d93807 372px,#f66c19 380px,#fcb437 386px,#dedf37 390px,#abfb38 394px,#74fe5d 410px,#b1f936 436px,#bef434 474px,#affa37 598px)"></i><i style="left:786px;top:285px;width:598px;height:3px;background:linear-gradient(90deg,#fea130 0,#fdac34 62px,#fd8d28 96px,#f15d13 116px,#cb2b04 134px,#8e0a02 146px,#7a0403 150px,#7c0503 256px,#bb1f02 268px,#ce2d04 280px,#c02302 292px,#a41301 298px,#7a0403 302px,#7a0403 330px,#8f0b01 332px,#bf2202 336px,#e94d0d 344px,#f8721c 352px,#f15d13 362px,#d93807 372px,#f66c19 380px,#fcb437 386px,#dfdf37 390px,#abfb38 394px,#76fe5b 410px,#b2f936 436px,#c1f334 472px,#affa37 598px)"></i><i style="left:786px;top:288px;width:598px;height:3px;background:linear-gradient(90deg,#fea130 0,#fdac34 62px,#fd8e28 94px,#f15e13 116px,#cb2b04 134px,#8d0a02 146px,#7a0403 150px,#7b0403 258px,#b51c02 268px,#ca2a04 280px,#be2102 292px,#a11101 298px,#7a0403 302px,#7a0403 330px,#c02302 336px,#e94d0d 344px,#f8721c 352px,#f15d13 362px,#d93807 372px,#f66c19 380px,#fcb437 386px,#dfdf37 390px,#abfb38 394px,#78fe5a 410px,#b4f836 436px,#c3f234 472px,#affa37 598px)"></i><i style="left:786px;top:291px;width:598px;height:3px;background:linear-gradient(90deg,#fea130 0,#fdac34 62px,#fd8d27 96px,#f05c12 118px,#c92903 134px,#7a0403 150px,#7b0403 258px,#b11901 268px,#c62703 280px,#b91e02 294px,#7b0403 302px,#7a0403 330px,#c22403 336px,#ea4f0d 344px,#f8731c 352px,#f15e13 362px,#d93807 372px,#f76d19 380px,#fcb537 386px,#dee037 390px,#abfb38 394px,#7afe58 410px,#b3f836 434px,#c6f034 470px,#affa37 598px)"></i><i style="left:786px;top:294px;width:598px;height:3px;background:linear-gradient(90deg,#fea130 0,#fdac34 62px,#fd8c27 96px,#f05b12 118px,#cc2b04 134px,#910b01 146px,#7a0403 150px,#7f0502 260px,#ad1701 268px,#c32403 280px,#b71d02 294px,#7a0403 302px,#7c0403 330px,#bc2002 336px,#e4460a 342px,#f9741d 352px,#f15e13 362px,#d93807 372px,#f36315 380px,#feaa33 384px,#e7d739 388px,#b7f735 392px,#a2fd3d 394px,#7bfe57 410px,#b1f936 432px,#c3f134 450px,#c6f034 478px,#affa37 592px,#affa37 598px)"></i><i style="left:786px;top:297px;width:598px;height:3px;background:linear-gradient(90deg,#fea130 0,#fdac34 62px,#fd8b27 98px,#f15e13 118px,#cc2c04 136px,#910b01 148px,#7a0403 152px,#7e0502 260px,#ad1701 270px,#c02202 282px,#b11a01 294px,#7a0403 302px,#7a0403 330px,#c72803 336px,#ec520e 344px,#f9751d 352px,#f25f14 362px,#da3807 372px,#f46516 380px,#fdac34 384px,#e5d938 388px,#b5f835 392px,#9ffd3e 394px,#7cff57 410px,#b0f937 430px,#c3f134 444px,#caed34 474px,#b0f937 580px,#affa37 598px)"></i><i style="left:786px;top:300px;width:598px;height:3px;background:linear-gradient(90deg,#fea130 0,#fdac34 62px,#fd8a26 100px,#f05c12 120px,#ca2a04 138px,#930c01 148px,#7b0403 152px,#7b0403 258px,#ac1701 270px,#bd2002 282px,#b01901 294px,#7a0403 302px,#7b0403 330px,#c22403 336px,#ea4e0d 344px,#f9761e 352px,#f05b12 362px,#dc3b07 372px,#f56817 380px,#fdaf35 384px,#e3db38 388px,#b1f936 392px,#9bfe41 394px,#7cff57 410px,#aefa37 428px,#c5f134 442px,#cdec34 474px,#b1f937 574px,#affa37 598px)"></i><i style="left:786px;top:303px;width:598px;height:3px;background:linear-gradient(90deg,#fea130 0,#fdac34 62px,#fc8725 102px,#f05b12 122px,#ca2a04 140px,#930c01 150px,#7b0403 154px,#7b0403 258px,#aa1601 268px,#ba1e02 282px,#b11a01 294px,#7b0403 302px,#7a0403 328px,#8f0a01 330px,#cd2d04 336px,#f05a12 346px,#f9781e 352px,#f05c12 362px,#dd3c08 372px,#f66c19 380px,#fcb437 384px,#dfdf37 388px,#acfb38 392px,#95fe45 394px,#7afe58 410px,#acfb38 426px,#c7ef34 440px,#d0ea34 472px,#b1f936 570px,#affa37 598px)"></i><i style="left:786px;top:306px;width:598px;height:3px;background:linear-gradient(90deg,#fea130 0,#fdad34 62px,#fc8624 106px,#ee5610 126px,#c82903 142px,#8f0a01 154px,#7a0403 158px,#7e0502 256px,#a81501 266px,#b61d02 282px,#b41b01 294px,#7b0403 304px,#7b0403 328px,#c12302 334px,#e6480b 342px,#fa791f 352px,#f15d13 362px,#de3d08 372px,#f26114 378px,#fb7e21 380px,#fab938 384px,#d9e436 388px,#a5fc3b 392px,#8dff4a 394px,#78fe5a 410px,#a8fb39 424px,#c9ee34 440px,#d2e935 472px,#b2f936 566px,#affa37 598px)"></i><i style="left:786px;top:309px;width:598px;height:3px;background:linear-gradient(90deg,#fea130 0,#fdad34 64px,#fc8223 110px,#e6480b 134px,#bc2002 148px,#7a0403 160px,#7c0503 254px,#a81501 264px,#b71d02 284px,#b81d02 294px,#7c0403 306px,#7a0403 328px,#cd2d04 336px,#f05a12 344px,#fa7b1f 352px,#f25e13 362px,#e03f09 372px,#f56717 378px,#fc8524 380px,#f8bf3a 384px,#d2e935 388px,#aafb39 392px,#81ff53 394px,#74fe5d 410px,#a5fc3b 422px,#cbed34 440px,#d4e835 472px,#b2f936 564px,#affa37 598px)"></i><i style="left:786px;top:312px;width:598px;height:3px;background:linear-gradient(90deg,#fea130 0,#fdad34 64px,#fb8122 114px,#e3430a 140px,#b61c02 154px,#7c0403 164px,#7d0502 250px,#a91501 260px,#b31a01 272px,#be2102 294px,#7a0403 310px,#7f0502 328px,#c22403 334px,#e3440a 340px,#fa7c20 352px,#f26014 362px,#e24209 372px,#f46416 376px,#fd8e28 380px,#f4c63a 384px,#bbf534 390px,#90ff48 392px,#73fe5d 394px,#6bfd64 408px,#a2fd3d 420px,#cced34 438px,#d5e635 472px,#b2f936 564px,#affa37 598px)"></i><i style="left:786px;top:315px;width:598px;height:3px;background:linear-gradient(90deg,#fea130 0,#fdad34 64px,#fb8122 118px,#e5460b 142px,#bc2002 156px,#7a0403 168px,#7d0502 246px,#af1901 256px,#b81d02 266px,#c12302 288px,#c52603 294px,#8e0a02 308px,#7a0403 312px,#7c0503 326px,#c62703 334px,#e5470b 340px,#fb7e21 352px,#f36215 362px,#e4460a 372px,#f66b19 376px,#fe962b 380px,#efce3a 384px,#b1f936 390px,#81ff53 392px,#64fc6a 394px,#63fc6a 408px,#75fe5c 412px,#a5fc3b 422px,#cdec34 438px,#d6e635 472px,#b2f936 562px,#affa37 598px)"></i><i style="left:786px;top:318px;width:598px;height:3px;background:linear-gradient(90deg,#fea130 0,#fdae35 66px,#fc8524 118px,#e7490c 146px,#bf2202 162px,#900b02 170px,#7a0403 174px,#7d0502 242px,#b61c02 250px,#c32503 258px,#c12302 280px,#ce2d04 294px,#9d1001 308px,#7b0403 314px,#7e0502 326px,#cb2b04 334px,#ea4f0d 340px,#fb7f22 352px,#f46416 362px,#e7490b 372px,#f56717 376px,#fe9f2f 380px,#f2c93a 384px,#b5f836 388px,#85ff50 392px,#5efc6f 394px,#52fa79 396px,#5cfc70 408px,#9dfe40 420px,#caee34 436px,#d7e536 470px,#b3f836 562px,#affa37 598px)"></i><i style="left:786px;top:321px;width:598px;height:3px;background:linear-gradient(90deg,#fea130 0,#fdae35 66px,#fd8925 120px,#e6490b 154px,#c52603 168px,#7d0502 178px,#7b0403 238px,#be2202 246px,#d13005 252px,#c92903 278px,#d73606 294px,#ac1701 308px,#7b0403 316px,#8a0902 326px,#d63406 334px,#f46416 344px,#fb8122 352px,#f36215 364px,#e94c0d 372px,#f76d1a 376px,#fbb637 382px,#d6e635 386px,#abfb39 388px,#76fe5b 392px,#4ff97c 394px,#44f786 396px,#52fa79 408px,#6afd65 412px,#9ffd3e 420px,#ccec34 438px,#d6e635 472px,#b3f836 562px,#affa37 598px)"></i><i style="left:786px;top:324px;width:598px;height:3px;background:linear-gradient(90deg,#fea130 0,#fdaf35 68px,#fd8e28 122px,#e6490c 164px,#d23105 172px,#9f1101 178px,#7b0403 184px,#7d0502 236px,#c12403 240px,#dd3d08 246px,#d53406 280px,#e04009 294px,#b91e02 308px,#850702 316px,#9a0f01 326px,#d43205 334px,#f15e13 342px,#fc8323 352px,#ea4f0e 372px,#f8731c 376px,#fdad34 380px,#e8d639 384px,#b1f936 388px,#7eff56 390px,#43f787 394px,#39f491 396px,#49f882 406px,#5cfb71 410px,#99fe42 420px,#c4f134 434px,#d8e436 464px,#b2f936 564px,#affa37 598px)"></i><i style="left:786px;top:327px;width:598px;height:3px;background:linear-gradient(90deg,#fea130 0,#fdb035 68px,#fe952b 122px,#f46717 160px,#f15f14 170px,#d03005 178px,#9f1201 184px,#7f0502 188px,#7f0502 232px,#c32603 236px,#e3460b 240px,#ef5a12 244px,#de3e08 274px,#e94c0d 294px,#c02302 310px,#940c01 316px,#a31301 326px,#dc3c08 334px,#f8711b 346px,#fc8424 352px,#ec520f 372px,#f66c19 374px,#fcb336 380px,#e4da38 384px,#aafb39 388px,#73fe5e 390px,#39f490 394px,#31f199 396px,#43f787 406px,#56fb75 410px,#91ff47 418px,#bbf534 430px,#cdec34 442px,#d4e735 472px,#b2f936 564px,#affa37 598px)"></i><i style="left:786px;top:330px;width:598px;height:3px;background:linear-gradient(90deg,#fea130 0,#fdb035 70px,#fe9c2e 124px,#fb7d20 156px,#fc8624 170px,#e4480b 182px,#c12503 188px,#810602 194px,#7a0403 200px,#7e0502 230px,#a51502 232px,#cf3105 234px,#ef5c13 236px,#fa7c20 240px,#fa7b1f 246px,#ea4f0e 270px,#ee5710 290px,#f05b12 294px,#cc2b04 310px,#a11201 316px,#ab1601 326px,#df3f09 334px,#f9771e 348px,#fc8524 352px,#ed5510 372px,#f8701b 374px,#fab838 380px,#d0ea35 384px,#a2fd3d 388px,#41f689 392px,#2aefa0 394px,#38f491 404px,#4af881 410px,#8eff49 418px,#b9f635 430px,#cbed34 442px,#d2e835 472px,#b2f936 566px,#affa37 598px)"></i><i style="left:786px;top:333px;width:598px;height:3px;background:linear-gradient(90deg,#fea130 0,#fcb136 72px,#fea330 126px,#fd8f28 154px,#fe962b 162px,#fea632 170px,#f66d1a 184px,#d83a08 192px,#b21d03 196px,#830702 200px,#7a0403 202px,#7a0403 226px,#a81802 228px,#db3e09 230px,#f8771e 234px,#fe9f2f 238px,#fda631 242px,#f36315 270px,#f46516 288px,#f66c19 294px,#d63506 310px,#ad1701 316px,#b21a01 326px,#e6480b 336px,#fc8624 352px,#f56817 364px,#f05a12 372px,#fa791f 374px,#fbb637 380px,#e1dd37 382px,#b3f836 386px,#7dfe56 388px,#32f298 392px,#21eaab 394px,#37f492 406px,#4ff97b 410px,#8cff4b 418px,#b7f735 430px,#c9ee34 442px,#d0ea34 474px,#b1f936 568px,#affa37 598px)"></i><i style="left:786px;top:336px;width:598px;height:3px;background:linear-gradient(90deg,#fea130 0,#fcb236 76px,#fea933 130px,#fea130 154px,#fdab34 162px,#f8be39 170px,#fd8f28 186px,#f6731d 196px,#e65210 200px,#c32c06 202px,#910e03 206px,#7c0403 208px,#7a0403 224px,#8b0a02 224px,#ab1c04 226px,#d13809 226px,#e85612 228px,#fa8524 230px,#fcab33 232px,#f3c73a 238px,#fea330 254px,#f9761d 272px,#fa791f 290px,#fb7d20 294px,#de3e08 310px,#b71d02 316px,#b91e02 326px,#e74a0c 336px,#fc8725 352px,#f36315 368px,#f46516 372px,#fd8a26 374px,#f8be39 378px,#dae236 382px,#a8fb3b 384px,#6bfd64 388px,#34f296 390px,#1ae3b9 394px,#1de7b2 398px,#44f786 410px,#83ff51 418px,#affa37 428px,#c5f034 440px,#ceeb34 472px,#b1f936 572px,#affa37 598px)"></i><i style="left:786px;top:339px;width:598px;height:3px;background:linear-gradient(90deg,#fea230 0,#fcb437 78px,#fdb035 136px,#fbb737 160px,#ebd239 170px,#fab436 190px,#f5bd36 200px,#f59f2b 204px,#e9751e 208px,#ba340c 210px,#920f03 212px,#7c0403 214px,#890902 214px,#7a0403 216px,#7a0403 216px,#991404 218px,#910e03 220px,#9e1b06 222px,#d46617 224px,#e69021 224px,#ebaf2c 226px,#e8ca36 228px,#d4e437 236px,#d8e237 242px,#f4bf36 254px,#fa992b 274px,#fa9f2d 294px,#ed6015 310px,#d13909 316px,#d03809 326px,#f26c1a 336px,#fa9d2c 352px,#f78523 368px,#f78e26 372px,#eec234 376px,#c6e93c 380px,#89fa52 382px,#74fa61 384px,#70fd60 384px,#32f199 388px,#1ae0be 390px,#1dced6 394px,#18d9c7 398px,#25eda6 404px,#4cf97f 410px,#88ff4e 418px,#b2f936 430px,#c4f134 444px,#cbed34 474px,#b0f937 578px,#affa37 598px)"></i><i style="left:786px;top:342px;width:598px;height:3px;background:linear-gradient(90deg,#fea832 0,#fbb637 86px,#f8be39 154px,#eecf3a 162px,#dae336 170px,#dce037 190px,#acf73e 202px,#8ff654 208px,#9fef4f 210px,#bbd941 212px,#c6bf34 214px,#2e5c5d 214px,#3a5f51 216px,#3d6050 216px,#2a5c6c 218px,#2f6373 220px,#326ca7 224px,#3681c9 228px,#3794db 236px,#449fcc 308px,#4fa2c2 326px,#3d9cd2 354px,#3a8cc3 366px,#3272a5 372px,#2f507f 376px,#383073 384px,#24e8ac 384px,#1dd1d2 388px,#2bb8ee 392px,#25c1e6 396px,#19e2bb 400px,#51fa7a 410px,#87ff4e 416px,#affa37 428px,#c2f234 444px,#c7ef34 478px,#b1f936 586px,#b0f937 598px)"></i><i style="left:786px;top:345px;width:598px;height:3px;background:linear-gradient(90deg,#dbd934 0,#c3e73a 144px,#b3ef41 160px,#82f75c 172px,#71f766 184px,#74f863 190px,#54f67b 198px,#28e4af 204px,#23ccd6 208px,#20d1d1 210px,#20e7b0 214px,#30123b 214px,#30123b 222px,#321643 222px,#3e3790 226px,#4451bf 228px,#4666dd 234px,#476ee6 252px,#466ae2 358px,#4559ca 366px,#4040a1 370px,#382567 372px,#30123b 374px,#30123b 384px,#8ee46b 384px,#95d975 392px,#b4ca5c 402px,#d9ba35 416px,#eab52e 448px,#ddd939 598px)"></i><i style="left:786px;top:348px;width:598px;height:3px;background:linear-gradient(90deg,#c2f234 0,#affa37 128px,#9dfe40 160px,#4ef97d 174px,#35f394 182px,#3af490 194px,#18dec0 204px,#20c8dd 208px,#1ecbda 210px,#1be0bc 212px,#24eaaa 212px,#38f393 214px,#30123b 214px,#382b6e 222px,#404daf 226px,#4366d3 228px,#427de9 234px,#4182ed 268px,#4479e9 360px,#4464d2 368px,#3f47a6 372px,#382f73 374px,#351f57 380px,#321748 384px,#edcb38 384px,#e6d638 390px,#f6bf38 396px,#fb8423 406px,#f9791f 416px,#fdae34 514px,#f4c73a 598px)"></i><i style="left:786px;top:351px;width:598px;height:3px;background:linear-gradient(90deg,#bef434 0,#b1f936 126px,#9efd3f 160px,#41f688 176px,#2df09d 182px,#33f297 196px,#1ce3b7 208px,#20e7af 210px,#4af781 212px,#89fe4e 214px,#7ee872 214px,#a8d860 218px,#cbb83f 222px,#d7a029 226px,#da7c18 242px,#da7f18 248px,#dd8c1d 254px,#d87817 264px,#dcb833 276px,#d6c63c 282px,#d7c43b 322px,#d4c73d 344px,#d7b032 358px,#d19123 364px,#c57a19 366px,#a45e13 368px,#905513 370px,#945213 374px,#975313 378px,#b17420 382px,#b6842d 384px,#ee6116 384px,#f87e21 388px,#f97f21 394px,#f05b12 406px,#f56717 422px,#fe952b 470px,#f5c53a 598px)"></i><i style="left:786px;top:354px;width:598px;height:3px;background:linear-gradient(90deg,#bef434 0,#b1f936 126px,#9efd3f 160px,#41f688 176px,#2df09d 182px,#42f688 208px,#52f97a 210px,#91fe48 212px,#c4f035 214px,#edcf39 216px,#fdab33 218px,#f36315 224px,#ec530f 228px,#de3d08 240px,#da3907 246px,#e94d0d 254px,#d63406 264px,#f8711b 274px,#fe9a2d 280px,#fd8d27 316px,#fe982c 338px,#fa7e21 350px,#e84e0e 358px,#cf3005 362px,#820702 366px,#7a0403 368px,#7f0502 382px,#c32704 388px,#d93907 396px,#ec530f 418px,#fc8725 458px,#fcb236 540px,#f5c43a 598px)"></i><i style="left:786px;top:357px;width:598px;height:3px;background:linear-gradient(90deg,#bef434 0,#b1f936 126px,#9efd3f 160px,#42f688 176px,#2ef09d 182px,#46f784 200px,#69fd66 208px,#7dfe56 210px,#9cfe40 210px,#cdec34 212px,#f2c93a 214px,#fea230 216px,#f05b12 222px,#e84b0c 224px,#e3440a 236px,#d63406 244px,#e6480b 254px,#d13005 264px,#f66d19 274px,#fd8e28 280px,#fa791f 314px,#fb8122 336px,#f26215 348px,#da3907 356px,#b01a02 360px,#7f0502 362px,#7d0502 388px,#b91f02 398px,#e4450a 418px,#fb7d20 454px,#fea832 520px,#f6c33a 598px)"></i><i style="left:786px;top:360px;width:598px;height:3px;background:linear-gradient(90deg,#bef434 0,#b1f936 126px,#9ffd3f 160px,#42f788 176px,#2ef09c 182px,#46f785 200px,#7afe58 208px,#aafb39 210px,#d9e336 212px,#f9bd39 214px,#fe932a 216px,#e7490c 224px,#e2430a 236px,#d33205 244px,#e4450a 254px,#cc2b04 264px,#f36315 274px,#fc8323 280px,#f56717 314px,#f56918 336px,#e3440a 348px,#c02303 354px,#7f0602 360px,#7d0503 394px,#bd2002 406px,#e2430a 422px,#fa7a1f 458px,#fea632 520px,#f6c23a 598px)"></i><i style="left:786px;top:363px;width:598px;height:3px;background:linear-gradient(90deg,#bef434 0,#b1f936 126px,#9ffd3f 160px,#42f788 176px,#2ef09c 182px,#47f883 200px,#7fff55 208px,#aefa37 210px,#efce3a 214px,#fea230 216px,#fc8423 218px,#e5470b 224px,#e14109 236px,#d23005 244px,#e14209 254px,#c72803 264px,#f05b12 274px,#fa791f 280px,#ef5811 314px,#ed5510 336px,#d43306 348px,#a91601 354px,#7b0403 358px,#7e0502 398px,#b71d02 408px,#e04009 424px,#f9761d 458px,#fea330 518px,#f7c13a 598px)"></i><i style="left:786px;top:366px;width:598px;height:3px;background:linear-gradient(90deg,#bef434 0,#b1f936 126px,#9ffd3f 160px,#42f788 176px,#2ef19c 182px,#47f883 200px,#80ff54 208px,#affa37 210px,#efcd3a 214px,#fea030 216px,#fc8223 218px,#e5460b 224px,#e04009 236px,#d02f05 244px,#df3f09 254px,#c32503 264px,#eb500e 274px,#f8701b 280px,#e94d0d 312px,#e4450a 336px,#c72803 346px,#970e01 352px,#7a0403 356px,#7e0502 400px,#b51c02 410px,#de3d08 426px,#f8731c 460px,#fea130 520px,#f7c03a 598px)"></i><i style="left:786px;top:369px;width:598px;height:3px;background:linear-gradient(90deg,#bef434 0,#b1f936 126px,#9ffd3f 160px,#42f788 176px,#2ef19c 182px,#48f882 200px,#81ff53 208px,#affa37 210px,#f0cd3a 214px,#fea02f 216px,#fc8222 218px,#e4450a 224px,#df3f09 236px,#cf2e04 244px,#de3d08 254px,#c02202 264px,#e84c0c 274px,#f56918 280px,#e4450a 312px,#da3907 336px,#bc2002 346px,#7a0403 354px,#7c0503 400px,#b61c02 412px,#df3e08 428px,#f9751d 466px,#fea431 528px,#f8c03a 598px)"></i><i style="left:786px;top:372px;width:598px;height:3px;background:linear-gradient(90deg,#bef434 0,#b1f936 126px,#9ffd3f 160px,#42f787 176px,#2ef19c 182px,#48f882 200px,#81ff53 208px,#b0f937 210px,#f0cd3a 214px,#fea02f 216px,#fc8122 218px,#e4450a 224px,#df3f08 236px,#ce2d04 244px,#dd3c08 254px,#bd2102 264px,#e6480b 274px,#f46416 280px,#df3f08 312px,#d23005 336px,#ae1801 346px,#7c0503 352px,#7e0502 402px,#b91e02 414px,#e14109 432px,#fa791f 472px,#fea833 542px,#f8bf3a 598px)"></i><i style="left:786px;top:375px;width:598px;height:3px;background:linear-gradient(90deg,#bef434 0,#b1f936 126px,#9ffd3f 160px,#43f787 176px,#2ef19c 182px,#48f882 200px,#81ff53 208px,#b0f937 210px,#f0cc3a 214px,#fe9f2f 216px,#fb8122 218px,#e4450a 224px,#df3e08 236px,#ce2d04 244px,#dc3b08 254px,#bc2002 264px,#e5460b 274px,#f26014 280px,#dc3b07 314px,#cd2d04 336px,#a41301 346px,#7c0503 350px,#7c0503 402px,#b61c02 414px,#df3f08 432px,#f9761e 472px,#fea732 540px,#f8be39 598px)"></i><i style="left:786px;top:378px;width:598px;height:3px;background:linear-gradient(90deg,#bef434 0,#b1f936 126px,#9ffd3e 160px,#43f787 176px,#2ff19b 182px,#48f882 200px,#81ff53 208px,#b0f937 210px,#f0cc3a 214px,#fe9f2f 216px,#fb8122 218px,#e4450a 224px,#df3e08 236px,#ce2d04 244px,#dc3b08 254px,#bb1f02 264px,#e6470b 274px,#f15d13 280px,#d93807 314px,#c92903 336px,#9e1001 346px,#7a0403 350px,#7d0502 402px,#b71d02 414px,#e04009 434px,#fa781e 476px,#feaa33 550px,#f9bd39 598px)"></i><i style="left:786px;top:381px;width:598px;height:3px;background:linear-gradient(90deg,#bef434 0,#b1f936 126px,#9ffd3e 160px,#43f787 176px,#2ff19b 182px,#49f882 200px,#81ff53 208px,#b0f937 210px,#f0cc3a 214px,#fe9f2f 216px,#fb8122 218px,#e4450a 224px,#df3e08 236px,#ce2d04 244px,#dc3b08 254px,#ba1f02 264px,#e4450a 274px,#ef5911 280px,#d83706 316px,#c62703 336px,#9c0f01 346px,#7a0403 350px,#7b0403 400px,#b71d02 414px,#e04009 436px,#fa781e 478px,#fdaa33 554px,#f9bc39 598px)"></i><i style="left:786px;top:384px;width:598px;height:3px;background:linear-gradient(90deg,#bef434 0,#b1f936 126px,#9ffd3e 160px,#43f787 176px,#2ff19b 182px,#49f882 200px,#81ff53 208px,#b0f937 210px,#f0cc3a 214px,#fe9f2f 216px,#fb8122 218px,#e4450a 224px,#df3f08 236px,#ce2e04 244px,#dd3c08 254px,#b91e02 264px,#e2430a 274px,#ed5510 280px,#d93807 314px,#c62703 336px,#980e01 346px,#7a0403 352px,#7c0503 400px,#bb1f02 416px,#e3440a 438px,#fb7e21 486px,#fcb236 574px,#f9bc39 598px)"></i><i style="left:786px;top:387px;width:598px;height:3px;background:linear-gradient(90deg,#bef434 0,#b1f936 126px,#9ffd3e 160px,#43f787 176px,#2ff19b 182px,#49f881 200px,#82ff53 208px,#b0f937 210px,#f0cc3a 214px,#fe9f2f 216px,#fb8122 218px,#e4450a 224px,#df3f09 236px,#d13005 246px,#dd3c08 254px,#b81e02 264px,#e03f09 274px,#ea4f0e 280px,#dd3c08 306px,#cb2a04 334px,#9d1001 346px,#7b0403 352px,#7f0502 398px,#bc2002 416px,#e5460b 440px,#fc8223 492px,#fbb838 590px,#fabb39 598px)"></i><i style="left:786px;top:390px;width:598px;height:3px;background:linear-gradient(90deg,#bef434 0,#b1f936 126px,#9ffd3e 160px,#43f787 176px,#2ff19b 182px,#49f881 200px,#81ff53 208px,#b0f937 210px,#f0cc3a 214px,#fe9f2f 216px,#fb8122 218px,#e4450a 224px,#e04009 236px,#d23105 246px,#dd3d08 254px,#b71d02 264px,#dc3b08 274px,#e5470b 282px,#dd3d08 304px,#cf2f05 334px,#a41301 346px,#7b0403 354px,#7d0503 396px,#bf2202 416px,#e6480b 442px,#fc8424 496px,#fabb39 598px)"></i><i style="left:786px;top:393px;width:598px;height:3px;background:linear-gradient(90deg,#bef434 0,#b1f936 126px,#9ffd3e 160px,#43f787 176px,#2ff19b 182px,#49f881 200px,#81ff53 208px,#b0f937 210px,#f0cc3a 214px,#fea02f 216px,#fc8122 218px,#e4460a 224px,#e04009 236px,#d33105 246px,#de3d08 254px,#b51c02 264px,#d83606 274px,#e03f09 282px,#db3a07 298px,#da3907 326px,#c52603 340px,#7b0403 358px,#7d0502 392px,#c42503 416px,#e94d0d 446px,#fd8b27 506px,#faba38 598px)"></i><i style="left:786px;top:396px;width:598px;height:3px;background:linear-gradient(90deg,#bef434 0,#b1f936 126px,#9ffd3e 160px,#43f786 176px,#2ff19b 182px,#49f881 200px,#81ff53 208px,#b0f937 210px,#f0cd3a 214px,#fea02f 216px,#fc8222 218px,#e4460a 224px,#e14109 236px,#d33205 246px,#de3e08 254px,#b31a01 264px,#d23105 274px,#d93807 282px,#d53406 294px,#e04009 322px,#d02f05 338px,#800602 360px,#7c0403 386px,#cc2c04 420px,#ef5911 454px,#fe922a 518px,#fab938 598px)"></i><i style="left:786px;top:399px;width:598px;height:3px;background:linear-gradient(90deg,#bef434 0,#b1f936 126px,#a0fd3e 160px,#44f786 176px,#2ff19b 182px,#49f881 200px,#81ff53 208px,#b0f937 210px,#f0cd3a 214px,#fea02f 216px,#fc8223 218px,#e5460b 224px,#e14109 236px,#d43305 246px,#df3e08 254px,#b01901 264px,#cc2c04 274px,#d23005 282px,#cd2d04 292px,#e4450a 318px,#d53406 338px,#8e0a02 362px,#7e0502 374px,#8e0a02 388px,#d33205 422px,#f46416 464px,#fe9c2e 536px,#fab938 598px)"></i><i style="left:786px;top:402px;width:598px;height:3px;background:linear-gradient(90deg,#bef434 0,#b1f936 126px,#a0fd3e 160px,#44f786 176px,#2ff19b 182px,#49f881 200px,#81ff53 208px,#b0f937 210px,#f0cd3a 214px,#fea02f 216px,#fc8223 218px,#e5460b 224px,#e24209 236px,#d53306 246px,#df3f08 254px,#af1801 264px,#c82803 276px,#cb2a04 282px,#c62703 290px,#e6490b 314px,#e04009 334px,#a01101 360px,#8e0a01 376px,#a81501 396px,#de3d08 430px,#f9761d 482px,#fdb035 578px,#fab938 598px)"></i><i style="left:786px;top:405px;width:598px;height:3px;background:linear-gradient(90deg,#bef434 0,#b2f936 126px,#a0fd3e 160px,#44f786 176px,#2ff19b 182px,#49f881 200px,#81ff53 208px,#b0f937 210px,#f0cd3a 214px,#fea02f 216px,#fc8223 218px,#e5460b 224px,#e2430a 236px,#d33205 244px,#e03f09 254px,#ae1801 264px,#c32503 276px,#c52603 282px,#c02302 290px,#e94d0d 312px,#e84b0c 332px,#c22403 352px,#a01101 372px,#aa1601 390px,#e3440a 434px,#fb8122 494px,#fbb838 598px)"></i><i style="left:786px;top:408px;width:598px;height:3px;background:linear-gradient(90deg,#bef434 0,#b2f936 126px,#a0fd3e 160px,#44f786 176px,#30f19a 182px,#49f881 200px,#81ff53 208px,#b0f937 210px,#f0cd3a 214px,#fea02f 216px,#fc8223 218px,#e5470b 224px,#e2430a 236px,#d43305 244px,#e04009 254px,#ae1801 264px,#c22403 276px,#c42503 282px,#bf2202 290px,#eb510e 312px,#ed5510 328px,#d43306 348px,#af1901 370px,#b41b01 390px,#e94d0d 440px,#fd8d27 512px,#fbb838 598px)"></i><i style="left:786px;top:411px;width:598px;height:3px;background:linear-gradient(90deg,#bef434 0,#b2f936 126px,#a0fd3e 160px,#44f786 176px,#30f19a 182px,#49f881 200px,#81ff53 208px,#b0f937 210px,#f0cd3a 214px,#fea02f 216px,#fc8223 218px,#e5470b 224px,#e3440a 236px,#d53406 244px,#e14209 254px,#b01901 264px,#c52603 276px,#c62703 282px,#c32503 290px,#ee5710 310px,#f26014 326px,#e94c0d 340px,#c42503 362px,#ba1f02 382px,#e94d0d 436px,#fd8d27 512px,#fbb838 598px)"></i><i style="left:786px;top:414px;width:598px;height:3px;background:linear-gradient(90deg,#bef434 0,#b2f936 126px,#a0fd3e 160px,#44f786 176px,#30f19a 182px,#49f881 200px,#81ff53 208px,#b0f937 210px,#f0cd3a 214px,#fea02f 216px,#fc8223 218px,#e5470b 224px,#e3440a 236px,#d63406 244px,#e3430a 254px,#b41b01 264px,#ca2a04 276px,#cb2b04 282px,#cf2e04 292px,#f36115 312px,#f56918 328px,#ec530f 340px,#ce2d04 362px,#c42603 384px,#f05a12 448px,#fe972c 530px,#fbb738 598px)"></i><i style="left:786px;top:417px;width:598px;height:3px;background:linear-gradient(90deg,#bef434 0,#b2f936 126px,#a0fd3e 160px,#44f786 176px,#30f19a 182px,#4af881 200px,#82ff53 208px,#b0f937 210px,#f0cd3a 214px,#fea02f 216px,#fc8223 218px,#e5470b 224px,#e4450a 236px,#d73506 244px,#e4460a 254px,#ba1f02 264px,#d33205 276px,#d63406 282px,#db3a07 292px,#f76f1a 314px,#f8711b 330px,#d83606 360px,#ce2d04 386px,#f56817 460px,#fea632 558px,#fbb738 598px)"></i><i style="left:786px;top:420px;width:598px;height:3px;background:linear-gradient(90deg,#bef434 0,#b2f936 126px,#a0fd3e 160px,#44f786 176px,#30f19a 182px,#4af881 200px,#82ff53 208px,#b0f937 210px,#f0cd3a 214px,#fea02f 216px,#fc8323 218px,#e5470b 224px,#e4450a 236px,#d83606 244px,#e6480b 254px,#c12302 264px,#dd3c08 276px,#e2430a 282px,#e4450a 292px,#fa7c20 314px,#fa7a1f 334px,#e14109 358px,#d53406 386px,#f15c13 444px,#fe9a2d 536px,#fbb738 598px)"></i><i style="left:786px;top:423px;width:598px;height:3px;background:linear-gradient(90deg,#bef434 0,#b2f936 126px,#a0fd3e 160px,#44f786 176px,#30f19a 182px,#4af881 200px,#82ff53 208px,#b0f937 210px,#f0cd3a 214px,#fea02f 216px,#fc8323 218px,#e6480b 224px,#e4460a 236px,#d93707 244px,#e84b0c 254px,#c82803 264px,#e6490c 276px,#ed540f 282px,#ee5711 292px,#fd8825 314px,#fc8423 334px,#e6490b 360px,#dc3b07 386px,#f26014 444px,#fe9e2f 544px,#fbb738 598px)"></i><i style="left:786px;top:426px;width:598px;height:3px;background:linear-gradient(90deg,#bef434 0,#b2f936 126px,#a0fd3e 160px,#44f786 176px,#30f19a 182px,#4af881 200px,#81ff53 208px,#b0f937 210px,#f0cd3a 214px,#fea030 216px,#fc8323 218px,#e6480b 224px,#e5460b 236px,#da3807 244px,#ea4e0d 254px,#ce2e04 264px,#ef5911 276px,#f66b19 280px,#f66b19 290px,#fe952b 316px,#fd8d28 336px,#ec520f 360px,#e14209 386px,#f15e13 438px,#fe9f2f 544px,#fbb738 598px)"></i><i style="left:786px;top:429px;width:598px;height:3px;background:linear-gradient(90deg,#bef434 0,#b2f936 126px,#a0fd3e 160px,#44f786 176px,#30f19a 182px,#4af881 200px,#81ff53 208px,#b0f937 210px,#f0cd3a 214px,#fea130 216px,#fc8323 218px,#e6480b 224px,#e5470b 236px,#da3907 244px,#eb510e 254px,#d53306 264px,#f66a18 276px,#fb8122 280px,#fc8423 292px,#fea230 318px,#fe972c 336px,#f05b12 360px,#e6490b 386px,#f36115 436px,#fea531 558px,#fbb738 598px)"></i><i style="left:786px;top:432px;width:598px;height:3px;background:linear-gradient(90deg,#bef434 0,#b2f936 126px,#a0fd3e 160px,#44f785 176px,#30f19a 182px,#4af881 200px,#81ff53 208px,#b0f937 210px,#f0cd3a 214px,#fea130 216px,#fc8323 218px,#e6480b 224px,#e6480b 236px,#db3a07 244px,#ed540f 254px,#da3907 264px,#f9751d 274px,#fe952b 280px,#fea130 300px,#fdac34 326px,#fe9d2e 338px,#f46416 362px,#eb500e 386px,#f56717 440px,#fcb036 582px,#fbb738 598px)"></i><i style="left:786px;top:435px;width:598px;height:3px;background:linear-gradient(90deg,#bef434 0,#b2f936 126px,#a0fd3e 160px,#40f689 178px,#30f19a 182px,#4af881 200px,#81ff53 208px,#b0f937 210px,#efcd3a 214px,#fea130 216px,#fc8323 218px,#e6480b 224px,#e6480b 236px,#dc3b08 244px,#ee5711 254px,#df3e08 264px,#fc8423 274px,#fea631 280px,#fbb537 326px,#fea632 340px,#f66d19 362px,#ef5811 388px,#f76d1a 442px,#fbb637 596px,#fbb738 598px)"></i><i style="left:786px;top:438px;width:598px;height:3px;background:linear-gradient(90deg,#bef434 0,#b2f936 126px,#a0fd3e 160px,#40f689 178px,#30f19a 182px,#4af880 200px,#81ff53 208px,#b0f937 210px,#efcd3a 214px,#fea130 216px,#fc8323 218px,#e6490b 224px,#e6490b 236px,#dd3c08 244px,#f05a12 254px,#e2430a 264px,#fd8926 274px,#fcb236 280px,#f9bd39 330px,#fea632 344px,#f8741c 364px,#f25f14 390px,#f9771e 454px,#fbb738 598px)"></i><i style="left:786px;top:441px;width:598px;height:3px;background:linear-gradient(90deg,#bef434 0,#b2f936 126px,#a0fd3e 160px,#41f689 178px,#30f19a 182px,#4af880 200px,#81ff53 208px,#aff937 210px,#efcd3a 214px,#fea130 216px,#fc8423 218px,#e6490b 224px,#e74a0c 236px,#de3d08 244px,#f15d13 254px,#e5470b 264px,#fe932a 274px,#f9bc39 280px,#f5c53a 328px,#fcb437 342px,#fa7a1f 366px,#f46617 392px,#fb7f21 464px,#fbb738 598px)"></i><i style="left:786px;top:444px;width:598px;height:3px;background:linear-gradient(90deg,#bef434 0,#b2f936 126px,#a0fd3e 160px,#41f689 178px,#30f19a 182px,#4af881 200px,#81ff53 208px,#affa37 210px,#efcd3a 214px,#fea130 216px,#fc8423 218px,#e7490b 224px,#e74a0c 236px,#df3e08 244px,#f25f14 254px,#e84b0c 264px,#fe942a 272px,#f6c33a 280px,#efce3a 322px,#f6c23a 338px,#fc8524 366px,#f76e1a 392px,#fb7e21 454px,#fbb738 598px)"></i><i style="left:786px;top:447px;width:598px;height:3px;background:linear-gradient(90deg,#bef434 0,#b2f936 126px,#a0fd3e 160px,#41f689 178px,#30f19a 182px,#4af881 200px,#81ff53 208px,#affa37 210px,#efcd3a 214px,#fea130 216px,#fc8424 218px,#e7490c 224px,#e84b0c 236px,#df3f09 244px,#f36115 254px,#ea4e0d 264px,#fe9a2d 272px,#f2c93a 280px,#ead439 316px,#f1cb3a 338px,#fe952b 362px,#f9771e 386px,#fa7b1f 436px,#fbb738 598px)"></i><i style="left:786px;top:450px;width:598px;height:3px;background:linear-gradient(90deg,#bef434 0,#b2f936 126px,#a0fd3e 160px,#41f689 178px,#30f19a 182px,#4af881 200px,#81ff53 208px,#affa37 210px,#efce3a 214px,#fea230 216px,#fc8424 218px,#e74a0c 224px,#e84b0c 236px,#e04009 244px,#f36315 254px,#eb510e 264px,#fe9f2f 272px,#efce3a 280px,#e4da38 312px,#ead339 336px,#fea230 360px,#fb7f21 386px,#fb7e21 434px,#fbb838 598px)"></i><i style="left:786px;top:453px;width:598px;height:3px;background:linear-gradient(90deg,#bef434 0,#b2f936 126px,#a0fd3e 160px,#41f689 178px,#30f19a 182px,#4af881 200px,#81ff53 208px,#affa37 210px,#efce3a 214px,#fea230 216px,#fc8424 218px,#e74a0c 224px,#e84c0c 236px,#e14109 244px,#f46516 254px,#eb500e 264px,#f8711b 268px,#fcb136 274px,#ecd239 280px,#dfdf37 310px,#e3db38 336px,#fdab34 358px,#fc8624 386px,#fc8223 434px,#fbb838 598px)"></i><i style="left:786px;top:456px;width:598px;height:3px;background:linear-gradient(90deg,#bef434 0,#b2f936 126px,#a0fd3e 160px,#41f689 178px,#30f19a 182px,#4af881 200px,#81ff53 208px,#affa37 210px,#efce3a 214px,#fea230 216px,#fc8524 218px,#e74a0c 224px,#e94c0d 236px,#e14209 244px,#f56717 254px,#ec530f 264px,#f9741d 268px,#fdae35 274px,#e9d539 280px,#d9e336 310px,#dde136 336px,#fcb236 358px,#fd8c27 386px,#fc8725 438px,#fbb838 598px)"></i><i style="left:786px;top:459px;width:598px;height:3px;background:linear-gradient(90deg,#bef434 0,#b2f936 126px,#a0fd3e 160px,#41f689 178px,#30f19a 182px,#4af881 200px,#81ff53 208px,#affa37 210px,#efce3a 214px,#fea230 216px,#fc8524 218px,#e74a0c 224px,#e94d0d 236px,#e24209 244px,#f56818 254px,#ed5510 264px,#f9771e 268px,#fcb136 274px,#e6d838 280px,#d5e735 308px,#d5e735 334px,#fbb838 358px,#fe9229 388px,#fd8c27 442px,#fab838 598px)"></i><i style="left:786px;top:462px;width:598px;height:3px;background:linear-gradient(90deg,#bef434 0,#b2f936 126px,#a0fd3e 160px,#41f689 178px,#30f19a 182px,#4af881 200px,#80ff53 208px,#affa37 210px,#efce3a 214px,#fea230 216px,#fc8524 218px,#e74a0c 224px,#e94d0d 236px,#e2430a 244px,#f66a18 254px,#ee5710 264px,#fa7a1f 268px,#fcb437 274px,#e3db38 280px,#d0ea34 306px,#cdec34 334px,#f9bd39 358px,#fe972c 388px,#fe9029 446px,#fab938 598px)"></i><i style="left:786px;top:465px;width:598px;height:3px;background:linear-gradient(90deg,#bef434 0,#b2f936 126px,#a0fd3e 160px,#41f689 178px,#30f19a 182px,#4af881 200px,#80ff53 208px,#affa37 210px,#efce3a 214px,#fea230 216px,#fc8524 218px,#e84b0c 224px,#ea4e0d 236px,#e3440a 244px,#f66b19 254px,#ef5911 264px,#f8711b 266px,#fbb637 274px,#e1dd37 280px,#cbed34 306px,#c7ef34 334px,#f7c03a 360px,#fe9b2d 390px,#fe942b 454px,#fab938 598px)"></i><i style="left:786px;top:468px;width:598px;height:3px;background:linear-gradient(90deg,#bef434 0,#b2f936 126px,#a0fd3e 160px,#41f689 178px,#30f19a 182px,#49f881 200px,#80ff54 208px,#affa37 210px,#efce3a 214px,#fea230 216px,#fc8524 218px,#e84b0c 224px,#ea4e0d 236px,#e3440a 244px,#f66d19 254px,#f05a12 264px,#f8741c 266px,#fbb838 274px,#dfdf37 280px,#c7ef34 304px,#c0f334 332px,#eecf3a 354px,#fea832 380px,#fe972c 428px,#fdac34 558px,#faba38 598px)"></i><i style="left:786px;top:471px;width:598px;height:3px;background:linear-gradient(90deg,#bef434 0,#b2f936 126px,#a0fd3e 160px,#41f689 178px,#30f19a 182px,#49f881 200px,#80ff54 208px,#affa37 210px,#efce3a 214px,#fea330 216px,#fc8624 218px,#e84b0c 224px,#ea4f0d 236px,#e4450a 244px,#f76e1a 254px,#f05c12 264px,#f9761d 266px,#faba38 274px,#dce136 280px,#c3f134 304px,#baf635 332px,#e6d838 352px,#fcb437 374px,#fe9d2e 414px,#fea431 522px,#faba38 598px)"></i><i style="left:786px;top:474px;width:598px;height:3px;background:linear-gradient(90deg,#bef434 0,#b2f936 126px,#a0fd3e 160px,#40f689 178px,#30f19a 182px,#49f881 200px,#80ff54 208px,#aefa37 210px,#efce3a 214px,#fea330 216px,#fc8624 218px,#e84b0c 224px,#ea4f0e 236px,#e4450a 244px,#f76f1a 254px,#f15d13 264px,#f9771e 266px,#f9bc39 274px,#dae236 280px,#c0f334 304px,#b4f836 332px,#e0de37 350px,#f9bc39 370px,#fea230 410px,#fea331 510px,#fabb39 598px)"></i><i style="left:786px;top:477px;width:598px;height:3px;background:linear-gradient(90deg,#bef434 0,#b2f936 126px,#a0fd3e 160px,#40f689 178px,#30f19a 182px,#49f881 200px,#80ff54 208px,#aefa37 210px,#eece3a 214px,#fea330 216px,#fc8624 218px,#e84b0c 224px,#ea4f0e 236px,#e4460a 244px,#f7701b 254px,#f25f14 264px,#fa791f 266px,#f9bd39 274px,#d9e436 280px,#bcf534 304px,#aefa37 330px,#cbed34 344px,#f0cd3a 362px,#fdac34 394px,#fea130 472px,#fabb39 598px)"></i><i style="left:786px;top:480px;width:598px;height:3px;background:linear-gradient(90deg,#bef434 0,#b2f936 126px,#a0fd3e 160px,#40f689 178px,#30f19a 182px,#49f881 200px,#80ff54 208px,#aefa37 210px,#eecf3a 214px,#fea331 216px,#fc8624 218px,#e84c0c 224px,#eb500e 236px,#e5460b 244px,#f8711b 254px,#f26014 264px,#fa7b1f 266px,#f8be39 274px,#d7e535 280px,#b9f635 304px,#aafb39 330px,#c6f034 344px,#edd03a 362px,#fcb035 392px,#fea331 472px,#f9bc39 598px)"></i><i style="left:786px;top:483px;width:598px;height:3px;background:linear-gradient(90deg,#bef434 0,#b2f936 126px,#a0fd3e 160px,#40f689 178px,#30f19a 182px,#49f881 200px,#7fff54 208px,#aefa37 210px,#eecf3a 214px,#fea331 216px,#fc8624 218px,#e84c0c 224px,#eb500e 236px,#e5470b 244px,#f8721c 254px,#f36115 264px,#fa7c20 266px,#fab938 272px,#d5e635 280px,#b5f735 304px,#a5fc3b 330px,#bff334 344px,#ead339 362px,#fcb537 392px,#fea531 474px,#f9bc39 598px)"></i><i style="left:786px;top:486px;width:598px;height:3px;background:linear-gradient(90deg,#bef434 0,#b2f936 126px,#a0fd3e 160px,#40f689 178px,#30f19a 182px,#49f881 200px,#7fff54 208px,#aefa37 210px,#eecf3a 214px,#fea331 216px,#fc8625 218px,#e84c0c 224px,#eb510e 236px,#e5470b 244px,#f8731c 254px,#f36215 264px,#fb7d21 266px,#faba39 272px,#d4e835 280px,#b2f936 304px,#a1fd3e 330px,#bbf534 344px,#e8d639 362px,#fab938 390px,#fea832 474px,#f9bc39 596px,#f9bd39 598px)"></i><i style="left:786px;top:489px;width:598px;height:3px;background:linear-gradient(90deg,#bef434 0,#b2f936 126px,#a0fd3e 160px,#40f68a 178px,#30f19a 182px,#49f882 200px,#7fff54 208px,#aefa37 210px,#eecf3a 214px,#fea431 216px,#fc8725 218px,#e94c0d 224px,#eb510e 236px,#e5470b 244px,#f8741c 254px,#f36316 264px,#fb7f21 266px,#f9bb39 272px,#d2e935 280px,#b0f937 304px,#9cfe40 330px,#aefa37 340px,#e5d938 362px,#f9bc39 388px,#feaa33 476px,#f9bd39 596px,#f9bd39 598px)"></i><i style="left:786px;top:492px;width:598px;height:3px;background:linear-gradient(90deg,#bef434 0,#b2f936 126px,#a0fd3e 160px,#40f68a 178px,#30f19a 182px,#49f882 200px,#7fff55 208px,#aefa37 210px,#eecf3a 214px,#fea431 216px,#fc8725 218px,#e94c0d 224px,#eb510e 236px,#e6480b 244px,#f9741d 254px,#f46416 264px,#fb8022 266px,#f9bc39 272px,#d1e935 280px,#adfa38 304px,#97fe43 330px,#aafb39 340px,#e2dc38 362px,#f8bf3a 388px,#fdac34 480px,#f8be39 598px)"></i><i style="left:786px;top:495px;width:598px;height:3px;background:linear-gradient(90deg,#bef434 0,#b2f936 126px,#a0fd3e 160px,#40f68a 178px,#30f19a 182px,#48f882 200px,#7fff55 208px,#adfa37 210px,#eecf3a 214px,#fea431 216px,#fc8725 218px,#e94d0d 224px,#ec520e 236px,#e6480b 244px,#f9751d 254px,#f46516 264px,#fb8122 266px,#f9bd39 272px,#d0ea34 280px,#aafb39 304px,#93fe46 330px,#a6fc3a 340px,#dee037 360px,#f6c43a 386px,#fdae35 476px,#f9bd39 592px,#f8be39 598px)"></i><i style="left:786px;top:498px;width:598px;height:3px;background:linear-gradient(90deg,#bef434 0,#b2f936 126px,#a0fd3e 160px,#40f68a 178px,#30f19a 182px,#48f882 200px,#7eff55 208px,#adfa38 210px,#eecf3a 214px,#fea431 216px,#fc8725 218px,#e94d0d 224px,#ec520f 236px,#e6490b 244px,#f9761d 254px,#f46617 264px,#fc8223 266px,#f8be39 272px,#ceeb34 280px,#a8fc3a 304px,#8eff49 330px,#a0fd3e 340px,#d2e835 356px,#f1cc3a 378px,#fcb336 450px,#fbb537 558px,#f8bf3a 598px)"></i><i style="left:786px;top:501px;width:598px;height:3px;background:linear-gradient(90deg,#bef434 0,#b2f936 126px,#a0fd3e 160px,#44f786 176px,#30f19a 182px,#48f882 200px,#7eff55 208px,#adfa38 210px,#eecf3a 214px,#fea431 216px,#fd8825 218px,#e94d0d 224px,#ec520f 236px,#e6490b 244px,#f9761e 254px,#f56717 264px,#fc8323 266px,#f8bf3a 272px,#cdec34 280px,#a6fc3b 304px,#8aff4d 328px,#96fe44 338px,#c8ef34 354px,#ecd239 374px,#fab938 430px,#fcb336 538px,#f8c03a 598px)"></i><i style="left:786px;top:504px;width:598px;height:3px;background:linear-gradient(90deg,#bef434 0,#b2f936 126px,#a0fd3e 160px,#44f786 176px,#30f19a 182px,#48f882 200px,#7eff55 208px,#adfa38 210px,#eecf3a 214px,#fea431 216px,#fd8825 218px,#e94d0d 224px,#ec530f 236px,#e7490c 244px,#f9771e 254px,#f56817 264px,#fc8423 266px,#f8c03a 272px,#ccec34 280px,#a4fc3c 304px,#86ff50 328px,#92ff47 338px,#c5f034 354px,#ead439 374px,#fabb39 432px,#fbb537 542px,#f7c03a 598px)"></i><i style="left:786px;top:507px;width:598px;height:3px;background:linear-gradient(90deg,#bef434 0,#b2f936 126px,#a0fd3e 160px,#44f786 176px,#2ff19a 182px,#48f882 200px,#7eff55 208px,#adfa38 210px,#eed03a 214px,#fea531 216px,#fd8825 218px,#e94d0d 224px,#ec530f 236px,#e74a0c 244px,#fa781e 254px,#f56918 264px,#fc8524 266px,#f7c13a 272px,#cbed34 280px,#a2fd3d 304px,#82ff53 328px,#8eff49 338px,#c2f234 354px,#e8d639 374px,#f9bd39 434px,#fbb637 542px,#f7c13a 598px)"></i><i style="left:786px;top:510px;width:598px;height:3px;background:linear-gradient(90deg,#bef434 0,#b2f936 126px,#a0fd3e 160px,#44f786 176px,#2ff19b 182px,#48f883 200px,#7eff55 208px,#adfa38 210px,#edd03a 214px,#fea531 216px,#fd8825 218px,#e94e0d 224px,#ec530f 236px,#e74a0c 244px,#fa781e 254px,#f66a18 264px,#fc8624 266px,#f7c13a 272px,#caee34 280px,#a0fd3e 304px,#7eff56 328px,#87ff4e 336px,#bcf534 352px,#e5da38 374px,#f7c13a 426px,#fbb737 536px,#f7c23a 598px)"></i><i style="left:786px;top:513px;width:598px;height:3px;background:linear-gradient(90deg,#bef434 0,#b2f936 126px,#a0fd3e 160px,#44f786 176px,#2ff19b 182px,#47f883 200px,#7dff56 208px,#adfa38 210px,#edd03a 214px,#fea531 216px,#fd8825 218px,#e94e0d 224px,#ed530f 236px,#e74a0c 244px,#fa791f 254px,#f66a18 264px,#fc8625 266px,#f6c23a 272px,#c9ee34 280px,#9cfe40 304px,#7afe58 328px,#83ff51 336px,#b9f635 352px,#e2dc38 374px,#f6c33a 424px,#fbb838 536px,#f6c33a 598px)"></i><i style="left:786px;top:516px;width:598px;height:3px;background:linear-gradient(90deg,#bef434 0,#b2f936 126px,#a0fd3e 160px,#44f786 176px,#2ff19b 182px,#47f883 200px,#7dff56 208px,#acfa38 210px,#edd03a 214px,#fea531 216px,#fd8926 218px,#ea4e0d 224px,#ed540f 236px,#e84b0c 244px,#fa7a1f 254px,#f66b19 264px,#fe932a 268px,#f2c93a 274px,#c8ef34 280px,#97fe44 306px,#76fe5b 328px,#80ff54 336px,#baf635 354px,#e1dd37 374px,#f5c43a 430px,#fab938 540px,#f6c33a 598px)"></i><i style="left:786px;top:519px;width:598px;height:3px;background:linear-gradient(90deg,#bef434 0,#b2f936 126px,#a0fd3e 160px,#44f786 176px,#2ff19b 182px,#47f883 200px,#7dff56 208px,#acfa38 210px,#edd03a 214px,#fea531 216px,#fd8926 218px,#ea4e0d 224px,#ed540f 236px,#e84b0c 244px,#fa7a1f 254px,#f66c19 264px,#fe942a 268px,#f2ca3a 274px,#c7ef34 280px,#91ff47 308px,#73fe5e 328px,#7cff57 336px,#b7f735 354px,#e0dd37 376px,#f5c53a 436px,#fabb39 544px,#f5c43a 598px)"></i><i style="left:786px;top:522px;width:598px;height:3px;background:linear-gradient(90deg,#bef434 0,#b2f936 126px,#a0fd3e 160px,#43f786 176px,#2ff19b 182px,#47f883 200px,#7dff56 208px,#acfb38 210px,#edd03a 214px,#fea632 216px,#fd8926 218px,#ea4e0d 224px,#ed540f 236px,#e84b0c 244px,#fa7b1f 254px,#f66d19 264px,#fe942b 268px,#f1cb3a 274px,#c6f034 280px,#8fff49 308px,#6ffe61 328px,#78fe59 336px,#b5f836 354px,#dedf37 376px,#f4c73a 434px,#f9bc39 542px,#f5c53a 598px)"></i><i style="left:786px;top:525px;width:598px;height:3px;background:linear-gradient(90deg,#bef434 0,#b2f936 126px,#a0fd3e 160px,#43f787 176px,#2ff19b 182px,#47f883 200px,#7dff56 208px,#acfb38 210px,#edd03a 214px,#fea632 216px,#fd8926 218px,#ea4f0d 224px,#ed5510 236px,#e84c0c 244px,#fa7b20 254px,#f76d1a 264px,#fe952b 268px,#f1cb3a 274px,#c5f034 280px,#8dff4a 308px,#6cfd63 328px,#75fe5c 336px,#b2f936 354px,#dce136 376px,#f3c93a 434px,#f9bd39 542px,#f5c53a 598px)"></i><i style="left:786px;top:528px;width:598px;height:3px;background:linear-gradient(90deg,#bef434 0,#b2f936 126px,#a0fd3e 160px,#43f787 176px,#2ff19b 182px,#47f884 200px,#7cff56 208px,#acfb38 210px,#edd13a 214px,#fea632 216px,#fd8926 218px,#ea4f0d 224px,#ed5510 236px,#e84c0c 244px,#fa7c20 254px,#f76e1a 264px,#fe962b 268px,#f0cc3a 274px,#c5f134 280px,#8bff4c 308px,#69fd65 328px,#72fe5f 336px,#b3f836 354px,#dbe236 376px,#f3c93a 442px,#f8be39 548px,#f4c63a 598px)"></i><i style="left:786px;top:531px;width:598px;height:6px;background:linear-gradient(90deg,#bef434 0,#b2f936 126px,#a0fd3e 160px,#43f787 176px,#2ff19b 182px,#46f884 200px,#7cff57 208px,#abfb38 210px,#edd13a 214px,#fea632 216px,#fd8a26 218px,#ea4f0e 224px,#ee5510 236px,#e94d0d 244px,#fb7d20 254px,#f76f1a 264px,#fe972c 268px,#f0cd3a 274px,#c4f134 280px,#8aff4c 308px,#65fd69 328px,#6dfe62 336px,#affa37 354px,#d8e436 376px,#f1cb3a 442px,#f8c03a 548px,#f3c73a 598px)"></i><i style="left:786px;top:537px;width:598px;height:6px;background:linear-gradient(90deg,#bef434 0,#b2f936 126px,#9ffd3e 160px,#43f787 176px,#2ff19b 182px,#46f784 200px,#7bff57 208px,#abfb38 210px,#ecd13a 214px,#fea732 216px,#fd8a26 218px,#ea500e 224px,#ee5610 236px,#e94d0d 244px,#fb7e21 254px,#f7701b 264px,#fe982c 268px,#efcd3a 274px,#c2f234 280px,#87ff4e 308px,#60fc6d 328px,#68fd67 336px,#adfa38 356px,#d5e735 378px,#f0cc3a 452px,#f6c23a 556px,#f2c93a 598px)"></i><i style="left:786px;top:543px;width:598px;height:6px;background:linear-gradient(90deg,#bef434 0,#b1f936 126px,#9ffd3e 160px,#43f787 176px,#2ef19c 182px,#46f784 200px,#7bfe57 208px,#abfb38 210px,#dae336 212px,#f9be39 214px,#fe952b 216px,#eb500e 224px,#ee5710 236px,#e94e0d 244px,#fb7f21 254px,#f8711b 264px,#fe992d 268px,#efce3a 274px,#c1f334 280px,#87ff4f 306px,#5cfc70 328px,#63fc6a 336px,#a9fb39 356px,#d2e935 378px,#f0cc3a 464px,#f4c63a 566px,#f1cb3a 598px)"></i><i style="left:786px;top:549px;width:598px;height:6px;background:linear-gradient(90deg,#bef434 0,#b1f936 126px,#9ffd3e 160px,#43f787 176px,#2ef19c 182px,#45f785 200px,#7bfe58 208px,#aafb39 210px,#dae336 212px,#f8be39 214px,#fe952b 216px,#eb500e 224px,#ee5711 236px,#ea4e0d 244px,#fb7f22 254px,#f8721c 264px,#fe9a2d 268px,#eecf3a 274px,#c0f334 280px,#85ff50 306px,#59fb73 328px,#5ffc6e 336px,#a8fc3a 356px,#ceeb34 380px,#f0cd3a 474px,#f2c93a 578px,#f0cc3a 598px)"></i><i style="left:786px;top:555px;width:598px;height:6px;background:linear-gradient(90deg,#bef434 0,#b1f936 126px,#9ffd3e 160px,#42f788 176px,#2ef09c 182px,#45f785 200px,#7afe58 208px,#aafb39 210px,#d9e336 212px,#f8be39 214px,#fe962b 216px,#eb510e 224px,#ef5811 236px,#ea4f0e 244px,#fb8022 254px,#f8731c 264px,#fe9b2d 268px,#edd03a 274px,#bff334 280px,#85ff50 306px,#56fb76 328px,#5cfb71 336px,#a5fc3b 356px,#cbed34 380px,#efce3a 482px,#f0cc3a 588px,#efce3a 598px)"></i><i style="left:786px;top:561px;width:598px;height:9px;background:linear-gradient(90deg,#bef434 0,#b1f936 126px,#9ffd3f 160px,#42f788 176px,#2ef09c 182px,#44f785 200px,#7afe59 208px,#aafb39 210px,#d9e436 212px,#f8bf39 214px,#fe962b 216px,#eb510e 224px,#ef5811 236px,#eb500e 244px,#fb8122 254px,#f9741d 264px,#fe9c2e 268px,#edd13a 274px,#bef434 280px,#84ff51 306px,#54fa78 328px,#58fb74 336px,#a3fd3c 358px,#c7ef34 382px,#eed03a 490px,#edd03a 596px,#edd03a 598px)"></i><i style="left:786px;top:570px;width:598px;height:9px;background:linear-gradient(90deg,#bef434 0,#b1f936 126px,#9ffd3f 160px,#42f788 176px,#2df09d 182px,#44f786 200px,#79fe59 208px,#a9fb39 210px,#d8e436 212px,#f8bf3a 214px,#fe972c 216px,#ec520f 224px,#ef5911 236px,#eb500e 244px,#fc8223 254px,#f9751d 264px,#fabb39 270px,#caed34 278px,#b8f635 282px,#73fe5e 312px,#51fa7a 328px,#56fb76 336px,#a1fd3d 358px,#c3f134 384px,#ecd239 496px,#ebd239 598px)"></i><i style="left:786px;top:579px;width:598px;height:9px;background:linear-gradient(90deg,#bef434 0,#b1f936 126px,#9ffd3f 160px,#41f688 176px,#2df09d 182px,#44f786 200px,#78fe5a 208px,#a9fb39 210px,#d8e436 212px,#f8bf3a 214px,#fe972c 216px,#ec520f 224px,#f05a12 236px,#eb510e 244px,#fc8323 254px,#f9761d 264px,#f9bb39 270px,#caee34 278px,#b8f635 282px,#70fe60 312px,#50fa7b 330px,#57fb74 338px,#9dfe40 358px,#bef434 384px,#e9d539 500px,#e9d539 598px)"></i><i style="left:786px;top:588px;width:598px;height:12px;background:linear-gradient(90deg,#bef434 0,#b1f936 126px,#9efd3f 160px,#41f689 176px,#2df09d 182px,#43f787 200px,#78fe5a 208px,#a8fb39 210px,#d8e536 212px,#f8c03a 214px,#fe982c 216px,#ec530f 224px,#f05a12 236px,#ec520e 244px,#fc8423 254px,#f9761e 264px,#f9bc39 270px,#caee34 278px,#b8f735 282px,#72fe5e 312px,#51fa7a 330px,#5bfb72 338px,#9cfe40 360px,#bbf534 388px,#e7d838 504px,#e7d739 598px)"></i><i style="left:786px;top:600px;width:598px;height:12px;background:linear-gradient(90deg,#bef434 0,#b1f936 126px,#9efd3f 160px,#41f689 176px,#2df09e 182px,#42f787 200px,#77fe5b 208px,#a8fc3a 210px,#d7e535 212px,#f7c03a 214px,#fe982c 216px,#ed530f 224px,#f05b12 236px,#ec520f 244px,#fc8424 254px,#f9771e 264px,#f9bc39 270px,#caee34 278px,#b8f635 282px,#71fe5f 314px,#55fa77 332px,#72fe5e 346px,#9cfe40 360px,#b8f635 392px,#e4db38 510px,#e4da38 598px)"></i><i style="left:786px;top:612px;width:598px;height:9px;background:linear-gradient(90deg,#bef434 0,#b1f936 126px,#9efd3f 160px,#41f689 176px,#2cf09e 182px,#42f788 200px,#77fe5b 208px,#a8fc3a 210px,#d7e535 212px,#f7c03a 214px,#fe992c 216px,#ed540f 224px,#f05c12 236px,#ec530f 244px,#fc8524 254px,#f9771e 264px,#f9bc39 270px,#caed34 278px,#b9f635 282px,#73fe5d 316px,#5afb72 334px,#9dfe40 362px,#b9f635 398px,#e1dd37 514px,#e1dd37 598px)"></i><i style="left:786px;top:621px;width:598px;height:6px;background:linear-gradient(90deg,#bef434 0,#b1f936 126px,#9efd3f 160px,#40f689 176px,#2cf09e 182px,#42f788 200px,#76fe5b 208px,#a7fc3a 210px,#d7e535 212px,#f7c13a 214px,#fe992d 216px,#ed540f 224px,#f05c12 236px,#ec530f 244px,#fc8524 254px,#f9771e 264px,#f9bb39 270px,#cbed34 278px,#baf635 282px,#73fe5d 318px,#5ffc6e 334px,#9cfe40 360px,#b7f735 398px,#dfdf37 516px,#dfdf37 598px)"></i><i style="left:786px;top:627px;width:598px;height:6px;background:linear-gradient(90deg,#bef434 0,#b1f936 126px,#9efd3f 160px,#40f68a 176px,#2cf09e 182px,#42f688 200px,#76fe5b 208px,#a7fc3a 210px,#d7e535 212px,#f7c13a 214px,#fe992d 216px,#ed540f 224px,#f05c12 236px,#ec530f 244px,#fc8524 254px,#f9771e 264px,#f9bb39 270px,#cbed34 278px,#baf634 282px,#75fe5c 318px,#64fd6a 334px,#9dfe40 360px,#b8f635 402px,#dde037 518px,#dde037 598px)"></i><i style="left:786px;top:633px;width:598px;height:6px;background:linear-gradient(90deg,#bef434 0,#b1f936 126px,#9efd3f 160px,#40f68a 176px,#2cf09e 182px,#41f688 200px,#76fe5c 208px,#a7fc3a 210px,#d7e535 212px,#f7c13a 214px,#fe992d 216px,#ed5410 224px,#f15c13 236px,#ec530f 244px,#fc8524 254px,#f9761e 264px,#fabb39 270px,#cced34 278px,#bbf534 282px,#77fe5a 320px,#6afd65 336px,#9ffd3f 360px,#b9f635 408px,#dce136 522px,#dce136 598px)"></i><i style="left:786px;top:639px;width:598px;height:3px;background:linear-gradient(90deg,#bef434 0,#b1f936 126px,#9efe3f 160px,#40f68a 176px,#2cf09e 182px,#41f689 200px,#76fe5c 208px,#a7fc3a 210px,#d6e635 212px,#f7c13a 214px,#fe9a2d 216px,#ed5510 224px,#f15c13 236px,#ec530f 244px,#fc8524 254px,#f9761e 264px,#fabb39 270px,#ccec34 278px,#bcf534 282px,#79fe59 320px,#6dfe62 336px,#a0fd3e 360px,#bbf534 412px,#dbe236 526px,#dbe236 598px)"></i><i style="left:782px;top:1476px;width:605px;height:39px;background:linear-gradient(90deg,#cfea34 0,#b9f635 136px,#9bfe41 196px,#78fe5a 210px,#9cfe41 234px,#b6f735 282px,#a2fd3d 316px,#77fe5a 332px,#86ff4f 346px,#b2f936 352px,#d2e935 358px,#eecf3a 360px,#feaa33 362px,#f46516 364px,#d33105 370px,#d73606 376px,#ee5610 382px,#f76d1a 390px,#fe972c 396px,#f7c13a 400px,#edd03a 400px,#bff334 402px,#a4fd3c 404px,#92ff47 404px,#74fe5d 412px,#acfb38 420px,#e8d639 426px,#fbb637 436px,#f4c73a 448px,#f3c83a 462px,#ead439 468px,#c7ef34 474px,#c7ef34 504px,#edd13a 510px,#f3c73a 524px,#dbe236 552px,#caed34 594px,#caee34 604px)"></i><i style="left:782px;top:1515px;width:605px;height:39px;background:linear-gradient(90deg,#d1ea35 0,#baf534 136px,#9cfe40 196px,#79fe59 210px,#9dfe40 234px,#b6f735 282px,#a2fd3c 316px,#78fe5a 332px,#86ff4f 346px,#b3f836 352px,#d2e935 358px,#eecf3a 360px,#feaa33 362px,#f46516 364px,#d33105 370px,#d73606 376px,#ee5610 382px,#f76d1a 390px,#fe982c 396px,#f7c23a 400px,#ecd13a 400px,#bef434 402px,#a3fd3c 404px,#91ff47 404px,#73fe5e 412px,#aafb39 420px,#e6d838 426px,#fbb838 436px,#f2c93a 448px,#f1cb3a 462px,#e7d739 468px,#c3f234 474px,#c2f234 504px,#e9d539 510px,#f0cc3a 524px,#d7e535 552px,#c8ef34 592px,#c8ef34 604px)"></i><i style="left:782px;top:1554px;width:605px;height:39px;background:linear-gradient(90deg,#d2e935 0,#bef434 134px,#9efe3f 196px,#7bfe58 210px,#9efd3f 234px,#b8f635 282px,#a4fd3c 316px,#79fe59 332px,#87ff4f 346px,#b3f836 352px,#d2e935 358px,#eecf3a 360px,#fea933 362px,#f46516 364px,#d33105 370px,#d73606 376px,#ee5710 382px,#f76e1a 390px,#fe982c 396px,#f6c23a 400px,#ecd239 400px,#bdf434 402px,#90ff48 404px,#71fe5f 412px,#a9fb39 420px,#dbe236 424px,#ebd239 428px,#fab938 436px,#f1cb3a 448px,#efcd3a 462px,#e5d938 468px,#bff434 474px,#bdf534 504px,#e5d938 510px,#edd03a 524px,#d3e835 552px,#c5f034 592px,#c6f034 604px)"></i><i style="left:782px;top:1593px;width:605px;height:30px;background:linear-gradient(90deg,#d4e735 0,#c4f134 132px,#9efd3f 196px,#7eff56 210px,#a0fd3e 234px,#baf534 282px,#a5fc3b 316px,#7afe59 332px,#87ff4f 346px,#b3f836 352px,#d2e935 358px,#eecf3a 360px,#feaa33 362px,#f46516 364px,#d33205 370px,#d73606 376px,#ee5710 382px,#f76e1a 390px,#fe992c 396px,#f6c33a 400px,#ecd239 400px,#bdf434 402px,#8fff49 404px,#70fe60 412px,#9efd3f 420px,#cfeb34 424px,#ead439 426px,#faba39 436px,#f0cd3a 448px,#eecf3a 462px,#e3db38 468px,#bdf434 474px,#baf635 504px,#e3db38 510px,#ebd239 524px,#d0ea35 552px,#c4f134 592px,#c6f034 604px)"></i><i style="left:782px;top:1623px;width:605px;height:21px;background:linear-gradient(90deg,#d5e735 0,#caee34 132px,#a1fd3d 196px,#81ff53 210px,#a4fd3c 236px,#bdf434 282px,#a5fc3b 316px,#7afe58 332px,#87ff4f 346px,#b3f836 352px,#d2e935 358px,#eecf3a 360px,#feaa33 362px,#f46516 364px,#d33205 370px,#d83606 376px,#ee5710 382px,#f76f1a 390px,#fe992c 396px,#f6c33a 400px,#ecd239 400px,#bdf434 402px,#8fff49 404px,#70fe60 412px,#9efe3f 420px,#cfeb34 424px,#ead439 426px,#faba39 436px,#f0cd3a 448px,#eecf3a 462px,#e3db38 468px,#bdf434 474px,#baf635 504px,#e3db38 510px,#ebd239 524px,#d0ea35 552px,#c4f134 592px,#c6f034 604px)"></i><i style="left:782px;top:1644px;width:605px;height:6px;background:linear-gradient(90deg,#d5e635 0,#ceeb34 132px,#a3fd3c 196px,#83ff52 210px,#a6fc3b 236px,#bff334 282px,#a5fc3b 316px,#79fe59 332px,#87ff4f 346px,#b3f836 352px,#d2e935 358px,#eed03a 360px,#fdaa33 362px,#f46516 364px,#d33205 370px,#d83606 376px,#ee5710 382px,#f76f1a 390px,#fe992c 396px,#f6c33a 400px,#ecd239 400px,#bdf434 402px,#8fff49 404px,#70fe60 412px,#a8fc3a 420px,#dae336 424px,#ebd339 428px,#faba39 436px,#f0cc3a 448px,#eece3a 462px,#e4da38 468px,#bdf434 474px,#bbf534 504px,#e4da38 510px,#ebd339 524px,#ccec34 564px,#c5f134 596px,#c6f034 604px)"></i><i style="left:782px;top:1650px;width:605px;height:3px;background:linear-gradient(90deg,#d5e635 0,#cfeb34 134px,#a4fc3c 196px,#84ff51 210px,#a7fc3a 236px,#bff334 282px,#a5fc3b 316px,#79fe59 332px,#86ff4f 346px,#b2f836 352px,#d2e935 358px,#eed03a 360px,#fdaa33 362px,#f46516 364px,#d33205 370px,#d83606 376px,#ee5711 382px,#f76f1a 390px,#fe992c 396px,#f6c33a 400px,#ecd239 400px,#bdf434 402px,#8fff49 404px,#70fe60 412px,#a8fc3a 420px,#dae336 424px,#ebd339 428px,#faba39 436px,#f0cd3a 448px,#eecf3a 462px,#e2dc38 468px,#bdf434 474px,#bbf534 502px,#e5d938 510px,#ebd339 524px,#cdec34 564px,#c5f034 596px,#c6f034 604px)"></i><i style="left:782px;top:1653px;width:605px;height:3px;background:linear-gradient(90deg,#d5e635 0,#d0ea34 134px,#a7fc3a 196px,#84ff51 210px,#a8fc3a 236px,#c0f334 282px,#a5fc3b 316px,#79fe59 332px,#86ff4f 346px,#b2f936 352px,#d2e935 358px,#eed03a 360px,#fdaa33 362px,#f46516 364px,#d33205 370px,#d83606 376px,#ee5711 382px,#f76f1a 390px,#fe992c 396px,#f6c33a 400px,#ecd239 400px,#bdf434 402px,#8fff49 404px,#70fe60 412px,#a8fc3a 420px,#dae336 424px,#ead339 428px,#faba39 436px,#efcd3a 448px,#efce3a 462px,#e3db38 470px,#bff434 476px,#bef434 502px,#e6d938 508px,#ebd239 524px,#cdec34 564px,#c5f034 594px,#c6f034 604px)"></i><i style="left:782px;top:1656px;width:605px;height:3px;background:linear-gradient(90deg,#d5e635 0,#d1ea35 134px,#a7fc3a 196px,#85ff50 210px,#a8fb39 236px,#c1f334 280px,#a5fc3b 316px,#79fe59 332px,#86ff4f 346px,#b2f936 352px,#d1e935 358px,#eed03a 360px,#fdaa33 362px,#f46516 364px,#d33205 370px,#d83606 376px,#ee5711 382px,#f76f1a 390px,#fe992c 396px,#f6c33a 400px,#ecd239 400px,#bdf434 402px,#8fff49 404px,#70fe60 412px,#a8fc3a 420px,#dae336 424px,#ead439 428px,#fabb39 436px,#efce3a 448px,#efce3a 464px,#e1dd37 472px,#bef434 478px,#bdf434 498px,#e6d838 508px,#ebd339 524px,#ceeb34 564px,#c5f034 594px,#c6f034 604px)"></i><i style="left:782px;top:1659px;width:605px;height:3px;background:linear-gradient(90deg,#d5e635 0,#d1e935 134px,#a8fc3a 196px,#85ff50 210px,#a9fb39 236px,#c1f334 280px,#a5fc3b 316px,#79fe59 332px,#86ff4f 346px,#b2f936 352px,#d1e935 358px,#eed03a 360px,#fdaa33 362px,#f46516 364px,#d33205 370px,#d83606 376px,#ee5711 382px,#f76f1a 390px,#fe992c 396px,#f6c33a 400px,#ecd239 400px,#bdf434 402px,#8fff49 404px,#70fe60 412px,#a8fb3a 420px,#dae336 424px,#ead439 428px,#fabb39 436px,#eecf3a 448px,#efcd3a 464px,#e3db38 474px,#c0f334 482px,#c2f234 496px,#e7d739 506px,#ebd339 522px,#ceeb34 564px,#c5f034 592px,#c6f034 604px)"></i><i style="left:782px;top:1662px;width:605px;height:3px;background:linear-gradient(90deg,#d5e635 0,#d2e835 134px,#abfb38 194px,#86ff4f 210px,#abfb39 238px,#c1f234 280px,#a5fc3b 316px,#79fe59 332px,#86ff4f 346px,#b2f936 352px,#d1e935 358px,#edd03a 360px,#fdaa33 362px,#f46616 364px,#d33205 370px,#d83606 376px,#ee5711 382px,#f76f1a 390px,#fe992c 396px,#f6c33a 400px,#ecd239 400px,#bdf434 402px,#90ff49 404px,#70fe60 412px,#a8fb39 420px,#dae336 424px,#ead439 428px,#f9bb39 436px,#eecf3a 450px,#efcd3a 466px,#dfdf37 478px,#cbed34 488px,#e9d539 506px,#ebd339 522px,#cfea34 564px,#c5f034 592px,#c6f034 604px)"></i><i style="left:782px;top:1665px;width:605px;height:3px;background:linear-gradient(90deg,#d5e635 0,#d3e835 136px,#acfb38 194px,#87ff4f 210px,#abfb38 238px,#c1f234 280px,#a5fc3b 316px,#79fe59 332px,#86ff4f 346px,#b2f936 352px,#d1e935 358px,#edd03a 360px,#fdaa33 362px,#f46616 364px,#d33205 370px,#d83606 376px,#ee5710 382px,#f76f1a 390px,#fe992c 396px,#f6c33a 400px,#ecd239 400px,#bdf434 402px,#90ff48 404px,#70fe60 412px,#a9fb39 420px,#dae336 424px,#e9d539 428px,#f9bc39 436px,#edd03a 450px,#f0cd3a 468px,#e3db38 492px,#ecd13a 518px,#d0ea34 564px,#c5f034 590px,#c6f034 604px)"></i><i style="left:782px;top:1668px;width:605px;height:3px;background:linear-gradient(90deg,#d5e635 0,#d4e735 136px,#affa37 194px,#87ff4e 210px,#adfa38 238px,#c2f234 280px,#a4fc3b 316px,#78fe5a 332px,#86ff4f 346px,#b2f936 352px,#d1e935 358px,#edd03a 360px,#fdaa33 362px,#f46616 364px,#d33205 370px,#d83606 376px,#ee5710 382px,#f76e1a 390px,#fe992c 396px,#f6c33a 400px,#ecd239 400px,#bdf434 402px,#90ff48 404px,#71fe60 412px,#a9fb39 420px,#dae236 424px,#e9d539 426px,#f9bd39 438px,#ecd13a 450px,#f0cd3a 472px,#ebd239 500px,#ead439 520px,#c5f134 580px,#c7f034 604px)"></i><i style="left:782px;top:1671px;width:605px;height:3px;background:linear-gradient(90deg,#d5e635 0,#d5e635 136px,#b0f937 194px,#88ff4e 210px,#affa37 240px,#c2f234 280px,#a4fc3c 316px,#78fe5a 332px,#86ff4f 346px,#b2f936 352px,#d1e935 358px,#edd03a 360px,#fdaa33 362px,#f46616 364px,#d33205 370px,#d83606 376px,#ee5710 382px,#f76e1a 390px,#fe992c 396px,#f6c33a 400px,#ecd239 400px,#bdf434 402px,#90ff48 404px,#71fe60 412px,#a9fb39 420px,#dbe236 424px,#e9d539 426px,#f8bf39 438px,#ecd239 450px,#f0cd3a 476px,#e9d539 518px,#c5f134 584px,#c7f034 604px)"></i><i style="left:782px;top:1674px;width:605px;height:6px;background:linear-gradient(90deg,#d5e635 0,#d7e535 138px,#b3f836 192px,#89ff4d 210px,#b1f936 240px,#c3f234 280px,#a4fc3c 316px,#78fe5a 332px,#86ff50 346px,#b2f936 352px,#d1e935 358px,#edd03a 360px,#fdaa33 362px,#f46616 364px,#d33205 370px,#d83606 376px,#ee5710 382px,#f76e1a 390px,#fe992c 396px,#f6c33a 400px,#ecd239 400px,#bdf434 402px,#90ff48 404px,#71fe5f 412px,#a9fb39 420px,#dbe236 424px,#e9d539 426px,#f7c13a 438px,#ebd339 450px,#efcd3a 496px,#cbed34 572px,#c7ef34 604px)"></i><i style="left:782px;top:1680px;width:605px;height:6px;background:linear-gradient(90deg,#d5e635 0,#d9e436 140px,#b9f635 190px,#8eff49 208px,#94fe45 216px,#b9f635 248px,#c0f334 282px,#a3fd3c 316px,#78fe5a 332px,#85ff50 346px,#b2f936 352px,#d1e935 358px,#edd03a 360px,#fdaa33 362px,#f46616 364px,#d33205 370px,#d83606 376px,#ee5710 382px,#f76e1a 390px,#fe982c 396px,#f6c23a 400px,#ecd239 400px,#bdf434 402px,#90ff48 404px,#71fe5f 412px,#a9fb39 420px,#dce136 424px,#ebd339 426px,#f5c53a 438px,#ead439 450px,#ebd239 502px,#d0ea34 568px,#c6f034 590px,#c7ef34 604px)"></i><i style="left:782px;top:1686px;width:605px;height:6px;background:linear-gradient(90deg,#d5e635 0,#dae336 144px,#bdf434 188px,#93fe46 208px,#90ff48 212px,#b8f635 242px,#c2f234 280px,#a3fd3c 316px,#77fe5a 332px,#85ff50 346px,#b2f936 352px,#d1e935 358px,#edd03a 360px,#fdaa33 362px,#f46616 364px,#d33205 370px,#d83606 376px,#ee5710 382px,#f76e1a 390px,#fe982c 396px,#f6c23a 400px,#ecd239 400px,#bef434 402px,#90ff48 404px,#71fe5f 412px,#a9fb39 420px,#dee037 424px,#edd13a 426px,#f5c53a 438px,#e7d739 448px,#e5da38 516px,#dbe236 544px,#d5e635 564px,#c6f034 586px,#c7ef34 604px)"></i><i style="left:782px;top:1692px;width:605px;height:3px;background:linear-gradient(90deg,#d6e635 0,#dce136 146px,#c1f234 188px,#97fe44 208px,#93ff46 212px,#bcf534 244px,#c3f234 280px,#a4fc3c 316px,#79fe59 332px,#87ff4f 346px,#b2f836 352px,#d1e935 358px,#edd03a 360px,#fdaa33 362px,#f46616 364px,#d33205 370px,#d83606 376px,#ee5710 382px,#f76e1a 390px,#fe982c 396px,#f6c23a 400px,#ecd239 400px,#bef434 402px,#90ff48 404px,#72fe5f 412px,#a9fb39 420px,#dfdf37 424px,#eecf3a 426px,#f6c23a 436px,#e4da38 448px,#e4db38 514px,#dbe236 540px,#dce236 558px,#c6f034 584px,#c8ef34 604px)"></i><i style="left:782px;top:1695px;width:605px;height:3px;background:linear-gradient(90deg,#d9e436 0,#dfde37 150px,#c5f034 190px,#98fe43 208px,#9efe3f 218px,#c5f034 250px,#c1f234 284px,#a7fc3a 316px,#7dff56 332px,#8aff4d 346px,#baf634 354px,#dedf37 358px,#f8be39 360px,#fa791f 364px,#e94e0d 366px,#cf2e04 370px,#dd3c08 376px,#ee5710 382px,#f76e1a 390px,#fe982c 396px,#f6c23a 400px,#ecd13a 400px,#bef434 402px,#90ff48 404px,#72fe5f 412px,#aafb39 420px,#dfdf37 424px,#efce3a 426px,#f7c03a 436px,#e3dc38 448px,#e3db38 510px,#dce136 538px,#dee037 556px,#c7f034 584px,#c8ef34 604px)"></i><i style="left:782px;top:1698px;width:605px;height:3px;background:linear-gradient(90deg,#dce136 0,#e3db38 154px,#c8ef34 192px,#9cfe40 212px,#c8ef34 246px,#c5f134 284px,#aafb39 316px,#82ff52 332px,#8eff4a 346px,#bcf534 354px,#dfdf37 358px,#f9bd39 360px,#fa781e 364px,#e94e0d 366px,#cf2e04 370px,#dd3c08 376px,#ee5710 382px,#f76e1a 390px,#fe982c 396px,#f6c23a 400px,#ecd13a 400px,#bef434 402px,#91ff48 404px,#72fe5f 412px,#aafb39 420px,#dfde37 424px,#efcd3a 426px,#f8be39 436px,#e2dc38 448px,#e1dd37 510px,#dee037 536px,#dfde37 556px,#c7ef34 584px,#c8ef34 604px)"></i><i style="left:782px;top:1701px;width:605px;height:3px;background:linear-gradient(90deg,#e0de37 0,#e8d739 158px,#cfeb34 192px,#a3fd3c 212px,#cfea34 248px,#c7ef34 286px,#b0f937 316px,#8aff4d 332px,#93fe46 346px,#bff434 354px,#e0de37 358px,#f9bc39 360px,#fa781e 364px,#e94e0d 366px,#cf2e04 370px,#dd3c08 376px,#ee5710 382px,#f76e1a 390px,#fe982c 396px,#f6c23a 400px,#ecd13a 400px,#bef434 402px,#91ff48 404px,#72fe5e 412px,#aafb39 420px,#e0de37 424px,#f0cd3a 426px,#f9bc39 436px,#e3db38 448px,#dfdf37 534px,#e1dd37 554px,#c7ef34 584px,#c8ef34 604px)"></i><i style="left:782px;top:1704px;width:605px;height:3px;background:linear-gradient(90deg,#e5d938 0,#ecd13a 162px,#d5e635 194px,#aafb39 212px,#d6e635 248px,#cced34 286px,#b6f735 316px,#92ff47 332px,#9afe42 346px,#c7ef34 354px,#e1dd37 358px,#f9bc39 360px,#f9781e 364px,#e94e0d 366px,#cf2e04 370px,#dd3c08 376px,#ee5710 382px,#f76e1a 390px,#fe982c 396px,#f6c23a 400px,#ecd13a 400px,#bef434 402px,#91ff48 404px,#72fe5e 412px,#aafb39 420px,#e0de37 424px,#f0cc3a 426px,#faba38 436px,#e4da38 450px,#dfde37 530px,#e2dc38 554px,#c7ef34 584px,#c8ef34 604px)"></i><i style="left:782px;top:1707px;width:605px;height:3px;background:linear-gradient(90deg,#ead439 0,#f1cb3a 166px,#dbe236 194px,#b2f836 212px,#dde037 246px,#d0ea35 288px,#bdf434 316px,#9bfe41 332px,#a0fd3e 346px,#d3e835 356px,#e2dc38 358px,#fabb39 360px,#f9771e 364px,#e94e0d 366px,#cf2e04 370px,#dd3c08 376px,#ee5710 382px,#f76e1a 390px,#fe982c 396px,#f6c23a 400px,#ecd13a 400px,#bef434 402px,#91ff48 404px,#72fe5e 412px,#aafb39 420px,#e0de37 424px,#f0cc3a 426px,#fbb838 436px,#e6d838 450px,#dedf37 522px,#e3db38 552px,#c8ef34 584px,#c8ef34 604px)"></i><i style="left:782px;top:1710px;width:605px;height:3px;background:linear-gradient(90deg,#efce3a 0,#f5c43a 170px,#e2dc38 196px,#bbf534 212px,#e4da38 246px,#d4e835 294px,#c2f234 316px,#a3fd3c 332px,#a6fc3a 346px,#dae336 358px,#faba38 360px,#f9771e 364px,#e94e0d 366px,#cf2e04 370px,#dd3c08 376px,#ee5710 382px,#f76e1a 390px,#fe982c 396px,#f6c23a 400px,#ecd13a 400px,#bef434 402px,#91ff48 404px,#72fe5e 412px,#aafb39 420px,#e0de37 424px,#f0cc3a 426px,#fbb738 436px,#e8d639 450px,#dde037 510px,#e4da38 552px,#c8ef34 584px,#c9ee34 604px)"></i><i style="left:782px;top:1713px;width:605px;height:3px;background:linear-gradient(90deg,#f3c83a 0,#f9bc39 172px,#e8d639 196px,#c5f134 212px,#ebd339 246px,#d3e835 308px,#c3f234 320px,#abfb38 332px,#adfa38 346px,#dbe236 358px,#fab938 360px,#f9761d 364px,#e94d0d 366px,#cf2e04 370px,#dd3c08 376px,#ee5710 382px,#f76e1a 390px,#fe982c 396px,#f6c23a 400px,#ecd13a 400px,#bef434 402px,#a3fd3c 404px,#91ff48 404px,#73fe5e 412px,#aafb39 420px,#e0de37 424px,#f0cc3a 426px,#fbb637 436px,#ead339 450px,#dfdf37 506px,#e5da38 552px,#c8ef34 584px,#c9ee34 604px)"></i><i style="left:782px;top:1716px;width:605px;height:3px;background:linear-gradient(90deg,#f7c13a 0,#fbb537 116px,#fcb437 176px,#f0cd3a 196px,#ceeb34 212px,#f1cc3a 244px,#d7e535 314px,#b3f836 332px,#b4f836 346px,#dde037 358px,#fbb838 360px,#f9751d 364px,#e94d0d 366px,#cf2e04 370px,#dd3c08 376px,#ee5710 382px,#f76e1a 390px,#fe982c 396px,#f7c23a 400px,#ecd13a 400px,#bef434 402px,#a3fd3c 404px,#91ff47 404px,#73fe5e 412px,#aafb39 420px,#e0de37 424px,#f0cc3a 426px,#fbb637 436px,#ecd13a 450px,#e2dc38 506px,#e4da38 552px,#c8ef34 584px,#c9ee34 604px)"></i><i style="left:782px;top:1719px;width:605px;height:3px;background:linear-gradient(90deg,#fabb39 0,#fdaf35 112px,#fea933 176px,#f6c33a 196px,#d7e535 212px,#ebd339 230px,#f5c43a 246px,#dae336 316px,#bcf534 332px,#bef434 348px,#dfde37 358px,#fbb637 360px,#f9751d 364px,#e94d0d 366px,#cf2e04 370px,#dd3c08 376px,#ee5710 382px,#f76e1a 390px,#fe982c 396px,#f7c23a 400px,#ecd13a 400px,#bef434 402px,#a3fd3c 404px,#91ff47 404px,#73fe5e 412px,#abfb39 420px,#e0dd37 424px,#f1cc3a 426px,#fbb637 436px,#edd03a 450px,#e6d838 510px,#e3db38 554px,#c9ee34 584px,#c9ee34 604px)"></i><i style="left:782px;top:1722px;width:605px;height:3px;background:linear-gradient(90deg,#fcb437 0,#fea933 110px,#fe9e2e 178px,#fbb537 196px,#e0de37 212px,#edd13a 226px,#f9bc39 242px,#e1dd37 316px,#c3f134 332px,#c4f134 348px,#e1dd37 358px,#fbb537 360px,#f9741d 364px,#e94d0d 366px,#cf2e04 370px,#dd3c08 376px,#ee5710 382px,#f76e1a 390px,#fe982c 396px,#f7c23a 400px,#ecd13a 400px,#bef434 402px,#a3fd3c 404px,#91ff47 404px,#73fe5e 412px,#abfb39 420px,#e1dd37 424px,#f1cb3a 426px,#fbb537 436px,#eed03a 450px,#e9d539 538px,#d9e436 564px,#c9ee34 586px,#c9ee34 604px)"></i><i style="left:782px;top:1725px;width:605px;height:3px;background:linear-gradient(90deg,#fdad34 0,#fea230 108px,#fe922a 180px,#fea833 196px,#e7d739 212px,#f0cc3a 226px,#fcb437 242px,#f5c53a 274px,#e5da38 316px,#cbed34 332px,#caee34 348px,#e3db38 358px,#fcb437 360px,#f8741c 364px,#e94d0d 366px,#cf2e04 370px,#dd3c08 376px,#ee5710 382px,#f76e1a 390px,#fe982c 396px,#f7c23a 400px,#ecd13a 400px,#bef434 402px,#a3fd3c 404px,#91ff47 404px,#73fe5e 412px,#abfb38 420px,#e1dd37 424px,#f1cb3a 426px,#fbb537 436px,#eecf3a 450px,#e3db38 554px,#c9ee34 584px,#c9ee34 604px)"></i><i style="left:782px;top:1728px;width:605px;height:3px;background:linear-gradient(90deg,#fea632 0,#fe9b2d 106px,#fc8725 182px,#fe9b2d 196px,#eecf3a 212px,#f3c73a 224px,#fdab34 240px,#f7c13a 268px,#edd13a 314px,#d2e935 332px,#ceeb34 344px,#d8e436 352px,#e4da38 358px,#fcb336 360px,#f8731c 364px,#e3440a 368px,#cf2e04 370px,#dd3c08 376px,#ee5710 382px,#f76e1a 390px,#fe982c 396px,#f7c23a 400px,#ecd13a 400px,#bef434 402px,#a3fd3c 404px,#92ff47 404px,#73fe5d 412px,#abfb38 420px,#ecd239 426px,#fbb537 436px,#eecf3a 450px,#e4db38 554px,#c9ee34 584px,#caee34 604px)"></i><i style="left:782px;top:1731px;width:605px;height:3px;background:linear-gradient(90deg,#fe9f2f 0,#fe952b 106px,#fa7c20 186px,#fd8d27 196px,#f4c73a 212px,#f6c33a 224px,#fea330 238px,#f9bd39 264px,#f5c53a 302px,#ecd13a 318px,#d7e535 332px,#d3e835 344px,#dfdf37 354px,#edd13a 358px,#fe9f2f 362px,#f36215 364px,#d33205 370px,#d73606 376px,#ee5710 382px,#f76e1a 390px,#fe972c 396px,#f7c23a 400px,#edd13a 400px,#bff434 402px,#a3fd3c 404px,#92ff47 404px,#73fe5d 412px,#abfb38 420px,#ecd239 426px,#fbb537 436px,#eecf3a 450px,#e4da38 554px,#caee34 584px,#caee34 604px)"></i><i style="left:782px;top:1734px;width:605px;height:3px;background:linear-gradient(90deg,#fe9a2d 0,#fe9029 108px,#f8731c 188px,#fc8223 196px,#f8bf39 212px,#f7c03a 222px,#fe9b2d 236px,#faba38 260px,#f8be39 294px,#f1cb3a 316px,#dce136 332px,#d9e436 348px,#e7d838 358px,#fcb236 360px,#f8721c 364px,#e3440a 368px,#cf2e04 370px,#dd3c08 376px,#ee5610 382px,#f76e1a 390px,#fe972c 396px,#f7c23a 400px,#edd13a 400px,#bff434 402px,#a3fd3c 404px,#92ff47 404px,#74fe5d 412px,#abfb38 420px,#ecd239 426px,#fcb537 436px,#eecf3a 450px,#e7d739 510px,#e5d938 554px,#caee34 584px,#caee34 604px)"></i><i style="left:782px;top:1737px;width:605px;height:3px;background:linear-gradient(90deg,#fe952b 0,#fd8c27 108px,#f8721c 170px,#f66b19 192px,#fe982c 204px,#fbb637 212px,#f9bd39 222px,#fe942a 236px,#fbb838 258px,#faba38 292px,#f3c83a 316px,#dfdf37 332px,#dbe236 348px,#e7d739 358px,#fcb136 360px,#f8721c 364px,#e3430a 368px,#cf2e04 370px,#dd3c08 376px,#ee5610 382px,#f76d1a 390px,#fe972c 396px,#f7c23a 400px,#edd13a 400px,#bff434 402px,#a3fd3c 404px,#92ff47 404px,#74fe5d 412px,#abfb38 420px,#ecd239 426px,#fcb537 436px,#eecf3a 450px,#e2dc38 504px,#e7d739 550px,#caee34 584px,#caee34 604px)"></i><i style="left:782px;top:1740px;width:605px;height:3px;background:linear-gradient(90deg,#fe922a 0,#fd8a26 110px,#f8721c 166px,#f46416 194px,#fd8a26 204px,#fdb035 212px,#faba39 222px,#fd8e28 234px,#fbb637 254px,#fbb738 290px,#f4c63a 316px,#e1dd37 332px,#dde136 348px,#e8d639 358px,#fcb136 360px,#f8721c 364px,#e3430a 368px,#cf2e04 370px,#dd3c08 376px,#ee5610 382px,#f76d1a 390px,#fe972c 396px,#f7c13a 400px,#edd13a 400px,#bff434 402px,#a3fd3c 404px,#92ff47 404px,#74fe5d 412px,#abfb38 420px,#ecd239 426px,#fcb437 436px,#eecf3a 450px,#dbe236 500px,#ead439 546px,#caee34 586px,#caee34 604px)"></i><i style="left:782px;top:1743px;width:605px;height:3px;background:linear-gradient(90deg,#fe9129 0,#fd8926 112px,#f9741d 166px,#f25f14 194px,#fb7e21 204px,#fdaa33 214px,#fbb838 222px,#fea130 228px,#fd8926 234px,#fbb637 250px,#fbb637 290px,#f5c53a 316px,#e2dc38 332px,#dde037 348px,#e8d639 358px,#f7c03a 360px,#fd8825 362px,#f36115 364px,#cf2e04 370px,#dd3c08 376px,#ee5610 382px,#f76d1a 390px,#fe972c 396px,#f7c13a 400px,#edd13a 400px,#bff434 402px,#a3fd3c 404px,#92ff47 404px,#74fe5d 412px,#acfb38 420px,#ecd13a 426px,#fcb437 436px,#eecf3a 450px,#d4e835 496px,#ead339 544px,#caed34 586px,#caed34 604px)"></i><i style="left:782px;top:1746px;width:605px;height:3px;background:linear-gradient(90deg,#fe9229 0,#fd8a26 114px,#f9771e 166px,#f15d13 196px,#f9771e 206px,#fdb035 218px,#fcb437 224px,#fc8725 232px,#fe9129 236px,#fcb437 246px,#fbb838 264px,#fcb537 288px,#f5c53a 316px,#e2dc38 332px,#dee037 348px,#e8d639 358px,#f7c03a 360px,#fd8825 362px,#f36115 364px,#cf2e04 370px,#dd3c08 376px,#ee5610 382px,#f76d1a 390px,#fe972c 396px,#f7c13a 400px,#edd13a 400px,#bff334 402px,#a3fd3c 404px,#92ff47 404px,#74fe5d 412px,#acfb38 420px,#ecd13a 426px,#fcb336 436px,#eecf3a 450px,#d0ea34 490px,#dbe236 516px,#ebd239 544px,#cced34 586px,#cbed34 604px)"></i><i style="left:782px;top:1749px;width:605px;height:3px;background:linear-gradient(90deg,#fe9229 0,#fd8b26 116px,#fa7b20 166px,#f15c12 196px,#f76f1a 206px,#fcb437 220px,#fdae35 224px,#fc8424 230px,#fd8c27 234px,#fcb437 242px,#fabb39 258px,#fcb437 286px,#f5c53a 316px,#e2dc38 332px,#dee037 348px,#e8d639 358px,#f7c03a 360px,#fd8825 362px,#f36115 364px,#cf2e04 370px,#dd3c08 376px,#ee5610 382px,#f76d1a 390px,#fe972c 396px,#f7c13a 400px,#edd13a 400px,#bff334 402px,#a3fd3c 404px,#92ff47 404px,#74fe5d 412px,#acfb38 420px,#e3db38 424px,#f3c83a 426px,#fdb035 436px,#efce3a 450px,#d3e835 482px,#d9e436 516px,#edd03a 544px,#cfeb34 586px,#cfeb34 604px)"></i><i style="left:782px;top:1752px;width:605px;height:3px;background:linear-gradient(90deg,#fe922a 0,#fd8b26 142px,#f8731c 180px,#f15e13 198px,#f56817 208px,#fd8c27 216px,#fcb236 222px,#fdad34 224px,#fb8122 230px,#fc8624 232px,#fcb437 240px,#f8be39 250px,#fcb437 284px,#f5c53a 316px,#e2dc38 332px,#dee037 348px,#e8d639 358px,#f7c03a 360px,#fd8825 362px,#f36115 364px,#cf2e04 370px,#dd3c08 376px,#ee5610 382px,#f76d1a 390px,#fe972c 396px,#f7c13a 400px,#edd13a 400px,#bff334 402px,#a4fd3c 404px,#92ff47 404px,#74fe5d 412px,#acfb38 420px,#e4da38 424px,#f5c53a 426px,#fdab34 436px,#f1cc3a 450px,#d7e536 476px,#dbe236 520px,#f0cc3a 544px,#d4e735 586px,#d4e835 604px)"></i><i style="left:782px;top:1755px;width:605px;height:3px;background:linear-gradient(90deg,#fe922a 0,#fd8c27 152px,#f8721c 186px,#f26014 204px,#f66a18 214px,#fe9129 218px,#fcb136 222px,#fea230 226px,#fb7e21 228px,#fb7e21 230px,#fcb336 236px,#f7c03a 244px,#fcb437 284px,#f5c53a 316px,#e2dc38 332px,#dee037 348px,#e8d639 358px,#f7c03a 360px,#fd8825 362px,#f36115 364px,#cf2e04 370px,#dd3c08 376px,#ee5610 382px,#f76d1a 390px,#fe972c 396px,#f7c13a 400px,#edd03a 400px,#bff334 402px,#a4fd3c 404px,#92ff47 404px,#75fe5c 412px,#acfb38 420px,#e6d938 424px,#f6c23a 426px,#fea531 436px,#f0cc3a 452px,#dde037 472px,#e0de37 504px,#e1dd37 524px,#f3c73a 546px,#d9e436 586px,#d9e436 604px)"></i><i style="left:782px;top:1758px;width:605px;height:3px;background:linear-gradient(90deg,#fe922a 0,#fd8d27 164px,#f46416 206px,#f15d13 216px,#f8751d 218px,#fdab34 222px,#fdab34 224px,#fa7b20 228px,#f9771e 228px,#fe9b2d 232px,#fbb838 234px,#f6c23a 242px,#fcb437 284px,#f5c53a 316px,#e2dc38 332px,#dee037 348px,#e8d639 358px,#f7c03a 360px,#fd8825 362px,#f36115 364px,#cf2e04 370px,#dd3c08 376px,#ee5610 382px,#f76d1a 390px,#fe972c 396px,#f7c13a 400px,#edd03a 400px,#bff334 402px,#a4fd3c 404px,#92ff47 404px,#75fe5c 412px,#acfb38 420px,#e7d739 424px,#f8bf39 426px,#fe9e2f 436px,#f1cb3a 452px,#e2dc38 468px,#ecd139 500px,#e2dc38 524px,#f6c33a 548px,#dedf37 586px,#dee037 604px)"></i><i style="left:782px;top:1761px;width:605px;height:3px;background:linear-gradient(90deg,#fe932a 0,#fd8f28 174px,#f8731c 208px,#ea4e0d 216px,#f05c13 220px,#fdab33 224px,#fdab34 224px,#fa7c20 226px,#f9741d 228px,#fdac34 230px,#f7c23a 234px,#fcb437 286px,#f5c53a 316px,#e2dc38 332px,#dee037 348px,#e8d639 358px,#f7c03a 360px,#fd8825 362px,#f36115 364px,#cf2e04 370px,#dd3c08 376px,#ee5610 382px,#f76d1a 390px,#fe972c 396px,#f7c13a 400px,#edd03a 400px,#bff334 402px,#a4fd3c 404px,#92ff47 404px,#75fe5c 412px,#acfa38 420px,#dae336 424px,#f4c63a 426px,#fea331 432px,#fe992d 436px,#f4c73a 450px,#e6d838 466px,#f4c63a 496px,#e5d938 526px,#f8bf3a 548px,#e2dc38 586px,#e2dc38 604px)"></i><i style="left:782px;top:1764px;width:605px;height:3px;background:linear-gradient(90deg,#fe932a 0,#fe932a 184px,#fd8d27 210px,#e6480b 220px,#e6490b 220px,#ef5811 222px,#fea732 224px,#fab938 224px,#fc942a 226px,#f6c139 230px,#f4c63a 238px,#fcb336 284px,#f5c53a 316px,#e2dc38 332px,#dee037 348px,#e8d639 358px,#f7c03a 360px,#fd8825 362px,#f36115 364px,#cf2e04 370px,#dd3c08 376px,#ee5610 382px,#f76d1a 390px,#fe972c 396px,#f7c13a 400px,#edd03a 400px,#bff334 402px,#a4fd3c 404px,#93ff46 404px,#75fe5c 412px,#acfa38 420px,#dbe236 424px,#f5c53a 426px,#fea02f 432px,#fe962b 436px,#f4c73a 450px,#e9d539 464px,#f9bd39 492px,#efcd3a 514px,#e9d539 528px,#f9bd39 548px,#e5d938 586px,#e5d938 604px)"></i><i style="left:782px;top:1767px;width:605px;height:3px;background:linear-gradient(90deg,#fe932a 0,#fe9f2f 194px,#fdac34 212px,#fa9028 220px,#fa9e2d 222px,#f1cb3a 224px,#fcb336 284px,#f5c53a 316px,#e2dc38 332px,#dee037 348px,#e8d639 358px,#f7c03a 360px,#fd8825 362px,#f36115 364px,#cf2e04 370px,#dd3c08 376px,#ee5610 382px,#f76d1a 390px,#fe972c 396px,#f7c13a 400px,#edd03a 400px,#bff334 402px,#a4fd3c 404px,#93ff46 404px,#75fe5c 412px,#acfa38 420px,#dbe236 424px,#f5c43a 426px,#fea230 430px,#fe952b 436px,#f2c93a 450px,#ebd339 462px,#faba38 488px,#f5c43a 512px,#e8d639 528px,#f9bc39 550px,#e6d838 586px,#e6d938 604px)"></i><i style="left:782px;top:1770px;width:605px;height:3px;background:linear-gradient(90deg,#66b5b6 0,#5db6bb 208px,#5bb6bd 240px,#5cb6bc 314px,#51b4c5 350px,#58b6c0 358px,#71b0b5 366px,#72afb5 378px,#5eb6ba 398px,#3baddb 404px,#3baddc 416px,#4ab3cc 422px,#60b6b9 428px,#61b6b8 442px,#57b5c0 464px,#5db6bb 510px,#57b5c0 536px,#59b6be 564px,#54b5c3 604px)"></i><i style="left:782px;top:1773px;width:605px;height:6px;background:#466ae2"></i><i style="left:782px;top:1779px;width:605px;height:3px;background:#4671e8"></i><i style="left:782px;top:1782px;width:605px;height:3px;background:linear-gradient(90deg,#6ed98f 0,#87d485 68px,#75d88c 126px,#8ad383 172px,#8bd283 178px,#6dd990 186px,#6cd990 194px,#9fc478 204px,#a69867 224px,#a38f65 230px,#a69967 236px,#9ec578 242px,#7bd789 256px,#78d88b 264px,#9ac97c 280px,#a5b46f 362px,#a5b56f 380px,#9c8a65 384px,#978264 390px,#a79d67 458px,#a6ae6c 604px)"></i><i style="left:782px;top:1785px;width:605px;height:3px;background:linear-gradient(90deg,#bff434 0,#d0ea34 34px,#e4da38 62px,#c8ef34 116px,#d6e635 156px,#edd03a 176px,#bef434 184px,#bcf534 194px,#f5c63a 200px,#fe952b 206px,#f26014 214px,#de3d08 224px,#c72803 228px,#d73506 234px,#f9781e 240px,#fab938 244px,#d8e436 254px,#c9ee34 264px,#f6c33a 278px,#fdaa33 294px,#fb8022 348px,#fa791f 378px,#f46817 380px,#e74c0d 382px,#cd2e05 382px,#a81601 384px,#860802 384px,#7d0503 386px,#bd2102 412px,#e04009 446px,#f46416 514px,#f9761d 604px,#f9761d 604px)"></i><i style="left:782px;top:1788px;width:605px;height:3px;background:linear-gradient(90deg,#bff334 0,#d1ea35 32px,#e4da38 60px,#c7ef34 112px,#d0ea35 154px,#e8d639 172px,#ecd13a 176px,#bef434 184px,#bdf434 194px,#f5c53a 200px,#fe942b 206px,#f25f14 214px,#dd3d08 224px,#c62703 228px,#d63506 234px,#f9771e 240px,#fbb838 244px,#d9e436 254px,#c7ef34 264px,#f5c53a 278px,#fea331 310px,#fc8524 350px,#fa791f 374px,#f26014 378px,#d73707 380px,#930c01 384px,#7f0502 386px,#800602 392px,#be2102 412px,#e24209 444px,#f66c19 508px,#fb8122 596px,#fb8122 604px)"></i><i style="left:782px;top:1791px;width:605px;height:3px;background:linear-gradient(90deg,#bff334 0,#d1e935 32px,#e4da38 58px,#c7ef34 106px,#cfeb34 154px,#e6d838 172px,#ebd239 176px,#bef434 184px,#bdf434 194px,#f5c53a 200px,#fe942a 206px,#f25f14 214px,#dd3c08 224px,#c62703 228px,#d63406 234px,#f9761d 240px,#fbb838 244px,#d9e436 254px,#c5f034 264px,#f3c83a 280px,#fe952b 332px,#fb7e21 370px,#f56817 376px,#df3f08 380px,#a91601 384px,#910b01 388px,#940c01 396px,#cf2e04 422px,#f05c12 468px,#fb8022 536px,#fd8b27 604px)"></i><i style="left:782px;top:1794px;width:605px;height:3px;background:linear-gradient(90deg,#bff334 0,#d2e835 32px,#e4da38 56px,#c7ef34 102px,#c9ee34 136px,#d2e835 162px,#ead439 176px,#bef434 184px,#bef434 194px,#f5c53a 200px,#fe942a 206px,#f25f14 214px,#dd3c08 224px,#c62703 228px,#d63406 234px,#f9761d 240px,#fbb738 244px,#d9e436 254px,#c3f134 264px,#f0cc3a 280px,#fe9a2d 336px,#fc8423 368px,#f46616 376px,#d03005 382px,#aa1601 390px,#a61401 398px,#d93807 428px,#f66c19 478px,#fe9129 568px,#fe942a 604px)"></i><i style="left:782px;top:1797px;width:605px;height:3px;background:linear-gradient(90deg,#bff334 0,#d3e835 30px,#e4da38 56px,#c7ef34 98px,#d4e735 126px,#c9ee34 152px,#dee037 170px,#e9d539 176px,#bef434 184px,#bef434 194px,#f5c53a 200px,#fe942a 206px,#f25f14 214px,#dd3d08 224px,#c62703 228px,#d63406 234px,#f9761d 240px,#fbb838 244px,#d8e436 254px,#c1f334 264px,#edd03a 282px,#fea02f 338px,#fd8a26 368px,#f56918 376px,#cf2f05 386px,#b71d02 394px,#c92903 412px,#ed5510 448px,#fc8222 500px,#fe9b2d 588px,#fe9b2d 604px)"></i><i style="left:782px;top:1800px;width:605px;height:3px;background:linear-gradient(90deg,#bff334 0,#d4e735 30px,#e4da38 54px,#c7ef34 94px,#e0de37 122px,#c8ef34 152px,#dce136 170px,#e7d739 176px,#bdf434 184px,#bef434 194px,#f5c53a 200px,#fe942b 206px,#f25f14 214px,#dd3d08 224px,#c72703 228px,#d63506 234px,#f9771e 240px,#fbb838 244px,#d7e535 254px,#bdf434 264px,#e9d539 282px,#fea933 338px,#fe922a 366px,#f66b19 376px,#d83706 388px,#c82803 400px,#f46416 456px,#fd8b26 506px,#fea130 592px,#fea230 604px)"></i><i style="left:782px;top:1803px;width:605px;height:3px;background:linear-gradient(90deg,#bff334 0,#d5e735 30px,#e4da38 54px,#c7ef34 92px,#ecd239 120px,#dbe236 136px,#c7ef34 152px,#dae336 170px,#e6d838 176px,#bcf534 184px,#bef434 194px,#f5c53a 200px,#fe952b 206px,#f26014 214px,#de3d08 224px,#c72803 228px,#d73506 234px,#fa781e 240px,#fab938 244px,#d6e635 254px,#baf635 264px,#e5d938 282px,#fdaf35 344px,#fe9a2d 366px,#f66d19 378px,#e14109 390px,#d73606 404px,#fa791f 468px,#fe992d 528px,#fea732 604px)"></i><i style="left:782px;top:1806px;width:605px;height:3px;background:linear-gradient(90deg,#bff334 0,#d6e635 30px,#e4da38 52px,#c7ef34 90px,#e5d938 106px,#f4c63a 120px,#e7d739 136px,#c8ef34 152px,#d2e835 168px,#e5d938 176px,#bbf534 184px,#bef434 194px,#f4c63a 200px,#fe952b 206px,#f26014 214px,#de3e08 224px,#c82803 228px,#d73606 234px,#fa791f 240px,#faba39 244px,#d4e735 254px,#b6f735 264px,#dfdf37 282px,#fbb637 348px,#fe9f2f 368px,#ec520f 390px,#e3440a 404px,#fd8b27 482px,#fdaa33 578px,#fdac34 604px)"></i><i style="left:782px;top:1809px;width:605px;height:3px;background:linear-gradient(90deg,#c0f334 0,#d7e535 30px,#e4db38 52px,#c7ef34 88px,#e1dd37 100px,#f7c23a 114px,#f4c73a 132px,#caee34 152px,#cfeb34 168px,#e3db38 176px,#baf635 184px,#bdf434 194px,#f4c63a 200px,#fe962b 206px,#f36115 214px,#df3f08 224px,#c92903 228px,#d83706 234px,#fa7b20 240px,#f9bc39 244px,#d2e835 254px,#b3f836 264px,#dae336 284px,#fcb236 364px,#fd8b26 378px,#f05b12 394px,#ee5610 412px,#fe972c 492px,#fdaf35 594px,#fdaf35 604px)"></i><i style="left:782px;top:1812px;width:605px;height:3px;background:linear-gradient(90deg,#c0f334 0,#d7e536 30px,#e4db38 52px,#c8ef34 86px,#e3db38 98px,#f8bf3a 110px,#f5c53a 136px,#cbed34 152px,#ceec34 168px,#e2dc38 176px,#b9f635 184px,#bdf434 194px,#f4c63a 200px,#fe962b 206px,#f36215 214px,#e03f09 224px,#ca2a04 228px,#d93807 234px,#fb7d20 240px,#f9bd39 244px,#d0ea34 254px,#affa37 264px,#d4e735 284px,#fab938 364px,#fd8a26 384px,#f56918 400px,#f76e1a 424px,#fe9f2f 496px,#fcb336 604px)"></i><i style="left:782px;top:1815px;width:605px;height:3px;background:linear-gradient(90deg,#c0f334 0,#d8e436 30px,#e3db38 52px,#c7ef34 84px,#dfdf37 96px,#f8c03a 106px,#f6c33a 126px,#f6c33a 138px,#cced34 154px,#ccec34 168px,#e1dd37 176px,#b8f635 184px,#bdf534 194px,#f4c73a 200px,#fe972c 206px,#f36315 214px,#e04009 224px,#cb2a04 228px,#da3907 234px,#fb7e21 240px,#f8be39 244px,#ceeb34 254px,#abfb38 264px,#cfeb34 284px,#f7c13a 364px,#fb8222 396px,#fa791f 414px,#fea632 506px,#fbb537 604px)"></i><i style="left:782px;top:1818px;width:605px;height:3px;background:linear-gradient(90deg,#c0f334 0,#d9e436 30px,#e3db38 52px,#c7ef34 84px,#dce136 94px,#f7c13a 104px,#f4c73a 112px,#ecd139 124px,#f8bf3a 138px,#e0dd37 148px,#c8ef34 158px,#d0ea35 170px,#e0dd37 176px,#b7f735 184px,#bcf534 194px,#f4c73a 200px,#fe982c 206px,#f36315 214px,#e14109 224px,#cb2b04 228px,#db3a07 234px,#fb8022 240px,#f8bf3a 244px,#ccec34 254px,#a8fc3a 264px,#c9ee34 284px,#f2c93a 364px,#fe9129 398px,#fd8b26 422px,#fdab34 516px,#fbb838 604px)"></i><i style="left:782px;top:1821px;width:605px;height:3px;background:linear-gradient(90deg,#c0f334 0,#d9e436 30px,#e3db38 52px,#c8ef34 84px,#e0de37 94px,#f8c03a 102px,#f3c93a 110px,#dfde37 120px,#f0cc3a 130px,#f8bf39 138px,#e4da38 148px,#c9ee34 158px,#d0ea34 170px,#e0de37 176px,#b7f735 184px,#bcf534 194px,#f3c73a 200px,#fe982c 206px,#f46416 214px,#e14109 224px,#cc2c04 228px,#dc3b07 234px,#fc8122 240px,#f7c13a 244px,#cbed34 254px,#a5fc3b 264px,#c4f134 286px,#eed03a 364px,#fe9f2f 400px,#fe9b2d 440px,#fbb738 564px,#faba38 604px)"></i><i style="left:782px;top:1824px;width:605px;height:3px;background:linear-gradient(90deg,#c0f334 0,#d9e336 30px,#e3db38 52px,#c7ef34 82px,#dfdf37 92px,#f7c03a 102px,#f3c73a 108px,#d4e735 120px,#e1dd37 128px,#f8be39 138px,#f1cb3a 144px,#ccec34 156px,#cbed34 168px,#dfde37 176px,#b6f735 184px,#bcf534 194px,#f3c83a 200px,#fe992c 206px,#f46516 214px,#e24209 224px,#cd2c04 228px,#dc3b08 234px,#fc8323 240px,#f7c23a 244px,#c9ee34 254px,#a2fd3d 264px,#c0f334 286px,#e9d539 364px,#fdaa33 402px,#fea632 450px,#f9bb39 604px)"></i><i style="left:782px;top:1827px;width:605px;height:3px;background:linear-gradient(90deg,#c0f334 0,#d9e336 30px,#e3db38 52px,#c7ef34 82px,#e0de37 92px,#f8bf3a 102px,#f2ca3a 108px,#cced34 120px,#d4e735 126px,#f7c13a 136px,#f4c63a 144px,#cdec34 156px,#caee34 168px,#dfdf37 176px,#b6f735 184px,#bbf534 194px,#f3c83a 200px,#fe992c 206px,#f46516 214px,#e24209 224px,#cd2d04 228px,#dd3c08 234px,#fc8423 240px,#f6c23a 244px,#c8ef34 254px,#a0fd3e 264px,#bcf534 286px,#e5da38 366px,#fcb437 404px,#fdae35 460px,#f9bd39 604px)"></i><i style="left:782px;top:1830px;width:605px;height:3px;background:linear-gradient(90deg,#c1f334 0,#e4da38 46px,#c8ef34 80px,#e3db38 90px,#f8bf3a 100px,#f0cd3a 106px,#c9ef34 118px,#b5f835 120px,#b5f835 122px,#cbed34 126px,#f6c23a 138px,#f5c43a 146px,#ceeb34 158px,#caee34 168px,#dce136 176px,#b3f836 184px,#bbf534 194px,#f3c83a 200px,#fe992d 206px,#f46616 214px,#e2430a 224px,#ce2d04 228px,#dd3d08 234px,#fc8424 240px,#f6c33a 244px,#c7f034 254px,#9efd3f 264px,#b8f635 286px,#e2dc38 368px,#faba39 408px,#fcb437 474px,#f8be39 604px)"></i><i style="left:782px;top:1833px;width:605px;height:3px;background:linear-gradient(90deg,#c1f234 0,#e4da38 42px,#c8ef34 78px,#e3db38 88px,#f8bf39 98px,#f0cd3a 104px,#c8ef34 116px,#b5f835 118px,#b5f835 124px,#cbed34 128px,#f6c23a 140px,#f7c13a 146px,#ccec34 160px,#cbed34 170px,#dae336 176px,#b0f937 184px,#baf634 194px,#f3c83a 200px,#fe992d 206px,#f46616 214px,#e2430a 224px,#ce2d04 228px,#de3d08 234px,#fc8524 240px,#f6c43a 244px,#c6f034 254px,#9dfe40 264px,#b5f735 286px,#dfdf37 368px,#f7c03a 410px,#fbb838 484px,#f8bf3a 604px)"></i><i style="left:782px;top:1836px;width:605px;height:3px;background:linear-gradient(90deg,#c2f234 0,#e4da38 42px,#c7ef34 76px,#e0de37 86px,#f8bf3a 96px,#f1ca3a 102px,#caee34 114px,#c7ef34 114px,#b6f735 116px,#b4f836 126px,#b6f735 126px,#c7ef34 128px,#efce3a 138px,#f8be39 146px,#e4da38 154px,#c8ef34 164px,#d1e935 172px,#d8e436 176px,#aefa37 184px,#baf635 194px,#f3c83a 200px,#fe9a2d 206px,#f46617 214px,#e3430a 224px,#ce2e04 228px,#de3d08 234px,#fc8624 240px,#f5c43a 244px,#c5f034 254px,#9bfe41 264px,#b3f836 286px,#dde136 370px,#f5c53a 414px,#faba39 492px,#f7c03a 604px)"></i><i style="left:782px;top:1839px;width:605px;height:3px;background:linear-gradient(90deg,#c2f234 0,#e4da38 40px,#c7ef34 76px,#e1dd37 86px,#f8bf3a 94px,#f1cb3a 102px,#c9ee34 112px,#c7ef34 114px,#b6f735 114px,#b3f836 126px,#b6f735 128px,#c7ef34 128px,#eecf3a 140px,#f8be39 146px,#e5d938 156px,#c8ef34 166px,#d6e635 174px,#d2e935 178px,#adfa38 184px,#b9f635 194px,#f3c83a 200px,#fe9a2d 206px,#f46617 214px,#e3430a 224px,#cf2e04 228px,#de3d08 234px,#fc8624 240px,#f5c43a 244px,#c5f134 254px,#9afe42 264px,#b2f936 286px,#dce136 374px,#f4c73a 424px,#f9bc39 526px,#f7c13a 604px)"></i><i style="left:782px;top:1842px;width:605px;height:3px;background:linear-gradient(90deg,#c3f234 0,#e4da38 38px,#c7ef34 74px,#e1dd37 84px,#f8bf3a 94px,#f1cb3a 100px,#caee34 112px,#c7ef34 112px,#b6f735 114px,#b3f836 126px,#b6f735 128px,#c7ef34 130px,#eecf3a 140px,#f8be39 148px,#e5d938 156px,#c8ef34 166px,#d6e635 176px,#acfb38 184px,#b9f635 194px,#f3c83a 200px,#fe9a2d 206px,#f46617 214px,#e3440a 224px,#cf2e04 228px,#de3e08 234px,#fc8624 240px,#f5c43a 244px,#c4f134 254px,#99fe42 264px,#b0f937 286px,#dae336 376px,#f4c63a 436px,#f8bf3a 546px,#f6c23a 604px)"></i><i style="left:782px;top:1845px;width:605px;height:3px;background:linear-gradient(90deg,#c3f134 0,#e4da38 38px,#c7ef34 74px,#e0de37 84px,#f8bf3a 92px,#f2ca3a 100px,#caee34 110px,#c8ef34 112px,#b6f735 112px,#b2f936 126px,#b6f735 130px,#c8ef34 130px,#efce3a 142px,#f8be39 148px,#e4da38 158px,#c8ef34 168px,#d5e635 176px,#abfb39 184px,#b8f635 194px,#f3c83a 200px,#fe9a2d 206px,#f46617 214px,#e3440a 224px,#cf2e04 228px,#de3e08 234px,#fc8625 240px,#f5c53a 244px,#c4f134 254px,#99fe42 264px,#affa37 286px,#dae336 380px,#f5c53a 458px,#f7c13a 558px,#f6c33a 604px)"></i><i style="left:782px;top:1848px;width:605px;height:3px;background:linear-gradient(90deg,#c4f134 0,#e4da38 36px,#c8ef34 74px,#e3db38 84px,#f8be39 92px,#efcd3a 100px,#c8ef34 110px,#b5f835 112px,#b3f836 128px,#cbed34 132px,#f6c33a 146px,#f7c13a 152px,#ccec34 166px,#cfea34 172px,#d5e735 176px,#aafb39 184px,#b8f635 194px,#f3c83a 200px,#fe9a2d 206px,#f46617 214px,#e3440a 224px,#cf2e04 228px,#de3e08 234px,#fc8725 240px,#f5c53a 244px,#c4f134 254px,#98fe43 264px,#aefa37 286px,#dae336 384px,#f5c53a 470px,#f6c23a 566px,#f6c33a 604px)"></i><i style="left:782px;top:1851px;width:605px;height:3px;background:linear-gradient(90deg,#c4f134 0,#e4da38 36px,#c8ef34 72px,#e2dc38 82px,#f8bf39 92px,#f0cc3a 98px,#c1f234 110px,#b5f735 112px,#b3f836 128px,#b5f735 130px,#cbed34 134px,#f7c23a 146px,#f6c23a 152px,#ceeb34 166px,#cfea34 172px,#d4e735 176px,#a9fb39 184px,#b8f735 194px,#f3c83a 200px,#fe9a2d 206px,#f56717 214px,#e3440a 224px,#cf2e04 228px,#de3e08 234px,#fc8725 240px,#f5c53a 244px,#c4f134 254px,#98fe43 264px,#adfa38 286px,#dae336 388px,#f5c63a 480px,#f5c43a 594px,#f5c43a 604px)"></i><i style="left:782px;top:1854px;width:605px;height:3px;background:linear-gradient(90deg,#c5f134 0,#e4da38 36px,#c7ef34 72px,#e1dd37 82px,#f8bf3a 90px,#f1cb3a 98px,#caee34 108px,#c7ef34 110px,#b6f735 110px,#b2f936 128px,#b6f735 132px,#c7ef34 132px,#eecf3a 144px,#f8be39 150px,#e5d938 160px,#caed34 168px,#d4e835 176px,#a8fc3a 184px,#b7f735 194px,#f3c83a 200px,#fe9a2d 206px,#f56717 214px,#e3440a 224px,#cf2e04 228px,#de3e08 234px,#fc8725 240px,#f5c53a 244px,#c4f134 254px,#97fe43 264px,#acfb38 286px,#dbe236 396px,#f4c63a 490px,#f5c53a 604px)"></i><i style="left:782px;top:1857px;width:605px;height:3px;background:linear-gradient(90deg,#c5f034 0,#e4da38 34px,#c8ef34 72px,#e3db38 82px,#f8be39 90px,#efcd3a 98px,#c8ef34 108px,#b7f735 110px,#b1f936 128px,#b7f735 132px,#c8ef34 134px,#efcd3a 144px,#f8be39 152px,#e3db38 160px,#cbed34 168px,#d3e835 176px,#a7fc3a 184px,#b7f735 194px,#f3c83a 200px,#fe9a2d 206px,#f56717 214px,#e3440a 224px,#cf2e04 228px,#de3e08 234px,#fc8725 240px,#f5c53a 244px,#c3f134 254px,#97fe44 264px,#abfb38 286px,#dfde37 420px,#f5c53a 500px,#f5c53a 604px)"></i><i style="left:782px;top:1860px;width:605px;height:3px;background:linear-gradient(90deg,#c5f034 0,#e4da38 34px,#c8ef34 70px,#e2dc37 80px,#f8bf3a 90px,#f1cc3a 96px,#c2f234 108px,#b6f735 110px,#b2f936 130px,#b6f735 132px,#cced34 136px,#f7c23a 148px,#f6c23a 154px,#ceec34 168px,#d3e835 176px,#a7fc3a 184px,#b7f735 194px,#f3c83a 200px,#fe9a2d 206px,#f56717 214px,#e3440a 224px,#cf2e04 228px,#de3e08 234px,#fc8725 240px,#f5c53a 244px,#c3f134 254px,#96fe44 264px,#abfb39 286px,#dedf37 422px,#f5c53a 508px,#f4c63a 604px)"></i><i style="left:782px;top:1863px;width:605px;height:3px;background:linear-gradient(90deg,#c6f034 0,#e4da38 34px,#c7ef34 70px,#e0de37 80px,#f8bf3a 88px,#f2ca3a 96px,#caee34 106px,#c8ef34 108px,#b6f735 108px,#b1f936 130px,#b6f735 134px,#c8ef34 134px,#efce3a 146px,#f8be39 152px,#e4da38 162px,#cdec34 170px,#d3e835 176px,#a6fc3b 184px,#b7f735 194px,#f3c83a 200px,#fe9a2d 206px,#f56717 214px,#e3440a 224px,#cf2e04 228px,#df3e08 234px,#fc8725 240px,#f5c53a 244px,#c3f134 254px,#96fe44 264px,#aafb39 286px,#dee037 426px,#f5c43a 518px,#f4c63a 604px)"></i><i style="left:782px;top:1866px;width:605px;height:3px;background:linear-gradient(90deg,#c6f034 0,#e4da38 32px,#c8ef34 70px,#e2dc38 80px,#f8bf39 88px,#f0cc3a 96px,#c1f234 108px,#b5f735 108px,#b2f936 130px,#b5f735 134px,#cbed34 136px,#f6c23a 150px,#f7c23a 156px,#cfeb34 168px,#d3e835 176px,#a6fc3b 184px,#b6f735 194px,#f3c83a 200px,#fe9a2d 206px,#f56717 214px,#e3440a 224px,#cf2e04 228px,#df3e08 234px,#fc8725 240px,#f5c53a 244px,#c3f134 254px,#96fe44 264px,#aafb39 286px,#dde037 430px,#f5c53a 520px,#f4c63a 604px)"></i><i style="left:782px;top:1869px;width:605px;height:3px;background:linear-gradient(90deg,#c7ef34 0,#e4da38 32px,#c7ef34 68px,#e0de37 78px,#f8bf3a 88px,#f2ca3a 94px,#caee34 106px,#c7ef34 106px,#b6f735 108px,#b1f936 130px,#b6f735 134px,#c8ef34 136px,#efce3a 146px,#f8be39 154px,#e4da38 162px,#d0ea34 170px,#d2e835 176px,#a5fc3b 184px,#b6f735 194px,#f3c93a 200px,#fe9a2d 206px,#f56717 214px,#e3440a 224px,#cf2e04 228px,#df3e08 234px,#fc8725 240px,#f5c53a 244px,#c3f134 254px,#96fe44 264px,#a9fb39 286px,#dce136 432px,#f4c63a 522px,#f4c73a 604px)"></i><i style="left:782px;top:1872px;width:605px;height:3px;background:linear-gradient(90deg,#c7ef34 0,#e4da38 32px,#c8ef34 68px,#e2dc38 78px,#f8bf39 88px,#f0cc3a 94px,#c9ef34 106px,#b5f835 108px,#b2f936 132px,#bcf435 136px,#cbed34 138px,#f6c23a 150px,#f7c23a 156px,#d1e935 168px,#d2e835 176px,#a4fc3b 184px,#b6f735 194px,#f3c93a 200px,#fe9a2d 206px,#f56717 214px,#e3440a 224px,#cf2e04 228px,#df3e08 234px,#fc8725 240px,#f5c53a 244px,#c3f234 254px,#95fe45 264px,#a9fb39 286px,#dae236 434px,#f3c73a 522px,#f3c73a 604px)"></i><i style="left:782px;top:1875px;width:605px;height:3px;background:linear-gradient(90deg,#c8ef34 0,#e4da38 32px,#c7ef34 68px,#e0de37 78px,#f8bf3a 86px,#f2ca3a 94px,#caee34 104px,#c7ef34 106px,#b6f735 106px,#b1f937 130px,#b6f735 136px,#c8ef34 136px,#efce3a 148px,#f8be39 154px,#e4da38 164px,#d1e935 170px,#d2e835 176px,#a4fc3c 184px,#b6f735 194px,#f3c93a 200px,#fe9a2d 206px,#f56717 214px,#e3440a 224px,#cf2e04 228px,#df3e08 234px,#fd8725 240px,#f5c53a 244px,#c3f234 254px,#95fe45 264px,#a8fc3a 286px,#d8e436 434px,#f3c83a 522px,#f3c83a 604px)"></i><i style="left:782px;top:1878px;width:605px;height:3px;background:linear-gradient(90deg,#c8ef34 0,#e4da38 30px,#c8ef34 68px,#e2dc38 78px,#f8bf39 86px,#f0cc3a 94px,#c1f234 106px,#b5f735 106px,#b2f936 132px,#b5f735 136px,#cbed34 138px,#f6c23a 152px,#f7c23a 158px,#d3e835 170px,#d2e835 176px,#a4fd3c 184px,#b5f735 194px,#f3c93a 200px,#fe9a2d 206px,#f56717 214px,#e3440a 224px,#cf2e04 228px,#df3e08 234px,#fd8725 240px,#f5c53a 244px,#c3f234 254px,#95fe45 264px,#a8fc3a 286px,#d5e735 432px,#f2c93a 518px,#f3c83a 604px)"></i><i style="left:782px;top:1881px;width:605px;height:3px;background:linear-gradient(90deg,#c9ee34 0,#e4da38 30px,#c7ef34 66px,#e0de37 76px,#f8bf3a 86px,#f2ca3a 92px,#caee34 104px,#c8ef34 104px,#b6f735 106px,#b0f937 130px,#b6f735 136px,#c8ef34 138px,#efce3a 148px,#f8be39 156px,#e4da38 164px,#d3e835 172px,#d2e835 176px,#a3fd3c 184px,#b5f835 194px,#f3c93a 200px,#fe9a2d 206px,#f56717 214px,#e3440a 224px,#cf2e04 228px,#df3e08 234px,#fd8825 240px,#f5c53a 244px,#c2f234 254px,#95fe45 264px,#a7fc3a 286px,#d2e935 430px,#f1cb3a 516px,#f3c83a 604px)"></i><i style="left:782px;top:1884px;width:605px;height:3px;background:linear-gradient(90deg,#c9ee34 0,#e4da38 30px,#c8ef34 66px,#e2dc38 76px,#f8bf39 86px,#f0cc3a 92px,#c2f234 104px,#b5f735 106px,#b1f936 132px,#b6f735 136px,#cced34 140px,#f7c23a 152px,#f6c23a 158px,#d6e635 170px,#d3e835 176px,#a3fd3c 184px,#b5f835 194px,#f3c93a 200px,#fe9a2d 206px,#f56717 214px,#e3440a 224px,#cf2e04 228px,#df3e08 234px,#fd8825 240px,#f4c63a 244px,#c2f234 254px,#94fe45 264px,#a7fc3a 286px,#cfeb34 430px,#f0cc3a 514px,#f3c93a 604px)"></i><i style="left:782px;top:1887px;width:605px;height:6px;background:linear-gradient(90deg,#caee34 0,#e4da38 30px,#c7ef34 66px,#e0dd37 76px,#f8bf3a 84px,#f1ca3a 92px,#caee34 102px,#c7ef34 104px,#b6f735 104px,#b0f937 132px,#b6f735 138px,#c7ef34 138px,#efce3a 150px,#f8be39 156px,#e5da38 166px,#d5e735 174px,#d3e835 176px,#a2fd3d 184px,#b4f836 194px,#f3c93a 200px,#fe9a2d 206px,#f56717 214px,#e3440a 224px,#cf2f04 228px,#df3e08 234px,#fd8825 240px,#f4c63a 244px,#c2f234 254px,#94fe46 264px,#a6fc3b 286px,#cbed34 428px,#efce3a 512px,#f2c93a 604px)"></i><i style="left:782px;top:1893px;width:605px;height:6px;background:linear-gradient(90deg,#caed34 0,#e4da38 28px,#c8ef34 66px,#e4da38 76px,#f8be39 84px,#efce3a 92px,#c8ef34 102px,#b6f735 104px,#b0f937 130px,#b6f735 138px,#c8ef34 140px,#efce3a 150px,#f8be39 158px,#e4da38 166px,#d3e835 176px,#a1fd3d 184px,#b4f836 194px,#f3c93a 200px,#fe9a2d 206px,#f56717 214px,#e3440a 224px,#d02f05 228px,#df3f08 234px,#fd8825 240px,#f4c63a 244px,#c2f234 254px,#93fe46 264px,#a5fc3b 286px,#c6f034 428px,#edd03a 510px,#f2ca3a 604px)"></i><i style="left:782px;top:1899px;width:605px;height:3px;background:linear-gradient(90deg,#cbed34 0,#e4da38 28px,#c8ef34 64px,#e2dc38 74px,#f8bf39 84px,#f0cc3a 90px,#c1f234 102px,#b5f735 104px,#b1f936 134px,#b5f735 138px,#cbed34 142px,#f7c23a 154px,#f7c23a 160px,#d9e336 172px,#d4e735 176px,#a1fd3d 184px,#b4f836 194px,#f2c93a 200px,#fe9a2d 206px,#f56717 214px,#e3440a 224px,#d02f05 228px,#df3f08 234px,#fd8825 240px,#f4c63a 244px,#c2f234 254px,#93fe46 264px,#a5fc3b 286px,#c2f234 426px,#ecd239 510px,#f2ca3a 604px)"></i><i style="left:782px;top:1902px;width:605px;height:6px;background:linear-gradient(90deg,#cced34 0,#e4da38 28px,#c7ef34 64px,#e0dd37 74px,#f8bf3a 82px,#f1ca3a 90px,#caee34 100px,#c7ef34 102px,#b6f735 102px,#b0f937 132px,#b6f735 140px,#c7ef34 140px,#efce3a 152px,#f8be39 158px,#e5da38 168px,#d5e735 176px,#a1fd3e 184px,#b3f836 194px,#f2c93a 200px,#fe9a2d 206px,#f56717 214px,#e3440a 224px,#d02f05 228px,#df3f08 234px,#fd8825 240px,#f4c63a 244px,#c1f234 254px,#92ff47 264px,#a4fc3c 286px,#bff334 426px,#ebd339 510px,#f1cb3a 604px)"></i><i style="left:782px;top:1908px;width:605px;height:3px;background:linear-gradient(90deg,#ccec34 0,#e4da38 28px,#c8ef34 64px,#e3db38 74px,#f8be39 82px,#f0cd3a 90px,#c8ef34 100px,#b5f835 102px,#b2f936 136px,#bcf435 140px,#cbed34 142px,#f6c23a 156px,#f7c13a 162px,#dbe236 172px,#d5e635 176px,#a0fd3e 184px,#b3f836 194px,#f2c93a 200px,#fe9a2d 206px,#f56717 214px,#e3440a 224px,#d02f05 228px,#df3f09 234px,#fd8925 240px,#f4c63a 244px,#c1f234 254px,#92ff47 264px,#a4fd3c 286px,#bcf534 426px,#e9d539 510px,#f1cb3a 604px)"></i><i style="left:782px;top:1911px;width:605px;height:6px;background:linear-gradient(90deg,#cdec34 0,#e4da38 26px,#c7ef34 62px,#e1dd37 72px,#f8bf3a 82px,#f1cb3a 88px,#c9ee34 100px,#c7ef34 100px,#b6f735 102px,#b0f937 134px,#b6f735 140px,#c7ef34 142px,#ebd339 152px,#f8be39 160px,#dbe236 174px,#cfeb34 178px,#a0fd3e 184px,#b3f836 194px,#f2c93a 200px,#fe9b2d 206px,#f56717 214px,#e4450a 224px,#d02f05 228px,#df3f09 234px,#fd8926 240px,#faba38 242px,#ead439 246px,#b3f836 256px,#92ff47 264px,#a3fd3c 286px,#b8f635 424px,#e8d639 510px,#f1cb3a 604px)"></i><i style="left:782px;top:1917px;width:605px;height:9px;background:linear-gradient(90deg,#ceeb34 0,#e4da38 26px,#c7ef34 62px,#e0dd37 72px,#f8bf3a 80px,#f1ca3a 88px,#caee34 98px,#c7ef34 100px,#b6f735 100px,#affa37 132px,#b6f735 142px,#c7ef34 142px,#efce3a 154px,#f8be39 160px,#d8e536 176px,#a2fd3d 184px,#b3f836 194px,#f2c93a 200px,#fe9b2d 206px,#f56717 214px,#e4450a 224px,#d02f05 228px,#df3f09 234px,#fd8926 240px,#faba38 242px,#ead439 246px,#b2f936 256px,#91ff47 264px,#a2fd3d 286px,#b3f836 424px,#e7d739 510px,#f0cc3a 604px)"></i><i style="left:782px;top:1926px;width:605px;height:9px;background:linear-gradient(90deg,#cfea34 0,#e4da38 26px,#c7ef34 60px,#e0dd37 70px,#f8bf3a 80px,#f1ca3a 86px,#caee34 98px,#c7ef34 98px,#b6f735 100px,#affa37 132px,#b6f735 142px,#c7ef34 144px,#efce3a 154px,#f8be39 162px,#dae336 176px,#aafb39 182px,#a1fd3d 186px,#b2f936 194px,#f2c93a 200px,#fe9b2d 206px,#f56717 214px,#e4450a 224px,#d02f05 228px,#e03f09 234px,#fd8926 240px,#faba38 242px,#ead439 246px,#b2f936 256px,#90ff48 264px,#a1fd3d 286px,#affa37 422px,#e6d938 512px,#f0cd3a 604px)"></i><i style="left:782px;top:1935px;width:605px;height:9px;background:linear-gradient(90deg,#d0ea35 0,#e4da38 24px,#c7ef34 60px,#e0de37 70px,#f8bf3a 78px,#f1ca3a 86px,#caee34 96px,#c7ef34 98px,#b6f735 98px,#affa37 132px,#b6f735 144px,#c8ef34 144px,#efce3a 156px,#f8be39 162px,#dce136 176px,#aafb39 182px,#a1fd3e 186px,#b2f936 194px,#f2c93a 200px,#fe9b2d 206px,#f56817 214px,#e4450a 224px,#d02f05 228px,#e03f09 234px,#fd8926 240px,#faba39 242px,#ead439 246px,#b2f936 256px,#90ff48 264px,#a0fd3e 286px,#aafb39 422px,#e4da38 512px,#efce3a 604px)"></i><i style="left:782px;top:1944px;width:605px;height:9px;background:linear-gradient(90deg,#d2e935 0,#e4da38 24px,#c7ef34 58px,#e0de37 68px,#f8bf3a 78px,#f2ca3a 84px,#caee34 96px,#c8ef34 96px,#b6f735 98px,#affa37 130px,#b6f735 144px,#c8ef34 146px,#efce3a 156px,#f8be39 164px,#dfdf37 176px,#abfb39 182px,#a1fd3e 186px,#b1f936 194px,#f2c93a 200px,#fe9b2d 206px,#f56817 214px,#e4450a 224px,#d02f05 228px,#e04009 234px,#fd8a26 240px,#faba39 242px,#e9d539 246px,#b1f936 256px,#8fff49 264px,#a0fd3e 286px,#a7fc3a 422px,#e0de37 506px,#efce3a 604px)"></i><i style="left:782px;top:1953px;width:605px;height:3px;background:linear-gradient(90deg,#d2e835 0,#e4da38 24px,#c8ef34 58px,#e2dc38 68px,#f8be39 78px,#f0cc3a 84px,#c8ef34 96px,#b5f835 98px,#b0f937 140px,#bcf435 146px,#cbed34 148px,#f6c23a 160px,#f7c23a 166px,#e1dd37 176px,#abfb38 182px,#a1fd3e 186px,#b1f936 194px,#f2c93a 200px,#fe9b2d 206px,#f56817 214px,#e4450a 224px,#d02f05 228px,#e04009 234px,#fd8a26 240px,#faba39 242px,#e9d539 246px,#b1f936 256px,#8fff49 264px,#9ffd3e 286px,#a5fc3b 420px,#dbe236 498px,#ecd239 576px,#eecf3a 604px)"></i><i style="left:782px;top:1956px;width:605px;height:6px;background:linear-gradient(90deg,#d3e835 0,#e4da38 24px,#c7ef34 58px,#e0de37 68px,#f8bf3a 76px,#f2ca3a 84px,#caee34 94px,#c8ef34 96px,#b6f735 96px,#affa37 130px,#b6f735 146px,#c8ef34 146px,#efce3a 158px,#f8be39 164px,#e2dc38 176px,#acfb38 182px,#a1fd3e 186px,#b1f936 194px,#f2c93a 200px,#fe9b2d 206px,#f56817 214px,#e4450a 224px,#d02f05 228px,#e04009 234px,#fd8a26 240px,#faba39 242px,#e9d539 246px,#b1f936 256px,#8fff49 264px,#9ffd3e 286px,#a4fc3c 420px,#d9e436 496px,#ead439 564px,#eecf3a 604px)"></i><i style="left:782px;top:1962px;width:605px;height:3px;background:linear-gradient(90deg,#d4e835 0,#e4da38 22px,#c8ef34 58px,#e2dc38 68px,#f8bf39 76px,#f0cc3a 84px,#c1f234 96px,#b5f735 96px,#b0f937 138px,#b6f735 146px,#cbed34 148px,#f7c23a 162px,#f5c43a 168px,#e4da38 176px,#acfa38 182px,#a1fd3d 186px,#b1f936 194px,#f2c93a 200px,#fe9b2d 206px,#f56817 214px,#e4450a 224px,#d02f05 228px,#e04009 234px,#fd8a26 240px,#faba39 242px,#e9d539 246px,#b1f936 256px,#8fff49 264px,#9ffd3e 286px,#a3fd3c 420px,#d8e536 494px,#e9d439 560px,#eecf3a 604px)"></i><i style="left:782px;top:1965px;width:605px;height:9px;background:linear-gradient(90deg,#d4e735 0,#e4da38 22px,#c7ef34 56px,#e0de37 66px,#f8bf3a 76px,#f2ca3a 82px,#caee34 94px,#c8ef34 94px,#b6f735 96px,#affa37 128px,#b6f735 146px,#c8ef34 148px,#efce3a 158px,#f8be39 166px,#e6d838 176px,#adfa38 182px,#a1fd3d 186px,#b1f937 194px,#f2c93a 200px,#fe9b2d 206px,#f56817 214px,#e4450a 224px,#d02f05 228px,#e04009 234px,#fd8a26 240px,#faba39 242px,#e9d539 246px,#b1f936 256px,#8fff49 264px,#9ffd3f 286px,#a2fd3d 420px,#d6e635 494px,#e9d539 558px,#edd03a 604px)"></i><i style="left:782px;top:1974px;width:605px;height:3px;background:linear-gradient(90deg,#d5e735 0,#e4da38 22px,#c8ef34 56px,#e2dc38 66px,#f8bf39 76px,#f0cc3a 82px,#c9ef34 94px,#b5f835 96px,#b0f937 140px,#b5f735 146px,#cbed34 150px,#f6c23a 162px,#f5c43a 170px,#e8d639 176px,#aefa37 182px,#a1fd3d 186px,#b0f937 194px,#f2c93a 200px,#fe9b2d 206px,#f56817 214px,#e4450a 224px,#d02f05 228px,#e04009 234px,#fd8a26 240px,#faba39 242px,#e9d539 246px,#b1f936 256px,#8fff49 264px,#9ffd3e 286px,#a2fd3d 420px,#d5e735 492px,#e8d639 554px,#edd03a 604px)"></i><i style="left:782px;top:1977px;width:605px;height:9px;background:linear-gradient(90deg,#d6e635 0,#e4da38 22px,#c7ef34 56px,#e1dd37 66px,#f8bf3a 74px,#f1cb3a 82px,#caee34 92px,#c7ef34 94px,#b6f735 94px,#affa37 130px,#b6f735 148px,#c7ef34 148px,#eece3a 160px,#f8be39 166px,#eece3a 176px,#affa37 182px,#a2fd3d 186px,#b0f937 194px,#f2c93a 200px,#fe9b2d 206px,#f56817 214px,#e4450a 224px,#d02f05 228px,#e04009 234px,#fd8a26 240px,#faba39 242px,#e9d539 246px,#b1f936 256px,#8fff49 264px,#9ffd3e 286px,#a2fd3d 420px,#d5e735 494px,#e8d639 558px,#edd13a 604px)"></i><i style="left:782px;top:1986px;width:605px;height:12px;background:linear-gradient(90deg,#d7e535 0,#e4da38 22px,#c7ef34 54px,#e0de37 64px,#f8bf3a 74px,#f1ca3a 80px,#caee34 92px,#c7ef34 92px,#b6f735 94px,#affa37 128px,#b6f735 148px,#c8ef34 150px,#efce3a 160px,#f8be39 168px,#f1cb3a 176px,#bcf534 182px,#a3fd3c 184px,#b0f937 194px,#f2c93a 200px,#fe9b2d 206px,#f56817 214px,#e4450a 224px,#d02f05 228px,#e04009 234px,#fd8a26 240px,#faba39 242px,#e9d439 246px,#b1f936 256px,#90ff49 264px,#a0fd3e 286px,#a2fd3d 422px,#d6e635 498px,#e9d539 574px,#ecd13a 604px)"></i><i style="left:782px;top:1998px;width:605px;height:12px;background:linear-gradient(90deg,#d8e436 0,#e3db38 22px,#c7ef34 54px,#e0de37 64px,#f8bf3a 72px,#f1ca3a 80px,#caee34 90px,#c7ef34 92px,#b6f735 92px,#affa37 126px,#b6f735 150px,#c8ef34 150px,#efce3a 162px,#f9bd39 170px,#f0cc3a 176px,#b5f836 182px,#a4fc3c 186px,#b0f937 194px,#f2c93a 200px,#fe9b2d 206px,#f56817 214px,#e4450a 224px,#d02f05 228px,#e03f09 234px,#fd8926 240px,#faba38 242px,#ead439 246px,#b2f936 256px,#90ff48 264px,#a0fd3e 286px,#a4fc3b 424px,#dae336 506px,#ecd239 604px)"></i><i style="left:782px;top:2010px;width:605px;height:12px;background:linear-gradient(90deg,#d9e336 0,#e3db38 22px,#c7ef34 52px,#e0de37 62px,#f8bf3a 72px,#f1ca3a 78px,#caee34 90px,#c7ef34 90px,#b6f735 92px,#affa37 126px,#b6f735 150px,#c8ef34 152px,#efce3a 162px,#fabb39 172px,#f3c83a 176px,#b8f735 182px,#a6fc3b 186px,#a9fb39 192px,#e4db38 198px,#fdae35 204px,#f56717 214px,#e4450a 224px,#d02f05 228px,#df3f09 234px,#fd8926 240px,#faba38 242px,#ead439 246px,#b2f936 256px,#91ff48 264px,#a2fd3d 286px,#a3fd3c 364px,#a8fc3a 426px,#e0de37 526px,#ebd239 604px)"></i><i style="left:782px;top:2022px;width:605px;height:12px;background:linear-gradient(90deg,#dae236 0,#e3db38 20px,#c7ef34 52px,#e0de37 62px,#f8bf3a 70px,#f2ca3a 78px,#caee34 88px,#c8ef34 90px,#b6f735 90px,#affa37 124px,#b6f735 152px,#c8ef34 152px,#efce3a 164px,#faba38 172px,#f5c43a 176px,#c7ef34 182px,#a9fb39 184px,#a9fb39 192px,#e4db38 198px,#fdae35 204px,#f56717 214px,#e3440a 224px,#d02f05 228px,#df3f09 234px,#fd8925 240px,#f4c63a 244px,#c1f234 254px,#92ff47 264px,#a3fd3c 286px,#a5fc3b 362px,#a9fb39 426px,#e0de37 528px,#ebd339 604px)"></i><i style="left:782px;top:2034px;width:605px;height:3px;background:linear-gradient(90deg,#dbe236 0,#e2dc38 20px,#c7ef34 50px,#dedf37 60px,#f8c03a 70px,#f3c93a 76px,#cbed34 88px,#b4f836 92px,#b4f836 150px,#cbed34 154px,#f6c23a 168px,#faba38 174px,#f1cb3a 178px,#b2f936 184px,#a7fc3a 188px,#b0f937 194px,#f2c93a 200px,#fe9a2d 206px,#f56717 214px,#e3440a 224px,#d02f05 228px,#df3f08 234px,#fd8825 240px,#f4c63a 244px,#c1f234 254px,#92ff47 264px,#a4fd3c 286px,#a7fc3a 362px,#aafb39 426px,#e0de37 528px,#ead339 604px)"></i><i style="left:782px;top:2037px;width:605px;height:9px;background:linear-gradient(90deg,#dce136 0,#e2dc38 20px,#c7ef34 50px,#e0de37 60px,#f8bf3a 70px,#f2ca3a 76px,#caee34 88px,#c7ef34 88px,#b6f735 90px,#affa37 124px,#b6f735 152px,#c8ef34 154px,#efce3a 164px,#fbb838 172px,#f7c03a 176px,#cced34 182px,#acfa38 184px,#a9fb39 192px,#dae236 198px,#fbb637 202px,#f76f1b 212px,#e3440a 224px,#d02f05 228px,#df3f08 234px,#fd8825 240px,#f4c63a 244px,#c2f234 254px,#93ff46 264px,#a4fc3c 286px,#a8fb3a 362px,#abfb38 426px,#e0de37 530px,#ead439 604px)"></i><i style="left:782px;top:2046px;width:605px;height:3px;background:linear-gradient(90deg,#dce136 0,#e2dc38 20px,#c7ef34 50px,#dee037 60px,#f7c03a 68px,#f3c83a 76px,#c1f234 88px,#b5f735 90px,#affa37 138px,#b5f735 152px,#cbed34 156px,#f9bd39 170px,#fab938 176px,#e4db38 180px,#aefa37 184px,#aafb39 192px,#dae236 198px,#fbb637 202px,#f76f1b 212px,#e3440a 224px,#cf2f05 228px,#df3f08 234px,#fd8825 240px,#f4c63a 244px,#c2f234 254px,#93fe46 264px,#a5fc3b 286px,#aafb39 360px,#acfb38 426px,#e0de37 530px,#ead439 604px)"></i><i style="left:782px;top:2049px;width:605px;height:12px;background:linear-gradient(90deg,#dde136 0,#e1dd37 20px,#c7ef34 50px,#e0de37 60px,#f8bf3a 68px,#f1ca3a 76px,#caee34 86px,#c7ef34 88px,#b6f735 88px,#affa37 122px,#b6f735 154px,#c8ef34 154px,#efce3a 166px,#fbb637 174px,#f9bc39 176px,#dce236 180px,#b0f937 184px,#aafb39 192px,#dae236 198px,#fbb637 202px,#f76f1b 212px,#e3440a 224px,#cf2e04 228px,#df3e08 234px,#fd8825 240px,#f4c63a 244px,#c2f234 254px,#94fe46 264px,#a5fc3b 286px,#abfb38 360px,#adfa38 426px,#e0de37 532px,#ead439 604px)"></i><i style="left:782px;top:2061px;width:605px;height:3px;background:linear-gradient(90deg,#dde037 0,#e1dd37 20px,#c7ef34 48px,#dedf37 58px,#f8c03a 68px,#f3c93a 74px,#cbed34 86px,#b4f836 90px,#b4f836 152px,#cbed34 156px,#f9bc39 170px,#fbb537 176px,#e8d639 180px,#b2f936 184px,#aafb39 192px,#dae236 198px,#fbb637 202px,#f76f1a 212px,#e3440a 224px,#cf2e04 228px,#df3e08 234px,#fd8725 240px,#f5c53a 244px,#c3f234 254px,#94fe45 264px,#a6fc3b 286px,#adfa38 360px,#aefa37 426px,#e0de37 532px,#ead439 604px)"></i><i style="left:782px;top:2064px;width:605px;height:10px;background:linear-gradient(90deg,#dee037 0,#e1dd37 20px,#c7ef34 48px,#e0de37 58px,#f8bf3a 68px,#f1ca3a 74px,#caee34 86px,#c7ef34 86px,#b6f735 88px,#affa37 122px,#b6f735 154px,#c8ef34 156px,#efce3a 166px,#fcb437 174px,#f7c23a 178px,#d5e735 182px,#b4f836 184px,#aafb39 192px,#dae236 198px,#fbb637 202px,#f76f1a 212px,#e3440a 224px,#cf2e04 228px,#df3e08 234px,#fc8725 240px,#f5c53a 244px,#c3f234 254px,#95fe45 264px,#a6fc3a 286px,#aefa37 358px,#affa37 426px,#e0de37 534px,#e9d439 604px)"></i><i style="left:120px;top:51px;width:598px;height:39px;background:linear-gradient(90deg,#c3785f 0,#c8977d 28px,#c57f65 56px,#c47d63 62px,#c7957b 78px,#c89a80 110px,#ba5f49 230px,#bb644d 254px,#c1735a 276px,#c79177 296px,#bbaca2 312px,#a9abb5 324px,#8a9cc8 334px,#647fc8 344px,#8498c8 360px,#9ba6c2 430px,#baada3 468px,#c79379 524px,#c17259 598px)"></i><i style="left:120px;top:90px;width:598px;height:39px;background:linear-gradient(90deg,#c3785f 0,#c8977d 28px,#c57f65 56px,#c47d63 62px,#c7957b 78px,#c89a80 110px,#ba5f49 230px,#bb644d 254px,#c1735a 276px,#c79177 296px,#bbaca2 312px,#a9abb5 324px,#8a9cc8 334px,#647fc8 344px,#8498c8 360px,#9ba6c2 430px,#baada3 468px,#c79379 524px,#c17259 598px)"></i><i style="left:120px;top:129px;width:598px;height:39px;background:linear-gradient(90deg,#c3785f 0,#c8977d 28px,#c57f65 56px,#c47d63 62px,#c7957b 78px,#c89a80 110px,#ba5f49 230px,#bb644d 254px,#c1735a 276px,#c79177 296px,#bbaca2 312px,#a9abb5 324px,#8a9cc8 334px,#647fc8 344px,#8498c8 360px,#9ba6c2 430px,#baada3 468px,#c79379 524px,#c17259 598px)"></i><i style="left:120px;top:168px;width:598px;height:39px;background:linear-gradient(90deg,#c3785f 0,#c8977d 28px,#c57f65 56px,#c47d63 62px,#c7957b 78px,#c89a80 110px,#ba5f49 230px,#bb644d 254px,#c1735a 276px,#c79177 296px,#bbaca2 312px,#a9abb5 324px,#8a9cc8 334px,#647fc8 344px,#8498c8 360px,#9ba6c2 430px,#baada3 468px,#c79379 524px,#c17259 598px)"></i><i style="left:120px;top:207px;width:598px;height:39px;background:linear-gradient(90deg,#c3785f 0,#c8977d 28px,#c57f65 56px,#c47d63 62px,#c7957b 78px,#c89a80 110px,#ba5f49 230px,#bb644d 254px,#c1735a 276px,#c79177 296px,#bbaca1 312px,#a7aab7 324px,#8e9fc8 332px,#647fc8 344px,#8498c8 360px,#9ba6c2 430px,#baada3 468px,#c79379 524px,#c17259 598px)"></i><i style="left:120px;top:246px;width:598px;height:12px;background:linear-gradient(90deg,#c3785f 0,#c8977d 28px,#c57f65 56px,#c47d63 62px,#c7957b 78px,#c89a80 110px,#ba5f49 230px,#bc664f 260px,#c2755c 278px,#c79379 296px,#b6afaa 318px,#93a3c8 332px,#647fc8 344px,#8498c8 360px,#9ba6c2 430px,#baada3 468px,#c79379 524px,#c17259 598px)"></i><i style="left:120px;top:258px;width:598px;height:6px;background:linear-gradient(90deg,#c3785f 0,#c8977d 28px,#c57f65 56px,#c47d63 62px,#c7957b 78px,#c89a80 110px,#ba5f48 230px,#bc654e 258px,#c2745b 278px,#c79379 296px,#b7b0a9 318px,#8fa0c8 332px,#6680c7 344px,#8798c5 360px,#9da4bf 422px,#bdab9f 468px,#c99378 524px,#c3755b 598px)"></i><i style="left:120px;top:264px;width:598px;height:6px;background:linear-gradient(90deg,#c3785f 0,#c8977d 28px,#c57f65 56px,#c47d63 62px,#c7957b 78px,#c89a80 110px,#b95d47 232px,#bf6d55 272px,#c78f75 294px,#bea798 312px,#b1aeae 322px,#90a1c8 332px,#657fc8 344px,#8598c7 360px,#9da6bf 432px,#bbada2 468px,#c89379 524px,#c1735a 598px)"></i><i style="left:120px;top:270px;width:598px;height:3px;background:linear-gradient(90deg,#c3785f 0,#c8977d 28px,#c57f65 56px,#c47d63 62px,#c7957b 78px,#c89a80 110px,#bb634c 216px,#b95e48 244px,#c17158 276px,#c79177 296px,#b7b0a9 322px,#90a1c8 332px,#657fc8 344px,#8598c7 360px,#9da6bf 432px,#bbada2 468px,#c89379 524px,#c1735a 598px)"></i><i style="left:120px;top:273px;width:598px;height:3px;background:linear-gradient(90deg,#c3785f 0,#c8977d 28px,#c57f65 56px,#c47d63 62px,#c7957b 78px,#c89a80 110px,#bc654e 210px,#b95d47 244px,#c17158 276px,#c79379 296px,#bbaca0 320px,#adacb2 326px,#91a2c8 332px,#6680c7 344px,#8898c5 360px,#9da4bf 420px,#bdab9f 468px,#c99278 526px,#c3755b 598px)"></i><i style="left:120px;top:276px;width:598px;height:3px;background:linear-gradient(90deg,#c3785f 0,#c8977d 28px,#c57f65 56px,#c47d63 62px,#c7957b 78px,#c89a80 110px,#bc654e 208px,#b85c46 244px,#c17158 276px,#c79278 296px,#bea899 318px,#b2aead 324px,#92a2c8 332px,#6680c7 344px,#8898c5 360px,#9da4bf 420px,#bdab9f 468px,#c99278 526px,#c3755b 598px)"></i><i style="left:120px;top:279px;width:598px;height:3px;background:linear-gradient(90deg,#c3785f 0,#c8977d 28px,#c57f65 56px,#c47d63 62px,#c7957b 78px,#c89a80 110px,#bc654e 208px,#b85a45 242px,#c17158 276px,#c7947a 298px,#c1a491 318px,#b5afab 324px,#92a3c8 332px,#6580c8 344px,#8598c7 360px,#9da6bf 432px,#bbada2 468px,#c89379 524px,#c1735a 598px)"></i><i style="left:120px;top:282px;width:598px;height:3px;background:linear-gradient(90deg,#c3785f 0,#c8977d 28px,#c57f65 56px,#c47d63 62px,#c7957b 78px,#c89a80 110px,#bc654e 208px,#b75943 242px,#c07158 276px,#c79c83 306px,#c49f8a 316px,#b3aead 326px,#8e9fc8 334px,#647fc8 344px,#8498c8 360px,#9ba6c2 430px,#baada3 468px,#c79379 524px,#c17259 598px)"></i><i style="left:120px;top:285px;width:598px;height:3px;background:linear-gradient(90deg,#c3785f 0,#c8977d 28px,#c57f65 56px,#c47d63 62px,#c7957b 78px,#c89a80 110px,#bd674f 206px,#b65641 242px,#c07058 276px,#c89a81 304px,#c69c84 316px,#b5afaa 326px,#8ea0c8 334px,#657fc8 344px,#8498c8 360px,#9ca6c1 430px,#baada2 468px,#c79379 524px,#c17259 598px)"></i><i style="left:120px;top:288px;width:598px;height:3px;background:linear-gradient(90deg,#c3785f 0,#c8977d 28px,#c58066 56px,#c47d63 62px,#c7967c 78px,#c89a80 110px,#bd6851 204px,#b65540 242px,#c07058 276px,#c8997f 304px,#c8997f 316px,#b8b0a8 326px,#8fa0c8 334px,#6680c7 344px,#8798c6 360px,#a1a6bb 434px,#bcaca0 468px,#c89278 524px,#c3745b 598px)"></i><i style="left:120px;top:291px;width:598px;height:3px;background:linear-gradient(90deg,#c3785f 0,#c8977d 28px,#c57f65 56px,#c58066 62px,#c8977d 78px,#c89b81 110px,#bf6c54 200px,#b5523e 240px,#c07057 276px,#c8987e 304px,#c79379 316px,#c2a28e 322px,#b4afab 326px,#90a1c7 334px,#6780c6 344px,#8898c4 360px,#9da4be 418px,#ada9b0 446px,#beaa9e 468px,#c99278 526px,#c3755c 598px)"></i><i style="left:120px;top:294px;width:598px;height:3px;background:linear-gradient(90deg,#c3785f 0,#c8977d 28px,#c57f65 58px,#c8997f 78px,#c79b82 110px,#c07058 196px,#b4503c 240px,#c06f57 276px,#c8967c 302px,#c78f75 316px,#c4a08a 322px,#b6afaa 326px,#90a1c8 334px,#6680c7 344px,#8698c6 360px,#9fa6bd 432px,#bbaca1 468px,#c89278 524px,#c2735a 598px)"></i><i style="left:120px;top:297px;width:598px;height:3px;background:linear-gradient(90deg,#c3785f 0,#c8977d 28px,#c58369 62px,#c69c84 78px,#c69d85 108px,#c5856b 158px,#c2765d 192px,#b24b39 240px,#c07158 276px,#c7967c 302px,#c68b71 316px,#c59e87 322px,#b8b0a8 326px,#91a1c8 334px,#6580c8 344px,#8498c8 360px,#9ba6c1 430px,#baada2 468px,#c79379 524px,#c17259 598px)"></i><i style="left:120px;top:300px;width:598px;height:3px;background:linear-gradient(90deg,#c3785f 0,#c8977d 28px,#c6876d 62px,#c4a08b 76px,#c49f8a 108px,#c68a70 146px,#c57f65 186px,#b14737 238px,#c17259 278px,#c7957b 302px,#c6896f 316px,#c69c84 322px,#b9afa7 326px,#91a2c8 334px,#6681c8 342px,#8598c7 362px,#9da6bf 432px,#bbada2 468px,#c89379 524px,#c1735a 598px)"></i><i style="left:120px;top:303px;width:598px;height:3px;background:linear-gradient(90deg,#c3795f 0,#c8987e 28px,#c68d73 62px,#bfa696 76px,#c1a492 104px,#c79076 132px,#c68c72 166px,#c5866c 186px,#b24938 234px,#b14737 242px,#c2755c 280px,#c7957b 302px,#c6866c 316px,#c79b82 322px,#b3aeac 328px,#92a2c8 334px,#6881c7 342px,#8898c5 362px,#9da4be 424px,#bdab9f 468px,#c99278 526px,#c3755b 598px)"></i><i style="left:120px;top:306px;width:598px;height:3px;background:linear-gradient(90deg,#c3795f 0,#c8987e 28px,#c79278 60px,#baada2 76px,#bcab9f 98px,#c79379 130px,#c78e74 156px,#c79278 182px,#b44f3c 228px,#b04335 240px,#c1735a 278px,#c7947a 302px,#c5856b 316px,#c89a80 322px,#b4afac 328px,#92a2c8 334px,#6881c7 342px,#8898c5 362px,#9da4be 424px,#bdab9f 468px,#c99278 526px,#c3755b 598px)"></i><i style="left:120px;top:309px;width:598px;height:3px;background:linear-gradient(90deg,#c3795f 0,#c8997f 28px,#c8997f 60px,#b4afac 74px,#b3aead 92px,#bea798 108px,#c7947a 130px,#c79076 152px,#c79b83 180px,#c58268 198px,#b5543f 224px,#af4234 240px,#c1735a 278px,#c7947a 302px,#c5856b 316px,#c89a80 322px,#b4afac 328px,#92a2c8 334px,#6681c8 342px,#8598c7 362px,#9da6bf 432px,#bbada2 468px,#c89379 524px,#c1735a 598px)"></i><i style="left:120px;top:312px;width:598px;height:3px;background:linear-gradient(90deg,#c3795f 0,#c89a80 28px,#c69d86 60px,#b6afaa 70px,#a7aab7 78px,#aeadb1 96px,#bbab9f 108px,#c8967c 128px,#c79076 150px,#c3a18c 178px,#c79177 192px,#b95e48 218px,#af4234 240px,#c1735a 278px,#c7947a 302px,#c5856b 316px,#c89a81 322px,#b4afac 328px,#92a2c8 334px,#6680c8 342px,#8498c8 362px,#9ba6c2 430px,#baada3 468px,#c79379 524px,#c17259 598px)"></i><i style="left:120px;top:315px;width:598px;height:6px;background:linear-gradient(90deg,#c3795f 0,#c89a80 28px,#c59e88 60px,#b4afac 70px,#a2a9bc 78px,#a7aab7 94px,#baada2 108px,#c8977d 128px,#c79177 148px,#c1a391 178px,#c8977d 192px,#bb624c 216px,#b04436 240px,#c1735a 278px,#c7957b 302px,#c6886e 316px,#c79c83 322px,#b9afa7 326px,#91a2c8 334px,#6680c8 342px,#8498c8 362px,#9ba6c2 430px,#baada3 468px,#c79379 524px,#c17259 598px)"></i><i style="left:120px;top:321px;width:598px;height:3px;background:linear-gradient(90deg,#c3795f 0,#c89a80 28px,#c69d86 60px,#b6afaa 70px,#a7aab7 78px,#aeadb1 96px,#bbab9f 108px,#c8967c 128px,#c79076 150px,#c3a18c 178px,#c79177 192px,#ba6049 218px,#b14838 240px,#c17259 278px,#c7967c 302px,#c68d73 316px,#c59e88 322px,#b7b0a9 326px,#91a1c8 334px,#657fc8 344px,#8498c8 360px,#9ba6c2 430px,#baada3 468px,#c79379 524px,#c17259 598px)"></i><i style="left:120px;top:324px;width:598px;height:3px;background:linear-gradient(90deg,#c3795f 0,#c8997f 28px,#c8997f 60px,#b4afac 74px,#b3aead 92px,#bea798 108px,#c7947a 130px,#c79076 152px,#c79b83 180px,#c58268 198px,#b85a44 222px,#b34c3a 240px,#c07158 276px,#c8977d 302px,#c79076 316px,#c3a08c 322px,#b5afaa 326px,#90a1c8 334px,#657fc8 344px,#8498c8 360px,#9ba6c2 430px,#baada3 468px,#c79379 524px,#c17259 598px)"></i><i style="left:120px;top:327px;width:598px;height:3px;background:linear-gradient(90deg,#c3795f 0,#c8987e 28px,#c79278 60px,#baada2 76px,#bcab9f 98px,#c79379 130px,#c78e74 156px,#c79278 182px,#b85944 224px,#b4503c 242px,#c06f57 276px,#c8987e 304px,#c8967c 316px,#bbaca0 324px,#a3a9bb 330px,#8fa0c8 334px,#647fc8 344px,#8498c8 360px,#9ba6c2 430px,#baada3 468px,#c79379 524px,#c17259 598px)"></i><i style="left:120px;top:330px;width:598px;height:3px;background:linear-gradient(90deg,#9f92a5 0,#b0a3a5 32px,#aea0a4 62px,#a1a5b9 82px,#9d96ab 142px,#a89ca8 184px,#b6938a 220px,#ad8e8e 246px,#9e90a4 280px,#aaa1ab 300px,#bfa595 312px,#c1a491 318px,#b1aeae 328px,#a1a5b7 336px,#9aa0b6 346px,#a1a6b8 366px,#8fa0c8 412px,#95a3c4 436px,#b5aba7 480px,#b5a5a1 516px,#9f94a8 558px,#a595a2 592px,#a8959e 598px)"></i><i style="left:120px;top:333px;width:598px;height:3px;background:linear-gradient(90deg,#8d9fc8 0,#a4a9ba 32px,#a9abb6 58px,#8ea0c8 106px,#8a9cc8 144px,#9ba6c1 180px,#b4afac 218px,#a8abb6 244px,#8fa0c8 270px,#8fa0c8 292px,#9fa8be 302px,#baada3 312px,#bdaa9d 320px,#b2aeae 334px,#adacb2 368px,#8ea0c8 408px,#8d9fc8 434px,#a0a8bd 458px,#b3aeac 494px,#a2a9bc 528px,#8d9fc8 554px,#8e9fc8 580px,#9ca7c1 598px)"></i><i style="left:120px;top:336px;width:598px;height:3px;background:linear-gradient(90deg,#8d9ec7 0,#a3a9ba 30px,#acacb2 60px,#8d9ec7 116px,#8b9dc7 146px,#9ea7be 178px,#b3aeab 216px,#a4a9b9 246px,#8e9fc7 270px,#8fa0c7 292px,#9fa7bd 304px,#b9ada3 314px,#b8aea6 324px,#b1adad 340px,#ababb2 370px,#8e9fc7 408px,#8d9ec7 434px,#a0a8bd 458px,#b3aeac 494px,#a1a8bc 528px,#8d9ec7 554px,#8e9fc7 580px,#9ba6c1 598px)"></i><i style="left:120px;top:339px;width:598px;height:3px;background:linear-gradient(90deg,#59699c 0,#616b93 68px,#59699b 150px,#667095 222px,#5a699c 290px,#6a759c 310px,#6f7799 320px,#646e94 342px,#5a699c 438px,#646d94 508px,#59699c 578px,#5e6b9a 598px)"></i><i style="left:120px;top:342px;width:598px;height:3px;background:linear-gradient(90deg,#2b366b 0,#2c386d 326px,#2e3a6d 598px)"></i><i style="left:120px;top:345px;width:598px;height:3px;background:linear-gradient(90deg,#393463 0,#403f6b 86px,#393d6d 136px,#3e4372 190px,#384072 244px,#3e4676 270px,#3e3b6a 306px,#3b3a68 352px,#403d6a 404px,#3a3a69 456px,#403e6a 508px,#393564 562px,#403763 598px)"></i><i style="left:120px;top:348px;width:598px;height:3px;background:linear-gradient(90deg,#9e8c99 0,#9e9bab 114px,#98a0b8 194px,#8f9cbd 254px,#909dbf 266px,#9fa0af 284px,#a69095 318px,#9e8e9b 350px,#a094a1 520px,#9f8c99 598px)"></i><i style="left:120px;top:351px;width:598px;height:6px;background:linear-gradient(90deg,#bf6d55 0,#be6952 308px,#be6b53 328px,#bf6d55 598px)"></i><i style="left:120px;top:357px;width:598px;height:3px;background:linear-gradient(90deg,#c06f56 0,#bd8370 140px,#a9797b 246px,#a2747b 262px,#b88275 278px,#c1785f 300px,#bf6d55 324px,#bc664f 370px,#c1765d 422px,#c27b62 532px,#bf6c54 598px)"></i><i style="left:120px;top:360px;width:598px;height:3px;background:linear-gradient(90deg,#c17259 0,#c6876d 58px,#c3a08c 106px,#b3aeac 152px,#8c9ec8 234px,#7088c8 254px,#617dc8 258px,#6c85c8 264px,#9aa6c3 274px,#b9aea5 282px,#c89b81 292px,#c4795f 312px,#bb634c 344px,#b34e3b 364px,#c58369 402px,#c68a70 428px,#c68a70 466px,#c59f88 510px,#c79076 542px,#c17259 580px,#be6b53 598px)"></i><i style="left:120px;top:363px;width:598px;height:3px;background:linear-gradient(90deg,#c07158 0,#c5876d 58px,#c2a08b 106px,#b2aeab 152px,#8c9ec7 232px,#6f88c7 254px,#617cc7 258px,#6b84c7 264px,#99a5c2 274px,#b9aea4 282px,#c79a81 292px,#c47a60 312px,#bb624c 344px,#b24b39 364px,#c5856b 398px,#c79076 422px,#c68a70 460px,#c69d85 494px,#c2a28f 514px,#c79177 544px,#c1735a 578px,#be6b53 598px)"></i><i style="left:120px;top:366px;width:598px;height:3px;background:linear-gradient(90deg,#bb6e56 0,#c0846b 60px,#bd9c88 108px,#aea9a7 152px,#8899c2 234px,#6d85c3 254px,#5f7ac3 258px,#6982c4 264px,#97a3bf 274px,#b6aba2 282px,#c5997f 292px,#c37a60 312px,#bb634c 342px,#b14838 362px,#c6896f 398px,#c7967c 418px,#c68a70 458px,#c79c83 488px,#bfa696 508px,#c3a08c 530px,#c58167 560px,#be6b53 598px)"></i><i style="left:120px;top:369px;width:598px;height:3px;background:linear-gradient(90deg,#b86c55 0,#bd8269 60px,#ba9a87 108px,#aba6a4 152px,#8697bf 234px,#6c83c1 254px,#5d78c1 258px,#6880c1 264px,#95a1bd 274px,#b5aaa1 282px,#c4967d 294px,#c27a60 312px,#bb624c 342px,#b14637 362px,#bb634c 376px,#c79379 402px,#c89a81 420px,#c68a70 456px,#c79b81 484px,#bcaa9d 508px,#bfa695 526px,#c68d73 550px,#c17259 580px,#be6b53 598px)"></i><i style="left:120px;top:372px;width:598px;height:3px;background:linear-gradient(90deg,#bd6f57 0,#c2856c 60px,#bf9e8a 108px,#b0aba9 152px,#8a9bc4 232px,#6e86c5 254px,#5f7bc5 258px,#6a83c5 264px,#98a4c1 274px,#b7aca3 282px,#c69980 292px,#c37b61 312px,#bb624b 342px,#b04436 362px,#ba5f49 374px,#c79379 398px,#c59f88 416px,#c68b71 454px,#c89a80 480px,#baada3 506px,#bcaa9e 524px,#c79177 550px,#c2745b 578px,#be6b53 598px)"></i><i style="left:120px;top:375px;width:598px;height:3px;background:linear-gradient(90deg,#c07159 0,#c5876d 58px,#c3a08b 106px,#b3aeac 152px,#8c9ec7 232px,#6f88c7 254px,#617cc8 258px,#6b84c8 264px,#99a6c3 274px,#b9aea4 282px,#c79a81 292px,#c47c62 312px,#bb634d 342px,#b04335 362px,#b95d47 372px,#c79177 394px,#c3a18e 412px,#c79b81 430px,#c68c72 454px,#c89b81 480px,#b7b0a8 506px,#baada3 524px,#c79177 550px,#c2745b 578px,#be6b53 598px)"></i><i style="left:120px;top:378px;width:598px;height:3px;background:linear-gradient(90deg,#be7058 0,#c3866c 60px,#c09f8b 108px,#b1acaa 152px,#8b9cc5 232px,#6e87c6 254px,#607bc6 258px,#6a84c6 264px,#98a5c1 274px,#b8ada4 282px,#c69a80 292px,#c47c62 312px,#bb634c 342px,#b04335 360px,#b24a39 366px,#c68c72 390px,#c3a18d 406px,#c2a390 420px,#c68e74 448px,#c7957b 474px,#b5afaa 504px,#b7b0a9 522px,#c7947a 550px,#c2755c 576px,#be6b53 598px)"></i><i style="left:120px;top:381px;width:598px;height:6px;background:linear-gradient(90deg,#b86c55 0,#bc826a 62px,#b99a87 110px,#aba6a4 152px,#8597bf 234px,#6b83c0 254px,#5d78c1 258px,#6880c1 264px,#95a1bd 274px,#b5aaa0 282px,#c4967d 294px,#c27b61 312px,#ba624b 342px,#b04436 362px,#be6a52 376px,#c69c84 398px,#c0a695 414px,#c78f75 446px,#c79379 470px,#bcab9f 494px,#b0adaf 510px,#b9afa6 528px,#c79177 552px,#c2745b 578px,#be6b53 598px)"></i><i style="left:120px;top:387px;width:598px;height:3px;background:linear-gradient(90deg,#be7058 0,#c3866c 60px,#c09f8b 108px,#b1acaa 152px,#8b9cc6 232px,#6e87c6 254px,#607bc6 258px,#6a84c6 264px,#98a5c1 274px,#b8ada4 282px,#c69a80 292px,#c47c62 312px,#bb624c 342px,#b14737 362px,#c06f57 378px,#c69d85 400px,#c0a594 414px,#c78f75 446px,#c7947a 472px,#b7b0a9 500px,#b2aead 518px,#bdaa9d 532px,#c79177 552px,#c2745b 578px,#be6b53 598px)"></i><i style="left:120px;top:390px;width:598px;height:3px;background:linear-gradient(90deg,#c17259 0,#c5876d 58px,#c3a08c 106px,#b3aeac 152px,#8c9ec8 232px,#6f88c8 254px,#617cc8 258px,#6b85c8 264px,#9aa6c3 274px,#b9aea5 282px,#c79b81 292px,#c47c62 312px,#bb614b 344px,#b24a39 362px,#c78f75 392px,#c2a28f 408px,#c4a08b 424px,#c68d73 452px,#c8987e 476px,#b6afaa 506px,#b8afa7 524px,#c79278 550px,#c2745b 578px,#be6b53 598px)"></i><i style="left:120px;top:393px;width:598px;height:3px;background:linear-gradient(90deg,#c07158 0,#c5876d 58px,#c2a08b 106px,#b2aeab 152px,#8c9ec7 232px,#6f87c7 254px,#607cc7 258px,#6b84c7 264px,#99a5c2 274px,#b9aea4 282px,#c79a81 292px,#c47c62 312px,#ba614a 344px,#b34e3b 362px,#c79076 394px,#c3a08c 412px,#c89a80 430px,#c68c72 456px,#c79b82 480px,#b8afa7 506px,#bbaca2 524px,#c79076 550px,#c2745b 578px,#be6b53 598px)"></i><i style="left:120px;top:396px;width:598px;height:3px;background:linear-gradient(90deg,#bb6e56 0,#c0846b 60px,#bd9c88 108px,#aea9a7 152px,#899ac2 232px,#6d85c3 254px,#5f7ac3 258px,#6982c4 264px,#97a3bf 274px,#b6aba2 282px,#c5997f 292px,#c37c62 312px,#ba604a 346px,#b4503c 362px,#c79177 398px,#c69d86 416px,#c68b71 454px,#c89a81 482px,#bbaca1 506px,#bda99b 526px,#c79076 550px,#c1735a 578px,#be6b53 598px)"></i><i style="left:120px;top:399px;width:598px;height:3px;background:linear-gradient(90deg,#b86c55 0,#bd8269 60px,#ba9a87 108px,#aba6a4 152px,#8697bf 234px,#6b83c1 254px,#5d78c1 258px,#6880c1 264px,#95a1bd 274px,#b5aaa1 282px,#c4967d 294px,#c27b61 312px,#b95f49 348px,#b5533f 364px,#c78f75 400px,#c8997f 418px,#c68a70 456px,#c79c83 486px,#bda99b 508px,#c1a492 528px,#c68c72 550px,#c17259 580px,#be6b53 598px)"></i><i style="left:120px;top:402px;width:598px;height:3px;background:linear-gradient(90deg,#bd6f57 0,#c2856c 60px,#bf9e8a 108px,#b0aba9 152px,#8a9bc4 232px,#6e86c5 254px,#5f7bc5 258px,#6a83c5 264px,#98a4c1 274px,#b7aca3 282px,#c69980 292px,#c37c62 312px,#b6543f 364px,#c68d73 402px,#c79278 424px,#c6896f 458px,#c79c83 488px,#c0a594 510px,#c59d86 532px,#c3765d 572px,#be6b53 598px)"></i><i style="left:120px;top:405px;width:598px;height:3px;background:linear-gradient(90deg,#c07159 0,#c5876d 58px,#c3a08b 106px,#b3aeac 152px,#8c9ec8 232px,#6f88c8 254px,#617cc8 258px,#6b85c8 264px,#99a6c3 274px,#b9aea4 282px,#c79a81 292px,#c47c62 312px,#b65641 364px,#c68b71 406px,#c68a70 434px,#c68c72 470px,#c3a18d 510px,#c7947a 540px,#c2745b 576px,#be6b53 598px)"></i><i style="left:120px;top:408px;width:598px;height:3px;background:linear-gradient(90deg,#c17259 0,#c6876d 58px,#c3a08c 106px,#b3aeac 152px,#8d9ec8 232px,#7088c8 254px,#617dc8 258px,#6b85c8 264px,#9aa6c3 274px,#b9aea5 282px,#c89b81 292px,#c47d63 312px,#b75742 364px,#c6876d 410px,#c68b71 470px,#c69d86 510px,#c78f75 542px,#c17259 580px,#be6b53 598px)"></i><i style="left:120px;top:411px;width:598px;height:3px;background:linear-gradient(90deg,#c07158 0,#c5876d 58px,#c2a08b 106px,#b2aeab 152px,#8c9ec7 232px,#6f87c7 254px,#607cc7 258px,#6b84c7 264px,#99a5c2 274px,#b9aea4 282px,#c79a81 292px,#c47c62 312px,#b85944 366px,#c58369 412px,#c68d73 476px,#c89a80 512px,#c5846a 552px,#be6b53 598px)"></i><i style="left:120px;top:414px;width:598px;height:3px;background:linear-gradient(90deg,#bb6e56 0,#c0846b 60px,#bd9c88 108px,#aea9a7 152px,#899ac2 232px,#6d85c3 254px,#5f7ac3 258px,#6982c4 264px,#97a3bf 274px,#b6aba2 282px,#c5997f 292px,#c37c62 312px,#b85a45 366px,#c58066 416px,#c7957b 516px,#be6a53 598px)"></i><i style="left:120px;top:417px;width:598px;height:3px;background:linear-gradient(90deg,#b86c55 0,#bd8269 60px,#ba9a87 108px,#aba6a4 152px,#8697bf 234px,#6b83c1 254px,#5d78c1 258px,#6880c1 264px,#95a1bd 274px,#b5aaa1 282px,#c4967d 294px,#c27b61 312px,#b85b46 366px,#c47e64 420px,#c79278 514px,#be6a53 598px)"></i><i style="left:120px;top:420px;width:598px;height:3px;background:linear-gradient(90deg,#bd6f57 0,#c2856c 60px,#bf9e8a 108px,#b0aba9 152px,#8a9bc4 232px,#6e86c5 254px,#5f7bc5 258px,#6a83c5 264px,#98a4c1 274px,#b7aca3 282px,#c69980 292px,#c37c62 312px,#b95c46 366px,#c47d63 426px,#c78f75 512px,#c3785f 564px,#be6a53 598px)"></i><i style="left:120px;top:423px;width:598px;height:15px;background:linear-gradient(90deg,#c17259 0,#c5876d 58px,#c3a08c 106px,#b3aeac 152px,#8c9ec8 232px,#7088c8 254px,#617cc8 258px,#6b85c8 264px,#9aa6c3 274px,#b9aea5 282px,#c79b81 292px,#c47d63 312px,#b95d48 368px,#c6866c 466px,#c6896f 518px,#be6a53 598px)"></i><i style="left:120px;top:438px;width:598px;height:3px;background:linear-gradient(90deg,#bc6f56 0,#c0846b 60px,#be9c89 108px,#aeaaa7 152px,#899ac3 232px,#6d85c4 254px,#5f7ac4 258px,#6982c4 264px,#97a3c0 274px,#b7aca2 282px,#c59980 292px,#c37c62 312px,#b95e48 368px,#c6876d 476px,#c5866c 526px,#be6a53 598px)"></i><i style="left:120px;top:441px;width:598px;height:3px;background:linear-gradient(90deg,#b46a53 0,#b98068 62px,#b59885 110px,#a7a3a1 154px,#8394bc 234px,#6a81be 254px,#5c76be 258px,#667fbf 264px,#939fbb 274px,#b3a89f 282px,#c2957c 294px,#c17b61 312px,#b95e48 368px,#c6876d 476px,#c5866c 526px,#be6a53 598px)"></i><i style="left:120px;top:444px;width:598px;height:3px;background:linear-gradient(90deg,#b96d55 0,#bd836a 60px,#ba9a87 108px,#aca7a5 152px,#8697c0 234px,#6c83c1 254px,#5e79c2 258px,#6881c2 264px,#96a2be 274px,#b5aaa1 282px,#c4967d 294px,#c27b62 312px,#b95e48 368px,#c6876d 476px,#c5856b 526px,#be6a53 598px)"></i><i style="left:120px;top:447px;width:598px;height:39px;background:linear-gradient(90deg,#c17259 0,#c6876d 58px,#c3a08c 106px,#b3aeac 152px,#8d9ec8 232px,#7088c8 254px,#617cc8 258px,#6b85c8 264px,#9aa6c3 274px,#b9aea5 282px,#c89b81 292px,#c47d63 312px,#b95e48 368px,#c6876d 476px,#c5856b 528px,#be6a53 598px)"></i><i style="left:120px;top:486px;width:598px;height:39px;background:linear-gradient(90deg,#c17259 0,#c6876d 58px,#c3a08c 106px,#b3aeac 152px,#8d9ec8 232px,#7088c8 254px,#617dc8 258px,#6b85c8 264px,#9aa6c3 274px,#b9aea5 282px,#c89b81 292px,#c47d63 312px,#b95e48 368px,#c6876d 476px,#c5856b 528px,#be6a53 598px)"></i><i style="left:120px;top:525px;width:598px;height:39px;background:linear-gradient(90deg,#c17259 0,#c6876d 58px,#c3a08c 106px,#b3aeac 152px,#8d9ec8 232px,#7088c8 254px,#617dc8 258px,#6b85c8 264px,#9aa6c3 274px,#b9aea5 282px,#c89b81 292px,#c47d63 312px,#b95e48 368px,#c6876d 476px,#c5856b 528px,#be6a53 598px)"></i><i style="left:120px;top:564px;width:598px;height:39px;background:linear-gradient(90deg,#c17259 0,#c6876d 58px,#c3a08c 106px,#b3aeac 152px,#8d9ec8 232px,#7088c8 254px,#617dc8 258px,#6b85c8 264px,#9aa6c3 274px,#b9aea5 282px,#c89b81 292px,#c47d63 312px,#b95e48 368px,#c6876d 476px,#c5856b 528px,#be6a53 598px)"></i><i style="left:120px;top:603px;width:598px;height:39px;background:linear-gradient(90deg,#c17259 0,#c6876d 58px,#c3a08c 106px,#b3aeac 152px,#8d9ec8 232px,#7088c8 254px,#617dc8 258px,#6b85c8 264px,#9aa6c3 274px,#b9aea5 282px,#c89b81 292px,#c47d63 312px,#b95e48 368px,#c6876d 476px,#c5856b 528px,#be6a53 598px)"></i><i style="left:112px;top:1478px;width:605px;height:39px;background:linear-gradient(90deg,#c47c62 0,#c3775d 112px,#be6b53 138px,#b85a45 172px,#b95c46 180px,#c78e74 198px,#c1a391 208px,#baaea4 224px,#c0a493 254px,#c3a18e 284px,#b9afa6 318px,#97a5c5 368px,#899bc8 392px,#6f88c8 410px,#99a6c4 430px,#baada3 448px,#c1a391 456px,#c68e74 494px,#c1735a 528px,#b04335 550px,#ab342d 556px,#b65742 564px,#c47b61 586px,#c57f65 604px)"></i><i style="left:112px;top:1517px;width:605px;height:39px;background:linear-gradient(90deg,#c47c62 0,#c3775d 112px,#be6b53 138px,#b85a45 172px,#b95c46 180px,#c78e74 198px,#c1a391 208px,#baaea4 224px,#c0a493 254px,#c3a18e 284px,#b9afa6 318px,#97a5c5 368px,#899bc8 392px,#6f88c8 410px,#99a6c4 430px,#baada3 448px,#c1a391 456px,#c68e74 494px,#c1735a 528px,#b04335 550px,#ab342d 556px,#b65742 564px,#c47b61 586px,#c57f65 604px)"></i><i style="left:112px;top:1556px;width:605px;height:39px;background:linear-gradient(90deg,#c47c62 0,#c3775d 112px,#be6b53 138px,#b85a45 172px,#b95c46 180px,#c78e74 198px,#c1a391 208px,#baaea4 224px,#c0a493 254px,#c3a18e 284px,#b9afa6 318px,#97a5c5 368px,#899bc8 392px,#6f88c8 410px,#99a6c4 430px,#baada3 448px,#c1a391 456px,#c68e74 494px,#c1735a 528px,#b04335 550px,#ab352d 556px,#b75742 564px,#c47b61 586px,#c57f65 604px)"></i><i style="left:112px;top:1595px;width:605px;height:39px;background:linear-gradient(90deg,#c47c62 0,#c3775d 112px,#be6b53 138px,#b85a45 172px,#b95c46 180px,#c78e74 198px,#c1a391 208px,#baaea4 224px,#c0a493 254px,#c3a18e 284px,#b9afa6 318px,#97a5c5 368px,#899bc8 392px,#6f88c8 410px,#99a6c4 430px,#baada3 448px,#c1a391 456px,#c68e74 494px,#c1735a 528px,#b04335 550px,#ab352d 556px,#b75742 564px,#c47b61 586px,#c57f65 604px)"></i><i style="left:112px;top:1634px;width:605px;height:24px;background:linear-gradient(90deg,#c47c62 0,#c3775d 112px,#be6b53 138px,#b85a45 172px,#b95c46 180px,#c78e74 198px,#c1a391 208px,#baaea4 224px,#c0a493 254px,#c3a28e 284px,#b9afa6 318px,#95a4c7 366px,#879ac8 392px,#6e87c8 410px,#98a5c4 430px,#baada3 448px,#c1a391 456px,#c68e74 494px,#c1735a 528px,#b04335 550px,#ab352d 556px,#b75742 564px,#c47b61 586px,#c57f65 604px)"></i><i style="left:112px;top:1658px;width:605px;height:9px;background:linear-gradient(90deg,#c47c62 0,#c3775d 112px,#be6b53 138px,#b85a45 172px,#b95c46 180px,#c78e74 198px,#c1a391 208px,#baaea4 224px,#c0a493 254px,#c2a28e 284px,#b8b0a8 318px,#92a2c8 362px,#8498c8 392px,#6d86c8 410px,#98a5c4 430px,#baada3 448px,#c1a391 456px,#c68e74 494px,#c1735a 528px,#b04335 550px,#ab352d 556px,#b75742 564px,#c47b61 586px,#c57f65 604px)"></i><i style="left:112px;top:1667px;width:605px;height:9px;background:linear-gradient(90deg,#c47c62 0,#c3775d 112px,#be6b53 138px,#b85a45 172px,#b95c46 180px,#c78e74 198px,#c1a391 208px,#baaea4 224px,#c0a493 254px,#c2a28e 284px,#b8b0a8 316px,#8fa1c8 358px,#8196c8 392px,#6c85c8 410px,#98a5c4 430px,#baada3 448px,#c1a391 456px,#c68e74 494px,#c1735a 528px,#b04335 550px,#ab352d 556px,#b75742 564px,#c47b61 586px,#c57f65 604px)"></i><i style="left:112px;top:1676px;width:605px;height:9px;background:linear-gradient(90deg,#c47c62 0,#c3775d 112px,#be6b53 138px,#b85a45 172px,#b95c46 180px,#c78e74 198px,#c1a391 208px,#baaea4 224px,#c0a493 254px,#c2a28e 284px,#b6afaa 318px,#8fa1c8 352px,#8498c8 382px,#788ec8 396px,#6b84c8 410px,#98a5c5 430px,#baada3 448px,#c1a391 456px,#c68e74 494px,#c1735a 528px,#b04335 550px,#ab352d 556px,#b75742 564px,#c47b61 586px,#c57f65 604px)"></i><i style="left:112px;top:1685px;width:605px;height:9px;background:linear-gradient(90deg,#c47c62 0,#c3775d 112px,#be6b53 138px,#b85a45 172px,#b95c46 180px,#c78e74 198px,#c1a391 208px,#baaea4 224px,#c0a493 254px,#c2a28e 284px,#b4afac 318px,#8fa0c8 348px,#8195c8 368px,#7c91c8 392px,#6a83c8 410px,#98a5c5 430px,#baada3 448px,#c1a391 456px,#c68e74 494px,#c1735a 528px,#b04335 550px,#ab352d 556px,#b75742 564px,#c47b61 586px,#c57f65 604px)"></i><i style="left:112px;top:1694px;width:605px;height:33px;background:linear-gradient(90deg,#c47c62 0,#c3775d 112px,#be6b53 138px,#b85a45 172px,#b95c46 180px,#c78e74 198px,#c1a391 208px,#baaea4 224px,#c0a493 254px,#c2a28e 282px,#b4afac 316px,#8ea0c8 346px,#7d92c8 364px,#798fc8 392px,#6983c8 410px,#97a5c5 430px,#baada3 448px,#c1a391 456px,#c68e74 494px,#c1735a 528px,#b04335 550px,#ab352d 556px,#b75742 564px,#c47b61 586px,#c57f65 604px)"></i><i style="left:112px;top:1727px;width:605px;height:9px;background:linear-gradient(90deg,#c47c62 0,#c3775d 112px,#be6b53 138px,#b85a45 172px,#b95c46 180px,#c78e74 198px,#c1a391 208px,#baaea4 224px,#c0a493 254px,#c2a28e 284px,#b4afab 318px,#90a1c8 348px,#8296c8 368px,#7c91c8 392px,#6a84c8 410px,#98a5c5 430px,#baada3 448px,#c1a391 456px,#c68e74 494px,#c1735a 528px,#b04335 550px,#ab352d 556px,#b75742 564px,#c47b61 586px,#c57f65 604px)"></i><i style="left:112px;top:1736px;width:605px;height:9px;background:linear-gradient(90deg,#c47c62 0,#c3775d 112px,#be6b53 138px,#b85a45 172px,#b95c46 180px,#c78e74 198px,#c1a391 208px,#baaea4 224px,#c0a493 254px,#c2a28e 284px,#b6afaa 318px,#8fa0c8 354px,#7d93c8 392px,#6b85c8 410px,#98a5c5 430px,#baada3 448px,#c1a391 456px,#c68e74 494px,#c1735a 528px,#b04335 550px,#ab352d 556px,#b75742 564px,#c47b61 586px,#c57f65 604px)"></i><i style="left:112px;top:1745px;width:605px;height:9px;background:linear-gradient(90deg,#c47c62 0,#c3775d 112px,#be6b53 138px,#b85a45 172px,#b95c46 180px,#c78e74 198px,#c1a391 208px,#baaea4 224px,#c0a493 254px,#c2a28e 284px,#b8b0a8 316px,#90a1c8 358px,#8296c8 392px,#6c85c8 410px,#98a5c4 430px,#baada3 448px,#c1a391 456px,#c68e74 494px,#c1735a 528px,#b04335 550px,#ab352d 556px,#b75742 564px,#c47b61 586px,#c57f65 604px)"></i><i style="left:112px;top:1754px;width:605px;height:3px;background:linear-gradient(90deg,#c47c62 0,#c3775d 112px,#be6b53 138px,#b85a45 172px,#b95c46 180px,#c78e74 198px,#c1a391 208px,#baaea4 224px,#c0a493 254px,#c2a28e 284px,#b8b0a8 318px,#91a2c8 362px,#8397c8 392px,#6d86c8 410px,#98a5c4 430px,#baada3 448px,#c1a391 456px,#c68e74 494px,#c1735a 528px,#b04335 550px,#ab352d 556px,#b75742 564px,#c47b61 586px,#c57f65 604px)"></i><i style="left:112px;top:1757px;width:605px;height:3px;background:linear-gradient(90deg,#c5876d 0,#c48168 122px,#bc6a53 174px,#be7058 182px,#c59f89 202px,#bea89a 212px,#b8aea6 226px,#c0a594 270px,#bea798 292px,#afadb0 326px,#94a3c6 366px,#899bc7 392px,#788ec8 410px,#9da7c0 432px,#b9ada4 448px,#c0a594 460px,#c37f66 528px,#b34d3f 556px,#be6e56 568px,#c5866c 586px,#c58970 604px)"></i><i style="left:112px;top:1760px;width:605px;height:3px;background:linear-gradient(90deg,#c69c84 0,#c8987e 130px,#c68a70 178px,#c3a18d 196px,#baaea4 210px,#b5afaa 228px,#bbaca1 286px,#aeadb0 322px,#9ba6c2 372px,#8fa0c8 404px,#91a2c8 414px,#b3aeac 446px,#bda99b 470px,#c7967c 530px,#c57e64 558px,#c79c83 584px,#c69d86 604px)"></i><i style="left:112px;top:1763px;width:605px;height:3px;background:linear-gradient(90deg,#c69c84 0,#c7977d 134px,#c68d73 178px,#c1a491 198px,#b9afa6 212px,#b3aeac 226px,#7a90c8 226px,#758cc8 380px,#9ca7c1 380px,#94a4c7 412px,#b8afa7 450px,#c7957b 532px,#c57f65 558px,#c79b83 584px,#c59d86 604px)"></i><i style="left:112px;top:1766px;width:605px;height:3px;background:linear-gradient(90deg,#91767a 0,#907074 180px,#898897 214px,#86899b 226px,#6a7cae 226px,#677aae 380px,#7984a6 380px,#7783a8 414px,#8c8591 448px,#8f6e72 534px,#8b5f66 558px,#917579 588px,#91767b 604px)"></i><i style="left:112px;top:1769px;width:605px;height:3px;background:linear-gradient(90deg,#33417a 0,#33417a 226px,#38457c 232px,#33417a 604px)"></i><i style="left:112px;top:1772px;width:605px;height:3px;background:#23358d"></i><i style="left:112px;top:1775px;width:605px;height:3px;background:#97a0ba"></i><i style="left:112px;top:1778px;width:605px;height:6px;background:#c5856b"></i><i style="left:112px;top:1784px;width:605px;height:3px;background:linear-gradient(90deg,#c5856b 0,#c47e65 34px,#bd6c57 52px,#c47e64 74px,#c68a70 142px,#ba9185 174px,#a8858a 190px,#b48e8a 210px,#c2937e 354px,#c5856b 404px,#c27960 430px,#c58167 554px,#c58167 604px)"></i><i style="left:112px;top:1787px;width:605px;height:9px;background:linear-gradient(90deg,#c6876d 0,#c47e64 30px,#b14737 46px,#ab352e 50px,#ae3f33 52px,#b85944 60px,#c07158 76px,#c58268 124px,#c59e87 150px,#b2aead 168px,#8e9fc8 180px,#6882c8 188px,#8ea0c8 204px,#9fa8be 294px,#baada3 354px,#c8987e 394px,#b95e48 424px,#bc644d 432px,#c06f57 448px,#c3795f 528px,#c47a60 604px)"></i><i style="left:112px;top:1796px;width:605px;height:6px;background:linear-gradient(90deg,#c6876d 0,#c47e64 30px,#b14737 46px,#ab352e 50px,#ae3f33 52px,#b85944 60px,#c07158 76px,#c58268 124px,#c69d86 148px,#b3aeac 166px,#90a1c8 180px,#6580c8 188px,#8a9cc8 204px,#9ba6c2 292px,#baada2 356px,#c7967c 396px,#b85b46 426px,#c06e56 444px,#c3795f 526px,#c47a60 604px)"></i><i style="left:112px;top:1802px;width:605px;height:3px;background:linear-gradient(90deg,#c6876d 0,#c47e64 30px,#b14737 46px,#ab352e 50px,#ae3f33 52px,#b85944 60px,#c07158 76px,#c58268 124px,#c59e87 148px,#b2aead 166px,#8e9fc8 180px,#627ec8 188px,#879ac8 204px,#97a5c5 290px,#baada3 356px,#c7967c 396px,#b85b46 426px,#c06e56 444px,#c3795f 526px,#c47a60 604px)"></i><i style="left:112px;top:1805px;width:605px;height:18px;background:linear-gradient(90deg,#c6876d 0,#c47e64 30px,#b14737 46px,#ab352e 50px,#ae3f33 52px,#b85944 60px,#c07158 76px,#c58369 124px,#c59e88 148px,#b3aead 166px,#90a1c8 178px,#5f7bc7 188px,#8296c8 204px,#8fa0c8 282px,#baaea4 356px,#c7967c 396px,#b85b46 426px,#c06f56 446px,#c3795f 526px,#c47a60 604px)"></i><i style="left:112px;top:1823px;width:605px;height:3px;background:linear-gradient(90deg,#c6876d 0,#c47e64 30px,#b14737 46px,#ab352e 50px,#ae3f33 52px,#b85944 60px,#c07158 76px,#c58369 124px,#c59e87 148px,#b4afac 166px,#8d9fc8 180px,#617dc8 188px,#8599c8 204px,#94a4c8 286px,#baada3 356px,#c7967c 396px,#b85b46 426px,#c06e56 444px,#c3795f 526px,#c47a60 604px)"></i><i style="left:112px;top:1826px;width:605px;height:3px;background:linear-gradient(90deg,#c6876d 0,#c47e64 30px,#b14737 46px,#ab352e 50px,#ae3f33 52px,#b85944 60px,#c07158 76px,#c58268 124px,#c59e87 148px,#b2aead 166px,#8fa0c8 180px,#637ec8 188px,#879ac8 204px,#99a6c4 292px,#baada3 356px,#c7967c 396px,#b85b46 426px,#c06e56 444px,#c3795f 526px,#c47a60 604px)"></i><i style="left:112px;top:1829px;width:605px;height:6px;background:linear-gradient(90deg,#c6876d 0,#c47e64 30px,#b14737 46px,#ab352e 50px,#ae3f33 52px,#b85944 60px,#c07158 76px,#c58268 124px,#c69d86 148px,#b3aeac 166px,#91a2c8 180px,#6580c8 188px,#8b9dc8 204px,#9ba6c2 292px,#baada3 354px,#c7967c 396px,#b85b46 426px,#c06e56 444px,#c3795f 526px,#c47a60 604px)"></i><i style="left:112px;top:1835px;width:605px;height:39px;background:linear-gradient(90deg,#c6876d 0,#c47e64 30px,#b14737 46px,#ab352e 50px,#ae3f33 52px,#b85944 60px,#c07058 76px,#c58268 124px,#c59e86 150px,#b3aeac 168px,#8fa0c8 180px,#6a83c8 188px,#90a1c8 204px,#a1a8bc 298px,#baada2 354px,#c8977d 394px,#b95e48 424px,#bc644d 432px,#c06f57 448px,#c3795f 528px,#c47a60 604px)"></i><i style="left:112px;top:1874px;width:605px;height:39px;background:linear-gradient(90deg,#c6876d 0,#c47e64 30px,#b14737 46px,#ab352e 50px,#ae3f33 52px,#b85944 60px,#c07058 76px,#c58268 124px,#c59d86 150px,#b3aeac 168px,#90a1c8 180px,#6a84c8 188px,#91a2c8 204px,#a2a9bb 298px,#baada2 354px,#c8977d 394px,#b95e48 424px,#bc644d 432px,#c06f57 448px,#c3795f 528px,#c47a60 604px)"></i><i style="left:112px;top:1913px;width:605px;height:39px;background:linear-gradient(90deg,#c6876d 0,#c47e64 30px,#b14737 46px,#ab352e 50px,#ae3f33 52px,#b85944 60px,#c07058 76px,#c58268 124px,#c59d86 150px,#b3aeac 168px,#90a1c8 180px,#6a84c8 188px,#91a2c8 204px,#a2a9bb 298px,#baada2 354px,#c8977d 394px,#b95e48 424px,#bc644d 432px,#c06f57 448px,#c3795f 528px,#c47a60 604px)"></i><i style="left:112px;top:1952px;width:605px;height:39px;background:linear-gradient(90deg,#c6876d 0,#c47e64 30px,#b14737 46px,#ab352e 50px,#ae3f33 52px,#b85944 60px,#c07058 76px,#c58268 124px,#c59d86 150px,#b3aeac 168px,#90a1c8 180px,#6a84c8 188px,#91a2c8 204px,#a2a9bb 298px,#baada2 354px,#c8977d 394px,#b95e48 424px,#bc644d 432px,#c06f57 448px,#c3795f 528px,#c47a60 604px)"></i><i style="left:112px;top:1991px;width:605px;height:39px;background:linear-gradient(90deg,#c6876d 0,#c47e64 30px,#b14737 46px,#ab352e 50px,#ae3f33 52px,#b85944 60px,#c07058 76px,#c58268 124px,#c59d86 150px,#b3aeac 168px,#90a1c8 180px,#6a84c8 188px,#91a2c8 204px,#a2a9bb 298px,#baada2 354px,#c8977d 394px,#b95e48 424px,#bc644d 432px,#c06f57 448px,#c3795f 528px,#c47a60 604px)"></i><i style="left:112px;top:2030px;width:605px;height:39px;background:linear-gradient(90deg,#c6876d 0,#c47e64 30px,#b14737 46px,#ab352e 50px,#ae3f33 52px,#b85944 60px,#c07058 76px,#c58268 124px,#c59d86 150px,#b3aeac 168px,#90a1c8 180px,#6a84c8 188px,#91a2c8 204px,#a2a9bb 298px,#baada2 354px,#c8977d 394px,#b95e48 424px,#bc644d 432px,#c06f57 448px,#c3795f 528px,#c47a60 604px)"></i><i style="left:112px;top:2069px;width:605px;height:6px;background:linear-gradient(90deg,#c6876d 0,#c47e64 30px,#b14737 46px,#ab352e 50px,#ae3f33 52px,#b85944 60px,#c07058 76px,#c58268 124px,#c59d86 150px,#b3aeac 168px,#90a1c8 180px,#6a84c8 188px,#91a2c8 204px,#a2a9bb 298px,#baada2 354px,#c8977d 394px,#b95e48 424px,#bc644d 432px,#c06f57 448px,#c3795f 528px,#c47a60 604px)"></i>
<svg width="1395" height="2534" viewBox="0 0 1395 2534" style="position:absolute;left:0;top:0" font-family="Liberation Sans, sans-serif"><defs><linearGradient id="gcw" x1="0" y1="0" x2="1" y2="0"><stop offset="0.000" stop-color="#465dcf"/><stop offset="0.100" stop-color="#6485eb"/><stop offset="0.200" stop-color="#86a9fc"/><stop offset="0.300" stop-color="#a7c4fd"/><stop offset="0.400" stop-color="#c7d6f0"/><stop offset="0.500" stop-color="#e2d9d4"/><stop offset="0.600" stop-color="#f3c6b0"/><stop offset="0.700" stop-color="#f6a789"/><stop offset="0.800" stop-color="#ec8064"/><stop offset="0.900" stop-color="#d44f42"/><stop offset="1.000" stop-color="#b30326"/></linearGradient><linearGradient id="gturbo" x1="0" y1="0" x2="1" y2="0"><stop offset="0.000" stop-color="#30123b"/><stop offset="0.050" stop-color="#3c358b"/><stop offset="0.100" stop-color="#4458cb"/><stop offset="0.150" stop-color="#467af2"/><stop offset="0.200" stop-color="#3e9bfe"/><stop offset="0.250" stop-color="#28bbeb"/><stop offset="0.300" stop-color="#18d5cc"/><stop offset="0.350" stop-color="#20e9ac"/><stop offset="0.400" stop-color="#46f783"/><stop offset="0.450" stop-color="#78fe59"/><stop offset="0.500" stop-color="#a4fc3b"/><stop offset="0.550" stop-color="#c3f133"/><stop offset="0.600" stop-color="#e1dc37"/><stop offset="0.650" stop-color="#f6c23a"/><stop offset="0.700" stop-color="#fda330"/><stop offset="0.750" stop-color="#fa7d20"/><stop offset="0.800" stop-color="#ef5a11"/><stop offset="0.850" stop-color="#dd3c07"/><stop offset="0.900" stop-color="#c32402"/><stop offset="0.950" stop-color="#a01101"/><stop offset="1.000" stop-color="#7a0402"/></linearGradient></defs><text x="365" y="31" font-size="40" font-weight="bold" textLength="738" lengthAdjust="spacingAndGlyphs"><tspan font-style="italic">M</tspan>=0.6, 30° friction angle everywhere</text><text x="403.5" y="1456" font-size="40" font-weight="bold" textLength="685.5" lengthAdjust="spacingAndGlyphs"><tspan font-style="italic">M</tspan>=0.6, 3° friction angle in TF &amp; FZ</text><text x="81.7" y="155.2" font-size="34" text-anchor="middle" fill="#000" >40</text><text x="81.7" y="256.5" font-size="34" text-anchor="middle" fill="#000" >20</text><text x="80.6" y="360.3" font-size="34" text-anchor="middle" fill="#000" >0</text><text x="78.5" y="458.5" font-size="34" text-anchor="middle" fill="#000" >-20</text><text x="76.4" y="561.3" font-size="34" text-anchor="middle" fill="#000" >-40</text><text x="751.5" y="155.4" font-size="34" text-anchor="middle" fill="#000" >40</text><text x="751.5" y="256.4" font-size="34" text-anchor="middle" fill="#000" >20</text><text x="750.7" y="360" font-size="34" text-anchor="middle" fill="#000" >0</text><text x="751.3" y="458.5" font-size="34" text-anchor="middle" fill="#000" >-20</text><text x="749.2" y="561" font-size="34" text-anchor="middle" fill="#000" >-40</text><text x="116.4" y="677.5" font-size="34" text-anchor="middle" fill="#000" >-60</text><text x="213.7" y="677.5" font-size="34" text-anchor="middle" fill="#000" >-40</text><text x="310.6" y="677.5" font-size="34" text-anchor="middle" fill="#000" >-20</text><text x="419.7" y="677.5" font-size="34" text-anchor="middle" fill="#000" >0</text><text x="522" y="677.5" font-size="34" text-anchor="middle" fill="#000" >20</text><text x="616" y="677.5" font-size="34" text-anchor="middle" fill="#000" >40</text><text x="718" y="677.5" font-size="34" text-anchor="middle" fill="#000" >60</text><text x="785.3" y="677.5" font-size="34" text-anchor="middle" fill="#000" >-60</text><text x="882" y="677.5" font-size="34" text-anchor="middle" fill="#000" >-40</text><text x="979" y="677.5" font-size="34" text-anchor="middle" fill="#000" >-20</text><text x="1088" y="677.5" font-size="34" text-anchor="middle" fill="#000" >0</text><text x="1190" y="677.5" font-size="34" text-anchor="middle" fill="#000" >20</text><text x="1284" y="677.5" font-size="34" text-anchor="middle" fill="#000" >40</text><text x="1377.5" y="677.5" font-size="34" text-anchor="middle" fill="#000" >60</text><text x="25" y="349" font-size="33" text-anchor="middle" fill="#000" textLength="260" lengthAdjust="spacingAndGlyphs" transform="rotate(-90 25 349)">Distance in y [km]</text><text x="25" y="1777.7" font-size="33" text-anchor="middle" fill="#000" textLength="260" lengthAdjust="spacingAndGlyphs" transform="rotate(-90 25 1777.7)">Distance in y [km]</text><text x="102.5" y="764.8" font-size="34" text-anchor="end" fill="#000" >0</text><text x="102.5" y="868" font-size="34" text-anchor="end" fill="#000" >10</text><text x="102.5" y="970.3" font-size="34" text-anchor="end" fill="#000" >20</text><text x="102.5" y="1066.3" font-size="34" text-anchor="end" fill="#000" >0</text><text x="102.5" y="1165.9" font-size="34" text-anchor="end" fill="#000" >10</text><text x="102.5" y="1276.8" font-size="34" text-anchor="end" fill="#000" >20</text><text x="25" y="1046.5" font-size="33" text-anchor="middle" fill="#000" textLength="205" lengthAdjust="spacingAndGlyphs" transform="rotate(-90 25 1046.5)">Depth, -z [km]</text><text x="124.8" y="1349.7" font-size="34" text-anchor="middle" fill="#000" >-60</text><text x="222" y="1349.7" font-size="34" text-anchor="middle" fill="#000" >-50</text><text x="318.8" y="1349.7" font-size="34" text-anchor="middle" fill="#000" >-40</text><text x="425.4" y="1349.7" font-size="34" text-anchor="middle" fill="#000" >-30</text><text x="531.7" y="1349.7" font-size="34" text-anchor="middle" fill="#000" >-20</text><text x="637.6" y="1349.7" font-size="34" text-anchor="middle" fill="#000" >-10</text><text x="753.5" y="1349.7" font-size="34" text-anchor="middle" fill="#000" >0</text><text x="855.7" y="1349.7" font-size="34" text-anchor="middle" fill="#000" >10</text><text x="967.8" y="1349.7" font-size="34" text-anchor="middle" fill="#000" >20</text><text x="1069.5" y="1349.7" font-size="34" text-anchor="middle" fill="#000" >30</text><text x="1182" y="1349.7" font-size="34" text-anchor="middle" fill="#000" >40</text><text x="1275.6" y="1349.7" font-size="34" text-anchor="middle" fill="#000" >50</text><text x="1377.5" y="1349.7" font-size="34" text-anchor="middle" fill="#000" >60</text><text x="745.5" y="1388.7" font-size="33" text-anchor="middle" fill="#000" textLength="263" lengthAdjust="spacingAndGlyphs" >Distance in x [km]</text><text x="74.6" y="1581.5" font-size="34" text-anchor="middle" fill="#000" >40</text><text x="74.6" y="1683.6" font-size="34" text-anchor="middle" fill="#000" >20</text><text x="71.2" y="1787.2" font-size="34" text-anchor="middle" fill="#000" >0</text><text x="71.2" y="1887.2" font-size="34" text-anchor="middle" fill="#000" >-20</text><text x="69" y="1991.3" font-size="34" text-anchor="middle" fill="#000" >-40</text><text x="751.2" y="1580.5" font-size="34" text-anchor="middle" fill="#000" >40</text><text x="751.2" y="1682.6" font-size="34" text-anchor="middle" fill="#000" >20</text><text x="747" y="1786.2" font-size="34" text-anchor="middle" fill="#000" >0</text><text x="748" y="1887.2" font-size="34" text-anchor="middle" fill="#000" >-20</text><text x="746" y="1991.3" font-size="34" text-anchor="middle" fill="#000" >-40</text><text x="110" y="2113.5" font-size="34" text-anchor="middle" fill="#000" >-60</text><text x="207.2" y="2113.5" font-size="34" text-anchor="middle" fill="#000" >-40</text><text x="304" y="2113.5" font-size="34" text-anchor="middle" fill="#000" >-20</text><text x="412.8" y="2113.5" font-size="34" text-anchor="middle" fill="#000" >0</text><text x="515.2" y="2113.5" font-size="34" text-anchor="middle" fill="#000" >20</text><text x="608.7" y="2113.5" font-size="34" text-anchor="middle" fill="#000" >40</text><text x="711.3" y="2113.5" font-size="34" text-anchor="middle" fill="#000" >60</text><text x="782.2" y="2113.2" font-size="34" text-anchor="middle" fill="#000" >-60</text><text x="879.2" y="2113.2" font-size="34" text-anchor="middle" fill="#000" >-40</text><text x="976.4" y="2113.2" font-size="34" text-anchor="middle" fill="#000" >-20</text><text x="1084.4" y="2113.2" font-size="34" text-anchor="middle" fill="#000" >0</text><text x="1178" y="2113.2" font-size="34" text-anchor="middle" fill="#000" >20</text><text x="1281" y="2113.2" font-size="34" text-anchor="middle" fill="#000" >40</text><text x="1374.3" y="2113.2" font-size="34" text-anchor="middle" fill="#000" >60</text><text x="95.8" y="2200.4" font-size="34" text-anchor="end" fill="#000" >0</text><text x="95.8" y="2308.2" font-size="34" text-anchor="end" fill="#000" >10</text><text x="95.8" y="2417" font-size="34" text-anchor="end" fill="#000" >20</text><text x="25" y="2321" font-size="33" text-anchor="middle" fill="#000" textLength="206" lengthAdjust="spacingAndGlyphs" transform="rotate(-90 25 2321)">Depth, -z [km]</text><text x="120" y="2491.3" font-size="34" text-anchor="middle" fill="#000" >-60</text><text x="216.8" y="2491.3" font-size="34" text-anchor="middle" fill="#000" >-50</text><text x="314" y="2491.3" font-size="34" text-anchor="middle" fill="#000" >-40</text><text x="420.5" y="2491.3" font-size="34" text-anchor="middle" fill="#000" >-30</text><text x="527" y="2491.3" font-size="34" text-anchor="middle" fill="#000" >-20</text><text x="633.7" y="2491.3" font-size="34" text-anchor="middle" fill="#000" >-10</text><text x="747.4" y="2491.3" font-size="34" text-anchor="middle" fill="#000" >0</text><text x="851" y="2491.3" font-size="34" text-anchor="middle" fill="#000" >10</text><text x="962" y="2491.3" font-size="34" text-anchor="middle" fill="#000" >20</text><text x="1065.5" y="2491.3" font-size="34" text-anchor="middle" fill="#000" >30</text><text x="1177.6" y="2491.3" font-size="34" text-anchor="middle" fill="#000" >40</text><text x="1270.5" y="2491.3" font-size="34" text-anchor="middle" fill="#000" >50</text><text x="1372" y="2491.3" font-size="34" text-anchor="middle" fill="#000" >60</text><text x="731" y="2525" font-size="33" text-anchor="middle" fill="#000" textLength="262" lengthAdjust="spacingAndGlyphs" >Distance in x [km]</text><line x1="493" y1="51" x2="493" y2="331" stroke="#fff" stroke-width="3" /><line x1="346.5" y1="359.5" x2="346.5" y2="642" stroke="#fff" stroke-width="3" /><line x1="121" y1="331" x2="346.5" y2="331" stroke="#000" stroke-width="3" stroke-dasharray="6.5,4.5"/><line x1="121" y1="359.5" x2="346.5" y2="359.5" stroke="#000" stroke-width="3" stroke-dasharray="6.5,4.5"/><line x1="493" y1="331" x2="717" y2="331" stroke="#000" stroke-width="3" stroke-dasharray="6.5,4.5"/><line x1="493" y1="359.5" x2="717" y2="359.5" stroke="#000" stroke-width="3" stroke-dasharray="6.5,4.5"/><line x1="121.5" y1="331" x2="121.5" y2="359.5" stroke="#000" stroke-width="3" stroke-dasharray="5,4"/><line x1="716.5" y1="331" x2="716.5" y2="359.5" stroke="#000" stroke-width="3" stroke-dasharray="5,4"/><rect x="346.5" y="331" width="146.5" height="28.5" fill="none" stroke="#000" stroke-width="3" /><text x="127" y="322" font-size="31" text-anchor="start" fill="#000" textLength="38" lengthAdjust="spacingAndGlyphs" >FZ</text><text x="388" y="322" font-size="31" text-anchor="start" fill="#000" textLength="34" lengthAdjust="spacingAndGlyphs" >TF</text><text x="452" y="322" font-size="31" text-anchor="start" fill="#fff" textLength="29" lengthAdjust="spacingAndGlyphs" >IC</text><text x="505" y="322" font-size="31" text-anchor="start" fill="#fff" textLength="47" lengthAdjust="spacingAndGlyphs" >OC</text><text x="667" y="322" font-size="31" text-anchor="start" fill="#000" textLength="38" lengthAdjust="spacingAndGlyphs" >FZ</text><path d="M388.8,360.0 C389.0,365.0 390.4,377.3 390.2,390.0 C389.9,402.7 388.5,394.7 387.3,436.0 C386.1,477.3 383.7,604.3 383.0,638.0" stroke="#606366" stroke-width="3" fill="none" stroke-linecap="round" stroke-linejoin="round" /><path d="M420.3,361.5 C419.1,366.8 416.5,384.6 413.2,393.0 C409.9,401.4 402.4,408.5 400.3,411.6" stroke="#f8e040" stroke-width="3" fill="none" stroke-linecap="round" stroke-linejoin="round" /><path d="M449.0,361.5 L424.6,410.0" stroke="#606366" stroke-width="3" fill="none" stroke-linecap="round" stroke-linejoin="round" /><path d="M501.5,361.5 L500.0,408.8" stroke="#f8e040" stroke-width="3" fill="none" stroke-linecap="round" stroke-linejoin="round" /><path d="M562.8,355.0 C560.3,359.9 553.6,375.7 548.0,384.4 C542.4,393.1 532.4,403.2 529.3,407.0" stroke="#606366" stroke-width="3" fill="none" stroke-linecap="round" stroke-linejoin="round" /><path d="M598.0,357.0 L598.7,410.0" stroke="#f8e040" stroke-width="3" fill="none" stroke-linecap="round" stroke-linejoin="round" /><path d="M679.0,358.6 C674.3,362.9 659.3,376.2 651.0,384.4 C642.7,392.6 632.7,404.1 629.0,408.0" stroke="#606366" stroke-width="3" fill="none" stroke-linecap="round" stroke-linejoin="round" /><path d="M515.0,416.0 C518.6,418.1 530.3,423.2 536.5,428.9 C542.7,434.6 548.6,440.6 552.2,450.4 C555.8,460.2 557.0,474.0 558.0,487.6 C559.0,501.2 558.4,524.6 558.5,532.0" stroke="#f8e040" stroke-width="3" fill="none" stroke-linecap="round" stroke-linejoin="round" /><path d="M547.0,413.0 C556.7,417.8 593.7,431.3 605.3,441.8 C616.9,452.3 615.0,461.0 616.7,476.0 C618.4,491.0 615.5,522.7 615.3,532.0" stroke="#606366" stroke-width="3" fill="none" stroke-linecap="round" stroke-linejoin="round" /><path d="M613.9,414.0 C619.4,416.5 638.7,423.8 646.8,428.9 C654.9,434.0 659.0,435.8 662.6,444.6 C666.2,453.5 667.5,467.2 668.4,482.0 C669.3,496.8 667.9,524.9 667.8,533.5" stroke="#f8e040" stroke-width="3" fill="none" stroke-linecap="round" stroke-linejoin="round" /><path d="M667.0,409.4 C671.8,412.9 689.4,423.9 695.6,430.3 C701.8,436.7 702.5,430.3 704.2,447.5 C705.9,464.7 705.4,519.2 705.6,533.5" stroke="#606366" stroke-width="3" fill="none" stroke-linecap="round" stroke-linejoin="round" /><rect x="492.5" y="602" width="225.5" height="40" fill="url(#gcw)"/><line x1="562.4" y1="602" x2="562.4" y2="610" stroke="#fff" stroke-width="1" /><line x1="611.7" y1="602" x2="611.7" y2="610" stroke="#fff" stroke-width="1" /><text x="490" y="565.8" font-size="31" text-anchor="start" fill="#000" textLength="221" lengthAdjust="spacingAndGlyphs" >topography [km]</text><text x="559.2" y="597.7" font-size="24" text-anchor="middle" fill="#000" >-3</text><text x="606.9" y="597.7" font-size="24" text-anchor="middle" fill="#000" >-2</text><text x="653.3" y="597.7" font-size="24" text-anchor="middle" fill="#000" >-1</text><text x="705.8" y="597.7" font-size="24" text-anchor="middle" fill="#000" >0</text><line x1="161" y1="600" x2="161" y2="556" stroke="#000" stroke-width="2.5" /><polygon points="155,560 161,544 167,560" fill="#000"/><line x1="161" y1="600" x2="199" y2="600" stroke="#000" stroke-width="2.5" /><polygon points="195,594 211,600 195,606" fill="#000"/><text x="143" y="588" font-size="30" text-anchor="middle" fill="#000" >y</text><text x="179" y="624" font-size="30" text-anchor="middle" fill="#000" >x</text><line x1="220" y1="51" x2="220" y2="59" stroke="#222" stroke-width="1.4" /><line x1="320" y1="51" x2="320" y2="59" stroke="#222" stroke-width="1.4" /><line x1="420" y1="51" x2="420" y2="59" stroke="#222" stroke-width="1.4" /><line x1="520" y1="51" x2="520" y2="59" stroke="#222" stroke-width="1.4" /><line x1="619" y1="51" x2="619" y2="59" stroke="#222" stroke-width="1.4" /><line x1="219.5" y1="642" x2="219.5" y2="634" stroke="#222" stroke-width="1.4" /><line x1="320" y1="642" x2="320" y2="634" stroke="#222" stroke-width="1.4" /><line x1="420" y1="642" x2="420" y2="634" stroke="#222" stroke-width="1.4" /><line x1="492.5" y1="1478" x2="492.5" y2="1758.8" stroke="#fff" stroke-width="3" /><line x1="337.5" y1="1786.4" x2="337.5" y2="2075" stroke="#fff" stroke-width="3" /><line x1="113" y1="1758.8" x2="337.5" y2="1758.8" stroke="#000" stroke-width="3" stroke-dasharray="6.5,4.5"/><line x1="113" y1="1786.4" x2="337.5" y2="1786.4" stroke="#000" stroke-width="3" stroke-dasharray="6.5,4.5"/><line x1="492.5" y1="1758.8" x2="716" y2="1758.8" stroke="#000" stroke-width="3" stroke-dasharray="6.5,4.5"/><line x1="492.5" y1="1786.4" x2="716" y2="1786.4" stroke="#000" stroke-width="3" stroke-dasharray="6.5,4.5"/><line x1="113.5" y1="1758.8" x2="113.5" y2="1786.4" stroke="#000" stroke-width="3" stroke-dasharray="5,4"/><line x1="715.5" y1="1758.8" x2="715.5" y2="1786.4" stroke="#000" stroke-width="3" stroke-dasharray="5,4"/><rect x="337.5" y="1758.8" width="155.0" height="27.600000000000136" fill="none" stroke="#000" stroke-width="3" /><text x="128.7" y="1747.7" font-size="31" text-anchor="start" fill="#000" textLength="39" lengthAdjust="spacingAndGlyphs" >FZ</text><text x="371" y="1747.7" font-size="31" text-anchor="start" fill="#000" textLength="35" lengthAdjust="spacingAndGlyphs" >TF</text><text x="449" y="1747.7" font-size="31" text-anchor="start" fill="#fff" textLength="30" lengthAdjust="spacingAndGlyphs" >IC</text><text x="504" y="1747.7" font-size="31" text-anchor="start" fill="#fff" textLength="46" lengthAdjust="spacingAndGlyphs" >OC</text><text x="661" y="1747.7" font-size="31" text-anchor="start" fill="#000" textLength="39" lengthAdjust="spacingAndGlyphs" >FZ</text><path d="M157.8,1786.0 C157.0,1790.8 154.1,1801.8 152.8,1815.0 C151.6,1828.2 150.9,1839.4 150.3,1865.4 C149.7,1891.4 149.5,1953.2 149.3,1970.8" stroke="#f8e040" stroke-width="3" fill="none" stroke-linecap="round" stroke-linejoin="round" /><path d="M188.0,1787.7 L187.0,1837.8" stroke="#606366" stroke-width="3" fill="none" stroke-linecap="round" stroke-linejoin="round" /><path d="M210.5,1786.0 C211.8,1790.8 214.7,1806.6 218.0,1815.0 C221.3,1823.4 228.5,1832.8 230.6,1836.3" stroke="#f8e040" stroke-width="3" fill="none" stroke-linecap="round" stroke-linejoin="round" /><path d="M260.7,1786.0 L261.7,1835.3" stroke="#606366" stroke-width="3" fill="none" stroke-linecap="round" stroke-linejoin="round" /><path d="M279.8,1786.0 C281.2,1790.0 285.6,1802.2 288.3,1810.0 C291.0,1817.8 294.6,1829.0 295.8,1832.8" stroke="#f8e040" stroke-width="3" fill="none" stroke-linecap="round" stroke-linejoin="round" /><path d="M305.9,1787.7 L305.9,1836.3" stroke="#606366" stroke-width="3" fill="none" stroke-linecap="round" stroke-linejoin="round" /><path d="M298.3,1840.4 C298.7,1848.8 300.0,1852.0 300.8,1890.5 C301.6,1929.0 303.0,2041.1 303.4,2071.2" stroke="#606366" stroke-width="3" fill="none" stroke-linecap="round" stroke-linejoin="round" /><rect x="488" y="2033" width="226.5" height="41" fill="url(#gcw)"/><line x1="555" y1="2033" x2="555" y2="2041" stroke="#fff" stroke-width="1" /><line x1="606" y1="2033" x2="606" y2="2041" stroke="#fff" stroke-width="1" /><line x1="660" y1="2033" x2="660" y2="2041" stroke="#fff" stroke-width="1" /><text x="485.5" y="1993.4" font-size="31" text-anchor="start" fill="#000" textLength="222" lengthAdjust="spacingAndGlyphs" >topography [km]</text><text x="545" y="2028.5" font-size="24" text-anchor="middle" fill="#000" >-3</text><text x="592" y="2028.5" font-size="24" text-anchor="middle" fill="#000" >-2</text><text x="638" y="2028.5" font-size="24" text-anchor="middle" fill="#000" >-1</text><text x="688.5" y="2028.5" font-size="24" text-anchor="middle" fill="#000" >0</text><line x1="153" y1="2041" x2="153" y2="1997" stroke="#000" stroke-width="2.5" /><polygon points="147,2001 153,1985 159,2001" fill="#000"/><line x1="153" y1="2041" x2="191" y2="2041" stroke="#000" stroke-width="2.5" /><polygon points="187,2035 203,2041 187,2047" fill="#000"/><text x="135" y="2029" font-size="30" text-anchor="middle" fill="#000" >y</text><text x="171" y="2065" font-size="30" text-anchor="middle" fill="#000" >x</text><line x1="313.3" y1="1478" x2="313.3" y2="1486" stroke="#222" stroke-width="1.4" /><line x1="365" y1="1478" x2="365" y2="1486" stroke="#222" stroke-width="1.4" /><line x1="416" y1="1478" x2="416" y2="1486" stroke="#222" stroke-width="1.4" /><line x1="466.4" y1="1478" x2="466.4" y2="1486" stroke="#222" stroke-width="1.4" /><line x1="516.6" y1="1478" x2="516.6" y2="1486" stroke="#222" stroke-width="1.4" /><line x1="567" y1="1478" x2="567" y2="1486" stroke="#222" stroke-width="1.4" /><line x1="263" y1="2075" x2="263" y2="2067" stroke="#222" stroke-width="1.4" /><line x1="313" y1="2075" x2="313" y2="2067" stroke="#222" stroke-width="1.4" /><line x1="364" y1="2075" x2="364" y2="2067" stroke="#222" stroke-width="1.4" /><line x1="416" y1="2075" x2="416" y2="2067" stroke="#222" stroke-width="1.4" /><line x1="466" y1="2075" x2="466" y2="2067" stroke="#222" stroke-width="1.4" /><line x1="787" y1="140" x2="1383" y2="140" stroke="#000" stroke-width="2.6" /><line x1="787" y1="297.4" x2="1383" y2="297.4" stroke="#000" stroke-width="2.6" /><text x="791.6" y="133" font-size="28" text-anchor="start" fill="#000" textLength="98" lengthAdjust="spacingAndGlyphs" >y=40km</text><text x="791.6" y="290.6" font-size="28" text-anchor="start" fill="#000" textLength="98" lengthAdjust="spacingAndGlyphs" >y=10km</text><line x1="1157.8" y1="52" x2="1157.8" y2="344.6" stroke="#fff" stroke-width="3.5" /><line x1="1005.8" y1="351.8" x2="1005.8" y2="641" stroke="#fff" stroke-width="3.5" /><rect x="1000" y="342.4" width="169" height="9.2" rx="4.6" fill="none" stroke="#000" stroke-width="2.4" stroke-dasharray="2.2,3.2"/><ellipse cx="1017" cy="347.4" rx="11.5" ry="2.3" fill="#3050c8" stroke="#000" stroke-width="1.4"/><rect x="1058.5" y="343.9" width="52.5" height="6.6" rx="3" fill="#3a62e0" stroke="#000" stroke-width="1.6"/><ellipse cx="1150" cy="346.5" rx="12" ry="2" fill="#3050c8" stroke="#000" stroke-width="1.4"/><path d="M1122.4,52.0 C1122.3,68.3 1122.2,120.3 1122.0,150.0 C1121.8,179.7 1121.4,205.0 1121.0,230.0 C1120.6,255.0 1120.4,284.2 1119.7,300.0 C1119.0,315.8 1118.5,318.0 1117.0,325.0 C1115.5,332.0 1111.5,339.2 1110.4,342.0" stroke="#000" stroke-width="1.6" fill="none" stroke-linecap="round" stroke-linejoin="round" /><path d="M1126.4,52.0 C1126.4,68.3 1126.3,120.3 1126.2,150.0 C1126.1,179.7 1126.0,205.0 1126.0,230.0 C1126.0,255.0 1126.9,283.7 1126.2,300.0 C1125.5,316.3 1123.9,320.8 1122.0,328.0 C1120.1,335.2 1116.2,340.5 1115.0,343.0" stroke="#000" stroke-width="1.6" fill="none" stroke-linecap="round" stroke-linejoin="round" /><path d="M1117.4,52.0 C1117.4,68.3 1117.4,120.3 1117.2,150.0 C1117.0,179.7 1116.4,203.3 1116.0,230.0 C1115.6,256.7 1115.7,293.0 1114.7,310.0 C1113.7,327.0 1111.9,326.8 1110.0,332.0 C1108.1,337.2 1104.4,339.5 1103.3,341.0" stroke="#000" stroke-width="2.6" fill="none" stroke-linecap="round" stroke-linejoin="round" stroke-dasharray="2.2,3.2" stroke-linecap="butt"/><path d="M1131.8,52.0 C1131.8,68.3 1131.7,120.3 1131.6,150.0 C1131.5,179.7 1131.3,203.3 1131.0,230.0 C1130.7,256.7 1131.0,293.0 1129.8,310.0 C1128.6,327.0 1126.3,326.7 1124.0,332.0 C1121.7,337.3 1117.5,340.3 1116.2,342.0" stroke="#000" stroke-width="2.6" fill="none" stroke-linecap="round" stroke-linejoin="round" stroke-dasharray="2.2,3.2" stroke-linecap="butt"/><path d="M1058.8,351.8 C1056.8,354.8 1049.4,363.8 1047.0,370.0 C1044.6,376.2 1045.2,367.3 1044.5,389.0 C1043.8,410.7 1043.4,458.0 1043.0,500.0 C1042.6,542.0 1042.2,617.5 1042.0,641.0" stroke="#000" stroke-width="1.6" fill="none" stroke-linecap="round" stroke-linejoin="round" /><path d="M1066.0,351.8 C1064.0,354.8 1056.5,363.8 1054.0,370.0 C1051.5,376.2 1051.7,367.3 1051.0,389.0 C1050.3,410.7 1050.3,458.0 1050.0,500.0 C1049.7,542.0 1049.2,617.5 1049.0,641.0" stroke="#000" stroke-width="1.6" fill="none" stroke-linecap="round" stroke-linejoin="round" /><path d="M1051.6,352.0 C1050.0,354.7 1044.0,361.8 1042.0,368.0 C1040.0,374.2 1040.2,367.0 1039.5,389.0 C1038.8,411.0 1038.4,458.0 1038.0,500.0 C1037.6,542.0 1037.2,617.5 1037.0,641.0" stroke="#000" stroke-width="2.6" fill="none" stroke-linecap="round" stroke-linejoin="round" stroke-dasharray="2.2,3.2" stroke-linecap="butt"/><path d="M1067.4,352.0 C1066.0,355.0 1060.9,363.8 1059.0,370.0 C1057.1,376.2 1056.7,367.3 1056.0,389.0 C1055.3,410.7 1055.3,458.0 1055.0,500.0 C1054.7,542.0 1054.2,617.5 1054.0,641.0" stroke="#000" stroke-width="2.6" fill="none" stroke-linecap="round" stroke-linejoin="round" stroke-dasharray="2.2,3.2" stroke-linecap="butt"/><text x="1078" y="220" font-size="27" text-anchor="middle" fill="#000" textLength="70.5" lengthAdjust="spacingAndGlyphs" transform="rotate(-90 1078 220) translate(0 9)">inside</text><text x="1198" y="221.5" font-size="27" text-anchor="middle" fill="#000" textLength="87" lengthAdjust="spacingAndGlyphs" transform="rotate(-90 1198 221.5) translate(0 9)">outside</text><line x1="891.7" y1="552.5" x2="1030.2383840802268" y2="414.6941387701644" stroke="#000" stroke-width="3.5" /><polygon points="1043.0,402.0 1035.2,422.5 1022.5,409.7" fill="#000"/><text x="811" y="572" font-size="27.5" text-anchor="start" fill="#000" textLength="156" lengthAdjust="spacingAndGlyphs" >accumulated</text><text x="811" y="596" font-size="27.5" text-anchor="start" fill="#000" textLength="153" lengthAdjust="spacingAndGlyphs" >plastic strain</text><rect x="1066" y="602" width="318" height="40" fill="url(#gturbo)"/><line x1="1215.6" y1="602" x2="1215.6" y2="614" stroke="#222" stroke-width="1" /><line x1="1253.3" y1="602" x2="1253.3" y2="614" stroke="#222" stroke-width="1" /><line x1="1291.2" y1="602" x2="1291.2" y2="614" stroke="#222" stroke-width="1" /><line x1="1329.4" y1="602" x2="1329.4" y2="614" stroke="#222" stroke-width="1" /><line x1="1367.4" y1="602" x2="1367.4" y2="614" stroke="#222" stroke-width="1" /><line x1="1066" y1="602.3" x2="1384" y2="602.3" stroke="#333" stroke-width="0.8" /><text x="1102" y="593.7" font-size="24.5" text-anchor="middle" fill="#000" >0</text><text x="1178" y="593.7" font-size="24.5" text-anchor="middle" fill="#000" >40</text><text x="1254" y="593.7" font-size="24.5" text-anchor="middle" fill="#000" >80</text><text x="1330" y="593.7" font-size="24.5" text-anchor="middle" fill="#000" >120</text><text x="1155" y="560" font-size="27" fill="#000" textLength="120" lengthAdjust="spacingAndGlyphs">σ’<tspan font-size="18" dy="3">xx</tspan><tspan dy="-3"> [MPa]</tspan></text><line x1="1156.5" y1="540" x2="1168" y2="540" stroke="#000" stroke-width="1.6" /><line x1="783" y1="1721.8" x2="1386" y2="1721.8" stroke="#000" stroke-width="2.4" /><text x="791.6" y="1715" font-size="28" text-anchor="start" fill="#000" textLength="98" lengthAdjust="spacingAndGlyphs" >y=10km</text><line x1="1161.4" y1="1477" x2="1161.4" y2="1774" stroke="#fff" stroke-width="3.5" /><line x1="1007.4" y1="1776" x2="1007.4" y2="2073" stroke="#fff" stroke-width="3.5" /><line x1="783" y1="1769.5" x2="1386" y2="1769.5" stroke="#000" stroke-width="2" /><line x1="783" y1="1784.3" x2="1386" y2="1784.3" stroke="#000" stroke-width="2" /><line x1="783" y1="1767.6" x2="1386" y2="1767.6" stroke="#000" stroke-width="2.6" stroke-dasharray="2,2"/><line x1="783" y1="1786.4" x2="1386" y2="1786.4" stroke="#000" stroke-width="2.6" stroke-dasharray="2,2"/><ellipse cx="1165" cy="1777" rx="38" ry="2.2" fill="none" stroke="#000" stroke-width="1.6"/><ellipse cx="1020" cy="1776.5" rx="38" ry="2.2" fill="none" stroke="#000" stroke-width="1.6"/><path d="M1191.4,1477.0 C1191.4,1497.5 1191.2,1567.8 1191.6,1600.0 C1192.0,1632.2 1193.1,1654.7 1194.0,1670.0 C1194.9,1685.3 1195.8,1688.2 1197.0,1692.0 C1198.2,1695.8 1200.0,1693.7 1201.0,1693.0 C1202.0,1692.3 1203.2,1703.5 1203.0,1688.0 C1202.8,1672.5 1200.7,1635.2 1200.0,1600.0 C1199.3,1564.8 1199.2,1497.5 1199.0,1477.0" stroke="#000" stroke-width="1.6" fill="none" stroke-linecap="round" stroke-linejoin="round" /><path d="M1189.5,1770.0 C1189.5,1761.7 1189.2,1731.7 1189.5,1720.0 C1189.8,1708.3 1190.2,1703.8 1191.0,1700.0 C1191.8,1696.2 1193.2,1696.2 1194.0,1697.0 C1194.8,1697.8 1195.3,1692.8 1195.5,1705.0 C1195.7,1717.2 1163.4,1759.2 1195.3,1770.0 C1227.2,1780.8 1355.0,1770.0 1387.0,1770.0" stroke="#000" stroke-width="1.6" fill="none" stroke-linecap="round" stroke-linejoin="round" /><path d="M1187.6,1477.0 C1187.6,1497.5 1187.5,1565.7 1187.6,1600.0 C1187.7,1634.3 1188.3,1666.3 1188.0,1683.0 C1187.7,1699.7 1185.9,1685.5 1185.5,1700.0 C1185.1,1714.5 1185.7,1758.3 1185.7,1770.0" stroke="#000" stroke-width="2.6" fill="none" stroke-linecap="round" stroke-linejoin="round" stroke-dasharray="2.2,3.2" stroke-linecap="butt"/><path d="M1204.2,1477.0 C1204.2,1497.5 1204.2,1566.2 1204.5,1600.0 C1204.8,1633.8 1205.2,1663.3 1206.0,1680.0 C1206.8,1696.7 1209.0,1695.7 1209.0,1700.0 C1209.0,1704.3 1208.0,1703.8 1206.0,1706.0 C1204.0,1708.2 1198.5,1702.7 1197.0,1713.0 C1195.5,1723.3 1197.0,1758.8 1197.0,1768.0" stroke="#000" stroke-width="2.6" fill="none" stroke-linecap="round" stroke-linejoin="round" stroke-dasharray="2.2,3.2" stroke-linecap="butt"/><path d="M1124.5,1738.0 L1125.0,1770.0" stroke="#000" stroke-width="2.6" fill="none" stroke-linecap="round" stroke-linejoin="round" stroke-dasharray="2.2,3.2" stroke-linecap="butt"/><path d="M965.0,2073.0 C964.9,2054.2 964.8,1992.2 964.5,1960.0 C964.2,1927.8 963.4,1897.5 963.5,1880.0 C963.6,1862.5 964.2,1859.5 965.0,1855.0 C965.8,1850.5 967.5,1850.5 968.5,1853.0 C969.5,1855.5 970.1,1852.2 971.0,1870.0 C971.9,1887.8 973.3,1926.2 974.0,1960.0 C974.7,1993.8 974.8,2054.2 975.0,2073.0" stroke="#000" stroke-width="1.6" fill="none" stroke-linecap="round" stroke-linejoin="round" /><path d="M973.0,1784.0 C973.2,1786.7 973.8,1791.0 974.0,1800.0 C974.2,1809.0 974.1,1830.7 974.5,1838.0 C974.9,1845.3 975.8,1844.0 976.5,1844.0 C977.2,1844.0 978.1,1845.3 978.5,1838.0 C978.9,1830.7 978.8,1809.0 979.0,1800.0 C979.2,1791.0 979.8,1786.7 980.0,1784.0" stroke="#000" stroke-width="1.6" fill="none" stroke-linecap="round" stroke-linejoin="round" /><path d="M962.0,2073.0 C961.8,2054.2 961.7,1992.2 961.0,1960.0 C960.3,1927.8 958.7,1900.0 958.0,1880.0 C957.3,1860.0 956.7,1847.5 957.0,1840.0 C957.3,1832.5 957.8,1836.7 960.0,1835.0 C962.2,1833.3 968.2,1835.8 970.0,1830.0 C971.8,1824.2 971.0,1807.3 971.0,1800.0 C971.0,1792.7 970.2,1788.3 970.0,1786.0" stroke="#000" stroke-width="2.6" fill="none" stroke-linecap="round" stroke-linejoin="round" stroke-dasharray="2.2,3.2" stroke-linecap="butt"/><path d="M979.0,2073.0 C979.0,2054.2 979.3,1992.2 979.0,1960.0 C978.7,1927.8 977.4,1896.3 977.0,1880.0 C976.6,1863.7 975.7,1867.0 976.5,1862.0 C977.3,1857.0 980.9,1860.3 982.0,1850.0 C983.1,1839.7 983.0,1810.7 983.0,1800.0 C983.0,1789.3 982.2,1788.3 982.0,1786.0" stroke="#000" stroke-width="2.6" fill="none" stroke-linecap="round" stroke-linejoin="round" stroke-dasharray="2.2,3.2" stroke-linecap="butt"/><path d="M1038.0,1786.5 C1038.2,1790.4 1039.3,1799.2 1039.0,1810.0 C1038.7,1820.8 1036.5,1844.7 1036.0,1851.6" stroke="#000" stroke-width="2.6" fill="none" stroke-linecap="round" stroke-linejoin="round" stroke-dasharray="2.2,3.2" stroke-linecap="butt"/><path d="M1044.0,1786.5 C1043.8,1790.4 1043.8,1799.4 1043.0,1810.0 C1042.2,1820.6 1039.7,1843.3 1039.0,1850.0" stroke="#000" stroke-width="2.6" fill="none" stroke-linecap="round" stroke-linejoin="round" stroke-dasharray="2.2,3.2" stroke-linecap="butt"/><text x="1111" y="1617" font-size="27" text-anchor="middle" fill="#000" textLength="72.5" lengthAdjust="spacingAndGlyphs" transform="rotate(-90 1111 1617) translate(0 9)">inside</text><text x="1236.7" y="1618" font-size="27" text-anchor="middle" fill="#000" textLength="89" lengthAdjust="spacingAndGlyphs" transform="rotate(-90 1236.7 1618) translate(0 9)">outside</text><line x1="884.5" y1="1972" x2="944.7366306545807" y2="1875.9493267642574" stroke="#000" stroke-width="3.5" /><polygon points="954.3,1860.7 951.3,1882.4 936.0,1872.9" fill="#000"/><line x1="916" y1="1973" x2="1019.4447254222512" y2="1825.9230529585218" stroke="#000" stroke-width="3.5" /><polygon points="1029.8,1811.2 1025.7,1832.7 1010.9,1822.4" fill="#000"/><text x="799.8" y="1997" font-size="27.5" text-anchor="start" fill="#000" textLength="156" lengthAdjust="spacingAndGlyphs" >accumulated</text><text x="799.8" y="2021.3" font-size="27.5" text-anchor="start" fill="#000" textLength="153" lengthAdjust="spacingAndGlyphs" >plastic strain</text><rect x="1067.4" y="2034.3" width="319.39999999999986" height="39.200000000000045" fill="url(#gturbo)"/><line x1="1180" y1="2034.3" x2="1180" y2="2046.3" stroke="#222" stroke-width="1" /><line x1="1294" y1="2034.3" x2="1294" y2="2046.3" stroke="#222" stroke-width="1" /><line x1="1332.5" y1="2034.3" x2="1332.5" y2="2046.3" stroke="#222" stroke-width="1" /><line x1="1134" y1="2034.6" x2="1386" y2="2034.6" stroke="#333" stroke-width="0.8" /><text x="1105.6" y="2026" font-size="24.5" text-anchor="middle" fill="#000" >0</text><text x="1185" y="2026" font-size="24.5" text-anchor="middle" fill="#000" >40</text><text x="1257" y="2026" font-size="24.5" text-anchor="middle" fill="#000" >80</text><text x="1332" y="2026" font-size="24.5" text-anchor="middle" fill="#000" >120</text><text x="1155.5" y="1991.3" font-size="27" fill="#000" textLength="118.5" lengthAdjust="spacingAndGlyphs">σ’<tspan font-size="18" dy="3">xx</tspan><tspan dy="-3"> [MPa]</tspan></text><line x1="1157.0" y1="1971.3" x2="1168.5" y2="1971.3" stroke="#000" stroke-width="1.6" /><path d="M113.0,859.6 C137.5,859.4 218.7,859.4 260.0,858.6 C301.3,857.8 327.5,856.8 361.0,854.6 C394.5,852.4 431.2,848.3 461.0,845.5 C490.8,842.7 516.8,839.9 540.0,838.0 C563.2,836.1 579.8,835.1 600.0,834.0 C620.2,832.9 637.5,831.5 661.0,831.5 C684.5,831.5 721.0,832.2 741.0,834.0 C761.0,835.8 772.0,839.8 781.0,842.4 C790.0,845.0 790.8,847.9 795.0,849.4 C799.2,850.9 799.2,852.3 806.0,851.5 C812.8,850.7 823.4,848.3 836.0,844.7 C848.6,841.1 870.2,834.4 881.7,829.8 C893.2,825.2 899.7,819.1 904.7,817.2 C909.7,815.3 907.8,816.0 911.6,818.3 C915.4,820.6 921.2,826.7 927.6,830.9 C934.0,835.1 942.6,839.8 950.0,843.5 C957.4,847.2 965.3,850.4 972.0,853.0 C978.7,855.6 984.8,857.7 990.0,859.0 C995.2,860.3 998.3,861.3 1003.0,861.0 C1007.7,860.7 1011.8,858.5 1018.0,857.0 C1024.2,855.5 1029.7,853.3 1040.0,852.0 C1050.3,850.7 1061.7,849.8 1080.0,849.0 C1098.3,848.2 1099.5,847.1 1150.0,847.0 C1200.5,846.9 1344.2,848.2 1383.0,848.4" stroke="#fff" stroke-width="3" fill="none" stroke-linecap="round" stroke-linejoin="round" /><polygon points="887.5,743.5 918.5,743.5 903.0,765.5" fill="#b01800" stroke="#fff" stroke-width="3" stroke-linejoin="miter"/><g transform="translate(861.4 804) rotate(30.9)"><rect x="-40.0" y="-3.75" width="80" height="7.5" rx="3.75" fill="none" stroke="#000" stroke-width="2"/><rect x="-50.0" y="-8.0" width="100" height="16" rx="8.0" fill="none" stroke="#000" stroke-width="3" stroke-dasharray="2.2,3.2"/></g><text x="717.4" y="814.6" font-size="33" text-anchor="start" fill="#000" textLength="87.2" lengthAdjust="spacingAndGlyphs" >inside</text><text x="961.6" y="814.6" font-size="33" text-anchor="start" fill="#000" textLength="108.1" lengthAdjust="spacingAndGlyphs" >outside</text><text x="1235.6" y="991.4" font-size="36" text-anchor="start" fill="#fff" textLength="129.4" lengthAdjust="spacingAndGlyphs" >y=40km</text><line x1="802" y1="931.6" x2="843.7417522971575" y2="833.2087267281288" stroke="#fff" stroke-width="3" /><polygon points="849.6,819.4 850.3,838.2 835.6,831.9" fill="#fff"/><text x="728.4" y="953" font-size="27.5" text-anchor="start" fill="#fff" textLength="157" lengthAdjust="spacingAndGlyphs" >accumulated</text><text x="728.4" y="978" font-size="27.5" text-anchor="start" fill="#fff" textLength="154" lengthAdjust="spacingAndGlyphs" >plastic strain</text><line x1="802" y1="984" x2="824.7976419959011" y2="1053.0561301184935" stroke="#fff" stroke-width="3" /><polygon points="829.5,1067.3 816.6,1053.7 831.8,1048.6" fill="#fff"/><path d="M113.0,1155.5 C137.7,1155.0 211.3,1153.6 261.0,1152.5 C310.7,1151.4 369.2,1150.7 411.0,1149.0 C452.8,1147.3 478.5,1144.6 512.0,1142.5 C545.5,1140.4 582.8,1137.9 612.0,1136.5 C641.2,1135.1 662.3,1133.9 687.0,1134.0 C711.7,1134.1 742.8,1134.4 760.0,1137.0 C777.2,1139.6 782.2,1146.6 790.0,1149.5 C797.8,1152.4 797.2,1154.9 807.0,1154.5 C816.8,1154.1 837.0,1150.8 849.0,1147.0 C861.0,1143.2 869.4,1137.6 879.0,1132.0 C888.6,1126.4 898.3,1114.8 906.8,1113.6 C915.3,1112.4 921.1,1120.1 930.0,1125.0 C938.9,1129.9 950.8,1137.7 960.0,1143.0 C969.2,1148.3 977.8,1153.8 985.0,1157.0 C992.2,1160.2 998.0,1161.5 1003.0,1162.0 C1008.0,1162.5 1010.5,1161.0 1015.0,1160.0 C1019.5,1159.0 1024.2,1157.2 1030.0,1156.0 C1035.8,1154.8 1038.3,1153.8 1050.0,1153.0 C1061.7,1152.2 1075.0,1151.5 1100.0,1151.0 C1125.0,1150.5 1152.8,1149.8 1200.0,1150.0 C1247.2,1150.2 1352.5,1151.7 1383.0,1152.0" stroke="#fff" stroke-width="3" fill="none" stroke-linecap="round" stroke-linejoin="round" /><polygon points="887.5,1042 918.5,1042 903.0,1063.5" fill="#b01800" stroke="#fff" stroke-width="3" stroke-linejoin="miter"/><g transform="translate(852 1099.7) rotate(32.3)"><rect x="-47.5" y="-3.75" width="95" height="7.5" rx="3.75" fill="none" stroke="#000" stroke-width="2"/><rect x="-56.0" y="-8.0" width="112" height="16" rx="8.0" fill="none" stroke="#000" stroke-width="3" stroke-dasharray="2.2,3.2"/></g><text x="721" y="1114.6" font-size="33" text-anchor="start" fill="#000" textLength="86" lengthAdjust="spacingAndGlyphs" >inside</text><text x="964" y="1114.6" font-size="33" text-anchor="start" fill="#000" textLength="109.7" lengthAdjust="spacingAndGlyphs" >outside</text><text x="1237" y="1293" font-size="36" text-anchor="start" fill="#fff" textLength="129.7" lengthAdjust="spacingAndGlyphs" >y=10km</text><text x="193" y="1149.5" font-size="35" text-anchor="start" fill="#fff" textLength="72.7" lengthAdjust="spacingAndGlyphs" >600°</text><rect x="112" y="1277" width="319.6" height="38" fill="url(#gturbo)"/><line x1="188" y1="1277" x2="188" y2="1289" stroke="#222" stroke-width="1" /><line x1="301.8" y1="1277" x2="301.8" y2="1289" stroke="#222" stroke-width="1" /><line x1="377" y1="1277" x2="377" y2="1289" stroke="#222" stroke-width="1" /><line x1="415" y1="1277" x2="415" y2="1289" stroke="#222" stroke-width="1" /><text x="150.3" y="1270" font-size="24.5" text-anchor="middle" fill="#fff" >0</text><text x="229.6" y="1270" font-size="24.5" text-anchor="middle" fill="#fff" >40</text><text x="302.3" y="1270" font-size="24.5" text-anchor="middle" fill="#fff" >80</text><text x="377.1" y="1270" font-size="24.5" text-anchor="middle" fill="#fff" >120</text><text x="210.5" y="1237" font-size="27" fill="#fff" textLength="120.5" lengthAdjust="spacingAndGlyphs">σ’<tspan font-size="18" dy="3">xx</tspan><tspan dy="-3"> [MPa]</tspan></text><rect x="113.9" y="915.8" width="263.6" height="95.8" fill="#fff"/><path d="M115.8,943.9 C121.3,943.6 139.3,943.2 148.7,941.9 C158.1,940.6 165.6,938.4 172.0,936.0 C178.4,933.6 184.8,929.2 187.4,927.8" stroke="#606060" stroke-width="2.6" fill="none" stroke-linecap="round" stroke-linejoin="round" /><line x1="187.4" y1="927.8" x2="240.6" y2="1001.9" stroke="#606060" stroke-width="2.6" /><path d="M117.7,1001.9 C124.8,1001.2 146.3,1000.0 160.0,998.0 C173.7,996.0 189.6,992.6 200.0,990.0 C210.4,987.4 218.6,983.8 222.3,982.6" stroke="#606060" stroke-width="2.6" fill="none" stroke-linecap="round" stroke-linejoin="round" /><path d="M212.6,960.3 C217.2,958.2 231.3,951.1 240.0,948.0 C248.7,944.9 251.5,943.6 264.8,941.9 C278.1,940.1 302.1,938.3 320.0,937.5 C337.9,936.7 363.6,937.2 372.3,937.1" stroke="#606060" stroke-width="2.6" fill="none" stroke-linecap="round" stroke-linejoin="round" /><path d="M241.6,999.0 C245.0,997.7 254.9,993.1 262.0,991.0 C269.1,988.9 272.9,987.8 284.2,986.5 C295.5,985.2 314.8,983.6 330.0,983.0 C345.2,982.4 367.7,982.7 375.2,982.6" stroke="#606060" stroke-width="2.6" fill="none" stroke-linecap="round" stroke-linejoin="round" /><polyline points="221.3,992.3 188.4,945.8 185.5,960.7" stroke="#f07800" stroke-width="3" fill="none" stroke-linecap="round" stroke-linejoin="round" /><polyline points="203.9,936.1 238.7,982.6 240.0,967.0" stroke="#f07800" stroke-width="3" fill="none" stroke-linecap="round" stroke-linejoin="round" /><polygon points="234.8,920.6 260,920.6 247.4,939" fill="#b01800"/><polyline points="282.3,953.0 242.6,961.9" stroke="#f02010" stroke-width="2" fill="none" stroke-linecap="round" stroke-linejoin="round" /><polyline points="253.2,953.0 242.6,961.9 256.1,966.5" stroke="#f02010" stroke-width="2" fill="none" stroke-linecap="round" stroke-linejoin="round" /><polyline points="288.0,951.0 326.8,948.3" stroke="#f02010" stroke-width="2" fill="none" stroke-linecap="round" stroke-linejoin="round" /><polyline points="314.2,941.9 326.8,948.3 315.2,956.5" stroke="#f02010" stroke-width="2" fill="none" stroke-linecap="round" stroke-linejoin="round" /><polyline points="247.4,988.4 283.2,973.9" stroke="#1070f0" stroke-width="2" fill="none" stroke-linecap="round" stroke-linejoin="round" /><polyline points="269.7,972.3 283.2,973.9 275.5,985.5" stroke="#1070f0" stroke-width="2" fill="none" stroke-linecap="round" stroke-linejoin="round" /><polyline points="336.4,972.3 292.9,973.9" stroke="#1070f0" stroke-width="2" fill="none" stroke-linecap="round" stroke-linejoin="round" /><polyline points="304.5,966.5 292.9,973.9 305.5,980.6" stroke="#1070f0" stroke-width="2" fill="none" stroke-linecap="round" stroke-linejoin="round" /><path d="M109.0,2298.0 C159.3,2296.8 335.5,2292.6 411.0,2290.5 C486.5,2288.4 516.0,2286.6 562.0,2285.5 C608.0,2284.4 654.0,2283.5 687.0,2284.0 C720.0,2284.5 741.2,2285.8 760.0,2288.5 C778.8,2291.2 784.8,2300.2 799.7,2300.4 C814.6,2300.6 835.4,2294.5 849.5,2289.5 C863.6,2284.5 875.7,2275.7 884.4,2270.5 C893.1,2265.3 896.0,2259.6 901.8,2258.6 C907.6,2257.6 903.0,2258.8 919.2,2264.6 C935.4,2270.4 981.5,2290.2 999.0,2293.5 C1016.5,2296.8 1003.1,2287.5 1023.9,2284.5 C1044.7,2281.5 1090.3,2276.3 1123.5,2275.5 C1156.7,2274.7 1180.1,2277.0 1223.0,2279.5 C1265.9,2282.0 1354.7,2288.7 1381.0,2290.5" stroke="#fff" stroke-width="3" fill="none" stroke-linecap="round" stroke-linejoin="round" /><polygon points="887.5,2191.5 918.5,2191.5 903.0,2212" fill="#b01800" stroke="#fff" stroke-width="3" stroke-linejoin="miter"/><g transform="translate(945.4 2240.8) rotate(-32.5)"><rect x="-41.0" y="-3.75" width="82" height="7.5" rx="3.75" fill="none" stroke="#000" stroke-width="2"/><rect x="-50.0" y="-8.0" width="100" height="16" rx="8.0" fill="none" stroke="#000" stroke-width="3" stroke-dasharray="2.2,3.2"/></g><text x="754.8" y="2261" font-size="33" text-anchor="start" fill="#000" textLength="87.2" lengthAdjust="spacingAndGlyphs" >inside</text><text x="998" y="2261" font-size="33" text-anchor="start" fill="#000" textLength="109.6" lengthAdjust="spacingAndGlyphs" >outside</text><text x="1235.6" y="2431.5" font-size="36" text-anchor="start" fill="#fff" textLength="131" lengthAdjust="spacingAndGlyphs" >y=10km</text><line x1="896.8" y1="2378" x2="934.0504573298034" y2="2276.0883714561983" stroke="#fff" stroke-width="3" /><polygon points="939.2,2262.0 940.9,2280.7 925.9,2275.2" fill="#fff"/><text x="815.6" y="2398" font-size="27.5" text-anchor="start" fill="#fff" textLength="157.4" lengthAdjust="spacingAndGlyphs" >accumulated</text><text x="815.6" y="2423" font-size="27.5" text-anchor="start" fill="#fff" textLength="154" lengthAdjust="spacingAndGlyphs" >plastic strain</text><rect x="108.7" y="2416" width="317.6" height="40" fill="url(#gturbo)"/><line x1="146.3" y1="2416" x2="146.3" y2="2428" stroke="#222" stroke-width="1" /><line x1="221.6" y1="2416" x2="221.6" y2="2428" stroke="#222" stroke-width="1" /><line x1="297.3" y1="2416" x2="297.3" y2="2428" stroke="#222" stroke-width="1" /><line x1="335" y1="2416" x2="335" y2="2428" stroke="#222" stroke-width="1" /><line x1="411.2" y1="2416" x2="411.2" y2="2428" stroke="#222" stroke-width="1" /><text x="146.5" y="2409.4" font-size="24.5" text-anchor="middle" fill="#fff" >0</text><text x="225.5" y="2409.4" font-size="24.5" text-anchor="middle" fill="#fff" >40</text><text x="298.4" y="2409.4" font-size="24.5" text-anchor="middle" fill="#fff" >80</text><text x="373" y="2409.4" font-size="24.5" text-anchor="middle" fill="#fff" >120</text><text x="209.5" y="2376.8" font-size="27" fill="#fff" textLength="119" lengthAdjust="spacingAndGlyphs">σ’<tspan font-size="18" dy="3">xx</tspan><tspan dy="-3"> [MPa]</tspan></text><rect x="120" y="51" width="598" height="591" fill="none" stroke="#000" stroke-width="2" /><rect x="786" y="51" width="598" height="591" fill="none" stroke="#000" stroke-width="2" /><rect x="112" y="1478" width="605" height="597" fill="none" stroke="#000" stroke-width="2" /><rect x="782" y="1476" width="605" height="598" fill="none" stroke="#000" stroke-width="2" /><line x1="112.5" y1="709" x2="112.5" y2="1315.5" stroke="#000" stroke-width="1.6" /><line x1="112" y1="1315.3" x2="1384" y2="1315.3" stroke="#222" stroke-width="1.2" /><line x1="112" y1="1013.2" x2="1384" y2="1013.2" stroke="#2a3a90" stroke-width="1.2" /><line x1="1383.5" y1="709" x2="1383.5" y2="1315" stroke="#4060e0" stroke-width="1" /><line x1="108" y1="2455.9" x2="1382" y2="2455.9" stroke="#222" stroke-width="1.2" /><line x1="108.5" y1="2150" x2="108.5" y2="2456" stroke="#4a70e8" stroke-width="1" /><line x1="1381.5" y1="2152" x2="1381.5" y2="2456" stroke="#4060e0" stroke-width="1" /><text x="130" y="95" font-size="38" text-anchor="start" fill="#000" font-weight="bold" >a)</text><text x="796" y="95" font-size="38" text-anchor="start" fill="#000" font-weight="bold" >b)</text><text x="120" y="748" font-size="38" text-anchor="start" fill="#000" font-weight="bold" >c)</text><text x="122" y="1523" font-size="38" text-anchor="start" fill="#000" font-weight="bold" >d)</text><text x="792" y="1522" font-size="38" text-anchor="start" fill="#000" font-weight="bold" >e)</text><text x="118" y="2188" font-size="38" text-anchor="start" fill="#000" font-weight="bold" >f)</text></svg>
</div></body></html>
